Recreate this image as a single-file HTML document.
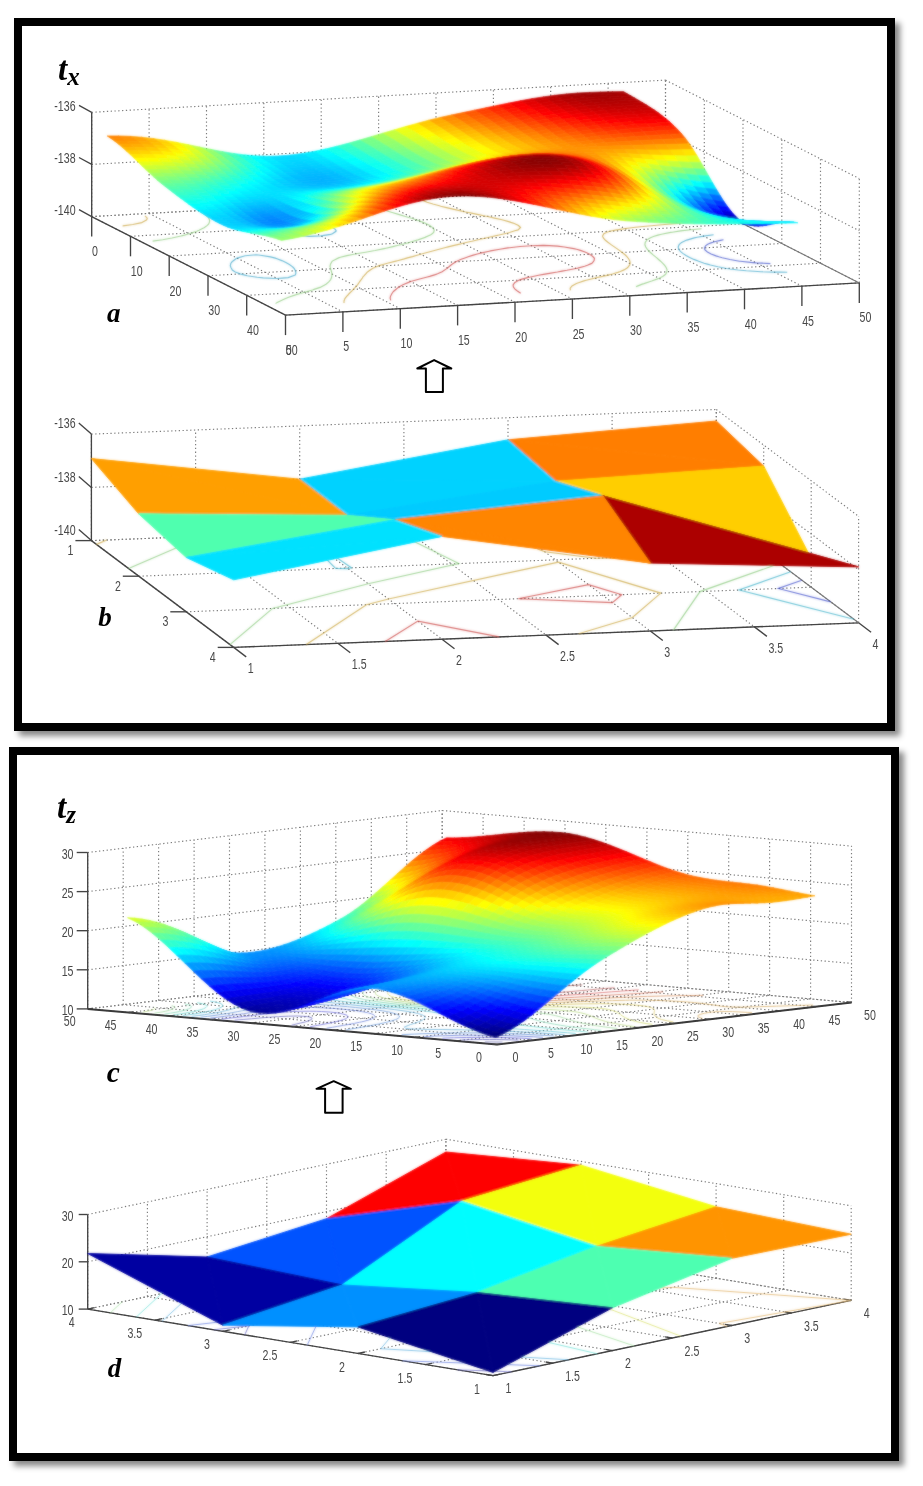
<!DOCTYPE html>
<html><head><meta charset="utf-8"><title>Figure</title>
<style>
html,body{margin:0;padding:0;background:#fff}
body{width:923px;height:1486px;position:relative;overflow:hidden;font-family:"Liberation Sans",sans-serif}
.fr{position:absolute;box-sizing:border-box;border:8.3px solid #000;background:#fff;box-shadow:5px 5px 6px rgba(0,0,0,.47)}
#f1{left:13.5px;top:18px;width:881.5px;height:713px}
#f2{left:9px;top:747.2px;width:889.7px;height:713.6px}
svg{position:absolute;left:0;top:0}
.gd{stroke:#7d7d7d;stroke-width:1.15;stroke-dasharray:1.3 2.5;fill:none}
.ax{stroke:#444;stroke-width:1.35;fill:none}
.ax3{stroke:#3a3a3a;stroke-width:2;fill:none}
.ax2{stroke:#777;stroke-width:1.1;fill:none}
.bi{font-family:"Liberation Serif",serif;font-weight:bold;font-style:italic;fill:#000}
</style></head><body>
<div class="fr" id="f1"></div><div class="fr" id="f2"></div>
<svg width="923" height="1486" viewBox="0 0 923 1486" font-family="Liberation Sans, sans-serif">
<defs><filter id="bl" x="-2%" y="-2%" width="104%" height="104%"><feGaussianBlur stdDeviation="0.8" result="b"/><feComposite in="SourceGraphic" in2="b" operator="arithmetic" k1="0" k2="0.45" k3="0.55" k4="0"/></filter></defs>
<g id="pa"><path class="gd" d="M91.7 216.6L91.7 112.3"/><path class="gd" d="M91.7 216.6L285.5 315.1"/><path class="gd" d="M149.1 213.4L149.1 109.1"/><path class="gd" d="M149.1 213.4L342.9 311.9"/><path class="gd" d="M206.5 210.2L206.5 105.8"/><path class="gd" d="M206.5 210.2L400.3 308.7"/><path class="gd" d="M263.8 206.9L263.8 102.6"/><path class="gd" d="M263.8 206.9L457.6 305.4"/><path class="gd" d="M321.2 203.7L321.2 99.4"/><path class="gd" d="M321.2 203.7L515 302.2"/><path class="gd" d="M378.6 200.5L378.6 96.2"/><path class="gd" d="M378.6 200.5L572.4 299"/><path class="gd" d="M436 197.3L436 93"/><path class="gd" d="M436 197.3L629.8 295.8"/><path class="gd" d="M493.4 194.1L493.4 89.7"/><path class="gd" d="M493.4 194.1L687.2 292.6"/><path class="gd" d="M550.7 190.8L550.7 86.5"/><path class="gd" d="M550.7 190.8L744.5 289.3"/><path class="gd" d="M608.1 187.6L608.1 83.3"/><path class="gd" d="M608.1 187.6L801.9 286.1"/><path class="gd" d="M665.5 184.4L665.5 80.1"/><path class="gd" d="M665.5 184.4L859.3 282.9"/><path class="gd" d="M91.7 216.6L665.5 184.4"/><path class="gd" d="M91.7 164.4L665.5 132.2"/><path class="gd" d="M665.5 132.2L859.3 230.7"/><path class="gd" d="M91.7 112.3L665.5 80.1"/><path class="gd" d="M665.5 80.1L859.3 178.6"/><path class="gd" d="M665.5 184.4L665.5 80.1"/><path class="gd" d="M91.7 216.6L665.5 184.4"/><path class="gd" d="M704.3 204.1L704.3 99.8"/><path class="gd" d="M130.5 236.3L704.3 204.1"/><path class="gd" d="M743 223.8L743 119.5"/><path class="gd" d="M169.2 256L743 223.8"/><path class="gd" d="M781.8 243.5L781.8 139.2"/><path class="gd" d="M208 275.7L781.8 243.5"/><path class="gd" d="M820.5 263.2L820.5 158.9"/><path class="gd" d="M246.7 295.4L820.5 263.2"/><path class="gd" d="M859.3 282.9L859.3 178.6"/><path class="gd" d="M285.5 315.1L859.3 282.9"/><path class="ax" d="M91.7 216.6L91.7 112.3"/><path class="ax" d="M91.7 216.6L285.5 315.1"/><path class="ax" d="M285.5 315.1L859.3 282.9"/><path class="ax2" d="M665.5 184.4L859.3 282.9"/><path class="ax" d="M91.7 216.6l-12.7 -6.9"/><text transform="translate(75.6 215.4) scale(0.76 1)" text-anchor="end" font-size="14" fill="#484848">-140</text><path class="ax" d="M91.7 164.4l-12.7 -6.9"/><text transform="translate(75.6 163.2) scale(0.76 1)" text-anchor="end" font-size="14" fill="#484848">-138</text><path class="ax" d="M91.7 112.3l-12.7 -6.9"/><text transform="translate(75.6 111.1) scale(0.76 1)" text-anchor="end" font-size="14" fill="#484848">-136</text><path class="ax" d="M285.5 315.1v20"/><text transform="translate(285.8 354.6) scale(0.76 1)" text-anchor="start" font-size="14" fill="#484848">0</text><path class="ax" d="M342.9 311.9v20"/><text transform="translate(343.2 351.4) scale(0.76 1)" text-anchor="start" font-size="14" fill="#484848">5</text><path class="ax" d="M400.3 308.7v20"/><text transform="translate(400.6 348.2) scale(0.76 1)" text-anchor="start" font-size="14" fill="#484848">10</text><path class="ax" d="M457.6 305.4v20"/><text transform="translate(457.9 344.9) scale(0.76 1)" text-anchor="start" font-size="14" fill="#484848">15</text><path class="ax" d="M515 302.2v20"/><text transform="translate(515.3 341.7) scale(0.76 1)" text-anchor="start" font-size="14" fill="#484848">20</text><path class="ax" d="M572.4 299v20"/><text transform="translate(572.7 338.5) scale(0.76 1)" text-anchor="start" font-size="14" fill="#484848">25</text><path class="ax" d="M629.8 295.8v20"/><text transform="translate(630.1 335.3) scale(0.76 1)" text-anchor="start" font-size="14" fill="#484848">30</text><path class="ax" d="M687.2 292.6v20"/><text transform="translate(687.5 332.1) scale(0.76 1)" text-anchor="start" font-size="14" fill="#484848">35</text><path class="ax" d="M744.5 289.3v20"/><text transform="translate(744.8 328.8) scale(0.76 1)" text-anchor="start" font-size="14" fill="#484848">40</text><path class="ax" d="M801.9 286.1v20"/><text transform="translate(802.2 325.6) scale(0.76 1)" text-anchor="start" font-size="14" fill="#484848">45</text><path class="ax" d="M859.3 282.9v20"/><text transform="translate(859.6 322.4) scale(0.76 1)" text-anchor="start" font-size="14" fill="#484848">50</text><path class="ax" d="M91.7 216.6v20"/><text transform="translate(92 256.1) scale(0.76 1)" text-anchor="start" font-size="14" fill="#484848">0</text><path class="ax" d="M130.5 236.3v20"/><text transform="translate(130.8 275.8) scale(0.76 1)" text-anchor="start" font-size="14" fill="#484848">10</text><path class="ax" d="M169.2 256v20"/><text transform="translate(169.5 295.5) scale(0.76 1)" text-anchor="start" font-size="14" fill="#484848">20</text><path class="ax" d="M208 275.7v20"/><text transform="translate(208.3 315.2) scale(0.76 1)" text-anchor="start" font-size="14" fill="#484848">30</text><path class="ax" d="M246.7 295.4v20"/><text transform="translate(247 334.9) scale(0.76 1)" text-anchor="start" font-size="14" fill="#484848">40</text><text transform="translate(285.8 354.6) scale(0.76 1)" text-anchor="start" font-size="14" fill="#484848">50</text><g filter="url(#bl)"><path fill="none" stroke="#6170d3" stroke-width="1.15" d="M723.5 239.8L720.5 240.4L714.6 241.7L710.3 243.1L707.3 244.5L705.8 245.6L704.4 247.8L704.9 249.8L705 250L707.4 252L711.1 254L716 255.9L718.8 256.8L722.2 257.8L730 259.5L739.5 261.2L740.3 261.3L752.8 262.6L756.3 262.9L770.4 263.6"/><path fill="none" stroke="#61b6d3" stroke-width="1.15" d="M305.9 221.8L302.8 222.3L295.9 223.2L293.5 225L290.5 227L290.4 227.3L290.2 229.5L290.8 231.7L293.3 233.7L300 235.5L308.9 236.3L320.9 235.9L330.6 234.4L332.4 233.7L336 231.3L336.1 230.7L335.2 229.2L332 227.2L327.1 225.3L323.2 224.2L319.6 223.5L307.6 222L305.9 221.8"/><path fill="none" stroke="#61b6d3" stroke-width="1.15" d="M245.1 255.7L243.5 256.2L237.1 258.1L236 258.8L232.7 261.2L231.9 262L230.8 263.5L230.3 265.7L231 267.8L231.3 268.1L232.3 270L235.2 272L240.1 273.9L245 275.1L247.2 275.7L257.1 277.3L263.2 277.9L275.6 278.5L277.2 278.5L282.1 278.1L288.2 277.6L294.6 275.2L295.4 274.8L295.9 273L295.4 270.8L294.3 268.7L292.8 267L292.3 266.6L289.4 264.6L285.9 262.6L281.8 260.6L277 258.7L275.3 258.1L270.5 256.9L260.4 255.3L256.1 254.8L245.1 255.7"/><path fill="none" stroke="#61b6d3" stroke-width="1.15" d="M713.6 234.7L703.6 236.1L697.2 237.3L694.3 237.9L686.8 240.1L686.2 240.3L681.6 242.6L680.1 243.6L679 244.9L678.2 247.1L678.7 249.3L678.8 249.4L680.3 251.4L682.8 253.4L686 255.4L689.7 257.4L693.9 259.4L698.7 261.3L704.1 263.2L708.2 264.4L710.4 265L717.8 266.8L726.7 268.5L730 269L738.2 270L746.3 270.8L754 271.3L760.8 271.7L774.2 272.1L779.2 272.1L787.2 272.2"/><path fill="none" stroke="#a0d393" stroke-width="1.15" d="M201.3 212.6L204.8 214.6L207.4 216.7L208.1 217.4L209.1 218.8L209.7 220.9L209.1 223.1L208.5 224.1L207.3 225.4L204.1 227.8L203.5 228.1L199 230.3L196.8 231.2L191.9 232.9L189.2 233.8L182.5 235.6L180.9 236L172 238L169.1 238.5L162.7 239.7L152.6 241.1"/><path fill="none" stroke="#a0d393" stroke-width="1.15" d="M701.6 228.7L690.9 229.7L680.5 230.9L672.2 232.2L670.7 232.4L661.5 234.2L657.9 235.1L653.4 236.5L650.5 237.7L647.1 239.8L646.8 240.1L645.2 242.4L644.9 244.6L645.1 245.3L645.6 246.8L647 248.9L648.8 251L651 253L653.4 255.1L655.9 257.1L656.3 257.4L658.3 259.2L660.6 261.2L662.8 263.3L664.7 265.4L666.1 267.5L666.9 269.3L667 269.6L666.9 271.8L665.7 274.1L665 274.8L662.7 276.4L659.1 278.3L657.5 278.9L651.7 281L650.2 281.5L644 283.6L642.2 284.1L636.7 286.4L636 286.7"/><path fill="none" stroke="#a0d393" stroke-width="1.15" d="M275.6 303.6L277.2 302.4L281.8 300.3L282.3 300L287.9 297.5L288.6 297.2L295.4 294.9L296.2 294.6L304.4 292.3L305 292.1L312.6 290L314.1 289.4L320.1 287.4L321 286.9L325.6 284.4L326.3 284L328.5 282.1L330.5 279.8L330.6 279.7L331.5 277.5L331.9 275.3L331.7 273.8L331.8 273.1L331.3 271L330.6 268.8L330.1 266.7L330 266.5L330.4 264.5L331.5 262.2L332.3 261.1L334.4 259.9L338.6 257.9L340.4 257.3L346.9 255.6L352.7 254.5L356.1 253.8L365.6 252.2L370.9 251.2L375 250.5L384.1 248.6L386 248.2L392.9 246.6L398.2 245.3L401.5 244.5L408.8 242.6L409.8 242.3L417.9 239.9L418 239.9L425.4 237.3L425.4 237.2L430.8 234.8L431.8 234L433.7 232.4L434.2 230.2L433.2 228.3L433.1 228.1L430.6 226L427 224L422.5 222.1L417.6 220.3L417.3 220.2L411.6 218.3L405.5 216.5L399.3 214.6L393.1 212.8L387 211L385.6 210.5L381.1 209.1L375.5 207.2L370.4 205.3L366 203.4"/><path fill="none" stroke="#d3b461" stroke-width="1.15" d="M145 215.8L147.1 217.9L147.2 218.9L146.4 220.1L141.9 222.5L141.7 222.6L132.8 224.5L122.9 225.8L122.6 225.8"/><path fill="none" stroke="#d3b461" stroke-width="1.15" d="M689.8 222.7L678.6 223.4L667.5 224.3L656.6 225.2L645.8 226.2L635.3 227.3L629.8 228L625 228.6L615.3 230.1L610 231.3L606.8 232.3L603.8 233.8L602.6 236.1L602.8 236.7L603.5 238.2L605.4 240.3L607.9 242.3L610.7 244.4L613.6 246.4L616.5 248.4L619.4 250.4L622.2 252.5L624.4 254.2L624.8 254.5L626.9 256.6L628.6 258.7L629.7 260.8L630.2 262.9L630.1 263.6L629.5 265.2L627.7 267.5L626.7 268.3L624 269.9L620.3 271.5L617.9 272.4L612.5 274L608 275.1L603.8 276.1L594.9 278L594.9 278.1L586.3 280.2L583.9 280.9L578.5 282.7L576.4 283.5L572 285.9L572 285.9L570.2 288.2L570.4 290.4"/><path fill="none" stroke="#d3b461" stroke-width="1.15" d="M344 303.1L344 300.9L344.5 299.8L344.9 298.6L346.6 296.4L348 295L348.8 294L351.1 291.7L352.2 290.7L353.4 289.4L355.5 287.1L356.2 286.3L357.5 284.8L359.1 282.5L359.7 281.6L360.8 280.2L362.4 278L363 276.8L364.2 275.7L366.2 273.4L367 272.3L368.8 271L372.1 268.7L372.3 268.5L377.7 266.2L379.2 265.6L386.6 263.5L387.4 263.3L395.9 261.1L397.4 260.7L404.3 258.9L407.4 257.9L412.5 256.6L417.1 255.2L420.6 254.3L427 252.5L428.9 252L437.2 249.7L437.2 249.7L445.6 247.5L448.1 246.9L454.2 245.4L459.7 244.1L462.8 243.3L471.6 241.3L471.9 241.2L480.3 239.2L484.8 238.3L489.1 237.2L497.5 235.4L498 235.3L506.6 233.2L509.5 232.5L514.8 230.8L518.1 229.9L520.5 227.5L520 227L518.5 225.5L514.3 223.5L510.9 222.4L508.7 221.6L502 219.8L494.6 218.1L486.6 216.3L485.9 216.2L478.5 214.6L470.1 212.9L464.3 211.7L461.9 211.1L454.1 209.4L446.5 207.6L440.8 206.2L439.4 205.8L432.9 204L427.1 202.2L422.1 200.2"/><path fill="none" stroke="#d36261" stroke-width="1.15" d="M667.6 211.4L655.9 211.9L644 212.3L631.8 212.6L631 212.6L618.9 212.5L605.4 212.1L602.8 212L590.8 211.2L585.6 210.8L575.2 209.7L571.9 209.3L560 207.8L558.2 207.6L549.5 206.2L539.6 204.6L539.6 204.6L530.6 202.9L522.2 201.2L518.4 200.3L514.6 199.4L507.8 197.6L501.9 195.8"/><path fill="none" stroke="#d36261" stroke-width="1.15" d="M390.7 300.4L390.2 298.3L390.3 297.1L390.6 296.1L391.8 293.8L393 292L393.4 291.5L396.1 289.2L397.6 287.9L399.4 286.8L403.5 284.4L403.5 284.4L409.8 281.9L410.6 281.5L418.7 279.2L418.7 279.2L427.3 277L429.7 276.4L435.3 274.6L437.6 273.8L442.1 271.7L442.8 271.3L446.3 268.9L447.6 268L449.2 266.5L452 264.2L452.4 263.9L455.9 261.8L458.5 260.6L461.2 259.3L465.6 257.7L468.2 256.7L473.3 255.1L477.3 254L481.7 252.9L489.2 251.2L490.5 250.9L499.8 249.2L507.8 247.9L509.6 247.7L520 246.5L531.2 245.7L543.3 245.4L549.4 245.6L557.5 246.1L564.3 247L573.7 248.6L576.6 249.3L580.4 250.4L585.6 252.3L589.7 254.3L592.6 256.3L594.4 258.3L594.4 258.4L594.1 260.6L592.4 262.9L591.7 263.4L587.4 265.3L584.6 266.3L577.8 268.1L576 268.5L566.9 270.3L562.1 271.1L557.4 272L547.9 273.6L543.5 274.4L538.5 275.3L529.5 277.2L528.4 277.4L521.2 279.4L519.2 280.1L514.9 282.5L514.7 282.7L513.1 284.8L513.4 287L515 289.1L515.5 289.5L517.4 291.1L520.7 293.2"/><g fill="currentColor" stroke="currentColor" stroke-width="0.7" stroke-linejoin="round"><path color="#a70000" d="M612 91.7l11.5 -0.1 3.8 2.2 -11.4 0.2z"/><path color="#a10000" d="M600.5 92l11.5 -0.3 3.9 2.3 -11.5 0.2z"/><path color="#9e0000" d="M589 92.4l11.5 -0.4 3.9 2.2 -11.5 0.4z"/><path color="#9e0000" d="M577.6 93l11.4 -0.6 3.9 2.2 -11.5 0.7z"/><path color="#a20000" d="M566.1 94l11.5 -1 3.8 2.3 -11.4 1z"/><path color="#ab0000" d="M554.6 95.3l11.5 -1.3 3.9 2.3 -11.5 1.2z"/><path color="#b80000" d="M543.1 96.9l11.5 -1.6 3.9 2.2 -11.5 1.6z"/><path color="#ca0000" d="M531.7 98.7l11.4 -1.8 3.9 2.2 -11.5 1.9z"/><path color="#de0000" d="M520.2 100.8l11.5 -2.1 3.8 2.3 -11.4 2.1z"/><path color="#f40000" d="M508.7 103.1l11.5 -2.3 3.9 2.3 -11.5 2.3z"/><path color="#ff0d00" d="M497.2 105.4l11.5 -2.3 3.9 2.3 -11.5 2.3z"/><path color="#ff2500" d="M485.8 107.8l11.4 -2.4 3.9 2.3 -11.5 2.4z"/><path color="#ff3e00" d="M474.3 110.2l11.5 -2.4 3.8 2.3 -11.4 2.4z"/><path color="#ff5600" d="M462.8 112.6l11.5 -2.4 3.9 2.3 -11.5 2.3z"/><path color="#ff6e00" d="M451.3 115l11.5 -2.4 3.9 2.2 -11.5 2.4z"/><path color="#ff8900" d="M439.9 117.5l11.4 -2.5 3.9 2.2 -11.5 2.6z"/><path color="#ffa700" d="M428.4 120.3l11.5 -2.8 3.8 2.3 -11.4 2.8z"/><path color="#ffc900" d="M416.9 123.4l11.5 -3.1 3.9 2.3 -11.5 3z"/><path color="#ffed00" d="M405.4 126.6l11.5 -3.2 3.9 2.2 -11.5 3.2z"/><path color="#ecff13" d="M394 129.9l11.4 -3.3 3.9 2.2 -11.5 3.3z"/><path color="#c5ff3a" d="M382.5 133.3l11.5 -3.4 3.8 2.2 -11.4 3.4z"/><path color="#9fff60" d="M371 136.7l11.5 -3.4 3.9 2.2 -11.5 3.4z"/><path color="#79ff86" d="M359.5 140.1l11.5 -3.4 3.9 2.2 -11.5 3.3z"/><path color="#55ffaa" d="M348 143.3l11.5 -3.2 3.9 2.1 -11.5 3.2z"/><path color="#34ffcb" d="M336.6 146.3l11.4 -3 3.9 2.1 -11.5 3z"/><path color="#16ffe9" d="M325.1 149.1l11.5 -2.8 3.8 2.1 -11.4 2.7z"/><path color="#00fdff" d="M313.6 151.5l11.5 -2.4 3.9 2 -11.5 2.4z"/><path color="#00eaff" d="M302.1 153.5l11.5 -2 3.9 2 -11.5 2z"/><path color="#00deff" d="M290.7 155l11.4 -1.5 3.9 2 -11.5 1.5z"/><path color="#00d9ff" d="M279.2 155.9l11.5 -0.9 3.8 2 -11.4 1z"/><path color="#00dfff" d="M267.7 156.2l11.5 -0.3 3.9 2.1 -11.5 0.3z"/><path color="#00edff" d="M256.2 155.9l11.5 0.3 3.9 2.1 -11.5 -0.4z"/><path color="#04fffb" d="M244.8 154.9l11.4 1 3.9 2 -11.5 -0.9z"/><path color="#21ffde" d="M233.3 153.4l11.5 1.5 3.8 2.1 -11.4 -1.5z"/><path color="#45ffba" d="M221.8 151.5l11.5 1.9 3.9 2.1 -11.5 -1.9z"/><path color="#6dff92" d="M210.3 149.3l11.5 2.2 3.9 2.1 -11.5 -2.2z"/><path color="#97ff68" d="M198.9 146.9l11.4 2.4 3.9 2.1 -11.5 -2.4z"/><path color="#c2ff3d" d="M187.4 144.5l11.5 2.4 3.8 2.1 -11.4 -2.4z"/><path color="#ebff14" d="M175.9 142.2l11.5 2.3 3.9 2.1 -11.5 -2.3z"/><path color="#ffed00" d="M164.4 140.2l11.5 2 3.9 2.1 -11.5 -2z"/><path color="#ffcc00" d="M153 138.5l11.4 1.7 3.9 2.1 -11.5 -1.7z"/><path color="#ffb200" d="M141.5 137.2l11.5 1.3 3.8 2.1 -11.4 -1.2z"/><path color="#ff9d00" d="M130 136.3l11.5 0.9 3.9 2.2 -11.5 -0.7z"/><path color="#ff8e00" d="M118.5 135.9l11.5 0.4 3.9 2.4 -11.5 -0.4z"/><path color="#ff8500" d="M107.1 135.9l11.4 0 3.9 2.4 -11.5 0.1z"/><path color="#ab0000" d="M615.9 94l11.4 -0.2 3.9 2.2 -11.5 0.2z"/><path color="#a50000" d="M604.4 94.2l11.5 -0.2 3.8 2.2 -11.4 0.3z"/><path color="#a20000" d="M592.9 94.6l11.5 -0.4 3.9 2.3 -11.5 0.4z"/><path color="#a20000" d="M581.4 95.3l11.5 -0.7 3.9 2.3 -11.5 0.7z"/><path color="#a60000" d="M570 96.3l11.4 -1 3.9 2.3 -11.5 1z"/><path color="#af0000" d="M558.5 97.5l11.5 -1.2 3.8 2.3 -11.4 1.3z"/><path color="#bd0000" d="M547 99.1l11.5 -1.6 3.9 2.4 -11.5 1.6z"/><path color="#ce0000" d="M535.5 101l11.5 -1.9 3.9 2.4 -11.5 1.9z"/><path color="#e20000" d="M524.1 103.1l11.4 -2.1 3.9 2.4 -11.5 2.1z"/><path color="#f90000" d="M512.6 105.4l11.5 -2.3 3.8 2.4 -11.4 2.3z"/><path color="#ff1100" d="M501.1 107.7l11.5 -2.3 3.9 2.4 -11.5 2.3z"/><path color="#ff2a00" d="M489.6 110.1l11.5 -2.4 3.9 2.4 -11.5 2.4z"/><path color="#ff4200" d="M478.2 112.5l11.4 -2.4 3.9 2.4 -11.5 2.4z"/><path color="#ff5a00" d="M466.7 114.8l11.5 -2.3 3.8 2.4 -11.4 2.4z"/><path color="#ff7200" d="M455.2 117.2l11.5 -2.4 3.9 2.5 -11.5 2.3z"/><path color="#ff8d00" d="M443.7 119.8l11.5 -2.6 3.9 2.4 -11.5 2.5z"/><path color="#ffab00" d="M432.3 122.6l11.4 -2.8 3.9 2.3 -11.5 2.8z"/><path color="#ffcc00" d="M420.8 125.6l11.5 -3 3.8 2.3 -11.4 3z"/><path color="#fff000" d="M409.3 128.8l11.5 -3.2 3.9 2.3 -11.5 3.2z"/><path color="#e9ff16" d="M397.8 132.1l11.5 -3.3 3.9 2.3 -11.5 3.3z"/><path color="#c3ff3c" d="M386.4 135.5l11.4 -3.4 3.9 2.3 -11.5 3.4z"/><path color="#9dff62" d="M374.9 138.9l11.5 -3.4 3.8 2.3 -11.4 3.3z"/><path color="#77ff88" d="M363.4 142.2l11.5 -3.3 3.9 2.2 -11.5 3.3z"/><path color="#54ffab" d="M351.9 145.4l11.5 -3.2 3.9 2.2 -11.5 3.2z"/><path color="#33ffcc" d="M340.4 148.4l11.5 -3 3.9 2.2 -11.5 3z"/><path color="#15ffea" d="M329 151.1l11.4 -2.7 3.9 2.2 -11.5 2.7z"/><path color="#00fcff" d="M317.5 153.5l11.5 -2.4 3.8 2.2 -11.4 2.4z"/><path color="#00e9ff" d="M306 155.5l11.5 -2 3.9 2.2 -11.5 2z"/><path color="#00ddff" d="M294.5 157l11.5 -1.5 3.9 2.2 -11.5 1.5z"/><path color="#00d9ff" d="M283.1 158l11.4 -1 3.9 2.2 -11.5 0.9z"/><path color="#00ddff" d="M271.6 158.3l11.5 -0.3 3.8 2.1 -11.4 0.3z"/><path color="#00ebff" d="M260.1 157.9l11.5 0.4 3.9 2.1 -11.5 -0.3z"/><path color="#03fffc" d="M248.6 157l11.5 0.9 3.9 2.2 -11.5 -0.9z"/><path color="#20ffdf" d="M237.2 155.5l11.4 1.5 3.9 2.2 -11.5 -1.5z"/><path color="#44ffbb" d="M225.7 153.6l11.5 1.9 3.8 2.2 -11.4 -1.8z"/><path color="#6cff93" d="M214.2 151.4l11.5 2.2 3.9 2.3 -11.5 -2.2z"/><path color="#96ff69" d="M202.7 149l11.5 2.4 3.9 2.3 -11.5 -2.4z"/><path color="#c1ff3e" d="M191.3 146.6l11.4 2.4 3.9 2.3 -11.5 -2.4z"/><path color="#eaff15" d="M179.8 144.3l11.5 2.3 3.8 2.3 -11.4 -2.2z"/><path color="#ffef00" d="M168.3 142.3l11.5 2 3.9 2.4 -11.5 -2z"/><path color="#ffd000" d="M156.8 140.6l11.5 1.7 3.9 2.4 -11.5 -1.6z"/><path color="#ffb600" d="M145.4 139.4l11.4 1.2 3.9 2.5 -11.5 -1.1z"/><path color="#ffa200" d="M133.9 138.7l11.5 0.7 3.8 2.6 -11.4 -0.7z"/><path color="#ff9400" d="M122.4 138.3l11.5 0.4 3.9 2.6 -11.5 -0.2z"/><path color="#ff8d00" d="M110.9 138.4l11.5 -0.1 3.9 2.8 -11.5 0.1z"/><path color="#ae0000" d="M619.7 96.2l11.5 -0.2 3.9 2.2 -11.5 0.3z"/><path color="#a90000" d="M608.3 96.5l11.4 -0.3 3.9 2.3 -11.5 0.3z"/><path color="#a60000" d="M596.8 96.9l11.5 -0.4 3.8 2.3 -11.4 0.5z"/><path color="#a70000" d="M585.3 97.6l11.5 -0.7 3.9 2.4 -11.5 0.7z"/><path color="#ac0000" d="M573.8 98.6l11.5 -1 3.9 2.4 -11.5 1z"/><path color="#b50000" d="M562.4 99.9l11.4 -1.3 3.9 2.4 -11.5 1.4z"/><path color="#c20000" d="M550.9 101.5l11.5 -1.6 3.8 2.5 -11.4 1.6z"/><path color="#d40000" d="M539.4 103.4l11.5 -1.9 3.9 2.5 -11.5 1.9z"/><path color="#e80000" d="M527.9 105.5l11.5 -2.1 3.9 2.5 -11.5 2.1z"/><path color="#ff0000" d="M516.5 107.8l11.4 -2.3 3.9 2.5 -11.5 2.3z"/><path color="#ff1700" d="M505 110.1l11.5 -2.3 3.8 2.5 -11.4 2.3z"/><path color="#ff3000" d="M493.5 112.5l11.5 -2.4 3.9 2.5 -11.5 2.4z"/><path color="#ff4800" d="M482 114.9l11.5 -2.4 3.9 2.5 -11.5 2.4z"/><path color="#ff6000" d="M470.6 117.3l11.4 -2.4 3.9 2.5 -11.5 2.4z"/><path color="#ff7800" d="M459.1 119.6l11.5 -2.3 3.8 2.5 -11.4 2.3z"/><path color="#ff9300" d="M447.6 122.1l11.5 -2.5 3.9 2.5 -11.5 2.6z"/><path color="#ffb000" d="M436.1 124.9l11.5 -2.8 3.9 2.6 -11.5 2.7z"/><path color="#ffd100" d="M424.7 127.9l11.4 -3 3.9 2.5 -11.5 3z"/><path color="#fff500" d="M413.2 131.1l11.5 -3.2 3.8 2.5 -11.4 3.2z"/><path color="#e4ff1b" d="M401.7 134.4l11.5 -3.3 3.9 2.5 -11.5 3.2z"/><path color="#bfff40" d="M390.2 137.8l11.5 -3.4 3.9 2.4 -11.5 3.3z"/><path color="#99ff66" d="M378.8 141.1l11.4 -3.3 3.9 2.3 -11.5 3.4z"/><path color="#74ff8b" d="M367.3 144.4l11.5 -3.3 3.8 2.4 -11.4 3.2z"/><path color="#50ffaf" d="M355.8 147.6l11.5 -3.2 3.9 2.3 -11.5 3.2z"/><path color="#30ffcf" d="M344.3 150.6l11.5 -3 3.9 2.3 -11.5 2.9z"/><path color="#13ffec" d="M332.8 153.3l11.5 -2.7 3.9 2.2 -11.5 2.7z"/><path color="#00f9ff" d="M321.4 155.7l11.4 -2.4 3.9 2.2 -11.5 2.4z"/><path color="#00e6ff" d="M309.9 157.7l11.5 -2 3.8 2.2 -11.4 2z"/><path color="#00daff" d="M298.4 159.2l11.5 -1.5 3.9 2.2 -11.5 1.5z"/><path color="#00d6ff" d="M286.9 160.1l11.5 -0.9 3.9 2.2 -11.5 1z"/><path color="#00dbff" d="M275.5 160.4l11.4 -0.3 3.9 2.3 -11.5 0.3z"/><path color="#00e8ff" d="M264 160.1l11.5 0.3 3.8 2.3 -11.4 -0.3z"/><path color="#00feff" d="M252.5 159.2l11.5 0.9 3.9 2.3 -11.5 -0.9z"/><path color="#1cffe3" d="M241 157.7l11.5 1.5 3.9 2.3 -11.5 -1.4z"/><path color="#40ffbf" d="M229.6 155.9l11.4 1.8 3.9 2.4 -11.5 -1.8z"/><path color="#67ff98" d="M218.1 153.7l11.5 2.2 3.8 2.4 -11.4 -2.1z"/><path color="#91ff6e" d="M206.6 151.3l11.5 2.4 3.9 2.5 -11.5 -2.3z"/><path color="#bcff43" d="M195.1 148.9l11.5 2.4 3.9 2.6 -11.5 -2.4z"/><path color="#e4ff1b" d="M183.7 146.7l11.4 2.2 3.9 2.6 -11.5 -2.2z"/><path color="#fff600" d="M172.2 144.7l11.5 2 3.8 2.6 -11.4 -1.8z"/><path color="#ffd700" d="M160.7 143.1l11.5 1.6 3.9 2.8 -11.5 -1.5z"/><path color="#ffbe00" d="M149.2 142l11.5 1.1 3.9 2.9 -11.5 -1.1z"/><path color="#ffac00" d="M137.8 141.3l11.4 0.7 3.9 2.9 -11.5 -0.6z"/><path color="#ff9f00" d="M126.3 141.1l11.5 0.2 3.8 3 -11.4 -0.2z"/><path color="#ff9800" d="M114.8 141.2l11.5 -0.1 3.9 3 -11.5 0.2z"/><path color="#b20000" d="M623.6 98.5l11.5 -0.3 3.9 2.3 -11.5 0.3z"/><path color="#ae0000" d="M612.1 98.8l11.5 -0.3 3.9 2.3 -11.5 0.3z"/><path color="#ac0000" d="M600.7 99.3l11.4 -0.5 3.9 2.3 -11.5 0.6z"/><path color="#ad0000" d="M589.2 100l11.5 -0.7 3.8 2.4 -11.4 0.8z"/><path color="#b20000" d="M577.7 101l11.5 -1 3.9 2.5 -11.5 1z"/><path color="#bc0000" d="M566.2 102.4l11.5 -1.4 3.9 2.5 -11.5 1.4z"/><path color="#ca0000" d="M554.8 104l11.4 -1.6 3.9 2.5 -11.5 1.7z"/><path color="#db0000" d="M543.3 105.9l11.5 -1.9 3.8 2.6 -11.4 1.9z"/><path color="#f00000" d="M531.8 108l11.5 -2.1 3.9 2.6 -11.5 2.1z"/><path color="#ff0700" d="M520.3 110.3l11.5 -2.3 3.9 2.6 -11.5 2.3z"/><path color="#ff1f00" d="M508.9 112.6l11.4 -2.3 3.9 2.6 -11.5 2.3z"/><path color="#ff3700" d="M497.4 115l11.5 -2.4 3.8 2.6 -11.4 2.4z"/><path color="#ff5000" d="M485.9 117.4l11.5 -2.4 3.9 2.6 -11.5 2.4z"/><path color="#ff6800" d="M474.4 119.8l11.5 -2.4 3.9 2.6 -11.5 2.4z"/><path color="#ff8000" d="M463 122.1l11.4 -2.3 3.9 2.6 -11.5 2.4z"/><path color="#ff9a00" d="M451.5 124.7l11.5 -2.6 3.8 2.7 -11.4 2.5z"/><path color="#ffb800" d="M440 127.4l11.5 -2.7 3.9 2.6 -11.5 2.7z"/><path color="#ffd800" d="M428.5 130.4l11.5 -3 3.9 2.6 -11.5 3z"/><path color="#fffb00" d="M417.1 133.6l11.4 -3.2 3.9 2.6 -11.5 3.1z"/><path color="#deff21" d="M405.6 136.8l11.5 -3.2 3.8 2.5 -11.4 3.2z"/><path color="#b9ff46" d="M394.1 140.1l11.5 -3.3 3.9 2.5 -11.5 3.3z"/><path color="#93ff6c" d="M382.6 143.5l11.5 -3.4 3.9 2.5 -11.5 3.3z"/><path color="#6fff90" d="M371.2 146.7l11.4 -3.2 3.9 2.4 -11.5 3.2z"/><path color="#4cffb3" d="M359.7 149.9l11.5 -3.2 3.8 2.4 -11.4 3.1z"/><path color="#2bffd4" d="M348.2 152.8l11.5 -2.9 3.9 2.3 -11.5 3z"/><path color="#0ffff0" d="M336.7 155.5l11.5 -2.7 3.9 2.4 -11.5 2.7z"/><path color="#00f5ff" d="M325.2 157.9l11.5 -2.4 3.9 2.4 -11.5 2.3z"/><path color="#00e3ff" d="M313.8 159.9l11.4 -2 3.9 2.3 -11.5 2z"/><path color="#00d6ff" d="M302.3 161.4l11.5 -1.5 3.8 2.3 -11.4 1.5z"/><path color="#00d2ff" d="M290.8 162.4l11.5 -1 3.9 2.3 -11.5 1z"/><path color="#00d6ff" d="M279.3 162.7l11.5 -0.3 3.9 2.3 -11.5 0.4z"/><path color="#00e4ff" d="M267.9 162.4l11.4 0.3 3.9 2.4 -11.5 -0.3z"/><path color="#00f9ff" d="M256.4 161.5l11.5 0.9 3.8 2.4 -11.4 -0.8z"/><path color="#16ffe9" d="M244.9 160.1l11.5 1.4 3.9 2.5 -11.5 -1.3z"/><path color="#39ffc6" d="M233.4 158.3l11.5 1.8 3.9 2.6 -11.5 -1.8z"/><path color="#60ff9f" d="M222 156.2l11.4 2.1 3.9 2.6 -11.5 -2z"/><path color="#89ff76" d="M210.5 153.9l11.5 2.3 3.8 2.7 -11.4 -2.3z"/><path color="#b3ff4c" d="M199 151.5l11.5 2.4 3.9 2.7 -11.5 -2.2z"/><path color="#daff25" d="M187.5 149.3l11.5 2.2 3.9 2.9 -11.5 -2.1z"/><path color="#fdff02" d="M176.1 147.5l11.4 1.8 3.9 3 -11.5 -1.8z"/><path color="#ffe300" d="M164.6 146l11.5 1.5 3.8 3 -11.4 -1.4z"/><path color="#ffcb00" d="M153.1 144.9l11.5 1.1 3.9 3.1 -11.5 -1z"/><path color="#ffb900" d="M141.6 144.3l11.5 0.6 3.9 3.2 -11.5 -0.6z"/><path color="#ffad00" d="M130.2 144.1l11.4 0.2 3.9 3.2 -11.5 -0.2z"/><path color="#ffa700" d="M118.7 144.3l11.5 -0.2 3.8 3.2 -11.4 0.3z"/><path color="#b70000" d="M627.5 100.8l11.5 -0.3 3.9 2.3 -11.5 0.3z"/><path color="#b30000" d="M616 101.1l11.5 -0.3 3.9 2.3 -11.5 0.4z"/><path color="#b20000" d="M604.5 101.7l11.5 -0.6 3.9 2.4 -11.5 0.7z"/><path color="#b40000" d="M593.1 102.5l11.4 -0.8 3.9 2.5 -11.5 0.8z"/><path color="#b90000" d="M581.6 103.5l11.5 -1 3.8 2.5 -11.4 1.1z"/><path color="#c40000" d="M570.1 104.9l11.5 -1.4 3.9 2.6 -11.5 1.4z"/><path color="#d20000" d="M558.6 106.6l11.5 -1.7 3.9 2.6 -11.5 1.7z"/><path color="#e40000" d="M547.2 108.5l11.4 -1.9 3.9 2.6 -11.5 2z"/><path color="#f90000" d="M535.7 110.6l11.5 -2.1 3.8 2.7 -11.4 2.1z"/><path color="#ff1000" d="M524.2 112.9l11.5 -2.3 3.9 2.7 -11.5 2.3z"/><path color="#ff2800" d="M512.7 115.2l11.5 -2.3 3.9 2.7 -11.5 2.3z"/><path color="#ff4000" d="M501.3 117.6l11.4 -2.4 3.9 2.7 -11.5 2.4z"/><path color="#ff5900" d="M489.8 120l11.5 -2.4 3.8 2.7 -11.4 2.4z"/><path color="#ff7100" d="M478.3 122.4l11.5 -2.4 3.9 2.7 -11.5 2.4z"/><path color="#ff8900" d="M466.8 124.8l11.5 -2.4 3.9 2.7 -11.5 2.3z"/><path color="#ffa300" d="M455.4 127.3l11.4 -2.5 3.9 2.6 -11.5 2.5z"/><path color="#ffc000" d="M443.9 130l11.5 -2.7 3.8 2.6 -11.4 2.8z"/><path color="#ffe100" d="M432.4 133l11.5 -3 3.9 2.7 -11.5 2.9z"/><path color="#fbff04" d="M420.9 136.1l11.5 -3.1 3.9 2.6 -11.5 3.1z"/><path color="#d7ff28" d="M409.5 139.3l11.4 -3.2 3.9 2.6 -11.5 3.2z"/><path color="#b2ff4d" d="M398 142.6l11.5 -3.3 3.8 2.6 -11.4 3.2z"/><path color="#8dff72" d="M386.5 145.9l11.5 -3.3 3.9 2.5 -11.5 3.3z"/><path color="#69ff96" d="M375 149.1l11.5 -3.2 3.9 2.5 -11.5 3.2z"/><path color="#46ffb9" d="M363.6 152.2l11.4 -3.1 3.9 2.5 -11.5 3.1z"/><path color="#26ffd9" d="M352.1 155.2l11.5 -3 3.8 2.5 -11.4 2.9z"/><path color="#0afff5" d="M340.6 157.9l11.5 -2.7 3.9 2.4 -11.5 2.6z"/><path color="#00f1ff" d="M329.1 160.2l11.5 -2.3 3.9 2.3 -11.5 2.4z"/><path color="#00deff" d="M317.6 162.2l11.5 -2 3.9 2.4 -11.5 1.9z"/><path color="#00d2ff" d="M306.2 163.7l11.4 -1.5 3.9 2.3 -11.5 1.6z"/><path color="#00cdff" d="M294.7 164.7l11.5 -1 3.8 2.4 -11.4 1z"/><path color="#00d1ff" d="M283.2 165.1l11.5 -0.4 3.9 2.4 -11.5 0.4z"/><path color="#00deff" d="M271.7 164.8l11.5 0.3 3.9 2.4 -11.5 -0.2z"/><path color="#00f2ff" d="M260.3 164l11.4 0.8 3.9 2.5 -11.5 -0.8z"/><path color="#0ffff0" d="M248.8 162.7l11.5 1.3 3.8 2.5 -11.4 -1.2z"/><path color="#30ffcf" d="M237.3 160.9l11.5 1.8 3.9 2.6 -11.5 -1.6z"/><path color="#56ffa9" d="M225.8 158.9l11.5 2 3.9 2.8 -11.5 -2z"/><path color="#7eff81" d="M214.4 156.6l11.4 2.3 3.9 2.8 -11.5 -2.1z"/><path color="#a6ff59" d="M202.9 154.4l11.5 2.2 3.8 3 -11.4 -2.1z"/><path color="#ccff33" d="M191.4 152.3l11.5 2.1 3.9 3.1 -11.5 -2z"/><path color="#eeff11" d="M179.9 150.5l11.5 1.8 3.9 3.2 -11.5 -1.7z"/><path color="#fff300" d="M168.5 149.1l11.4 1.4 3.9 3.3 -11.5 -1.4z"/><path color="#ffdc00" d="M157 148.1l11.5 1 3.8 3.3 -11.4 -0.9z"/><path color="#ffca00" d="M145.5 147.5l11.5 0.6 3.9 3.4 -11.5 -0.6z"/><path color="#ffbf00" d="M134 147.3l11.5 0.2 3.9 3.4 -11.5 -0.1z"/><path color="#ffb900" d="M122.6 147.6l11.4 -0.3 3.9 3.5 -11.5 0.2z"/><path color="#bc0000" d="M631.4 103.1l11.5 -0.3 3.8 2.3 -11.4 0.4z"/><path color="#b90000" d="M619.9 103.5l11.5 -0.4 3.9 2.4 -11.5 0.5z"/><path color="#b90000" d="M608.4 104.2l11.5 -0.7 3.9 2.5 -11.5 0.7z"/><path color="#bb0000" d="M596.9 105l11.5 -0.8 3.9 2.5 -11.5 0.9z"/><path color="#c20000" d="M585.5 106.1l11.4 -1.1 3.9 2.6 -11.5 1.2z"/><path color="#cd0000" d="M574 107.5l11.5 -1.4 3.8 2.7 -11.4 1.4z"/><path color="#dc0000" d="M562.5 109.2l11.5 -1.7 3.9 2.7 -11.5 1.8z"/><path color="#ee0000" d="M551 111.2l11.5 -2 3.9 2.8 -11.5 1.9z"/><path color="#ff0400" d="M539.6 113.3l11.4 -2.1 3.9 2.7 -11.5 2.2z"/><path color="#ff1a00" d="M528.1 115.6l11.5 -2.3 3.8 2.8 -11.4 2.2z"/><path color="#ff3200" d="M516.6 117.9l11.5 -2.3 3.9 2.7 -11.5 2.4z"/><path color="#ff4a00" d="M505.1 120.3l11.5 -2.4 3.9 2.8 -11.5 2.4z"/><path color="#ff6300" d="M493.7 122.7l11.4 -2.4 3.9 2.8 -11.5 2.3z"/><path color="#ff7b00" d="M482.2 125.1l11.5 -2.4 3.8 2.7 -11.4 2.4z"/><path color="#ff9300" d="M470.7 127.4l11.5 -2.3 3.9 2.7 -11.5 2.3z"/><path color="#ffad00" d="M459.2 129.9l11.5 -2.5 3.9 2.7 -11.5 2.5z"/><path color="#ffca00" d="M447.8 132.7l11.4 -2.8 3.9 2.7 -11.5 2.7z"/><path color="#ffea00" d="M436.3 135.6l11.5 -2.9 3.8 2.6 -11.4 2.9z"/><path color="#f2ff0d" d="M424.8 138.7l11.5 -3.1 3.9 2.6 -11.5 3.1z"/><path color="#ceff31" d="M413.3 141.9l11.5 -3.2 3.9 2.6 -11.5 3.1z"/><path color="#aaff55" d="M401.9 145.1l11.4 -3.2 3.9 2.5 -11.5 3.3z"/><path color="#86ff79" d="M390.4 148.4l11.5 -3.3 3.8 2.6 -11.4 3.2z"/><path color="#62ff9d" d="M378.9 151.6l11.5 -3.2 3.9 2.5 -11.5 3.1z"/><path color="#40ffbf" d="M367.4 154.7l11.5 -3.1 3.9 2.4 -11.5 3.1z"/><path color="#21ffde" d="M356 157.6l11.4 -2.9 3.9 2.4 -11.5 2.8z"/><path color="#04fffb" d="M344.5 160.2l11.5 -2.6 3.8 2.3 -11.4 2.7z"/><path color="#00ecff" d="M333 162.6l11.5 -2.4 3.9 2.4 -11.5 2.3z"/><path color="#00d9ff" d="M321.5 164.5l11.5 -1.9 3.9 2.3 -11.5 2z"/><path color="#00cdff" d="M310 166.1l11.5 -1.6 3.9 2.4 -11.5 1.5z"/><path color="#00c8ff" d="M298.6 167.1l11.4 -1 3.9 2.3 -11.5 1z"/><path color="#00cbff" d="M287.1 167.5l11.5 -0.4 3.8 2.3 -11.4 0.5z"/><path color="#00d7ff" d="M275.6 167.3l11.5 0.2 3.9 2.4 -11.5 -0.2z"/><path color="#00eaff" d="M264.1 166.5l11.5 0.8 3.9 2.4 -11.5 -0.6z"/><path color="#05fffa" d="M252.7 165.3l11.4 1.2 3.9 2.6 -11.5 -1.1z"/><path color="#25ffda" d="M241.2 163.7l11.5 1.6 3.8 2.7 -11.4 -1.5z"/><path color="#49ffb6" d="M229.7 161.7l11.5 2 3.9 2.8 -11.5 -1.8z"/><path color="#70ff8f" d="M218.2 159.6l11.5 2.1 3.9 3 -11.5 -2z"/><path color="#96ff69" d="M206.8 157.5l11.4 2.1 3.9 3.1 -11.5 -1.9z"/><path color="#bbff44" d="M195.3 155.5l11.5 2 3.8 3.3 -11.4 -1.9z"/><path color="#dcff23" d="M183.8 153.8l11.5 1.7 3.9 3.4 -11.5 -1.6z"/><path color="#f8ff07" d="M172.3 152.4l11.5 1.4 3.9 3.5 -11.5 -1.3z"/><path color="#fff000" d="M160.9 151.5l11.4 0.9 3.9 3.6 -11.5 -0.9z"/><path color="#ffdf00" d="M149.4 150.9l11.5 0.6 3.8 3.6 -11.4 -0.6z"/><path color="#ffd400" d="M137.9 150.8l11.5 0.1 3.9 3.6 -11.5 -0.1z"/><path color="#ffce00" d="M126.4 151l11.5 -0.2 3.9 3.6 -11.5 0.2z"/><path color="#c20000" d="M635.3 105.5l11.4 -0.4 3.9 2.5 -11.5 0.4z"/><path color="#c00000" d="M623.8 106l11.5 -0.5 3.8 2.5 -11.4 0.6z"/><path color="#c10000" d="M612.3 106.7l11.5 -0.7 3.9 2.6 -11.5 0.8z"/><path color="#c50000" d="M600.8 107.6l11.5 -0.9 3.9 2.7 -11.5 0.9z"/><path color="#cc0000" d="M589.3 108.8l11.5 -1.2 3.9 2.7 -11.5 1.3z"/><path color="#d70000" d="M577.9 110.2l11.4 -1.4 3.9 2.8 -11.5 1.4z"/><path color="#e60000" d="M566.4 112l11.5 -1.8 3.8 2.8 -11.4 1.8z"/><path color="#f90000" d="M554.9 113.9l11.5 -1.9 3.9 2.8 -11.5 1.9z"/><path color="#ff0f00" d="M543.4 116.1l11.5 -2.2 3.9 2.8 -11.5 2.2z"/><path color="#ff2500" d="M532 118.3l11.4 -2.2 3.9 2.8 -11.5 2.2z"/><path color="#ff3d00" d="M520.5 120.7l11.5 -2.4 3.8 2.8 -11.4 2.4z"/><path color="#ff5500" d="M509 123.1l11.5 -2.4 3.9 2.8 -11.5 2.3z"/><path color="#ff6d00" d="M497.5 125.4l11.5 -2.3 3.9 2.7 -11.5 2.4z"/><path color="#ff8500" d="M486.1 127.8l11.4 -2.4 3.9 2.8 -11.5 2.3z"/><path color="#ff9d00" d="M474.6 130.1l11.5 -2.3 3.8 2.7 -11.4 2.3z"/><path color="#ffb700" d="M463.1 132.6l11.5 -2.5 3.9 2.7 -11.5 2.5z"/><path color="#ffd300" d="M451.6 135.3l11.5 -2.7 3.9 2.7 -11.5 2.7z"/><path color="#fff300" d="M440.2 138.2l11.4 -2.9 3.9 2.7 -11.5 2.9z"/><path color="#e9ff16" d="M428.7 141.3l11.5 -3.1 3.8 2.7 -11.4 3z"/><path color="#c6ff39" d="M417.2 144.4l11.5 -3.1 3.9 2.6 -11.5 3.1z"/><path color="#a2ff5d" d="M405.7 147.7l11.5 -3.3 3.9 2.6 -11.5 3.2z"/><path color="#7eff81" d="M394.3 150.9l11.4 -3.2 3.9 2.5 -11.5 3.1z"/><path color="#5bffa4" d="M382.8 154l11.5 -3.1 3.8 2.4 -11.4 3.1z"/><path color="#3affc5" d="M371.3 157.1l11.5 -3.1 3.9 2.4 -11.5 3z"/><path color="#1bffe4" d="M359.8 159.9l11.5 -2.8 3.9 2.3 -11.5 2.9z"/><path color="#00feff" d="M348.4 162.6l11.4 -2.7 3.9 2.4 -11.5 2.6z"/><path color="#00e7ff" d="M336.9 164.9l11.5 -2.3 3.8 2.3 -11.4 2.3z"/><path color="#00d4ff" d="M325.4 166.9l11.5 -2 3.9 2.3 -11.5 2z"/><path color="#00c8ff" d="M313.9 168.4l11.5 -1.5 3.9 2.3 -11.5 1.5z"/><path color="#00c2ff" d="M302.4 169.4l11.5 -1 3.9 2.3 -11.5 1.1z"/><path color="#00c5ff" d="M291 169.9l11.4 -0.5 3.9 2.4 -11.5 0.5z"/><path color="#00d0ff" d="M279.5 169.7l11.5 0.2 3.8 2.4 -11.4 -0.1z"/><path color="#00e2ff" d="M268 169.1l11.5 0.6 3.9 2.5 -11.5 -0.5z"/><path color="#00faff" d="M256.5 168l11.5 1.1 3.9 2.6 -11.5 -1z"/><path color="#19ffe6" d="M245.1 166.5l11.4 1.5 3.9 2.7 -11.5 -1.4z"/><path color="#3bffc4" d="M233.6 164.7l11.5 1.8 3.8 2.8 -11.4 -1.6z"/><path color="#60ff9f" d="M222.1 162.7l11.5 2 3.9 3 -11.5 -1.7z"/><path color="#84ff7b" d="M210.6 160.8l11.5 1.9 3.9 3.3 -11.5 -1.8z"/><path color="#a7ff58" d="M199.2 158.9l11.4 1.9 3.9 3.4 -11.5 -1.8z"/><path color="#c7ff38" d="M187.7 157.3l11.5 1.6 3.8 3.5 -11.4 -1.5z"/><path color="#e2ff1d" d="M176.2 156l11.5 1.3 3.9 3.6 -11.5 -1.2z"/><path color="#f7ff08" d="M164.7 155.1l11.5 0.9 3.9 3.7 -11.5 -0.9z"/><path color="#fff600" d="M153.3 154.5l11.4 0.6 3.9 3.7 -11.5 -0.5z"/><path color="#ffeb00" d="M141.8 154.4l11.5 0.1 3.8 3.8 -11.4 -0.2z"/><path color="#ffe500" d="M130.3 154.6l11.5 -0.2 3.9 3.7 -11.5 0.2z"/><path color="#ca0000" d="M639.1 108l11.5 -0.4 3.9 2.5 -11.5 0.6z"/><path color="#c90000" d="M627.7 108.6l11.4 -0.6 3.9 2.7 -11.5 0.6z"/><path color="#cb0000" d="M616.2 109.4l11.5 -0.8 3.8 2.7 -11.4 0.9z"/><path color="#cf0000" d="M604.7 110.3l11.5 -0.9 3.9 2.8 -11.5 1z"/><path color="#d70000" d="M593.2 111.6l11.5 -1.3 3.9 2.9 -11.5 1.2z"/><path color="#e30000" d="M581.7 113l11.5 -1.4 3.9 2.8 -11.5 1.5z"/><path color="#f20000" d="M570.3 114.8l11.4 -1.8 3.9 2.9 -11.5 1.8z"/><path color="#ff0600" d="M558.8 116.7l11.5 -1.9 3.8 2.9 -11.4 1.9z"/><path color="#ff1a00" d="M547.3 118.9l11.5 -2.2 3.9 2.9 -11.5 2.1z"/><path color="#ff3100" d="M535.8 121.1l11.5 -2.2 3.9 2.8 -11.5 2.3z"/><path color="#ff4800" d="M524.4 123.5l11.4 -2.4 3.9 2.9 -11.5 2.3z"/><path color="#ff6000" d="M512.9 125.8l11.5 -2.3 3.8 2.8 -11.4 2.3z"/><path color="#ff7800" d="M501.4 128.2l11.5 -2.4 3.9 2.8 -11.5 2.3z"/><path color="#ff9000" d="M489.9 130.5l11.5 -2.3 3.9 2.7 -11.5 2.3z"/><path color="#ffa700" d="M478.5 132.8l11.4 -2.3 3.9 2.7 -11.5 2.3z"/><path color="#ffc100" d="M467 135.3l11.5 -2.5 3.8 2.7 -11.4 2.5z"/><path color="#ffdd00" d="M455.5 138l11.5 -2.7 3.9 2.7 -11.5 2.6z"/><path color="#fffc00" d="M444 140.9l11.5 -2.9 3.9 2.6 -11.5 2.8z"/><path color="#e1ff1e" d="M432.6 143.9l11.4 -3 3.9 2.5 -11.5 3z"/><path color="#beff41" d="M421.1 147l11.5 -3.1 3.8 2.5 -11.4 3.1z"/><path color="#9bff64" d="M409.6 150.2l11.5 -3.2 3.9 2.5 -11.5 3.1z"/><path color="#77ff88" d="M398.1 153.3l11.5 -3.1 3.9 2.4 -11.5 3.1z"/><path color="#55ffaa" d="M386.7 156.4l11.4 -3.1 3.9 2.4 -11.5 3.1z"/><path color="#34ffcb" d="M375.2 159.4l11.5 -3 3.8 2.4 -11.4 3z"/><path color="#16ffe9" d="M363.7 162.3l11.5 -2.9 3.9 2.4 -11.5 2.8z"/><path color="#00f9ff" d="M352.2 164.9l11.5 -2.6 3.9 2.3 -11.5 2.6z"/><path color="#00e2ff" d="M340.8 167.2l11.4 -2.3 3.9 2.3 -11.5 2.2z"/><path color="#00cfff" d="M329.3 169.2l11.5 -2 3.8 2.2 -11.4 2z"/><path color="#00c3ff" d="M317.8 170.7l11.5 -1.5 3.9 2.2 -11.5 1.6z"/><path color="#00bdff" d="M306.3 171.8l11.5 -1.1 3.9 2.3 -11.5 1.1z"/><path color="#00bfff" d="M294.8 172.3l11.5 -0.5 3.9 2.3 -11.5 0.5z"/><path color="#00c9ff" d="M283.4 172.2l11.4 0.1 3.9 2.3 -11.5 0.1z"/><path color="#00d9ff" d="M271.9 171.7l11.5 0.5 3.8 2.5 -11.4 -0.5z"/><path color="#00f0ff" d="M260.4 170.7l11.5 1 3.9 2.5 -11.5 -0.8z"/><path color="#0dfff2" d="M248.9 169.3l11.5 1.4 3.9 2.7 -11.5 -1.2z"/><path color="#2cffd3" d="M237.5 167.7l11.4 1.6 3.9 2.9 -11.5 -1.4z"/><path color="#4effb1" d="M226 166l11.5 1.7 3.8 3.1 -11.4 -1.6z"/><path color="#70ff8f" d="M214.5 164.2l11.5 1.8 3.9 3.2 -11.5 -1.6z"/><path color="#91ff6e" d="M203 162.4l11.5 1.8 3.9 3.4 -11.5 -1.6z"/><path color="#afff50" d="M191.6 160.9l11.4 1.5 3.9 3.6 -11.5 -1.4z"/><path color="#c9ff36" d="M180.1 159.7l11.5 1.2 3.8 3.7 -11.4 -1.1z"/><path color="#dfff20" d="M168.6 158.8l11.5 0.9 3.9 3.8 -11.5 -0.9z"/><path color="#efff10" d="M157.1 158.3l11.5 0.5 3.9 3.8 -11.5 -0.5z"/><path color="#faff05" d="M145.7 158.1l11.4 0.2 3.9 3.8 -11.5 -0.2z"/><path color="#fffd00" d="M134.2 158.3l11.5 -0.2 3.8 3.8 -11.4 0.2z"/><path color="#d30000" d="M643 110.7l11.5 -0.6 3.9 2.7 -11.5 0.7z"/><path color="#d30000" d="M631.5 111.3l11.5 -0.6 3.9 2.8 -11.5 0.7z"/><path color="#d60000" d="M620.1 112.2l11.4 -0.9 3.9 2.9 -11.5 0.8z"/><path color="#db0000" d="M608.6 113.2l11.5 -1 3.8 2.8 -11.4 1.1z"/><path color="#e40000" d="M597.1 114.4l11.5 -1.2 3.9 2.9 -11.5 1.3z"/><path color="#f00000" d="M585.6 115.9l11.5 -1.5 3.9 3 -11.5 1.5z"/><path color="#ff0000" d="M574.1 117.7l11.5 -1.8 3.9 3 -11.5 1.7z"/><path color="#ff1200" d="M562.7 119.6l11.4 -1.9 3.9 2.9 -11.5 1.9z"/><path color="#ff2700" d="M551.2 121.7l11.5 -2.1 3.8 2.9 -11.4 2.1z"/><path color="#ff3d00" d="M539.7 124l11.5 -2.3 3.9 2.9 -11.5 2.2z"/><path color="#ff5400" d="M528.2 126.3l11.5 -2.3 3.9 2.8 -11.5 2.3z"/><path color="#ff6b00" d="M516.8 128.6l11.4 -2.3 3.9 2.8 -11.5 2.2z"/><path color="#ff8300" d="M505.3 130.9l11.5 -2.3 3.8 2.7 -11.4 2.3z"/><path color="#ff9a00" d="M493.8 133.2l11.5 -2.3 3.9 2.7 -11.5 2.3z"/><path color="#ffb100" d="M482.3 135.5l11.5 -2.3 3.9 2.7 -11.5 2.2z"/><path color="#ffca00" d="M470.9 138l11.4 -2.5 3.9 2.6 -11.5 2.4z"/><path color="#ffe600" d="M459.4 140.6l11.5 -2.6 3.8 2.5 -11.4 2.6z"/><path color="#f9ff06" d="M447.9 143.4l11.5 -2.8 3.9 2.5 -11.5 2.8z"/><path color="#d9ff26" d="M436.4 146.4l11.5 -3 3.9 2.5 -11.5 3z"/><path color="#b7ff48" d="M425 149.5l11.4 -3.1 3.9 2.5 -11.5 3z"/><path color="#94ff6b" d="M413.5 152.6l11.5 -3.1 3.8 2.4 -11.4 3.1z"/><path color="#71ff8e" d="M402 155.7l11.5 -3.1 3.9 2.4 -11.5 3.1z"/><path color="#4fffb0" d="M390.5 158.8l11.5 -3.1 3.9 2.4 -11.5 3z"/><path color="#2fffd0" d="M379.1 161.8l11.4 -3 3.9 2.3 -11.5 2.9z"/><path color="#11ffee" d="M367.6 164.6l11.5 -2.8 3.8 2.2 -11.4 2.8z"/><path color="#00f5ff" d="M356.1 167.2l11.5 -2.6 3.9 2.2 -11.5 2.5z"/><path color="#00deff" d="M344.6 169.4l11.5 -2.2 3.9 2.1 -11.5 2.3z"/><path color="#00ccff" d="M333.2 171.4l11.4 -2 3.9 2.2 -11.5 2z"/><path color="#00bfff" d="M321.7 173l11.5 -1.6 3.8 2.2 -11.4 1.5z"/><path color="#00b9ff" d="M310.2 174.1l11.5 -1.1 3.9 2.1 -11.5 1.2z"/><path color="#00baff" d="M298.7 174.6l11.5 -0.5 3.9 2.2 -11.5 0.6z"/><path color="#00c2ff" d="M287.2 174.7l11.5 -0.1 3.9 2.3 -11.5 0.1z"/><path color="#00d1ff" d="M275.8 174.2l11.4 0.5 3.9 2.3 -11.5 -0.3z"/><path color="#00e6ff" d="M264.3 173.4l11.5 0.8 3.8 2.5 -11.4 -0.7z"/><path color="#00ffff" d="M252.8 172.2l11.5 1.2 3.9 2.6 -11.5 -1z"/><path color="#1dffe2" d="M241.3 170.8l11.5 1.4 3.9 2.8 -11.5 -1.2z"/><path color="#3cffc3" d="M229.9 169.2l11.4 1.6 3.9 3 -11.5 -1.4z"/><path color="#5cffa3" d="M218.4 167.6l11.5 1.6 3.8 3.2 -11.4 -1.4z"/><path color="#7bff84" d="M206.9 166l11.5 1.6 3.9 3.4 -11.5 -1.4z"/><path color="#97ff68" d="M195.4 164.6l11.5 1.4 3.9 3.6 -11.5 -1.3z"/><path color="#b0ff4f" d="M184 163.5l11.4 1.1 3.9 3.7 -11.5 -1z"/><path color="#c5ff3a" d="M172.5 162.6l11.5 0.9 3.8 3.8 -11.4 -0.8z"/><path color="#d5ff2a" d="M161 162.1l11.5 0.5 3.9 3.9 -11.5 -0.6z"/><path color="#e1ff1e" d="M149.5 161.9l11.5 0.2 3.9 3.8 -11.5 -0.2z"/><path color="#e8ff17" d="M138.1 162.1l11.4 -0.2 3.9 3.8 -11.5 0.1z"/><path color="#de0000" d="M646.9 113.5l11.5 -0.7 3.8 2.9 -11.4 0.7z"/><path color="#e00000" d="M635.4 114.2l11.5 -0.7 3.9 2.9 -11.5 0.8z"/><path color="#e30000" d="M623.9 115l11.5 -0.8 3.9 3 -11.5 0.9z"/><path color="#e80000" d="M612.5 116.1l11.4 -1.1 3.9 3.1 -11.5 1.1z"/><path color="#f10000" d="M601 117.4l11.5 -1.3 3.8 3.1 -11.4 1.2z"/><path color="#fd0000" d="M589.5 118.9l11.5 -1.5 3.9 3 -11.5 1.5z"/><path color="#ff0e00" d="M578 120.6l11.5 -1.7 3.9 3 -11.5 1.7z"/><path color="#ff1f00" d="M566.5 122.5l11.5 -1.9 3.9 3 -11.5 1.9z"/><path color="#ff3300" d="M555.1 124.6l11.4 -2.1 3.9 3 -11.5 2z"/><path color="#ff4900" d="M543.6 126.8l11.5 -2.2 3.8 2.9 -11.4 2.1z"/><path color="#ff5f00" d="M532.1 129.1l11.5 -2.3 3.9 2.8 -11.5 2.2z"/><path color="#ff7600" d="M520.6 131.3l11.5 -2.2 3.9 2.7 -11.5 2.2z"/><path color="#ff8d00" d="M509.2 133.6l11.4 -2.3 3.9 2.7 -11.5 2.2z"/><path color="#ffa400" d="M497.7 135.9l11.5 -2.3 3.8 2.6 -11.4 2.3z"/><path color="#ffba00" d="M486.2 138.1l11.5 -2.2 3.9 2.6 -11.5 2.2z"/><path color="#ffd300" d="M474.7 140.5l11.5 -2.4 3.9 2.6 -11.5 2.3z"/><path color="#ffee00" d="M463.3 143.1l11.4 -2.6 3.9 2.5 -11.5 2.6z"/><path color="#f2ff0d" d="M451.8 145.9l11.5 -2.8 3.8 2.5 -11.4 2.7z"/><path color="#d2ff2d" d="M440.3 148.9l11.5 -3 3.9 2.4 -11.5 2.9z"/><path color="#b0ff4f" d="M428.8 151.9l11.5 -3 3.9 2.3 -11.5 3z"/><path color="#8eff71" d="M417.4 155l11.4 -3.1 3.9 2.3 -11.5 3z"/><path color="#6cff93" d="M405.9 158.1l11.5 -3.1 3.8 2.2 -11.4 3.1z"/><path color="#4bffb4" d="M394.4 161.1l11.5 -3 3.9 2.2 -11.5 2.9z"/><path color="#2bffd4" d="M382.9 164l11.5 -2.9 3.9 2.1 -11.5 2.9z"/><path color="#0efff1" d="M371.5 166.8l11.4 -2.8 3.9 2.1 -11.5 2.8z"/><path color="#00f2ff" d="M360 169.3l11.5 -2.5 3.8 2.1 -11.4 2.5z"/><path color="#00dbff" d="M348.5 171.6l11.5 -2.3 3.9 2.1 -11.5 2.3z"/><path color="#00c9ff" d="M337 173.6l11.5 -2 3.9 2.1 -11.5 1.9z"/><path color="#00bcff" d="M325.6 175.1l11.4 -1.5 3.9 2 -11.5 1.6z"/><path color="#00b5ff" d="M314.1 176.3l11.5 -1.2 3.8 2.1 -11.4 1.2z"/><path color="#00b6ff" d="M302.6 176.9l11.5 -0.6 3.9 2.1 -11.5 0.6z"/><path color="#00bdff" d="M291.1 177l11.5 -0.1 3.9 2.1 -11.5 0.3z"/><path color="#00caff" d="M279.6 176.7l11.5 0.3 3.9 2.3 -11.5 -0.2z"/><path color="#00ddff" d="M268.2 176l11.4 0.7 3.9 2.4 -11.5 -0.5z"/><path color="#00f3ff" d="M256.7 175l11.5 1 3.8 2.6 -11.4 -0.9z"/><path color="#0ffff0" d="M245.2 173.8l11.5 1.2 3.9 2.7 -11.5 -1z"/><path color="#2bffd4" d="M233.7 172.4l11.5 1.4 3.9 2.9 -11.5 -1.1z"/><path color="#48ffb7" d="M222.3 171l11.4 1.4 3.9 3.2 -11.5 -1.3z"/><path color="#64ff9b" d="M210.8 169.6l11.5 1.4 3.8 3.3 -11.4 -1.2z"/><path color="#7fff80" d="M199.3 168.3l11.5 1.3 3.9 3.5 -11.5 -1.1z"/><path color="#97ff68" d="M187.8 167.3l11.5 1 3.9 3.7 -11.5 -1z"/><path color="#abff54" d="M176.4 166.5l11.4 0.8 3.9 3.7 -11.5 -0.8z"/><path color="#bcff43" d="M164.9 165.9l11.5 0.6 3.8 3.7 -11.4 -0.5z"/><path color="#c7ff38" d="M153.4 165.7l11.5 0.2 3.9 3.8 -11.5 -0.2z"/><path color="#cfff30" d="M141.9 165.8l11.5 -0.1 3.9 3.8 -11.5 0.1z"/><path color="#ec0000" d="M650.8 116.4l11.4 -0.7 3.9 3.1 -11.5 0.7z"/><path color="#ee0000" d="M639.3 117.2l11.5 -0.8 3.8 3.1 -11.4 0.8z"/><path color="#f10000" d="M627.8 118.1l11.5 -0.9 3.9 3.1 -11.5 0.9z"/><path color="#f80000" d="M616.3 119.2l11.5 -1.1 3.9 3.1 -11.5 1.1z"/><path color="#ff0100" d="M604.9 120.4l11.4 -1.2 3.9 3.1 -11.5 1.3z"/><path color="#ff0d00" d="M593.4 121.9l11.5 -1.5 3.8 3.2 -11.4 1.4z"/><path color="#ff1c00" d="M581.9 123.6l11.5 -1.7 3.9 3.1 -11.5 1.7z"/><path color="#ff2d00" d="M570.4 125.5l11.5 -1.9 3.9 3.1 -11.5 1.8z"/><path color="#ff4000" d="M558.9 127.5l11.5 -2 3.9 3 -11.5 1.9z"/><path color="#ff5500" d="M547.5 129.6l11.4 -2.1 3.9 2.9 -11.5 2z"/><path color="#ff6a00" d="M536 131.8l11.5 -2.2 3.8 2.8 -11.4 2.1z"/><path color="#ff8000" d="M524.5 134l11.5 -2.2 3.9 2.7 -11.5 2.1z"/><path color="#ff9600" d="M513 136.2l11.5 -2.2 3.9 2.6 -11.5 2.2z"/><path color="#ffac00" d="M501.6 138.5l11.4 -2.3 3.9 2.6 -11.5 2.1z"/><path color="#ffc200" d="M490.1 140.7l11.5 -2.2 3.8 2.4 -11.4 2.2z"/><path color="#ffda00" d="M478.6 143l11.5 -2.3 3.9 2.4 -11.5 2.3z"/><path color="#fff500" d="M467.1 145.6l11.5 -2.6 3.9 2.4 -11.5 2.5z"/><path color="#ecff13" d="M455.7 148.3l11.4 -2.7 3.9 2.3 -11.5 2.7z"/><path color="#ccff33" d="M444.2 151.2l11.5 -2.9 3.8 2.3 -11.4 2.8z"/><path color="#acff53" d="M432.7 154.2l11.5 -3 3.9 2.2 -11.5 2.9z"/><path color="#8bff74" d="M421.2 157.2l11.5 -3 3.9 2.1 -11.5 3z"/><path color="#69ff96" d="M409.8 160.3l11.4 -3.1 3.9 2.1 -11.5 3z"/><path color="#49ffb6" d="M398.3 163.2l11.5 -2.9 3.8 2 -11.4 2.9z"/><path color="#29ffd6" d="M386.8 166.1l11.5 -2.9 3.9 2 -11.5 2.9z"/><path color="#0cfff3" d="M375.3 168.9l11.5 -2.8 3.9 2 -11.5 2.7z"/><path color="#00f1ff" d="M363.9 171.4l11.4 -2.5 3.9 1.9 -11.5 2.5z"/><path color="#00daff" d="M352.4 173.7l11.5 -2.3 3.8 1.9 -11.4 2.3z"/><path color="#00c8ff" d="M340.9 175.6l11.5 -1.9 3.9 1.9 -11.5 1.9z"/><path color="#00bbff" d="M329.4 177.2l11.5 -1.6 3.9 1.9 -11.5 1.6z"/><path color="#00b3ff" d="M318 178.4l11.4 -1.2 3.9 1.9 -11.5 1.2z"/><path color="#00b3ff" d="M306.5 179l11.5 -0.6 3.8 1.9 -11.4 0.8z"/><path color="#00b9ff" d="M295 179.3l11.5 -0.3 3.9 2.1 -11.5 0.3z"/><path color="#00c4ff" d="M283.5 179.1l11.5 0.2 3.9 2.1 -11.5 -0.1z"/><path color="#00d5ff" d="M272 178.6l11.5 0.5 3.9 2.2 -11.5 -0.3z"/><path color="#00e9ff" d="M260.6 177.7l11.4 0.9 3.9 2.4 -11.5 -0.7z"/><path color="#01fffe" d="M249.1 176.7l11.5 1 3.8 2.6 -11.4 -0.8z"/><path color="#1affe5" d="M237.6 175.6l11.5 1.1 3.9 2.8 -11.5 -0.9z"/><path color="#35ffca" d="M226.1 174.3l11.5 1.3 3.9 3 -11.5 -1z"/><path color="#4fffb0" d="M214.7 173.1l11.4 1.2 3.9 3.3 -11.5 -1.1z"/><path color="#67ff98" d="M203.2 172l11.5 1.1 3.8 3.4 -11.4 -1z"/><path color="#7eff81" d="M191.7 171l11.5 1 3.9 3.5 -11.5 -0.9z"/><path color="#92ff6d" d="M180.2 170.2l11.5 0.8 3.9 3.6 -11.5 -0.7z"/><path color="#a2ff5d" d="M168.8 169.7l11.4 0.5 3.9 3.7 -11.5 -0.5z"/><path color="#afff50" d="M157.3 169.5l11.5 0.2 3.8 3.7 -11.4 -0.3z"/><path color="#b6ff49" d="M145.8 169.6l11.5 -0.1 3.9 3.6 -11.5 0.1z"/><path color="#fc0000" d="M654.6 119.5l11.5 -0.7 3.9 3.3 -11.5 0.8z"/><path color="#fe0000" d="M643.2 120.3l11.4 -0.8 3.9 3.4 -11.5 0.8z"/><path color="#ff0300" d="M631.7 121.2l11.5 -0.9 3.8 3.4 -11.4 0.9z"/><path color="#ff0900" d="M620.2 122.3l11.5 -1.1 3.9 3.4 -11.5 1z"/><path color="#ff1200" d="M608.7 123.6l11.5 -1.3 3.9 3.3 -11.5 1.2z"/><path color="#ff1d00" d="M597.3 125l11.4 -1.4 3.9 3.2 -11.5 1.4z"/><path color="#ff2b00" d="M585.8 126.7l11.5 -1.7 3.8 3.2 -11.4 1.6z"/><path color="#ff3b00" d="M574.3 128.5l11.5 -1.8 3.9 3.1 -11.5 1.7z"/><path color="#ff4d00" d="M562.8 130.4l11.5 -1.9 3.9 3 -11.5 1.8z"/><path color="#ff6000" d="M551.3 132.4l11.5 -2 3.9 2.9 -11.5 1.9z"/><path color="#ff7500" d="M539.9 134.5l11.4 -2.1 3.9 2.8 -11.5 2z"/><path color="#ff8900" d="M528.4 136.6l11.5 -2.1 3.8 2.7 -11.4 2z"/><path color="#ff9e00" d="M516.9 138.8l11.5 -2.2 3.9 2.6 -11.5 2z"/><path color="#ffb300" d="M505.4 140.9l11.5 -2.1 3.9 2.4 -11.5 2.1z"/><path color="#ffc800" d="M494 143.1l11.4 -2.2 3.9 2.4 -11.5 2.1z"/><path color="#ffdf00" d="M482.5 145.4l11.5 -2.3 3.8 2.3 -11.4 2.2z"/><path color="#fffa00" d="M471 147.9l11.5 -2.5 3.9 2.2 -11.5 2.4z"/><path color="#e8ff17" d="M459.5 150.6l11.5 -2.7 3.9 2.1 -11.5 2.7z"/><path color="#c9ff36" d="M448.1 153.4l11.4 -2.8 3.9 2.1 -11.5 2.7z"/><path color="#a9ff56" d="M436.6 156.3l11.5 -2.9 3.8 2 -11.4 2.9z"/><path color="#89ff76" d="M425.1 159.3l11.5 -3 3.9 2 -11.5 2.9z"/><path color="#68ff97" d="M413.6 162.3l11.5 -3 3.9 1.9 -11.5 3z"/><path color="#48ffb7" d="M402.2 165.2l11.4 -2.9 3.9 1.9 -11.5 2.9z"/><path color="#29ffd6" d="M390.7 168.1l11.5 -2.9 3.8 1.9 -11.4 2.8z"/><path color="#0dfff2" d="M379.2 170.8l11.5 -2.7 3.9 1.8 -11.5 2.6z"/><path color="#00f2ff" d="M367.7 173.3l11.5 -2.5 3.9 1.7 -11.5 2.5z"/><path color="#00dbff" d="M356.3 175.6l11.4 -2.3 3.9 1.7 -11.5 2.3z"/><path color="#00c9ff" d="M344.8 177.5l11.5 -1.9 3.8 1.7 -11.4 1.9z"/><path color="#00bbff" d="M333.3 179.1l11.5 -1.6 3.9 1.7 -11.5 1.7z"/><path color="#00b4ff" d="M321.8 180.3l11.5 -1.2 3.9 1.8 -11.5 1.2z"/><path color="#00b2ff" d="M310.4 181.1l11.4 -0.8 3.9 1.8 -11.5 0.8z"/><path color="#00b7ff" d="M298.9 181.4l11.5 -0.3 3.8 1.8 -11.4 0.4z"/><path color="#00c1ff" d="M287.4 181.3l11.5 0.1 3.9 1.9 -11.5 0.1z"/><path color="#00cfff" d="M275.9 181l11.5 0.3 3.9 2.1 -11.5 -0.2z"/><path color="#00e0ff" d="M264.4 180.3l11.5 0.7 3.9 2.2 -11.5 -0.4z"/><path color="#00f5ff" d="M253 179.5l11.4 0.8 3.9 2.5 -11.5 -0.6z"/><path color="#0cfff3" d="M241.5 178.6l11.5 0.9 3.8 2.7 -11.4 -0.7z"/><path color="#23ffdc" d="M230 177.6l11.5 1 3.9 2.9 -11.5 -0.8z"/><path color="#3affc5" d="M218.5 176.5l11.5 1.1 3.9 3.1 -11.5 -0.9z"/><path color="#51ffae" d="M207.1 175.5l11.4 1 3.9 3.3 -11.5 -0.8z"/><path color="#67ff98" d="M195.6 174.6l11.5 0.9 3.8 3.5 -11.4 -0.9z"/><path color="#7aff85" d="M184.1 173.9l11.5 0.7 3.9 3.5 -11.5 -0.7z"/><path color="#8bff74" d="M172.6 173.4l11.5 0.5 3.9 3.5 -11.5 -0.5z"/><path color="#97ff68" d="M161.2 173.1l11.4 0.3 3.9 3.5 -11.5 -0.2z"/><path color="#9fff60" d="M149.7 173.2l11.5 -0.1 3.8 3.6 -11.4 0.1z"/><path color="#ff1000" d="M658.5 122.9l11.5 -0.8 3.9 3.6 -11.5 0.7z"/><path color="#ff1200" d="M647 123.7l11.5 -0.8 3.9 3.5 -11.5 0.8z"/><path color="#ff1600" d="M635.6 124.6l11.4 -0.9 3.9 3.5 -11.5 0.9z"/><path color="#ff1c00" d="M624.1 125.6l11.5 -1 3.8 3.5 -11.4 1z"/><path color="#ff2400" d="M612.6 126.8l11.5 -1.2 3.9 3.5 -11.5 1.1z"/><path color="#ff2e00" d="M601.1 128.2l11.5 -1.4 3.9 3.4 -11.5 1.3z"/><path color="#ff3b00" d="M589.7 129.8l11.4 -1.6 3.9 3.3 -11.5 1.4z"/><path color="#ff4900" d="M578.2 131.5l11.5 -1.7 3.8 3.1 -11.4 1.6z"/><path color="#ff5a00" d="M566.7 133.3l11.5 -1.8 3.9 3 -11.5 1.6z"/><path color="#ff6b00" d="M555.2 135.2l11.5 -1.9 3.9 2.8 -11.5 1.8z"/><path color="#ff7e00" d="M543.7 137.2l11.5 -2 3.9 2.7 -11.5 1.8z"/><path color="#ff9100" d="M532.3 139.2l11.4 -2 3.9 2.5 -11.5 1.9z"/><path color="#ffa500" d="M520.8 141.2l11.5 -2 3.8 2.4 -11.4 1.9z"/><path color="#ffb800" d="M509.3 143.3l11.5 -2.1 3.9 2.3 -11.5 2z"/><path color="#ffcd00" d="M497.8 145.4l11.5 -2.1 3.9 2.2 -11.5 2z"/><path color="#ffe300" d="M486.4 147.6l11.4 -2.2 3.9 2.1 -11.5 2.1z"/><path color="#fffc00" d="M474.9 150l11.5 -2.4 3.8 2 -11.4 2.4z"/><path color="#e6ff19" d="M463.4 152.7l11.5 -2.7 3.9 2 -11.5 2.5z"/><path color="#c9ff36" d="M451.9 155.4l11.5 -2.7 3.9 1.8 -11.5 2.7z"/><path color="#aaff55" d="M440.5 158.3l11.4 -2.9 3.9 1.8 -11.5 2.9z"/><path color="#8aff75" d="M429 161.2l11.5 -2.9 3.8 1.8 -11.4 2.8z"/><path color="#6aff95" d="M417.5 164.2l11.5 -3 3.9 1.7 -11.5 2.9z"/><path color="#4affb5" d="M406 167.1l11.5 -2.9 3.9 1.6 -11.5 2.9z"/><path color="#2cffd3" d="M394.6 169.9l11.4 -2.8 3.9 1.6 -11.5 2.7z"/><path color="#10ffef" d="M383.1 172.5l11.5 -2.6 3.8 1.5 -11.4 2.7z"/><path color="#00f5ff" d="M371.6 175l11.5 -2.5 3.9 1.6 -11.5 2.5z"/><path color="#00dfff" d="M360.1 177.3l11.5 -2.3 3.9 1.6 -11.5 2.2z"/><path color="#00ccff" d="M348.7 179.2l11.4 -1.9 3.9 1.5 -11.5 2z"/><path color="#00beff" d="M337.2 180.9l11.5 -1.7 3.8 1.6 -11.4 1.6z"/><path color="#00b6ff" d="M325.7 182.1l11.5 -1.2 3.9 1.5 -11.5 1.3z"/><path color="#00b4ff" d="M314.2 182.9l11.5 -0.8 3.9 1.6 -11.5 0.9z"/><path color="#00b7ff" d="M302.8 183.3l11.4 -0.4 3.9 1.7 -11.5 0.5z"/><path color="#00bfff" d="M291.3 183.4l11.5 -0.1 3.8 1.8 -11.4 0.2z"/><path color="#00cbff" d="M279.8 183.2l11.5 0.2 3.9 1.9 -11.5 -0.1z"/><path color="#00daff" d="M268.3 182.8l11.5 0.4 3.9 2 -11.5 -0.2z"/><path color="#00ebff" d="M256.8 182.2l11.5 0.6 3.9 2.2 -11.5 -0.3z"/><path color="#00feff" d="M245.4 181.5l11.4 0.7 3.9 2.5 -11.5 -0.5z"/><path color="#13ffec" d="M233.9 180.7l11.5 0.8 3.8 2.7 -11.4 -0.6z"/><path color="#28ffd7" d="M222.4 179.8l11.5 0.9 3.9 2.9 -11.5 -0.6z"/><path color="#3dffc2" d="M210.9 179l11.5 0.8 3.9 3.2 -11.5 -0.8z"/><path color="#52ffad" d="M199.5 178.1l11.4 0.9 3.9 3.2 -11.5 -0.7z"/><path color="#64ff9b" d="M188 177.4l11.5 0.7 3.8 3.4 -11.4 -0.7z"/><path color="#74ff8b" d="M176.5 176.9l11.5 0.5 3.9 3.4 -11.5 -0.5z"/><path color="#81ff7e" d="M165 176.7l11.5 0.2 3.9 3.4 -11.5 -0.2z"/><path color="#89ff76" d="M153.6 176.8l11.4 -0.1 3.9 3.4 -11.5 0.1z"/><path color="#ff2700" d="M662.4 126.4l11.5 -0.7 3.8 3.8 -11.4 0.8z"/><path color="#ff2900" d="M650.9 127.2l11.5 -0.8 3.9 3.9 -11.5 0.7z"/><path color="#ff2c00" d="M639.4 128.1l11.5 -0.9 3.9 3.8 -11.5 0.8z"/><path color="#ff3100" d="M628 129.1l11.4 -1 3.9 3.7 -11.5 0.9z"/><path color="#ff3700" d="M616.5 130.2l11.5 -1.1 3.8 3.6 -11.4 1z"/><path color="#ff4000" d="M605 131.5l11.5 -1.3 3.9 3.5 -11.5 1.1z"/><path color="#ff4b00" d="M593.5 132.9l11.5 -1.4 3.9 3.3 -11.5 1.3z"/><path color="#ff5800" d="M582.1 134.5l11.4 -1.6 3.9 3.2 -11.5 1.4z"/><path color="#ff6600" d="M570.6 136.1l11.5 -1.6 3.8 3 -11.4 1.4z"/><path color="#ff7600" d="M559.1 137.9l11.5 -1.8 3.9 2.8 -11.5 1.6z"/><path color="#ff8600" d="M547.6 139.7l11.5 -1.8 3.9 2.6 -11.5 1.7z"/><path color="#ff9700" d="M536.1 141.6l11.5 -1.9 3.9 2.5 -11.5 1.7z"/><path color="#ffa900" d="M524.7 143.5l11.4 -1.9 3.9 2.3 -11.5 1.7z"/><path color="#ffbb00" d="M513.2 145.5l11.5 -2 3.8 2.1 -11.4 1.8z"/><path color="#ffce00" d="M501.7 147.5l11.5 -2 3.9 1.9 -11.5 1.9z"/><path color="#ffe300" d="M490.2 149.6l11.5 -2.1 3.9 1.8 -11.5 2.1z"/><path color="#fffb00" d="M478.8 152l11.4 -2.4 3.9 1.8 -11.5 2.3z"/><path color="#e8ff17" d="M467.3 154.5l11.5 -2.5 3.8 1.7 -11.4 2.5z"/><path color="#cbff34" d="M455.8 157.2l11.5 -2.7 3.9 1.7 -11.5 2.6z"/><path color="#adff52" d="M444.3 160.1l11.5 -2.9 3.9 1.6 -11.5 2.8z"/><path color="#8eff71" d="M432.9 162.9l11.4 -2.8 3.9 1.5 -11.5 2.8z"/><path color="#6eff91" d="M421.4 165.8l11.5 -2.9 3.8 1.5 -11.4 2.8z"/><path color="#4fffb0" d="M409.9 168.7l11.5 -2.9 3.9 1.4 -11.5 2.8z"/><path color="#32ffcd" d="M398.4 171.4l11.5 -2.7 3.9 1.3 -11.5 2.8z"/><path color="#16ffe9" d="M387 174.1l11.4 -2.7 3.9 1.4 -11.5 2.6z"/><path color="#00fbff" d="M375.5 176.6l11.5 -2.5 3.8 1.3 -11.4 2.4z"/><path color="#00e5ff" d="M364 178.8l11.5 -2.2 3.9 1.2 -11.5 2.3z"/><path color="#00d2ff" d="M352.5 180.8l11.5 -2 3.9 1.3 -11.5 2z"/><path color="#00c4ff" d="M341.1 182.4l11.4 -1.6 3.9 1.3 -11.5 1.6z"/><path color="#00bcff" d="M329.6 183.7l11.5 -1.3 3.8 1.3 -11.4 1.4z"/><path color="#00b8ff" d="M318.1 184.6l11.5 -0.9 3.9 1.4 -11.5 0.9z"/><path color="#00baff" d="M306.6 185.1l11.5 -0.5 3.9 1.4 -11.5 0.6z"/><path color="#00c0ff" d="M295.2 185.3l11.4 -0.2 3.9 1.5 -11.5 0.4z"/><path color="#00caff" d="M283.7 185.2l11.5 0.1 3.8 1.7 -11.4 0.1z"/><path color="#00d6ff" d="M272.2 185l11.5 0.2 3.9 1.9 -11.5 0z"/><path color="#00e4ff" d="M260.7 184.7l11.5 0.3 3.9 2.1 -11.5 -0.2z"/><path color="#00f3ff" d="M249.2 184.2l11.5 0.5 3.9 2.2 -11.5 -0.2z"/><path color="#05fffa" d="M237.8 183.6l11.4 0.6 3.9 2.5 -11.5 -0.3z"/><path color="#18ffe7" d="M226.3 183l11.5 0.6 3.8 2.8 -11.4 -0.4z"/><path color="#2bffd4" d="M214.8 182.2l11.5 0.8 3.9 3 -11.5 -0.6z"/><path color="#3effc1" d="M203.3 181.5l11.5 0.7 3.9 3.2 -11.5 -0.7z"/><path color="#51ffae" d="M191.9 180.8l11.4 0.7 3.9 3.2 -11.5 -0.6z"/><path color="#60ff9f" d="M180.4 180.3l11.5 0.5 3.8 3.3 -11.4 -0.5z"/><path color="#6cff93" d="M168.9 180.1l11.5 0.2 3.9 3.3 -11.5 -0.2z"/><path color="#75ff8a" d="M157.4 180.2l11.5 -0.1 3.9 3.3 -11.5 0z"/><path color="#ff4000" d="M666.3 130.3l11.4 -0.8 3.9 4.2 -11.5 0.7z"/><path color="#ff4200" d="M654.8 131l11.5 -0.7 3.8 4.1 -11.4 0.6z"/><path color="#ff4400" d="M643.3 131.8l11.5 -0.8 3.9 4 -11.5 0.7z"/><path color="#ff4800" d="M631.8 132.7l11.5 -0.9 3.9 3.9 -11.5 0.8z"/><path color="#ff4d00" d="M620.4 133.7l11.4 -1 3.9 3.8 -11.5 0.8z"/><path color="#ff5300" d="M608.9 134.8l11.5 -1.1 3.8 3.6 -11.4 1z"/><path color="#ff5c00" d="M597.4 136.1l11.5 -1.3 3.9 3.5 -11.5 1z"/><path color="#ff6600" d="M585.9 137.5l11.5 -1.4 3.9 3.2 -11.5 1.2z"/><path color="#ff7200" d="M574.5 138.9l11.4 -1.4 3.9 3 -11.5 1.2z"/><path color="#ff7f00" d="M563 140.5l11.5 -1.6 3.8 2.8 -11.4 1.4z"/><path color="#ff8d00" d="M551.5 142.2l11.5 -1.7 3.9 2.6 -11.5 1.4z"/><path color="#ff9c00" d="M540 143.9l11.5 -1.7 3.9 2.3 -11.5 1.5z"/><path color="#ffab00" d="M528.5 145.6l11.5 -1.7 3.9 2.1 -11.5 1.6z"/><path color="#ffbc00" d="M517.1 147.4l11.4 -1.8 3.9 2 -11.5 1.6z"/><path color="#ffcd00" d="M505.6 149.3l11.5 -1.9 3.8 1.8 -11.4 1.8z"/><path color="#ffe100" d="M494.1 151.4l11.5 -2.1 3.9 1.7 -11.5 1.9z"/><path color="#fff800" d="M482.6 153.7l11.5 -2.3 3.9 1.5 -11.5 2.2z"/><path color="#edff12" d="M471.2 156.2l11.4 -2.5 3.9 1.4 -11.5 2.4z"/><path color="#d1ff2e" d="M459.7 158.8l11.5 -2.6 3.8 1.3 -11.4 2.6z"/><path color="#b3ff4c" d="M448.2 161.6l11.5 -2.8 3.9 1.3 -11.5 2.7z"/><path color="#95ff6a" d="M436.7 164.4l11.5 -2.8 3.9 1.2 -11.5 2.7z"/><path color="#76ff89" d="M425.3 167.2l11.4 -2.8 3.9 1.1 -11.5 2.8z"/><path color="#58ffa7" d="M413.8 170l11.5 -2.8 3.8 1.1 -11.4 2.8z"/><path color="#3bffc4" d="M402.3 172.8l11.5 -2.8 3.9 1.1 -11.5 2.7z"/><path color="#1fffe0" d="M390.8 175.4l11.5 -2.6 3.9 1 -11.5 2.6z"/><path color="#06fff9" d="M379.4 177.8l11.4 -2.4 3.9 1 -11.5 2.5z"/><path color="#00eeff" d="M367.9 180.1l11.5 -2.3 3.8 1.1 -11.4 2.2z"/><path color="#00dcff" d="M356.4 182.1l11.5 -2 3.9 1 -11.5 2z"/><path color="#00cdff" d="M344.9 183.7l11.5 -1.6 3.9 1 -11.5 1.7z"/><path color="#00c4ff" d="M333.5 185.1l11.4 -1.4 3.9 1.1 -11.5 1.4z"/><path color="#00c0ff" d="M322 186l11.5 -0.9 3.8 1.1 -11.4 1z"/><path color="#00c0ff" d="M310.5 186.6l11.5 -0.6 3.9 1.2 -11.5 0.7z"/><path color="#00c5ff" d="M299 187l11.5 -0.4 3.9 1.3 -11.5 0.5z"/><path color="#00ccff" d="M287.6 187.1l11.4 -0.1 3.9 1.4 -11.5 0.3z"/><path color="#00d5ff" d="M276.1 187.1l11.5 0 3.8 1.6 -11.4 0.2z"/><path color="#00e0ff" d="M264.6 186.9l11.5 0.2 3.9 1.8 -11.5 0.1z"/><path color="#00ebff" d="M253.1 186.7l11.5 0.2 3.9 2.1 -11.5 0.1z"/><path color="#00f9ff" d="M241.6 186.4l11.5 0.3 3.9 2.4 -11.5 0z"/><path color="#09fff6" d="M230.2 186l11.4 0.4 3.9 2.7 -11.5 -0.3z"/><path color="#1bffe4" d="M218.7 185.4l11.5 0.6 3.8 2.8 -11.4 -0.5z"/><path color="#2dffd2" d="M207.2 184.7l11.5 0.7 3.9 2.9 -11.5 -0.6z"/><path color="#3fffc0" d="M195.7 184.1l11.5 0.6 3.9 3 -11.5 -0.6z"/><path color="#4effb1" d="M184.3 183.6l11.4 0.5 3.9 3 -11.5 -0.4z"/><path color="#5bffa4" d="M172.8 183.4l11.5 0.2 3.8 3.1 -11.4 -0.3z"/><path color="#63ff9c" d="M161.3 183.4l11.5 0 3.9 3 -11.5 0.1z"/><path color="#ff5e00" d="M670.1 134.4l11.5 -0.7 3.9 4.7 -11.5 0.6z"/><path color="#ff5f00" d="M658.7 135l11.4 -0.6 3.9 4.6 -11.5 0.5z"/><path color="#ff5f00" d="M647.2 135.7l11.5 -0.7 3.8 4.5 -11.4 0.5z"/><path color="#ff6100" d="M635.7 136.5l11.5 -0.8 3.9 4.3 -11.5 0.6z"/><path color="#ff6400" d="M624.2 137.3l11.5 -0.8 3.9 4.1 -11.5 0.6z"/><path color="#ff6800" d="M612.8 138.3l11.4 -1 3.9 3.9 -11.5 0.7z"/><path color="#ff6d00" d="M601.3 139.3l11.5 -1 3.8 3.6 -11.4 0.7z"/><path color="#ff7500" d="M589.8 140.5l11.5 -1.2 3.9 3.3 -11.5 0.9z"/><path color="#ff7d00" d="M578.3 141.7l11.5 -1.2 3.9 3 -11.5 0.9z"/><path color="#ff8700" d="M566.9 143.1l11.4 -1.4 3.9 2.7 -11.5 1.1z"/><path color="#ff9200" d="M555.4 144.5l11.5 -1.4 3.8 2.4 -11.4 1.1z"/><path color="#ff9e00" d="M543.9 146l11.5 -1.5 3.9 2.1 -11.5 1.3z"/><path color="#ffab00" d="M532.4 147.6l11.5 -1.6 3.9 1.9 -11.5 1.3z"/><path color="#ffb900" d="M520.9 149.2l11.5 -1.6 3.9 1.6 -11.5 1.5z"/><path color="#ffc900" d="M509.5 151l11.4 -1.8 3.9 1.5 -11.5 1.6z"/><path color="#ffdb00" d="M498 152.9l11.5 -1.9 3.8 1.3 -11.4 1.8z"/><path color="#fff000" d="M486.5 155.1l11.5 -2.2 3.9 1.2 -11.5 2.1z"/><path color="#f5ff0a" d="M475 157.5l11.5 -2.4 3.9 1.1 -11.5 2.3z"/><path color="#daff25" d="M463.6 160.1l11.4 -2.6 3.9 1 -11.5 2.5z"/><path color="#beff41" d="M452.1 162.8l11.5 -2.7 3.8 0.9 -11.4 2.6z"/><path color="#a0ff5f" d="M440.6 165.5l11.5 -2.7 3.9 0.8 -11.5 2.7z"/><path color="#82ff7d" d="M429.1 168.3l11.5 -2.8 3.9 0.8 -11.5 2.7z"/><path color="#65ff9a" d="M417.7 171.1l11.4 -2.8 3.9 0.7 -11.5 2.8z"/><path color="#48ffb7" d="M406.2 173.8l11.5 -2.7 3.8 0.7 -11.4 2.7z"/><path color="#2cffd3" d="M394.7 176.4l11.5 -2.6 3.9 0.7 -11.5 2.6z"/><path color="#13ffec" d="M383.2 178.9l11.5 -2.5 3.9 0.7 -11.5 2.4z"/><path color="#00fcff" d="M371.8 181.1l11.4 -2.2 3.9 0.6 -11.5 2.3z"/><path color="#00e9ff" d="M360.3 183.1l11.5 -2 3.8 0.7 -11.4 2z"/><path color="#00daff" d="M348.8 184.8l11.5 -1.7 3.9 0.7 -11.5 1.8z"/><path color="#00d0ff" d="M337.3 186.2l11.5 -1.4 3.9 0.8 -11.5 1.4z"/><path color="#00cbff" d="M325.9 187.2l11.4 -1 3.9 0.8 -11.5 1.1z"/><path color="#00caff" d="M314.4 187.9l11.5 -0.7 3.8 0.9 -11.4 0.8z"/><path color="#00ccff" d="M302.9 188.4l11.5 -0.5 3.9 1 -11.5 0.6z"/><path color="#00d1ff" d="M291.4 188.7l11.5 -0.3 3.9 1.1 -11.5 0.5z"/><path color="#00d7ff" d="M280 188.9l11.4 -0.2 3.9 1.3 -11.5 0.5z"/><path color="#00deff" d="M268.5 189l11.5 -0.1 3.8 1.6 -11.4 0.4z"/><path color="#00e6ff" d="M257 189.1l11.5 -0.1 3.9 1.9 -11.5 0.4z"/><path color="#00f0ff" d="M245.5 189.1l11.5 0 3.9 2.2 -11.5 0.3z"/><path color="#00fcff" d="M234 188.8l11.5 0.3 3.9 2.5 -11.5 0z"/><path color="#0dfff2" d="M222.6 188.3l11.4 0.5 3.9 2.8 -11.5 -0.4z"/><path color="#1effe1" d="M211.1 187.7l11.5 0.6 3.8 2.9 -11.4 -0.5z"/><path color="#2fffd0" d="M199.6 187.1l11.5 0.6 3.9 3 -11.5 -0.6z"/><path color="#3fffc0" d="M188.1 186.7l11.5 0.4 3.9 3 -11.5 -0.5z"/><path color="#4bffb4" d="M176.7 186.4l11.4 0.3 3.9 2.9 -11.5 -0.2z"/><path color="#53ffac" d="M165.2 186.5l11.5 -0.1 3.8 3 -11.4 0.1z"/><path color="#ff8300" d="M674 139l11.5 -0.6 3.9 5.3 -11.5 0.5z"/><path color="#ff8100" d="M662.5 139.5l11.5 -0.5 3.9 5.2 -11.5 0.3z"/><path color="#ff8000" d="M651.1 140l11.4 -0.5 3.9 5 -11.5 0.3z"/><path color="#ff7f00" d="M639.6 140.6l11.5 -0.6 3.8 4.8 -11.4 0.3z"/><path color="#ff7e00" d="M628.1 141.2l11.5 -0.6 3.9 4.5 -11.5 0.2z"/><path color="#ff7f00" d="M616.6 141.9l11.5 -0.7 3.9 4.1 -11.5 0.4z"/><path color="#ff8000" d="M605.2 142.6l11.4 -0.7 3.9 3.8 -11.5 0.4z"/><path color="#ff8300" d="M593.7 143.5l11.5 -0.9 3.8 3.5 -11.4 0.5z"/><path color="#ff8800" d="M582.2 144.4l11.5 -0.9 3.9 3.1 -11.5 0.5z"/><path color="#ff8d00" d="M570.7 145.5l11.5 -1.1 3.9 2.7 -11.5 0.7z"/><path color="#ff9400" d="M559.3 146.6l11.4 -1.1 3.9 2.3 -11.5 0.8z"/><path color="#ff9d00" d="M547.8 147.9l11.5 -1.3 3.8 2 -11.4 0.9z"/><path color="#ffa600" d="M536.3 149.2l11.5 -1.3 3.9 1.6 -11.5 1.1z"/><path color="#ffb200" d="M524.8 150.7l11.5 -1.5 3.9 1.4 -11.5 1.2z"/><path color="#ffbf00" d="M513.3 152.3l11.5 -1.6 3.9 1.1 -11.5 1.4z"/><path color="#ffcf00" d="M501.9 154.1l11.4 -1.8 3.9 0.9 -11.5 1.6z"/><path color="#ffe400" d="M490.4 156.2l11.5 -2.1 3.8 0.7 -11.4 2z"/><path color="#fffb00" d="M478.9 158.5l11.5 -2.3 3.9 0.6 -11.5 2.2z"/><path color="#eaff15" d="M467.4 161l11.5 -2.5 3.9 0.5 -11.5 2.4z"/><path color="#ceff31" d="M456 163.6l11.4 -2.6 3.9 0.4 -11.5 2.5z"/><path color="#b1ff4e" d="M444.5 166.3l11.5 -2.7 3.8 0.3 -11.4 2.7z"/><path color="#94ff6b" d="M433 169l11.5 -2.7 3.9 0.3 -11.5 2.7z"/><path color="#77ff88" d="M421.5 171.8l11.5 -2.8 3.9 0.3 -11.5 2.8z"/><path color="#5affa5" d="M410.1 174.5l11.4 -2.7 3.9 0.3 -11.5 2.7z"/><path color="#3effc1" d="M398.6 177.1l11.5 -2.6 3.8 0.3 -11.4 2.6z"/><path color="#25ffda" d="M387.1 179.5l11.5 -2.4 3.9 0.3 -11.5 2.5z"/><path color="#0efff1" d="M375.6 181.8l11.5 -2.3 3.9 0.4 -11.5 2.3z"/><path color="#00faff" d="M364.2 183.8l11.4 -2 3.9 0.4 -11.5 2z"/><path color="#00ebff" d="M352.7 185.6l11.5 -1.8 3.8 0.4 -11.4 1.8z"/><path color="#00e0ff" d="M341.2 187l11.5 -1.4 3.9 0.4 -11.5 1.5z"/><path color="#00daff" d="M329.7 188.1l11.5 -1.1 3.9 0.5 -11.5 1.2z"/><path color="#00d7ff" d="M318.3 188.9l11.4 -0.8 3.9 0.6 -11.5 0.9z"/><path color="#00d8ff" d="M306.8 189.5l11.5 -0.6 3.8 0.7 -11.4 0.8z"/><path color="#00d9ff" d="M295.3 190l11.5 -0.5 3.9 0.9 -11.5 0.8z"/><path color="#00dcff" d="M283.8 190.5l11.5 -0.5 3.9 1.2 -11.5 0.7z"/><path color="#00dfff" d="M272.4 190.9l11.4 -0.4 3.9 1.4 -11.5 0.8z"/><path color="#00e2ff" d="M260.9 191.3l11.5 -0.4 3.8 1.8 -11.4 0.8z"/><path color="#00e8ff" d="M249.4 191.6l11.5 -0.3 3.9 2.2 -11.5 0.5z"/><path color="#00f1ff" d="M237.9 191.6l11.5 0 3.9 2.4 -11.5 0.3z"/><path color="#00ffff" d="M226.4 191.2l11.5 0.4 3.9 2.7 -11.5 -0.2z"/><path color="#10ffef" d="M215 190.7l11.4 0.5 3.9 2.9 -11.5 -0.4z"/><path color="#21ffde" d="M203.5 190.1l11.5 0.6 3.8 3 -11.4 -0.6z"/><path color="#31ffce" d="M192 189.6l11.5 0.5 3.9 3 -11.5 -0.5z"/><path color="#3dffc2" d="M180.5 189.4l11.5 0.2 3.9 3 -11.5 -0.3z"/><path color="#45ffba" d="M169.1 189.5l11.4 -0.1 3.9 2.9 -11.5 0.1z"/><path color="#ffb000" d="M677.9 144.2l11.5 -0.5 3.8 5.9 -11.4 0.2z"/><path color="#ffac00" d="M666.4 144.5l11.5 -0.3 3.9 5.6 -11.5 0.1z"/><path color="#ffa700" d="M654.9 144.8l11.5 -0.3 3.9 5.4 -11.5 0z"/><path color="#ffa200" d="M643.5 145.1l11.4 -0.3 3.9 5.1 -11.5 0z"/><path color="#ff9d00" d="M632 145.3l11.5 -0.2 3.8 4.8 -11.4 -0.1z"/><path color="#ff9800" d="M620.5 145.7l11.5 -0.4 3.9 4.5 -11.5 -0.1z"/><path color="#ff9500" d="M609 146.1l11.5 -0.4 3.9 4 -11.5 0z"/><path color="#ff9300" d="M597.6 146.6l11.4 -0.5 3.9 3.6 -11.5 0z"/><path color="#ff9200" d="M586.1 147.1l11.5 -0.5 3.8 3.1 -11.4 0.1z"/><path color="#ff9200" d="M574.6 147.8l11.5 -0.7 3.9 2.7 -11.5 0.2z"/><path color="#ff9400" d="M563.1 148.6l11.5 -0.8 3.9 2.2 -11.5 0.4z"/><path color="#ff9800" d="M551.7 149.5l11.4 -0.9 3.9 1.8 -11.5 0.5z"/><path color="#ff9e00" d="M540.2 150.6l11.5 -1.1 3.8 1.4 -11.4 0.7z"/><path color="#ffa600" d="M528.7 151.8l11.5 -1.2 3.9 1 -11.5 1z"/><path color="#ffb000" d="M517.2 153.2l11.5 -1.4 3.9 0.8 -11.5 1.1z"/><path color="#ffbe00" d="M505.7 154.8l11.5 -1.6 3.9 0.5 -11.5 1.5z"/><path color="#ffd100" d="M494.3 156.8l11.4 -2 3.9 0.4 -11.5 1.8z"/><path color="#ffe600" d="M482.8 159l11.5 -2.2 3.8 0.2 -11.4 2.1z"/><path color="#ffff00" d="M471.3 161.4l11.5 -2.4 3.9 0.1 -11.5 2.3z"/><path color="#e5ff1a" d="M459.8 163.9l11.5 -2.5 3.9 0 -11.5 2.5z"/><path color="#c8ff37" d="M448.4 166.6l11.4 -2.7 3.9 0 -11.5 2.6z"/><path color="#abff54" d="M436.9 169.3l11.5 -2.7 3.8 -0.1 -11.4 2.7z"/><path color="#8eff71" d="M425.4 172.1l11.5 -2.8 3.9 -0.1 -11.5 2.8z"/><path color="#72ff8d" d="M413.9 174.8l11.5 -2.7 3.9 -0.1 -11.5 2.7z"/><path color="#56ffa9" d="M402.5 177.4l11.4 -2.6 3.9 -0.1 -11.5 2.6z"/><path color="#3cffc3" d="M391 179.9l11.5 -2.5 3.8 -0.1 -11.4 2.6z"/><path color="#25ffda" d="M379.5 182.2l11.5 -2.3 3.9 0 -11.5 2.3z"/><path color="#11ffee" d="M368 184.2l11.5 -2 3.9 0 -11.5 2.2z"/><path color="#01fffe" d="M356.6 186l11.4 -1.8 3.9 0.2 -11.5 1.8z"/><path color="#00f4ff" d="M345.1 187.5l11.5 -1.5 3.8 0.2 -11.4 1.6z"/><path color="#00edff" d="M333.6 188.7l11.5 -1.2 3.9 0.3 -11.5 1.3z"/><path color="#00e8ff" d="M322.1 189.6l11.5 -0.9 3.9 0.4 -11.5 1.1z"/><path color="#00e6ff" d="M310.7 190.4l11.4 -0.8 3.9 0.6 -11.5 1z"/><path color="#00e5ff" d="M299.2 191.2l11.5 -0.8 3.8 0.8 -11.4 0.9z"/><path color="#00e4ff" d="M287.7 191.9l11.5 -0.7 3.9 0.9 -11.5 1.1z"/><path color="#00e2ff" d="M276.2 192.7l11.5 -0.8 3.9 1.3 -11.5 1.2z"/><path color="#00e0ff" d="M264.8 193.5l11.4 -0.8 3.9 1.7 -11.5 1.1z"/><path color="#00e1ff" d="M253.3 194l11.5 -0.5 3.8 2 -11.4 1z"/><path color="#00e7ff" d="M241.8 194.3l11.5 -0.3 3.9 2.5 -11.5 0.5z"/><path color="#00f2ff" d="M230.3 194.1l11.5 0.2 3.9 2.7 -11.5 0.1z"/><path color="#02fffd" d="M218.8 193.7l11.5 0.4 3.9 3 -11.5 -0.5z"/><path color="#13ffec" d="M207.4 193.1l11.4 0.6 3.9 2.9 -11.5 -0.6z"/><path color="#23ffdc" d="M195.9 192.6l11.5 0.5 3.8 2.9 -11.4 -0.5z"/><path color="#30ffcf" d="M184.4 192.3l11.5 0.3 3.9 2.9 -11.5 -0.2z"/><path color="#38ffc7" d="M172.9 192.4l11.5 -0.1 3.9 3 -11.5 0.1z"/><path color="#ffe400" d="M681.8 149.8l11.4 -0.2 3.9 6.2 -11.5 0.1z"/><path color="#ffdc00" d="M670.3 149.9l11.5 -0.1 3.8 6.1 -11.4 -0.2z"/><path color="#ffd300" d="M658.8 149.9l11.5 0 3.9 5.8 -11.5 -0.3z"/><path color="#ffc900" d="M647.3 149.9l11.5 0 3.9 5.5 -11.5 -0.5z"/><path color="#ffbf00" d="M635.9 149.8l11.4 0.1 3.9 5 -11.5 -0.5z"/><path color="#ffb500" d="M624.4 149.7l11.5 0.1 3.8 4.6 -11.4 -0.6z"/><path color="#ffab00" d="M612.9 149.7l11.5 0 3.9 4.1 -11.5 -0.5z"/><path color="#ffa300" d="M601.4 149.7l11.5 0 3.9 3.6 -11.5 -0.5z"/><path color="#ff9c00" d="M590 149.8l11.4 -0.1 3.9 3.1 -11.5 -0.4z"/><path color="#ff9600" d="M578.5 150l11.5 -0.2 3.8 2.6 -11.4 -0.2z"/><path color="#ff9200" d="M567 150.4l11.5 -0.4 3.9 2.2 -11.5 -0.1z"/><path color="#ff9000" d="M555.5 150.9l11.5 -0.5 3.9 1.7 -11.5 0.1z"/><path color="#ff9100" d="M544.1 151.6l11.4 -0.7 3.9 1.3 -11.5 0.3z"/><path color="#ff9500" d="M532.6 152.6l11.5 -1 3.8 0.9 -11.4 0.6z"/><path color="#ff9d00" d="M521.1 153.7l11.5 -1.1 3.9 0.5 -11.5 0.9z"/><path color="#ffa800" d="M509.6 155.2l11.5 -1.5 3.9 0.3 -11.5 1.3z"/><path color="#ffb800" d="M498.1 157l11.5 -1.8 3.9 0.1 -11.5 1.7z"/><path color="#ffcd00" d="M486.7 159.1l11.4 -2.1 3.9 0 -11.5 1.9z"/><path color="#ffe400" d="M475.2 161.4l11.5 -2.3 3.8 -0.2 -11.4 2.3z"/><path color="#fffe00" d="M463.7 163.9l11.5 -2.5 3.9 -0.2 -11.5 2.4z"/><path color="#e5ff1a" d="M452.2 166.5l11.5 -2.6 3.9 -0.3 -11.5 2.6z"/><path color="#c8ff37" d="M440.8 169.2l11.4 -2.7 3.9 -0.3 -11.5 2.7z"/><path color="#abff54" d="M429.3 172l11.5 -2.8 3.8 -0.3 -11.4 2.7z"/><path color="#8eff71" d="M417.8 174.7l11.5 -2.7 3.9 -0.4 -11.5 2.7z"/><path color="#72ff8d" d="M406.3 177.3l11.5 -2.6 3.9 -0.4 -11.5 2.7z"/><path color="#58ffa7" d="M394.9 179.9l11.4 -2.6 3.9 -0.3 -11.5 2.6z"/><path color="#40ffbf" d="M383.4 182.2l11.5 -2.3 3.8 -0.3 -11.4 2.4z"/><path color="#2bffd4" d="M371.9 184.4l11.5 -2.2 3.9 -0.2 -11.5 2.3z"/><path color="#1affe5" d="M360.4 186.2l11.5 -1.8 3.9 -0.1 -11.5 1.9z"/><path color="#0dfff2" d="M349 187.8l11.4 -1.6 3.9 0 -11.5 1.6z"/><path color="#04fffb" d="M337.5 189.1l11.5 -1.3 3.8 0 -11.4 1.4z"/><path color="#00fdff" d="M326 190.2l11.5 -1.1 3.9 0.1 -11.5 1.3z"/><path color="#00f8ff" d="M314.5 191.2l11.5 -1 3.9 0.3 -11.5 1.2z"/><path color="#00f3ff" d="M303.1 192.1l11.4 -0.9 3.9 0.5 -11.5 1.2z"/><path color="#00edff" d="M291.6 193.2l11.5 -1.1 3.8 0.8 -11.4 1.5z"/><path color="#00e6ff" d="M280.1 194.4l11.5 -1.2 3.9 1.2 -11.5 1.5z"/><path color="#00dfff" d="M268.6 195.5l11.5 -1.1 3.9 1.5 -11.5 1.6z"/><path color="#00daff" d="M257.2 196.5l11.4 -1 3.9 2 -11.5 1.4z"/><path color="#00dcff" d="M245.7 197l11.5 -0.5 3.8 2.4 -11.4 0.9z"/><path color="#00e4ff" d="M234.2 197.1l11.5 -0.1 3.9 2.8 -11.5 0.2z"/><path color="#00f3ff" d="M222.7 196.6l11.5 0.5 3.9 2.9 -11.5 -0.4z"/><path color="#06fff9" d="M211.2 196l11.5 0.6 3.9 3 -11.5 -0.6z"/><path color="#16ffe9" d="M199.8 195.5l11.4 0.5 3.9 3 -11.5 -0.6z"/><path color="#22ffdd" d="M188.3 195.3l11.5 0.2 3.8 2.9 -11.4 -0.2z"/><path color="#2affd5" d="M176.8 195.4l11.5 -0.1 3.9 2.9 -11.5 0.1z"/><path color="#e1ff1e" d="M685.6 155.9l11.5 -0.1 3.9 6.6 -11.5 -0.2z"/><path color="#edff12" d="M674.2 155.7l11.4 0.2 3.9 6.3 -11.5 -0.5z"/><path color="#fbff04" d="M662.7 155.4l11.5 0.3 3.8 6 -11.4 -0.7z"/><path color="#fff400" d="M651.2 154.9l11.5 0.5 3.9 5.6 -11.5 -0.9z"/><path color="#ffe400" d="M639.7 154.4l11.5 0.5 3.9 5.2 -11.5 -1z"/><path color="#ffd300" d="M628.3 153.8l11.4 0.6 3.9 4.7 -11.5 -1z"/><path color="#ffc300" d="M616.8 153.3l11.5 0.5 3.8 4.3 -11.4 -1.1z"/><path color="#ffb300" d="M605.3 152.8l11.5 0.5 3.9 3.7 -11.5 -1z"/><path color="#ffa500" d="M593.8 152.4l11.5 0.4 3.9 3.2 -11.5 -0.9z"/><path color="#ff9800" d="M582.4 152.2l11.4 0.2 3.9 2.7 -11.5 -0.8z"/><path color="#ff8e00" d="M570.9 152.1l11.5 0.1 3.8 2.1 -11.4 -0.6z"/><path color="#ff8600" d="M559.4 152.2l11.5 -0.1 3.9 1.6 -11.5 -0.4z"/><path color="#ff8200" d="M547.9 152.5l11.5 -0.3 3.9 1.1 -11.5 -0.1z"/><path color="#ff8100" d="M536.5 153.1l11.4 -0.6 3.9 0.7 -11.5 0.3z"/><path color="#ff8500" d="M525 154l11.5 -0.9 3.8 0.4 -11.4 0.7z"/><path color="#ff8e00" d="M513.5 155.3l11.5 -1.3 3.9 0.2 -11.5 1z"/><path color="#ff9c00" d="M502 157l11.5 -1.7 3.9 -0.1 -11.5 1.5z"/><path color="#ffaf00" d="M490.5 158.9l11.5 -1.9 3.9 -0.3 -11.5 1.9z"/><path color="#ffc500" d="M479.1 161.2l11.4 -2.3 3.9 -0.3 -11.5 2.1z"/><path color="#ffde00" d="M467.6 163.6l11.5 -2.4 3.8 -0.5 -11.4 2.3z"/><path color="#fff900" d="M456.1 166.2l11.5 -2.6 3.9 -0.6 -11.5 2.6z"/><path color="#e9ff16" d="M444.6 168.9l11.5 -2.7 3.9 -0.6 -11.5 2.7z"/><path color="#cbff34" d="M433.2 171.6l11.4 -2.7 3.9 -0.6 -11.5 2.7z"/><path color="#aeff51" d="M421.7 174.3l11.5 -2.7 3.8 -0.6 -11.4 2.8z"/><path color="#92ff6d" d="M410.2 177l11.5 -2.7 3.9 -0.5 -11.5 2.7z"/><path color="#77ff88" d="M398.7 179.6l11.5 -2.6 3.9 -0.5 -11.5 2.7z"/><path color="#5effa1" d="M387.3 182l11.4 -2.4 3.9 -0.4 -11.5 2.5z"/><path color="#48ffb7" d="M375.8 184.3l11.5 -2.3 3.8 -0.3 -11.4 2.3z"/><path color="#36ffc9" d="M364.3 186.2l11.5 -1.9 3.9 -0.3 -11.5 2z"/><path color="#28ffd7" d="M352.8 187.8l11.5 -1.6 3.9 -0.2 -11.5 1.7z"/><path color="#1dffe2" d="M341.4 189.2l11.4 -1.4 3.9 -0.1 -11.5 1.5z"/><path color="#15ffea" d="M329.9 190.5l11.5 -1.3 3.8 0 -11.4 1.4z"/><path color="#0dfff2" d="M318.4 191.7l11.5 -1.2 3.9 0.1 -11.5 1.5z"/><path color="#04fffb" d="M306.9 192.9l11.5 -1.2 3.9 0.4 -11.5 1.5z"/><path color="#00f9ff" d="M295.5 194.4l11.4 -1.5 3.9 0.7 -11.5 1.8z"/><path color="#00ecff" d="M284 195.9l11.5 -1.5 3.8 1 -11.4 2z"/><path color="#00deff" d="M272.5 197.5l11.5 -1.6 3.9 1.5 -11.5 2.1z"/><path color="#00d4ff" d="M261 198.9l11.5 -1.4 3.9 2 -11.5 1.9z"/><path color="#00d1ff" d="M249.6 199.8l11.4 -0.9 3.9 2.5 -11.5 1.2z"/><path color="#00d7ff" d="M238.1 200l11.5 -0.2 3.8 2.8 -11.4 0.4z"/><path color="#00e5ff" d="M226.6 199.6l11.5 0.4 3.9 3 -11.5 -0.4z"/><path color="#00f7ff" d="M215.1 199l11.5 0.6 3.9 3 -11.5 -0.6z"/><path color="#09fff6" d="M203.6 198.4l11.5 0.6 3.9 3 -11.5 -0.7z"/><path color="#15ffea" d="M192.2 198.2l11.4 0.2 3.9 2.9 -11.5 -0.3z"/><path color="#1dffe2" d="M180.7 198.3l11.5 -0.1 3.8 2.8 -11.4 0.1z"/><path color="#a4ff5b" d="M689.5 162.2l11.5 0.2 3.9 6.8 -11.5 -0.5z"/><path color="#b4ff4b" d="M678 161.7l11.5 0.5 3.9 6.5 -11.5 -0.8z"/><path color="#c7ff38" d="M666.6 161l11.4 0.7 3.9 6.2 -11.5 -1.1z"/><path color="#dcff23" d="M655.1 160.1l11.5 0.9 3.8 5.8 -11.4 -1.4z"/><path color="#f3ff0c" d="M643.6 159.1l11.5 1 3.9 5.3 -11.5 -1.4z"/><path color="#fff300" d="M632.1 158.1l11.5 1 3.9 4.9 -11.5 -1.6z"/><path color="#ffdb00" d="M620.7 157l11.4 1.1 3.9 4.3 -11.5 -1.7z"/><path color="#ffc400" d="M609.2 156l11.5 1 3.8 3.7 -11.4 -1.5z"/><path color="#ffae00" d="M597.7 155.1l11.5 0.9 3.9 3.2 -11.5 -1.5z"/><path color="#ff9a00" d="M586.2 154.3l11.5 0.8 3.9 2.6 -11.5 -1.4z"/><path color="#ff8900" d="M574.8 153.7l11.4 0.6 3.9 2 -11.5 -1.1z"/><path color="#ff7b00" d="M563.3 153.3l11.5 0.4 3.8 1.5 -11.4 -0.8z"/><path color="#ff7100" d="M551.8 153.2l11.5 0.1 3.9 1.1 -11.5 -0.5z"/><path color="#ff6b00" d="M540.3 153.5l11.5 -0.3 3.9 0.7 -11.5 -0.1z"/><path color="#ff6b00" d="M528.9 154.2l11.4 -0.7 3.9 0.3 -11.5 0.4z"/><path color="#ff7100" d="M517.4 155.2l11.5 -1 3.8 0 -11.4 0.8z"/><path color="#ff7d00" d="M505.9 156.7l11.5 -1.5 3.9 -0.2 -11.5 1.3z"/><path color="#ff8e00" d="M494.4 158.6l11.5 -1.9 3.9 -0.4 -11.5 1.7z"/><path color="#ffa200" d="M482.9 160.7l11.5 -2.1 3.9 -0.6 -11.5 2.1z"/><path color="#ffba00" d="M471.5 163l11.4 -2.3 3.9 -0.6 -11.5 2.2z"/><path color="#ffd500" d="M460 165.6l11.5 -2.6 3.8 -0.7 -11.4 2.6z"/><path color="#fff100" d="M448.5 168.3l11.5 -2.7 3.9 -0.7 -11.5 2.6z"/><path color="#efff10" d="M437 171l11.5 -2.7 3.9 -0.8 -11.5 2.8z"/><path color="#d1ff2e" d="M425.6 173.8l11.4 -2.8 3.9 -0.7 -11.5 2.8z"/><path color="#b4ff4b" d="M414.1 176.5l11.5 -2.7 3.8 -0.7 -11.4 2.8z"/><path color="#98ff67" d="M402.6 179.2l11.5 -2.7 3.9 -0.6 -11.5 2.7z"/><path color="#7eff81" d="M391.1 181.7l11.5 -2.5 3.9 -0.6 -11.5 2.5z"/><path color="#67ff98" d="M379.7 184l11.4 -2.3 3.9 -0.6 -11.5 2.4z"/><path color="#54ffab" d="M368.2 186l11.5 -2 3.8 -0.5 -11.4 2.1z"/><path color="#45ffba" d="M356.7 187.7l11.5 -1.7 3.9 -0.4 -11.5 1.9z"/><path color="#39ffc6" d="M345.2 189.2l11.5 -1.5 3.9 -0.2 -11.5 1.6z"/><path color="#2effd1" d="M333.8 190.6l11.4 -1.4 3.9 -0.1 -11.5 1.6z"/><path color="#23ffdc" d="M322.3 192.1l11.5 -1.5 3.8 0.1 -11.4 1.6z"/><path color="#16ffe9" d="M310.8 193.6l11.5 -1.5 3.9 0.2 -11.5 1.9z"/><path color="#07fff8" d="M299.3 195.4l11.5 -1.8 3.9 0.6 -11.5 2.2z"/><path color="#00f2ff" d="M287.9 197.4l11.4 -2 3.9 1 -11.5 2.5z"/><path color="#00deff" d="M276.4 199.5l11.5 -2.1 3.8 1.5 -11.4 2.6z"/><path color="#00cdff" d="M264.9 201.4l11.5 -1.9 3.9 2 -11.5 2.3z"/><path color="#00c6ff" d="M253.4 202.6l11.5 -1.2 3.9 2.4 -11.5 1.5z"/><path color="#00c9ff" d="M242 203l11.4 -0.4 3.9 2.7 -11.5 0.6z"/><path color="#00d6ff" d="M230.5 202.6l11.5 0.4 3.8 2.9 -11.4 -0.2z"/><path color="#00e9ff" d="M219 202l11.5 0.6 3.9 3.1 -11.5 -0.8z"/><path color="#00fbff" d="M207.5 201.3l11.5 0.7 3.9 2.9 -11.5 -0.7z"/><path color="#09fff6" d="M196 201l11.5 0.3 3.9 2.9 -11.5 -0.3z"/><path color="#11ffee" d="M184.6 201.1l11.4 -0.1 3.9 2.9 -11.5 0z"/><path color="#65ff9a" d="M693.4 168.7l11.5 0.5 3.8 6.8 -11.4 -0.7z"/><path color="#79ff86" d="M681.9 167.9l11.5 0.8 3.9 6.6 -11.5 -1.2z"/><path color="#92ff6d" d="M670.4 166.8l11.5 1.1 3.9 6.2 -11.5 -1.5z"/><path color="#aeff51" d="M659 165.4l11.4 1.4 3.9 5.8 -11.5 -1.8z"/><path color="#cbff34" d="M647.5 164l11.5 1.4 3.8 5.4 -11.4 -2z"/><path color="#ebff14" d="M636 162.4l11.5 1.6 3.9 4.8 -11.5 -2.1z"/><path color="#fff400" d="M624.5 160.7l11.5 1.7 3.9 4.3 -11.5 -2.2z"/><path color="#ffd500" d="M613.1 159.2l11.4 1.5 3.9 3.8 -11.5 -2.2z"/><path color="#ffb700" d="M601.6 157.7l11.5 1.5 3.8 3.1 -11.4 -2z"/><path color="#ff9b00" d="M590.1 156.3l11.5 1.4 3.9 2.6 -11.5 -1.9z"/><path color="#ff8300" d="M578.6 155.2l11.5 1.1 3.9 2.1 -11.5 -1.7z"/><path color="#ff6e00" d="M567.2 154.4l11.4 0.8 3.9 1.5 -11.5 -1.3z"/><path color="#ff5e00" d="M555.7 153.9l11.5 0.5 3.8 1 -11.4 -0.9z"/><path color="#ff5400" d="M544.2 153.8l11.5 0.1 3.9 0.6 -11.5 -0.5z"/><path color="#ff5000" d="M532.7 154.2l11.5 -0.4 3.9 0.2 -11.5 0.1z"/><path color="#ff5300" d="M521.3 155l11.4 -0.8 3.9 -0.1 -11.5 0.6z"/><path color="#ff5c00" d="M509.8 156.3l11.5 -1.3 3.8 -0.3 -11.4 1.2z"/><path color="#ff6b00" d="M498.3 158l11.5 -1.7 3.9 -0.4 -11.5 1.5z"/><path color="#ff7e00" d="M486.8 160.1l11.5 -2.1 3.9 -0.6 -11.5 1.9z"/><path color="#ff9500" d="M475.3 162.3l11.5 -2.2 3.9 -0.8 -11.5 2.3z"/><path color="#ffaf00" d="M463.9 164.9l11.4 -2.6 3.9 -0.7 -11.5 2.4z"/><path color="#ffcc00" d="M452.4 167.5l11.5 -2.6 3.8 -0.9 -11.4 2.7z"/><path color="#ffe900" d="M440.9 170.3l11.5 -2.8 3.9 -0.8 -11.5 2.8z"/><path color="#f7ff08" d="M429.4 173.1l11.5 -2.8 3.9 -0.8 -11.5 2.8z"/><path color="#d9ff26" d="M418 175.9l11.4 -2.8 3.9 -0.8 -11.5 2.8z"/><path color="#bcff43" d="M406.5 178.6l11.5 -2.7 3.8 -0.8 -11.4 2.8z"/><path color="#a1ff5e" d="M395 181.1l11.5 -2.5 3.9 -0.7 -11.5 2.6z"/><path color="#89ff76" d="M383.5 183.5l11.5 -2.4 3.9 -0.6 -11.5 2.5z"/><path color="#74ff8b" d="M372.1 185.6l11.4 -2.1 3.9 -0.5 -11.5 2.2z"/><path color="#64ff9b" d="M360.6 187.5l11.5 -1.9 3.8 -0.4 -11.4 1.9z"/><path color="#56ffa9" d="M349.1 189.1l11.5 -1.6 3.9 -0.4 -11.5 1.8z"/><path color="#49ffb6" d="M337.6 190.7l11.5 -1.6 3.9 -0.2 -11.5 1.7z"/><path color="#3bffc4" d="M326.2 192.3l11.4 -1.6 3.9 -0.1 -11.5 1.9z"/><path color="#2affd5" d="M314.7 194.2l11.5 -1.9 3.8 0.2 -11.4 2.2z"/><path color="#15ffea" d="M303.2 196.4l11.5 -2.2 3.9 0.5 -11.5 2.6z"/><path color="#00faff" d="M291.7 198.9l11.5 -2.5 3.9 0.9 -11.5 2.9z"/><path color="#00deff" d="M280.3 201.5l11.4 -2.6 3.9 1.3 -11.5 3.2z"/><path color="#00c7ff" d="M268.8 203.8l11.5 -2.3 3.8 1.9 -11.4 2.8z"/><path color="#00baff" d="M257.3 205.3l11.5 -1.5 3.9 2.4 -11.5 1.9z"/><path color="#00bbff" d="M245.8 205.9l11.5 -0.6 3.9 2.8 -11.5 0.8z"/><path color="#00c8ff" d="M234.4 205.7l11.4 0.2 3.9 3 -11.5 -0.3z"/><path color="#00dbff" d="M222.9 204.9l11.5 0.8 3.8 2.9 -11.4 -0.8z"/><path color="#00eeff" d="M211.4 204.2l11.5 0.7 3.9 2.9 -11.5 -0.7z"/><path color="#00fcff" d="M199.9 203.9l11.5 0.3 3.9 2.9 -11.5 -0.5z"/><path color="#05fffa" d="M188.4 203.9l11.5 0 3.9 2.7 -11.5 0.1z"/><path color="#25ffda" d="M697.3 175.3l11.4 0.7 3.9 6.8 -11.5 -1z"/><path color="#3effc1" d="M685.8 174.1l11.5 1.2 3.8 6.5 -11.4 -1.5z"/><path color="#5cffa3" d="M674.3 172.6l11.5 1.5 3.9 6.2 -11.5 -1.9z"/><path color="#7eff81" d="M662.8 170.8l11.5 1.8 3.9 5.8 -11.5 -2.3z"/><path color="#a3ff5c" d="M651.4 168.8l11.4 2 3.9 5.3 -11.5 -2.5z"/><path color="#caff35" d="M639.9 166.7l11.5 2.1 3.8 4.8 -11.4 -2.6z"/><path color="#f1ff0e" d="M628.4 164.5l11.5 2.2 3.9 4.3 -11.5 -2.8z"/><path color="#ffe500" d="M616.9 162.3l11.5 2.2 3.9 3.7 -11.5 -2.7z"/><path color="#ffc000" d="M605.5 160.3l11.4 2 3.9 3.2 -11.5 -2.6z"/><path color="#ff9c00" d="M594 158.4l11.5 1.9 3.8 2.6 -11.4 -2.5z"/><path color="#ff7c00" d="M582.5 156.7l11.5 1.7 3.9 2 -11.5 -2.1z"/><path color="#ff6100" d="M571 155.4l11.5 1.3 3.9 1.6 -11.5 -1.9z"/><path color="#ff4b00" d="M559.6 154.5l11.4 0.9 3.9 1 -11.5 -1.3z"/><path color="#ff3b00" d="M548.1 154l11.5 0.5 3.8 0.6 -11.4 -0.8z"/><path color="#ff3300" d="M536.6 154.1l11.5 -0.1 3.9 0.3 -11.5 -0.2z"/><path color="#ff3300" d="M525.1 154.7l11.5 -0.6 3.9 0 -11.5 0.4z"/><path color="#ff3a00" d="M513.7 155.9l11.4 -1.2 3.9 -0.2 -11.5 0.9z"/><path color="#ff4700" d="M502.2 157.4l11.5 -1.5 3.8 -0.5 -11.4 1.4z"/><path color="#ff5900" d="M490.7 159.3l11.5 -1.9 3.9 -0.6 -11.5 1.9z"/><path color="#ff6f00" d="M479.2 161.6l11.5 -2.3 3.9 -0.6 -11.5 2.1z"/><path color="#ff8800" d="M467.7 164l11.5 -2.4 3.9 -0.8 -11.5 2.4z"/><path color="#ffa400" d="M456.3 166.7l11.4 -2.7 3.9 -0.8 -11.5 2.6z"/><path color="#ffc200" d="M444.8 169.5l11.5 -2.8 3.8 -0.9 -11.4 2.8z"/><path color="#ffe100" d="M433.3 172.3l11.5 -2.8 3.9 -0.9 -11.5 2.9z"/><path color="#ffff00" d="M421.8 175.1l11.5 -2.8 3.9 -0.8 -11.5 2.8z"/><path color="#e1ff1e" d="M410.4 177.9l11.4 -2.8 3.9 -0.8 -11.5 2.9z"/><path color="#c5ff3a" d="M398.9 180.5l11.5 -2.6 3.8 -0.7 -11.4 2.7z"/><path color="#acff53" d="M387.4 183l11.5 -2.5 3.9 -0.6 -11.5 2.5z"/><path color="#96ff69" d="M375.9 185.2l11.5 -2.2 3.9 -0.6 -11.5 2.3z"/><path color="#84ff7b" d="M364.5 187.1l11.4 -1.9 3.9 -0.5 -11.5 2z"/><path color="#75ff8a" d="M353 188.9l11.5 -1.8 3.8 -0.4 -11.4 1.9z"/><path color="#65ff9a" d="M341.5 190.6l11.5 -1.7 3.9 -0.3 -11.5 1.9z"/><path color="#54ffab" d="M330 192.5l11.5 -1.9 3.9 -0.1 -11.5 2.1z"/><path color="#3fffc0" d="M318.6 194.7l11.4 -2.2 3.9 0.1 -11.5 2.5z"/><path color="#24ffdb" d="M307.1 197.3l11.5 -2.6 3.8 0.4 -11.4 3z"/><path color="#03fffc" d="M295.6 200.2l11.5 -2.9 3.9 0.8 -11.5 3.4z"/><path color="#00dfff" d="M284.1 203.4l11.5 -3.2 3.9 1.3 -11.5 3.7z"/><path color="#00c1ff" d="M272.7 206.2l11.4 -2.8 3.9 1.8 -11.5 3.3z"/><path color="#00afff" d="M261.2 208.1l11.5 -1.9 3.8 2.3 -11.4 2.3z"/><path color="#00adff" d="M249.7 208.9l11.5 -0.8 3.9 2.7 -11.5 1z"/><path color="#00baff" d="M238.2 208.6l11.5 0.3 3.9 2.9 -11.5 -0.2z"/><path color="#00ceff" d="M226.8 207.8l11.4 0.8 3.9 3 -11.5 -0.9z"/><path color="#00e2ff" d="M215.3 207.1l11.5 0.7 3.8 2.9 -11.4 -0.9z"/><path color="#00f1ff" d="M203.8 206.6l11.5 0.5 3.9 2.7 -11.5 -0.4z"/><path color="#00f9ff" d="M192.3 206.7l11.5 -0.1 3.9 2.8 -11.5 0z"/><path color="#00e4ff" d="M701.1 181.8l11.5 1 3.9 6.6 -11.5 -1.2z"/><path color="#03fffc" d="M689.7 180.3l11.4 1.5 3.9 6.4 -11.5 -1.8z"/><path color="#27ffd8" d="M678.2 178.4l11.5 1.9 3.8 6.1 -11.4 -2.3z"/><path color="#4fffb0" d="M666.7 176.1l11.5 2.3 3.9 5.7 -11.5 -2.7z"/><path color="#7bff84" d="M655.2 173.6l11.5 2.5 3.9 5.3 -11.5 -3z"/><path color="#aaff55" d="M643.8 171l11.4 2.6 3.9 4.8 -11.5 -3.2z"/><path color="#d9ff26" d="M632.3 168.2l11.5 2.8 3.8 4.2 -11.4 -3.3z"/><path color="#fff600" d="M620.8 165.5l11.5 2.7 3.9 3.7 -11.5 -3.3z"/><path color="#ffc800" d="M609.3 162.9l11.5 2.6 3.9 3.1 -11.5 -3.1z"/><path color="#ff9d00" d="M597.9 160.4l11.4 2.5 3.9 2.6 -11.5 -3z"/><path color="#ff7600" d="M586.4 158.3l11.5 2.1 3.8 2.1 -11.4 -2.7z"/><path color="#ff5400" d="M574.9 156.4l11.5 1.9 3.9 1.5 -11.5 -2.3z"/><path color="#ff3800" d="M563.4 155.1l11.5 1.3 3.9 1.1 -11.5 -1.7z"/><path color="#ff2300" d="M552 154.3l11.4 0.8 3.9 0.7 -11.5 -1.2z"/><path color="#ff1700" d="M540.5 154.1l11.5 0.2 3.8 0.3 -11.4 -0.5z"/><path color="#ff1400" d="M529 154.5l11.5 -0.4 3.9 0 -11.5 0.2z"/><path color="#ff1900" d="M517.5 155.4l11.5 -0.9 3.9 -0.2 -11.5 0.8z"/><path color="#ff2300" d="M506.1 156.8l11.4 -1.4 3.9 -0.3 -11.5 1.2z"/><path color="#ff3400" d="M494.6 158.7l11.5 -1.9 3.8 -0.5 -11.4 1.7z"/><path color="#ff4900" d="M483.1 160.8l11.5 -2.1 3.9 -0.7 -11.5 2.1z"/><path color="#ff6100" d="M471.6 163.2l11.5 -2.4 3.9 -0.7 -11.5 2.4z"/><path color="#ff7d00" d="M460.1 165.8l11.5 -2.6 3.9 -0.7 -11.5 2.6z"/><path color="#ff9b00" d="M448.7 168.6l11.4 -2.8 3.9 -0.7 -11.5 2.7z"/><path color="#ffba00" d="M437.2 171.5l11.5 -2.9 3.8 -0.8 -11.4 2.9z"/><path color="#ffd900" d="M425.7 174.3l11.5 -2.8 3.9 -0.8 -11.5 2.9z"/><path color="#fff700" d="M414.2 177.2l11.5 -2.9 3.9 -0.7 -11.5 2.8z"/><path color="#eaff15" d="M402.8 179.9l11.4 -2.7 3.9 -0.8 -11.5 2.8z"/><path color="#d0ff2f" d="M391.3 182.4l11.5 -2.5 3.8 -0.7 -11.4 2.6z"/><path color="#b9ff46" d="M379.8 184.7l11.5 -2.3 3.9 -0.6 -11.5 2.4z"/><path color="#a6ff59" d="M368.3 186.7l11.5 -2 3.9 -0.5 -11.5 2.1z"/><path color="#95ff6a" d="M356.9 188.6l11.4 -1.9 3.9 -0.4 -11.5 1.9z"/><path color="#83ff7c" d="M345.4 190.5l11.5 -1.9 3.8 -0.4 -11.4 2.1z"/><path color="#6eff91" d="M333.9 192.6l11.5 -2.1 3.9 -0.2 -11.5 2.4z"/><path color="#55ffaa" d="M322.4 195.1l11.5 -2.5 3.9 0.1 -11.5 2.7z"/><path color="#34ffcb" d="M311 198.1l11.4 -3 3.9 0.3 -11.5 3.4z"/><path color="#0cfff3" d="M299.5 201.5l11.5 -3.4 3.8 0.7 -11.4 4z"/><path color="#00e1ff" d="M288 205.2l11.5 -3.7 3.9 1.3 -11.5 4.2z"/><path color="#00bcff" d="M276.5 208.5l11.5 -3.3 3.9 1.8 -11.5 3.7z"/><path color="#00a5ff" d="M265.1 210.8l11.4 -2.3 3.9 2.2 -11.5 2.7z"/><path color="#00a0ff" d="M253.6 211.8l11.5 -1 3.8 2.6 -11.4 1.2z"/><path color="#00acff" d="M242.1 211.6l11.5 0.2 3.9 2.8 -11.5 -0.2z"/><path color="#00c1ff" d="M230.6 210.7l11.5 0.9 3.9 2.8 -11.5 -0.9z"/><path color="#00d7ff" d="M219.2 209.8l11.4 0.9 3.9 2.8 -11.5 -1z"/><path color="#00e6ff" d="M207.7 209.4l11.5 0.4 3.8 2.7 -11.4 -0.5z"/><path color="#00efff" d="M196.2 209.4l11.5 0 3.9 2.6 -11.5 0z"/><path color="#00a6ff" d="M705 188.2l11.5 1.2 3.9 6.4 -11.5 -1.5z"/><path color="#00c9ff" d="M693.5 186.4l11.5 1.8 3.9 6.1 -11.5 -2.1z"/><path color="#00f2ff" d="M682.1 184.1l11.4 2.3 3.9 5.8 -11.5 -2.7z"/><path color="#22ffdd" d="M670.6 181.4l11.5 2.7 3.8 5.4 -11.4 -3.1z"/><path color="#55ffaa" d="M659.1 178.4l11.5 3 3.9 5 -11.5 -3.4z"/><path color="#8aff75" d="M647.6 175.2l11.5 3.2 3.9 4.6 -11.5 -3.7z"/><path color="#c1ff3e" d="M636.2 171.9l11.4 3.3 3.9 4.1 -11.5 -3.8z"/><path color="#f8ff07" d="M624.7 168.6l11.5 3.3 3.8 3.6 -11.4 -3.8z"/><path color="#ffd100" d="M613.2 165.5l11.5 3.1 3.9 3.1 -11.5 -3.7z"/><path color="#ff9f00" d="M601.7 162.5l11.5 3 3.9 2.5 -11.5 -3.4z"/><path color="#ff7000" d="M590.3 159.8l11.4 2.7 3.9 2.1 -11.5 -3.2z"/><path color="#ff4800" d="M578.8 157.5l11.5 2.3 3.8 1.6 -11.4 -2.7z"/><path color="#ff2600" d="M567.3 155.8l11.5 1.7 3.9 1.2 -11.5 -2.1z"/><path color="#ff0c00" d="M555.8 154.6l11.5 1.2 3.9 0.8 -11.5 -1.5z"/><path color="#fc0000" d="M544.4 154.1l11.4 0.5 3.9 0.5 -11.5 -0.8z"/><path color="#f50000" d="M532.9 154.3l11.5 -0.2 3.8 0.2 -11.4 0z"/><path color="#f70000" d="M521.4 155.1l11.5 -0.8 3.9 0 -11.5 0.6z"/><path color="#ff0100" d="M509.9 156.3l11.5 -1.2 3.9 -0.2 -11.5 1.1z"/><path color="#ff1000" d="M498.5 158l11.4 -1.7 3.9 -0.3 -11.5 1.6z"/><path color="#ff2300" d="M487 160.1l11.5 -2.1 3.8 -0.4 -11.4 2z"/><path color="#ff3b00" d="M475.5 162.5l11.5 -2.4 3.9 -0.5 -11.5 2.2z"/><path color="#ff5700" d="M464 165.1l11.5 -2.6 3.9 -0.7 -11.5 2.6z"/><path color="#ff7400" d="M452.5 167.8l11.5 -2.7 3.9 -0.7 -11.5 2.7z"/><path color="#ff9300" d="M441.1 170.7l11.4 -2.9 3.9 -0.7 -11.5 2.9z"/><path color="#ffb300" d="M429.6 173.6l11.5 -2.9 3.8 -0.7 -11.4 2.9z"/><path color="#ffd200" d="M418.1 176.4l11.5 -2.8 3.9 -0.7 -11.5 2.9z"/><path color="#ffef00" d="M406.6 179.2l11.5 -2.8 3.9 -0.6 -11.5 2.8z"/><path color="#f4ff0b" d="M395.2 181.8l11.4 -2.6 3.9 -0.6 -11.5 2.6z"/><path color="#dcff23" d="M383.7 184.2l11.5 -2.4 3.8 -0.6 -11.4 2.5z"/><path color="#c7ff38" d="M372.2 186.3l11.5 -2.1 3.9 -0.5 -11.5 2.1z"/><path color="#b5ff4a" d="M360.7 188.2l11.5 -1.9 3.9 -0.5 -11.5 2.1z"/><path color="#a1ff5e" d="M349.3 190.3l11.4 -2.1 3.9 -0.3 -11.5 2.2z"/><path color="#89ff76" d="M337.8 192.7l11.5 -2.4 3.8 -0.2 -11.4 2.6z"/><path color="#6bff94" d="M326.3 195.4l11.5 -2.7 3.9 0 -11.5 3.1z"/><path color="#45ffba" d="M314.8 198.8l11.5 -3.4 3.9 0.4 -11.5 3.7z"/><path color="#17ffe8" d="M303.4 202.8l11.4 -4 3.9 0.7 -11.5 4.4z"/><path color="#00e4ff" d="M291.9 207l11.5 -4.2 3.8 1.1 -11.4 4.7z"/><path color="#00b8ff" d="M280.4 210.7l11.5 -3.7 3.9 1.6 -11.5 4.2z"/><path color="#009cff" d="M268.9 213.4l11.5 -2.7 3.9 2.1 -11.5 3z"/><path color="#0095ff" d="M257.5 214.6l11.4 -1.2 3.9 2.4 -11.5 1.4z"/><path color="#00a1ff" d="M246 214.4l11.5 0.2 3.8 2.6 -11.4 -0.2z"/><path color="#00b6ff" d="M234.5 213.5l11.5 0.9 3.9 2.6 -11.5 -0.9z"/><path color="#00cdff" d="M223 212.5l11.5 1 3.9 2.6 -11.5 -1z"/><path color="#00ddff" d="M211.6 212l11.4 0.5 3.9 2.6 -11.5 -0.6z"/><path color="#00e6ff" d="M200.1 212l11.5 0 3.8 2.5 -11.4 0z"/><path color="#006cff" d="M708.9 194.3l11.5 1.5 3.8 6 -11.4 -1.7z"/><path color="#0093ff" d="M697.4 192.2l11.5 2.1 3.9 5.8 -11.5 -2.4z"/><path color="#00c1ff" d="M685.9 189.5l11.5 2.7 3.9 5.5 -11.5 -3z"/><path color="#00f6ff" d="M674.5 186.4l11.4 3.1 3.9 5.2 -11.5 -3.5z"/><path color="#30ffcf" d="M663 183l11.5 3.4 3.8 4.8 -11.4 -3.8z"/><path color="#6cff93" d="M651.5 179.3l11.5 3.7 3.9 4.4 -11.5 -4.1z"/><path color="#aaff55" d="M640 175.5l11.5 3.8 3.9 4 -11.5 -4.3z"/><path color="#e8ff17" d="M628.6 171.7l11.4 3.8 3.9 3.5 -11.5 -4.2z"/><path color="#ffda00" d="M617.1 168l11.5 3.7 3.8 3.1 -11.4 -4.1z"/><path color="#ffa000" d="M605.6 164.6l11.5 3.4 3.9 2.7 -11.5 -4z"/><path color="#ff6c00" d="M594.1 161.4l11.5 3.2 3.9 2.1 -11.5 -3.5z"/><path color="#ff3d00" d="M582.7 158.7l11.4 2.7 3.9 1.8 -11.5 -3.1z"/><path color="#ff1600" d="M571.2 156.6l11.5 2.1 3.8 1.4 -11.4 -2.5z"/><path color="#f60000" d="M559.7 155.1l11.5 1.5 3.9 1 -11.5 -1.9z"/><path color="#e30000" d="M548.2 154.3l11.5 0.8 3.9 0.6 -11.5 -0.9z"/><path color="#da0000" d="M536.8 154.3l11.4 0 3.9 0.5 -11.5 -0.3z"/><path color="#d90000" d="M525.3 154.9l11.5 -0.6 3.8 0.2 -11.4 0.5z"/><path color="#e00000" d="M513.8 156l11.5 -1.1 3.9 0.1 -11.5 0.9z"/><path color="#ed0000" d="M502.3 157.6l11.5 -1.6 3.9 -0.1 -11.5 1.5z"/><path color="#ff0000" d="M490.9 159.6l11.4 -2 3.9 -0.2 -11.5 1.8z"/><path color="#ff1700" d="M479.4 161.8l11.5 -2.2 3.8 -0.4 -11.4 2.2z"/><path color="#ff3200" d="M467.9 164.4l11.5 -2.6 3.9 -0.4 -11.5 2.5z"/><path color="#ff4f00" d="M456.4 167.1l11.5 -2.7 3.9 -0.5 -11.5 2.7z"/><path color="#ff6e00" d="M444.9 170l11.5 -2.9 3.9 -0.5 -11.5 2.9z"/><path color="#ff8e00" d="M433.5 172.9l11.4 -2.9 3.9 -0.5 -11.5 2.9z"/><path color="#ffad00" d="M422 175.8l11.5 -2.9 3.8 -0.5 -11.4 2.8z"/><path color="#ffcb00" d="M410.5 178.6l11.5 -2.8 3.9 -0.6 -11.5 2.9z"/><path color="#ffe700" d="M399 181.2l11.5 -2.6 3.9 -0.5 -11.5 2.7z"/><path color="#feff01" d="M387.6 183.7l11.4 -2.5 3.9 -0.4 -11.5 2.4z"/><path color="#e9ff16" d="M376.1 185.8l11.5 -2.1 3.8 -0.5 -11.4 2.3z"/><path color="#d5ff2a" d="M364.6 187.9l11.5 -2.1 3.9 -0.3 -11.5 2.1z"/><path color="#bfff40" d="M353.1 190.1l11.5 -2.2 3.9 -0.3 -11.5 2.4z"/><path color="#a4ff5b" d="M341.7 192.7l11.4 -2.6 3.9 -0.1 -11.5 2.8z"/><path color="#82ff7d" d="M330.2 195.8l11.5 -3.1 3.8 0.1 -11.4 3.3z"/><path color="#57ffa8" d="M318.7 199.5l11.5 -3.7 3.9 0.3 -11.5 4.1z"/><path color="#22ffdd" d="M307.2 203.9l11.5 -4.4 3.9 0.7 -11.5 4.8z"/><path color="#00e9ff" d="M295.8 208.6l11.4 -4.7 3.9 1.1 -11.5 5.1z"/><path color="#00b7ff" d="M284.3 212.8l11.5 -4.2 3.8 1.5 -11.4 4.6z"/><path color="#0096ff" d="M272.8 215.8l11.5 -3 3.9 1.9 -11.5 3.3z"/><path color="#008cff" d="M261.3 217.2l11.5 -1.4 3.9 2.2 -11.5 1.6z"/><path color="#0097ff" d="M249.9 217l11.4 0.2 3.9 2.4 -11.5 -0.1z"/><path color="#00adff" d="M238.4 216.1l11.5 0.9 3.8 2.5 -11.4 -1z"/><path color="#00c4ff" d="M226.9 215.1l11.5 1 3.9 2.4 -11.5 -1z"/><path color="#00d5ff" d="M215.4 214.5l11.5 0.6 3.9 2.4 -11.5 -0.6z"/><path color="#00deff" d="M204 214.5l11.4 0 3.9 2.4 -11.5 0z"/><path color="#0037ff" d="M712.8 200.1l11.4 1.7 3.9 5.5 -11.5 -1.8z"/><path color="#0061ff" d="M701.3 197.7l11.5 2.4 3.8 5.4 -11.4 -2.7z"/><path color="#0094ff" d="M689.8 194.7l11.5 3 3.9 5.1 -11.5 -3.2z"/><path color="#00ceff" d="M678.3 191.2l11.5 3.5 3.9 4.9 -11.5 -3.8z"/><path color="#0efff1" d="M666.9 187.4l11.4 3.8 3.9 4.6 -11.5 -4.3z"/><path color="#50ffaf" d="M655.4 183.3l11.5 4.1 3.8 4.1 -11.4 -4.4z"/><path color="#94ff6b" d="M643.9 179l11.5 4.3 3.9 3.8 -11.5 -4.7z"/><path color="#d9ff26" d="M632.4 174.8l11.5 4.2 3.9 3.4 -11.5 -4.6z"/><path color="#ffe300" d="M621 170.7l11.4 4.1 3.9 3 -11.5 -4.5z"/><path color="#ffa300" d="M609.5 166.7l11.5 4 3.8 2.6 -11.4 -4.3z"/><path color="#ff6800" d="M598 163.2l11.5 3.5 3.9 2.3 -11.5 -3.9z"/><path color="#ff3400" d="M586.5 160.1l11.5 3.1 3.9 1.9 -11.5 -3.5z"/><path color="#ff0800" d="M575.1 157.6l11.4 2.5 3.9 1.5 -11.5 -2.8z"/><path color="#e40000" d="M563.6 155.7l11.5 1.9 3.8 1.2 -11.4 -2.1z"/><path color="#ce0000" d="M552.1 154.8l11.5 0.9 3.9 1 -11.5 -1.2z"/><path color="#c20000" d="M540.6 154.5l11.5 0.3 3.9 0.7 -11.5 -0.4z"/><path color="#be0000" d="M529.2 155l11.4 -0.5 3.9 0.6 -11.5 0.2z"/><path color="#c30000" d="M517.7 155.9l11.5 -0.9 3.8 0.3 -11.4 0.9z"/><path color="#ce0000" d="M506.2 157.4l11.5 -1.5 3.9 0.3 -11.5 1.3z"/><path color="#df0000" d="M494.7 159.2l11.5 -1.8 3.9 0.1 -11.5 1.7z"/><path color="#f50000" d="M483.3 161.4l11.4 -2.2 3.9 0 -11.5 2.1z"/><path color="#ff1000" d="M471.8 163.9l11.5 -2.5 3.8 -0.1 -11.4 2.4z"/><path color="#ff2c00" d="M460.3 166.6l11.5 -2.7 3.9 -0.2 -11.5 2.7z"/><path color="#ff4b00" d="M448.8 169.5l11.5 -2.9 3.9 -0.2 -11.5 2.7z"/><path color="#ff6a00" d="M437.3 172.4l11.5 -2.9 3.9 -0.4 -11.5 2.9z"/><path color="#ff8a00" d="M425.9 175.2l11.4 -2.8 3.9 -0.4 -11.5 2.9z"/><path color="#ffa800" d="M414.4 178.1l11.5 -2.9 3.8 -0.3 -11.4 2.8z"/><path color="#ffc500" d="M402.9 180.8l11.5 -2.7 3.9 -0.4 -11.5 2.7z"/><path color="#ffde00" d="M391.4 183.2l11.5 -2.4 3.9 -0.4 -11.5 2.5z"/><path color="#fff400" d="M380 185.5l11.4 -2.3 3.9 -0.3 -11.5 2.3z"/><path color="#f4ff0b" d="M368.5 187.6l11.5 -2.1 3.8 -0.3 -11.4 2.2z"/><path color="#dcff23" d="M357 190l11.5 -2.4 3.9 -0.2 -11.5 2.5z"/><path color="#bfff40" d="M345.5 192.8l11.5 -2.8 3.9 -0.1 -11.5 2.9z"/><path color="#99ff66" d="M334.1 196.1l11.4 -3.3 3.9 0 -11.5 3.6z"/><path color="#69ff96" d="M322.6 200.2l11.5 -4.1 3.8 0.3 -11.4 4.4z"/><path color="#2fffd0" d="M311.1 205l11.5 -4.8 3.9 0.6 -11.5 5.1z"/><path color="#00f0ff" d="M299.6 210.1l11.5 -5.1 3.9 0.9 -11.5 5.5z"/><path color="#00b8ff" d="M288.2 214.7l11.4 -4.6 3.9 1.3 -11.5 5z"/><path color="#0093ff" d="M276.7 218l11.5 -3.3 3.8 1.7 -11.4 3.6z"/><path color="#0086ff" d="M265.2 219.6l11.5 -1.6 3.9 2 -11.5 1.7z"/><path color="#0090ff" d="M253.7 219.5l11.5 0.1 3.9 2.1 -11.5 0z"/><path color="#00a7ff" d="M242.3 218.5l11.4 1 3.9 2.2 -11.5 -0.9z"/><path color="#00beff" d="M230.8 217.5l11.5 1 3.8 2.3 -11.4 -1.1z"/><path color="#00cfff" d="M219.3 216.9l11.5 0.6 3.9 2.2 -11.5 -0.5z"/><path color="#00d8ff" d="M207.8 216.9l11.5 0 3.9 2.3 -11.5 0z"/><path color="#0008ff" d="M716.6 205.5l11.5 1.8 3.9 5 -11.5 -2z"/><path color="#0035ff" d="M705.2 202.8l11.4 2.7 3.9 4.8 -11.5 -2.9z"/><path color="#006cff" d="M693.7 199.6l11.5 3.2 3.8 4.6 -11.4 -3.5z"/><path color="#00aaff" d="M682.2 195.8l11.5 3.8 3.9 4.3 -11.5 -4z"/><path color="#00eeff" d="M670.7 191.5l11.5 4.3 3.9 4.1 -11.5 -4.5z"/><path color="#37ffc8" d="M659.3 187.1l11.4 4.4 3.9 3.9 -11.5 -4.8z"/><path color="#80ff7f" d="M647.8 182.4l11.5 4.7 3.8 3.5 -11.4 -4.9z"/><path color="#caff35" d="M636.3 177.8l11.5 4.6 3.9 3.3 -11.5 -4.9z"/><path color="#ffec00" d="M624.8 173.3l11.5 4.5 3.9 3 -11.5 -4.9z"/><path color="#ffa700" d="M613.4 169l11.4 4.3 3.9 2.6 -11.5 -4.6z"/><path color="#ff6700" d="M601.9 165.1l11.5 3.9 3.8 2.3 -11.4 -4.2z"/><path color="#ff2e00" d="M590.4 161.6l11.5 3.5 3.9 2 -11.5 -3.7z"/><path color="#fc0000" d="M578.9 158.8l11.5 2.8 3.9 1.8 -11.5 -3.1z"/><path color="#d60000" d="M567.5 156.7l11.4 2.1 3.9 1.5 -11.5 -2.3z"/><path color="#bc0000" d="M556 155.5l11.5 1.2 3.8 1.3 -11.4 -1.4z"/><path color="#ae0000" d="M544.5 155.1l11.5 0.4 3.9 1.1 -11.5 -0.6z"/><path color="#a80000" d="M533 155.3l11.5 -0.2 3.9 0.9 -11.5 0.1z"/><path color="#ab0000" d="M521.6 156.2l11.4 -0.9 3.9 0.8 -11.5 0.7z"/><path color="#b40000" d="M510.1 157.5l11.5 -1.3 3.8 0.6 -11.4 1.2z"/><path color="#c40000" d="M498.6 159.2l11.5 -1.7 3.9 0.5 -11.5 1.6z"/><path color="#d80000" d="M487.1 161.3l11.5 -2.1 3.9 0.4 -11.5 2z"/><path color="#f10000" d="M475.7 163.7l11.4 -2.4 3.9 0.3 -11.5 2.3z"/><path color="#ff0d00" d="M464.2 166.4l11.5 -2.7 3.8 0.2 -11.4 2.5z"/><path color="#ff2b00" d="M452.7 169.1l11.5 -2.7 3.9 0 -11.5 2.7z"/><path color="#ff4a00" d="M441.2 172l11.5 -2.9 3.9 0 -11.5 2.8z"/><path color="#ff6900" d="M429.7 174.9l11.5 -2.9 3.9 -0.1 -11.5 2.8z"/><path color="#ff8800" d="M418.3 177.7l11.4 -2.8 3.9 -0.2 -11.5 2.8z"/><path color="#ffa400" d="M406.8 180.4l11.5 -2.7 3.8 -0.2 -11.4 2.7z"/><path color="#ffbe00" d="M395.3 182.9l11.5 -2.5 3.9 -0.2 -11.5 2.5z"/><path color="#ffd500" d="M383.8 185.2l11.5 -2.3 3.9 -0.2 -11.5 2.3z"/><path color="#ffeb00" d="M372.4 187.4l11.4 -2.2 3.9 -0.2 -11.5 2.3z"/><path color="#f9ff06" d="M360.9 189.9l11.5 -2.5 3.8 -0.1 -11.4 2.6z"/><path color="#d9ff26" d="M349.4 192.8l11.5 -2.9 3.9 0 -11.5 3.1z"/><path color="#b0ff4f" d="M337.9 196.4l11.5 -3.6 3.9 0.2 -11.5 3.7z"/><path color="#7cff83" d="M326.5 200.8l11.4 -4.4 3.9 0.3 -11.5 4.6z"/><path color="#3dffc2" d="M315 205.9l11.5 -5.1 3.8 0.5 -11.4 5.4z"/><path color="#00f9ff" d="M303.5 211.4l11.5 -5.5 3.9 0.8 -11.5 5.8z"/><path color="#00bcff" d="M292 216.4l11.5 -5 3.9 1.1 -11.5 5.3z"/><path color="#0093ff" d="M280.6 220l11.4 -3.6 3.9 1.4 -11.5 3.8z"/><path color="#0084ff" d="M269.1 221.7l11.5 -1.7 3.8 1.6 -11.4 1.9z"/><path color="#008dff" d="M257.6 221.7l11.5 0 3.9 1.8 -11.5 0.1z"/><path color="#00a3ff" d="M246.1 220.8l11.5 0.9 3.9 1.9 -11.5 -0.8z"/><path color="#00baff" d="M234.7 219.7l11.4 1.1 3.9 2 -11.5 -1z"/><path color="#00cbff" d="M223.2 219.2l11.5 0.5 3.8 2.1 -11.4 -0.5z"/><path color="#00d3ff" d="M211.7 219.2l11.5 0 3.9 2.1 -11.5 0.1z"/><path color="#0000df" d="M720.5 210.3l11.5 2 3.9 4.2 -11.5 -2.1z"/><path color="#0011ff" d="M709 207.4l11.5 2.9 3.9 4.1 -11.5 -3z"/><path color="#004bff" d="M697.6 203.9l11.4 3.5 3.9 4 -11.5 -3.6z"/><path color="#008cff" d="M686.1 199.9l11.5 4 3.8 3.9 -11.4 -4.3z"/><path color="#00d4ff" d="M674.6 195.4l11.5 4.5 3.9 3.6 -11.5 -4.6z"/><path color="#21ffde" d="M663.1 190.6l11.5 4.8 3.9 3.5 -11.5 -5z"/><path color="#6eff91" d="M651.7 185.7l11.4 4.9 3.9 3.3 -11.5 -5.1z"/><path color="#bcff43" d="M640.2 180.8l11.5 4.9 3.8 3.1 -11.4 -5.2z"/><path color="#fff500" d="M628.7 175.9l11.5 4.9 3.9 2.8 -11.5 -5z"/><path color="#ffac00" d="M617.2 171.3l11.5 4.6 3.9 2.7 -11.5 -4.8z"/><path color="#ff6800" d="M605.8 167.1l11.4 4.2 3.9 2.5 -11.5 -4.5z"/><path color="#ff2b00" d="M594.3 163.4l11.5 3.7 3.8 2.2 -11.4 -3.9z"/><path color="#f60000" d="M582.8 160.3l11.5 3.1 3.9 2 -11.5 -3.2z"/><path color="#cd0000" d="M571.3 158l11.5 2.3 3.9 1.9 -11.5 -2.5z"/><path color="#b00000" d="M559.9 156.6l11.4 1.4 3.9 1.7 -11.5 -1.6z"/><path color="#9f0000" d="M548.4 156l11.5 0.6 3.8 1.5 -11.4 -0.7z"/><path color="#980000" d="M536.9 156.1l11.5 -0.1 3.9 1.4 -11.5 0z"/><path color="#980000" d="M525.4 156.8l11.5 -0.7 3.9 1.3 -11.5 0.5z"/><path color="#9f0000" d="M514 158l11.4 -1.2 3.9 1.1 -11.5 1z"/><path color="#ad0000" d="M502.5 159.6l11.5 -1.6 3.8 0.9 -11.4 1.5z"/><path color="#c00000" d="M491 161.6l11.5 -2 3.9 0.8 -11.5 1.9z"/><path color="#d70000" d="M479.5 163.9l11.5 -2.3 3.9 0.7 -11.5 2.1z"/><path color="#f10000" d="M468.1 166.4l11.4 -2.5 3.9 0.5 -11.5 2.4z"/><path color="#ff0f00" d="M456.6 169.1l11.5 -2.7 3.8 0.4 -11.4 2.6z"/><path color="#ff2d00" d="M445.1 171.9l11.5 -2.8 3.9 0.3 -11.5 2.7z"/><path color="#ff4c00" d="M433.6 174.7l11.5 -2.8 3.9 0.2 -11.5 2.8z"/><path color="#ff6a00" d="M422.1 177.5l11.5 -2.8 3.9 0.2 -11.5 2.7z"/><path color="#ff8600" d="M410.7 180.2l11.4 -2.7 3.9 0.1 -11.5 2.7z"/><path color="#ffa000" d="M399.2 182.7l11.5 -2.5 3.8 0.1 -11.4 2.4z"/><path color="#ffb700" d="M387.7 185l11.5 -2.3 3.9 0 -11.5 2.3z"/><path color="#ffce00" d="M376.2 187.3l11.5 -2.3 3.9 0 -11.5 2.4z"/><path color="#ffea00" d="M364.8 189.9l11.4 -2.6 3.9 0.1 -11.5 2.6z"/><path color="#f3ff0c" d="M353.3 193l11.5 -3.1 3.8 0.1 -11.4 3.2z"/><path color="#c7ff38" d="M341.8 196.7l11.5 -3.7 3.9 0.2 -11.5 3.9z"/><path color="#90ff6f" d="M330.3 201.3l11.5 -4.6 3.9 0.4 -11.5 4.8z"/><path color="#4dffb2" d="M318.9 206.7l11.4 -5.4 3.9 0.6 -11.5 5.6z"/><path color="#06fff9" d="M307.4 212.5l11.5 -5.8 3.8 0.8 -11.4 6z"/><path color="#00c4ff" d="M295.9 217.8l11.5 -5.3 3.9 1 -11.5 5.4z"/><path color="#0097ff" d="M284.4 221.6l11.5 -3.8 3.9 1.1 -11.5 4.1z"/><path color="#0086ff" d="M273 223.5l11.4 -1.9 3.9 1.4 -11.5 2z"/><path color="#008dff" d="M261.5 223.6l11.5 -0.1 3.8 1.5 -11.4 0.3z"/><path color="#00a2ff" d="M250 222.8l11.5 0.8 3.9 1.7 -11.5 -0.8z"/><path color="#00b9ff" d="M238.5 221.8l11.5 1 3.9 1.7 -11.5 -0.9z"/><path color="#00c9ff" d="M227.1 221.3l11.4 0.5 3.9 1.8 -11.5 -0.4z"/><path color="#00d1ff" d="M215.6 221.4l11.5 -0.1 3.8 1.9 -11.4 0.2z"/><path color="#0000c1" d="M724.4 214.4l11.5 2.1 3.9 3.4 -11.5 -2.2z"/><path color="#0000f4" d="M712.9 211.4l11.5 3 3.9 3.3 -11.5 -3z"/><path color="#0031ff" d="M701.4 207.8l11.5 3.6 3.9 3.3 -11.5 -3.7z"/><path color="#0075ff" d="M690 203.5l11.4 4.3 3.9 3.2 -11.5 -4.3z"/><path color="#00bfff" d="M678.5 198.9l11.5 4.6 3.8 3.2 -11.4 -4.8z"/><path color="#0efff1" d="M667 193.9l11.5 5 3.9 3 -11.5 -5z"/><path color="#5fffa0" d="M655.5 188.8l11.5 5.1 3.9 3 -11.5 -5.2z"/><path color="#b0ff4f" d="M644.1 183.6l11.4 5.2 3.9 2.9 -11.5 -5.3z"/><path color="#ffff00" d="M632.6 178.6l11.5 5 3.8 2.8 -11.4 -5.1z"/><path color="#ffb300" d="M621.1 173.8l11.5 4.8 3.9 2.7 -11.5 -5z"/><path color="#ff6c00" d="M609.6 169.3l11.5 4.5 3.9 2.5 -11.5 -4.5z"/><path color="#ff2c00" d="M598.2 165.4l11.4 3.9 3.9 2.5 -11.5 -4z"/><path color="#f40000" d="M586.7 162.2l11.5 3.2 3.8 2.4 -11.4 -3.4z"/><path color="#c90000" d="M575.2 159.7l11.5 2.5 3.9 2.2 -11.5 -2.6z"/><path color="#aa0000" d="M563.7 158.1l11.5 1.6 3.9 2.1 -11.5 -1.6z"/><path color="#970000" d="M552.3 157.4l11.4 0.7 3.9 2.1 -11.5 -0.9z"/><path color="#8d0000" d="M540.8 157.4l11.5 0 3.8 1.9 -11.4 -0.1z"/><path color="#8c0000" d="M529.3 157.9l11.5 -0.5 3.9 1.8 -11.5 0.3z"/><path color="#910000" d="M517.8 158.9l11.5 -1 3.9 1.6 -11.5 0.9z"/><path color="#9d0000" d="M506.4 160.4l11.4 -1.5 3.9 1.5 -11.5 1.3z"/><path color="#ae0000" d="M494.9 162.3l11.5 -1.9 3.8 1.3 -11.4 1.7z"/><path color="#c30000" d="M483.4 164.4l11.5 -2.1 3.9 1.1 -11.5 2z"/><path color="#dc0000" d="M471.9 166.8l11.5 -2.4 3.9 1 -11.5 2.3z"/><path color="#f70000" d="M460.5 169.4l11.4 -2.6 3.9 0.9 -11.5 2.5z"/><path color="#ff1500" d="M449 172.1l11.5 -2.7 3.8 0.8 -11.4 2.5z"/><path color="#ff3200" d="M437.5 174.9l11.5 -2.8 3.9 0.6 -11.5 2.7z"/><path color="#ff4f00" d="M426 177.6l11.5 -2.7 3.9 0.5 -11.5 2.6z"/><path color="#ff6b00" d="M414.5 180.3l11.5 -2.7 3.9 0.4 -11.5 2.5z"/><path color="#ff8500" d="M403.1 182.7l11.4 -2.4 3.9 0.2 -11.5 2.5z"/><path color="#ff9c00" d="M391.6 185l11.5 -2.3 3.8 0.3 -11.4 2.3z"/><path color="#ffb400" d="M380.1 187.4l11.5 -2.4 3.9 0.3 -11.5 2.3z"/><path color="#ffd000" d="M368.6 190l11.5 -2.6 3.9 0.2 -11.5 2.7z"/><path color="#fff300" d="M357.2 193.2l11.4 -3.2 3.9 0.3 -11.5 3.2z"/><path color="#deff21" d="M345.7 197.1l11.5 -3.9 3.8 0.3 -11.4 4z"/><path color="#a4ff5b" d="M334.2 201.9l11.5 -4.8 3.9 0.4 -11.5 4.9z"/><path color="#5fffa0" d="M322.7 207.5l11.5 -5.6 3.9 0.5 -11.5 5.7z"/><path color="#14ffeb" d="M311.3 213.5l11.4 -6 3.9 0.6 -11.5 6.1z"/><path color="#00d0ff" d="M299.8 218.9l11.5 -5.4 3.8 0.7 -11.4 5.6z"/><path color="#00a0ff" d="M288.3 223l11.5 -4.1 3.9 0.9 -11.5 4.2z"/><path color="#008dff" d="M276.8 225l11.5 -2 3.9 1 -11.5 2.2z"/><path color="#0092ff" d="M265.4 225.3l11.4 -0.3 3.9 1.2 -11.5 0.4z"/><path color="#00a5ff" d="M253.9 224.5l11.5 0.8 3.8 1.3 -11.4 -0.6z"/><path color="#00bbff" d="M242.4 223.6l11.5 0.9 3.9 1.5 -11.5 -0.7z"/><path color="#00caff" d="M230.9 223.2l11.5 0.4 3.9 1.7 -11.5 -0.3z"/><path color="#00d0ff" d="M219.5 223.4l11.4 -0.2 3.9 1.8 -11.5 0.2z"/><path color="#0000ae" d="M728.3 217.7l11.5 2.2 3.8 2.5 -11.4 -2.1z"/><path color="#0000e1" d="M716.8 214.7l11.5 3 3.9 2.6 -11.5 -3z"/><path color="#001fff" d="M705.3 211l11.5 3.7 3.9 2.6 -11.5 -3.7z"/><path color="#0064ff" d="M693.8 206.7l11.5 4.3 3.9 2.6 -11.5 -4.3z"/><path color="#00afff" d="M682.4 201.9l11.4 4.8 3.9 2.6 -11.5 -4.7z"/><path color="#00ffff" d="M670.9 196.9l11.5 5 3.8 2.7 -11.4 -5z"/><path color="#52ffad" d="M659.4 191.7l11.5 5.2 3.9 2.7 -11.5 -5.2z"/><path color="#a4ff5b" d="M647.9 186.4l11.5 5.3 3.9 2.7 -11.5 -5.3z"/><path color="#f5ff0a" d="M636.5 181.3l11.4 5.1 3.9 2.7 -11.5 -5.1z"/><path color="#ffbb00" d="M625 176.3l11.5 5 3.8 2.7 -11.4 -4.9z"/><path color="#ff7300" d="M613.5 171.8l11.5 4.5 3.9 2.8 -11.5 -4.5z"/><path color="#ff3200" d="M602 167.8l11.5 4 3.9 2.8 -11.5 -4.1z"/><path color="#f80000" d="M590.6 164.4l11.4 3.4 3.9 2.7 -11.5 -3.4z"/><path color="#cb0000" d="M579.1 161.8l11.5 2.6 3.8 2.7 -11.4 -2.6z"/><path color="#ab0000" d="M567.6 160.2l11.5 1.6 3.9 2.7 -11.5 -1.7z"/><path color="#970000" d="M556.1 159.3l11.5 0.9 3.9 2.6 -11.5 -0.9z"/><path color="#8b0000" d="M544.7 159.2l11.4 0.1 3.9 2.6 -11.5 -0.4z"/><path color="#870000" d="M533.2 159.5l11.5 -0.3 3.8 2.3 -11.4 0.3z"/><path color="#8b0000" d="M521.7 160.4l11.5 -0.9 3.9 2.3 -11.5 0.7z"/><path color="#940000" d="M510.2 161.7l11.5 -1.3 3.9 2.1 -11.5 1.1z"/><path color="#a30000" d="M498.8 163.4l11.4 -1.7 3.9 1.9 -11.5 1.5z"/><path color="#b60000" d="M487.3 165.4l11.5 -2 3.8 1.7 -11.4 1.8z"/><path color="#cc0000" d="M475.8 167.7l11.5 -2.3 3.9 1.5 -11.5 2.1z"/><path color="#e60000" d="M464.3 170.2l11.5 -2.5 3.9 1.3 -11.5 2.3z"/><path color="#ff0200" d="M452.9 172.7l11.4 -2.5 3.9 1.1 -11.5 2.3z"/><path color="#ff1d00" d="M441.4 175.4l11.5 -2.7 3.8 0.9 -11.4 2.5z"/><path color="#ff3900" d="M429.9 178l11.5 -2.6 3.9 0.7 -11.5 2.5z"/><path color="#ff5400" d="M418.4 180.5l11.5 -2.5 3.9 0.6 -11.5 2.4z"/><path color="#ff6d00" d="M406.9 183l11.5 -2.5 3.9 0.5 -11.5 2.4z"/><path color="#ff8400" d="M395.5 185.3l11.4 -2.3 3.9 0.4 -11.5 2.2z"/><path color="#ff9b00" d="M384 187.6l11.5 -2.3 3.8 0.3 -11.4 2.3z"/><path color="#ffb800" d="M372.5 190.3l11.5 -2.7 3.9 0.3 -11.5 2.8z"/><path color="#ffdc00" d="M361 193.5l11.5 -3.2 3.9 0.4 -11.5 3.2z"/><path color="#f3ff0c" d="M349.6 197.5l11.4 -4 3.9 0.4 -11.5 4z"/><path color="#b8ff47" d="M338.1 202.4l11.5 -4.9 3.8 0.4 -11.4 4.9z"/><path color="#71ff8e" d="M326.6 208.1l11.5 -5.7 3.9 0.4 -11.5 5.8z"/><path color="#25ffda" d="M315.1 214.2l11.5 -6.1 3.9 0.5 -11.5 6.1z"/><path color="#00dfff" d="M303.7 219.8l11.4 -5.6 3.9 0.5 -11.5 5.6z"/><path color="#00aeff" d="M292.2 224l11.5 -4.2 3.8 0.5 -11.4 4.3z"/><path color="#0098ff" d="M280.7 226.2l11.5 -2.2 3.9 0.6 -11.5 2.3z"/><path color="#009bff" d="M269.2 226.6l11.5 -0.4 3.9 0.7 -11.5 0.7z"/><path color="#00acff" d="M257.8 226l11.4 0.6 3.9 1 -11.5 -0.4z"/><path color="#00bfff" d="M246.3 225.3l11.5 0.7 3.8 1.2 -11.4 -0.5z"/><path color="#00cdff" d="M234.8 225l11.5 0.3 3.9 1.4 -11.5 -0.2z"/><path color="#00d2ff" d="M223.3 225.2l11.5 -0.2 3.9 1.5 -11.5 0.4z"/><path color="#0000a6" d="M732.2 220.3l11.4 2.1 3.9 1.8 -11.5 -2.1z"/><path color="#0000d9" d="M720.7 217.3l11.5 3 3.8 1.8 -11.4 -2.9z"/><path color="#0017ff" d="M709.2 213.6l11.5 3.7 3.9 1.9 -11.5 -3.6z"/><path color="#005bff" d="M697.7 209.3l11.5 4.3 3.9 2 -11.5 -4.1z"/><path color="#00a6ff" d="M686.2 204.6l11.5 4.7 3.9 2.2 -11.5 -4.6z"/><path color="#00f5ff" d="M674.8 199.6l11.4 5 3.9 2.3 -11.5 -4.9z"/><path color="#48ffb7" d="M663.3 194.4l11.5 5.2 3.8 2.4 -11.4 -5.1z"/><path color="#9aff65" d="M651.8 189.1l11.5 5.3 3.9 2.5 -11.5 -5.1z"/><path color="#ebff14" d="M640.3 184l11.5 5.1 3.9 2.7 -11.5 -5z"/><path color="#ffc600" d="M628.9 179.1l11.4 4.9 3.9 2.8 -11.5 -4.8z"/><path color="#ff7e00" d="M617.4 174.6l11.5 4.5 3.8 2.9 -11.4 -4.4z"/><path color="#ff3c00" d="M605.9 170.5l11.5 4.1 3.9 3 -11.5 -4z"/><path color="#ff0400" d="M594.4 167.1l11.5 3.4 3.9 3.1 -11.5 -3.3z"/><path color="#d50000" d="M583 164.5l11.4 2.6 3.9 3.2 -11.5 -2.7z"/><path color="#b40000" d="M571.5 162.8l11.5 1.7 3.8 3.1 -11.4 -1.7z"/><path color="#9e0000" d="M560 161.9l11.5 0.9 3.9 3.1 -11.5 -1z"/><path color="#910000" d="M548.5 161.5l11.5 0.4 3.9 3 -11.5 -0.4z"/><path color="#8b0000" d="M537.1 161.8l11.4 -0.3 3.9 3 -11.5 0.1z"/><path color="#8c0000" d="M525.6 162.5l11.5 -0.7 3.8 2.8 -11.4 0.5z"/><path color="#930000" d="M514.1 163.6l11.5 -1.1 3.9 2.6 -11.5 0.9z"/><path color="#9f0000" d="M502.6 165.1l11.5 -1.5 3.9 2.4 -11.5 1.3z"/><path color="#af0000" d="M491.2 166.9l11.4 -1.8 3.9 2.2 -11.5 1.5z"/><path color="#c30000" d="M479.7 169l11.5 -2.1 3.8 1.9 -11.4 1.8z"/><path color="#da0000" d="M468.2 171.3l11.5 -2.3 3.9 1.6 -11.5 2.1z"/><path color="#f20000" d="M456.7 173.6l11.5 -2.3 3.9 1.4 -11.5 2.1z"/><path color="#ff0c00" d="M445.3 176.1l11.4 -2.5 3.9 1.2 -11.5 2.2z"/><path color="#ff2600" d="M433.8 178.6l11.5 -2.5 3.8 0.9 -11.4 2.3z"/><path color="#ff3f00" d="M422.3 181l11.5 -2.4 3.9 0.7 -11.5 2.3z"/><path color="#ff5700" d="M410.8 183.4l11.5 -2.4 3.9 0.6 -11.5 2.2z"/><path color="#ff6d00" d="M399.3 185.6l11.5 -2.2 3.9 0.4 -11.5 2.2z"/><path color="#ff8400" d="M387.9 187.9l11.4 -2.3 3.9 0.4 -11.5 2.3z"/><path color="#ffa200" d="M376.4 190.7l11.5 -2.8 3.8 0.4 -11.4 2.7z"/><path color="#ffc600" d="M364.9 193.9l11.5 -3.2 3.9 0.3 -11.5 3.2z"/><path color="#fff500" d="M353.4 197.9l11.5 -4 3.9 0.3 -11.5 4z"/><path color="#ceff31" d="M342 202.8l11.4 -4.9 3.9 0.3 -11.5 4.9z"/><path color="#86ff79" d="M330.5 208.6l11.5 -5.8 3.8 0.3 -11.4 5.7z"/><path color="#3affc5" d="M319 214.7l11.5 -6.1 3.9 0.2 -11.5 6.1z"/><path color="#00f3ff" d="M307.5 220.3l11.5 -5.6 3.9 0.2 -11.5 5.6z"/><path color="#00c1ff" d="M296.1 224.6l11.4 -4.3 3.9 0.2 -11.5 4.3z"/><path color="#00a9ff" d="M284.6 226.9l11.5 -2.3 3.8 0.2 -11.4 2.5z"/><path color="#00a9ff" d="M273.1 227.6l11.5 -0.7 3.9 0.4 -11.5 0.9z"/><path color="#00b7ff" d="M261.6 227.2l11.5 0.4 3.9 0.6 -11.5 -0.2z"/><path color="#00c8ff" d="M250.2 226.7l11.4 0.5 3.9 0.8 -11.5 -0.3z"/><path color="#00d3ff" d="M238.7 226.5l11.5 0.2 3.8 1 -11.4 0.1z"/><path color="#00d7ff" d="M227.2 226.9l11.5 -0.4 3.9 1.3 -11.5 0.5z"/><path color="#0000a8" d="M736 222.1l11.5 2.1 3.9 1.1 -11.5 -2z"/><path color="#0000da" d="M724.6 219.2l11.4 2.9 3.9 1.2 -11.5 -2.7z"/><path color="#0016ff" d="M713.1 215.6l11.5 3.6 3.8 1.4 -11.4 -3.4z"/><path color="#0059ff" d="M701.6 211.5l11.5 4.1 3.9 1.6 -11.5 -4z"/><path color="#00a2ff" d="M690.1 206.9l11.5 4.6 3.9 1.7 -11.5 -4.4z"/><path color="#00efff" d="M678.6 202l11.5 4.9 3.9 1.9 -11.5 -4.6z"/><path color="#40ffbf" d="M667.2 196.9l11.4 5.1 3.9 2.2 -11.5 -4.8z"/><path color="#90ff6f" d="M655.7 191.8l11.5 5.1 3.8 2.5 -11.4 -4.9z"/><path color="#dfff20" d="M644.2 186.8l11.5 5 3.9 2.7 -11.5 -4.8z"/><path color="#ffd300" d="M632.7 182l11.5 4.8 3.9 2.9 -11.5 -4.6z"/><path color="#ff8c00" d="M621.3 177.6l11.4 4.4 3.9 3.1 -11.5 -4.2z"/><path color="#ff4c00" d="M609.8 173.6l11.5 4 3.8 3.3 -11.4 -3.9z"/><path color="#ff1400" d="M598.3 170.3l11.5 3.3 3.9 3.4 -11.5 -3.2z"/><path color="#e60000" d="M586.8 167.6l11.5 2.7 3.9 3.5 -11.5 -2.6z"/><path color="#c40000" d="M575.4 165.9l11.4 1.7 3.9 3.6 -11.5 -1.7z"/><path color="#ad0000" d="M563.9 164.9l11.5 1 3.8 3.6 -11.4 -1.1z"/><path color="#9e0000" d="M552.4 164.5l11.5 0.4 3.9 3.5 -11.5 -0.5z"/><path color="#960000" d="M540.9 164.6l11.5 -0.1 3.9 3.4 -11.5 -0.1z"/><path color="#950000" d="M529.5 165.1l11.4 -0.5 3.9 3.2 -11.5 0.3z"/><path color="#990000" d="M518 166l11.5 -0.9 3.8 3 -11.4 0.7z"/><path color="#a10000" d="M506.5 167.3l11.5 -1.3 3.9 2.8 -11.5 1z"/><path color="#ae0000" d="M495 168.8l11.5 -1.5 3.9 2.5 -11.5 1.3z"/><path color="#bf0000" d="M483.6 170.6l11.4 -1.8 3.9 2.3 -11.5 1.5z"/><path color="#d20000" d="M472.1 172.7l11.5 -2.1 3.8 2 -11.4 1.7z"/><path color="#e70000" d="M460.6 174.8l11.5 -2.1 3.9 1.6 -11.5 1.9z"/><path color="#fd0000" d="M449.1 177l11.5 -2.2 3.9 1.4 -11.5 2z"/><path color="#ff1500" d="M437.7 179.3l11.4 -2.3 3.9 1.2 -11.5 2z"/><path color="#ff2c00" d="M426.2 181.6l11.5 -2.3 3.8 0.9 -11.4 2.1z"/><path color="#ff4200" d="M414.7 183.8l11.5 -2.2 3.9 0.7 -11.5 2.1z"/><path color="#ff5700" d="M403.2 186l11.5 -2.2 3.9 0.6 -11.5 2z"/><path color="#ff6e00" d="M391.7 188.3l11.5 -2.3 3.9 0.4 -11.5 2.2z"/><path color="#ff8a00" d="M380.3 191l11.4 -2.7 3.9 0.3 -11.5 2.7z"/><path color="#ffaf00" d="M368.8 194.2l11.5 -3.2 3.8 0.3 -11.4 3.2z"/><path color="#ffde00" d="M357.3 198.2l11.5 -4 3.9 0.3 -11.5 4z"/><path color="#e5ff1a" d="M345.8 203.1l11.5 -4.9 3.9 0.3 -11.5 4.8z"/><path color="#9fff60" d="M334.4 208.8l11.4 -5.7 3.9 0.2 -11.5 5.5z"/><path color="#53ffac" d="M322.9 214.9l11.5 -6.1 3.8 0 -11.4 6z"/><path color="#0efff1" d="M311.4 220.5l11.5 -5.6 3.9 -0.1 -11.5 5.5z"/><path color="#00d9ff" d="M299.9 224.8l11.5 -4.3 3.9 -0.2 -11.5 4.3z"/><path color="#00bfff" d="M288.5 227.3l11.4 -2.5 3.9 -0.2 -11.5 2.7z"/><path color="#00bcff" d="M277 228.2l11.5 -0.9 3.8 0 -11.4 1.1z"/><path color="#00c7ff" d="M265.5 228l11.5 0.2 3.9 0.2 -11.5 0.2z"/><path color="#00d4ff" d="M254 227.7l11.5 0.3 3.9 0.6 -11.5 0z"/><path color="#00dcff" d="M242.6 227.8l11.4 -0.1 3.9 0.9 -11.5 0.2z"/><path color="#00dfff" d="M231.1 228.3l11.5 -0.5 3.8 1 -11.4 0.7z"/><path color="#0000b3" d="M739.9 223.3l11.5 2 3.9 0.6 -11.5 -1.9z"/><path color="#0000e2" d="M728.4 220.6l11.5 2.7 3.9 0.7 -11.5 -2.5z"/><path color="#001cff" d="M717 217.2l11.4 3.4 3.9 0.9 -11.5 -3.2z"/><path color="#005cff" d="M705.5 213.2l11.5 4 3.8 1.1 -11.4 -3.7z"/><path color="#00a2ff" d="M694 208.8l11.5 4.4 3.9 1.4 -11.5 -4.1z"/><path color="#00ecff" d="M682.5 204.2l11.5 4.6 3.9 1.7 -11.5 -4.3z"/><path color="#39ffc6" d="M671 199.4l11.5 4.8 3.9 2 -11.5 -4.5z"/><path color="#86ff79" d="M659.6 194.5l11.4 4.9 3.9 2.3 -11.5 -4.6z"/><path color="#d2ff2d" d="M648.1 189.7l11.5 4.8 3.8 2.6 -11.4 -4.5z"/><path color="#ffe300" d="M636.6 185.1l11.5 4.6 3.9 2.9 -11.5 -4.3z"/><path color="#ff9e00" d="M625.1 180.9l11.5 4.2 3.9 3.2 -11.5 -4z"/><path color="#ff6000" d="M613.7 177l11.4 3.9 3.9 3.4 -11.5 -3.6z"/><path color="#ff2a00" d="M602.2 173.8l11.5 3.2 3.8 3.7 -11.4 -3.1z"/><path color="#fc0000" d="M590.7 171.2l11.5 2.6 3.9 3.8 -11.5 -2.5z"/><path color="#db0000" d="M579.2 169.5l11.5 1.7 3.9 3.9 -11.5 -1.7z"/><path color="#c30000" d="M567.8 168.4l11.4 1.1 3.9 3.9 -11.5 -1.1z"/><path color="#b30000" d="M556.3 167.9l11.5 0.5 3.8 3.9 -11.4 -0.6z"/><path color="#a80000" d="M544.8 167.8l11.5 0.1 3.9 3.8 -11.5 -0.3z"/><path color="#a40000" d="M533.3 168.1l11.5 -0.3 3.9 3.6 -11.5 0.1z"/><path color="#a40000" d="M521.9 168.8l11.4 -0.7 3.9 3.4 -11.5 0.4z"/><path color="#a90000" d="M510.4 169.8l11.5 -1 3.8 3.1 -11.4 0.7z"/><path color="#b20000" d="M498.9 171.1l11.5 -1.3 3.9 2.8 -11.5 1z"/><path color="#be0000" d="M487.4 172.6l11.5 -1.5 3.9 2.5 -11.5 1.2z"/><path color="#cd0000" d="M476 174.3l11.4 -1.7 3.9 2.2 -11.5 1.4z"/><path color="#de0000" d="M464.5 176.2l11.5 -1.9 3.8 1.9 -11.4 1.6z"/><path color="#f10000" d="M453 178.2l11.5 -2 3.9 1.6 -11.5 1.6z"/><path color="#ff0600" d="M441.5 180.2l11.5 -2 3.9 1.2 -11.5 1.8z"/><path color="#ff1a00" d="M430.1 182.3l11.4 -2.1 3.9 1 -11.5 1.9z"/><path color="#ff2e00" d="M418.6 184.4l11.5 -2.1 3.8 0.8 -11.4 1.8z"/><path color="#ff4100" d="M407.1 186.4l11.5 -2 3.9 0.5 -11.5 1.9z"/><path color="#ff5700" d="M395.6 188.6l11.5 -2.2 3.9 0.4 -11.5 2.2z"/><path color="#ff7300" d="M384.1 191.3l11.5 -2.7 3.9 0.4 -11.5 2.6z"/><path color="#ff9700" d="M372.7 194.5l11.4 -3.2 3.9 0.3 -11.5 3.2z"/><path color="#ffc600" d="M361.2 198.5l11.5 -4 3.8 0.3 -11.4 3.8z"/><path color="#feff01" d="M349.7 203.3l11.5 -4.8 3.9 0.1 -11.5 4.7z"/><path color="#baff45" d="M338.2 208.8l11.5 -5.5 3.9 0 -11.5 5.4z"/><path color="#70ff8f" d="M326.8 214.8l11.4 -6 3.9 -0.1 -11.5 5.8z"/><path color="#2bffd4" d="M315.3 220.3l11.5 -5.5 3.8 -0.3 -11.4 5.4z"/><path color="#00f7ff" d="M303.8 224.6l11.5 -4.3 3.9 -0.4 -11.5 4.3z"/><path color="#00dbff" d="M292.3 227.3l11.5 -2.7 3.9 -0.4 -11.5 2.8z"/><path color="#00d4ff" d="M280.9 228.4l11.4 -1.1 3.9 -0.3 -11.5 1.4z"/><path color="#00dbff" d="M269.4 228.6l11.5 -0.2 3.8 0 -11.4 0.5z"/><path color="#00e4ff" d="M257.9 228.6l11.5 0 3.9 0.3 -11.5 0.3z"/><path color="#00e9ff" d="M246.4 228.8l11.5 -0.2 3.9 0.6 -11.5 0.5z"/><path color="#00eaff" d="M235 229.5l11.4 -0.7 3.9 0.9 -11.5 0.8z"/><path color="#0000c4" d="M743.8 224l11.5 1.9 3.8 0.1 -11.4 -1.7z"/><path color="#0000f1" d="M732.3 221.5l11.5 2.5 3.9 0.3 -11.5 -2.3z"/><path color="#0027ff" d="M720.8 218.3l11.5 3.2 3.9 0.5 -11.5 -2.9z"/><path color="#0064ff" d="M709.4 214.6l11.4 3.7 3.9 0.8 -11.5 -3.4z"/><path color="#00a6ff" d="M697.9 210.5l11.5 4.1 3.8 1.1 -11.4 -3.7z"/><path color="#00ebff" d="M686.4 206.2l11.5 4.3 3.9 1.5 -11.5 -4z"/><path color="#34ffcb" d="M674.9 201.7l11.5 4.5 3.9 1.8 -11.5 -4.1z"/><path color="#7dff82" d="M663.4 197.1l11.5 4.6 3.9 2.2 -11.5 -4.2z"/><path color="#c4ff3b" d="M652 192.6l11.4 4.5 3.9 2.6 -11.5 -4.1z"/><path color="#fff400" d="M640.5 188.3l11.5 4.3 3.8 3 -11.4 -4z"/><path color="#ffb300" d="M629 184.3l11.5 4 3.9 3.3 -11.5 -3.7z"/><path color="#ff7800" d="M617.5 180.7l11.5 3.6 3.9 3.6 -11.5 -3.3z"/><path color="#ff4400" d="M606.1 177.6l11.4 3.1 3.9 3.9 -11.5 -2.9z"/><path color="#ff1800" d="M594.6 175.1l11.5 2.5 3.8 4.1 -11.4 -2.4z"/><path color="#f60000" d="M583.1 173.4l11.5 1.7 3.9 4.2 -11.5 -1.6z"/><path color="#de0000" d="M571.6 172.3l11.5 1.1 3.9 4.3 -11.5 -1.1z"/><path color="#cc0000" d="M560.2 171.7l11.4 0.6 3.9 4.3 -11.5 -0.8z"/><path color="#bf0000" d="M548.7 171.4l11.5 0.3 3.8 4.1 -11.4 -0.4z"/><path color="#b80000" d="M537.2 171.5l11.5 -0.1 3.9 4 -11.5 -0.2z"/><path color="#b40000" d="M525.7 171.9l11.5 -0.4 3.9 3.7 -11.5 0.2z"/><path color="#b50000" d="M514.3 172.6l11.4 -0.7 3.9 3.5 -11.5 0.4z"/><path color="#ba0000" d="M502.8 173.6l11.5 -1 3.8 3.2 -11.4 0.6z"/><path color="#c20000" d="M491.3 174.8l11.5 -1.2 3.9 2.8 -11.5 0.8z"/><path color="#cc0000" d="M479.8 176.2l11.5 -1.4 3.9 2.4 -11.5 1.1z"/><path color="#d90000" d="M468.4 177.8l11.4 -1.6 3.9 2.1 -11.5 1.2z"/><path color="#e70000" d="M456.9 179.4l11.5 -1.6 3.8 1.7 -11.4 1.3z"/><path color="#f70000" d="M445.4 181.2l11.5 -1.8 3.9 1.4 -11.5 1.5z"/><path color="#ff0900" d="M433.9 183.1l11.5 -1.9 3.9 1.1 -11.5 1.6z"/><path color="#ff1a00" d="M422.5 184.9l11.4 -1.8 3.9 0.8 -11.5 1.7z"/><path color="#ff2c00" d="M411 186.8l11.5 -1.9 3.8 0.7 -11.4 1.7z"/><path color="#ff4100" d="M399.5 189l11.5 -2.2 3.9 0.5 -11.5 2.1z"/><path color="#ff5c00" d="M388 191.6l11.5 -2.6 3.9 0.4 -11.5 2.5z"/><path color="#ff7f00" d="M376.5 194.8l11.5 -3.2 3.9 0.3 -11.5 3.1z"/><path color="#ffad00" d="M365.1 198.6l11.4 -3.8 3.9 0.2 -11.5 3.8z"/><path color="#ffe500" d="M353.6 203.3l11.5 -4.7 3.8 0.2 -11.4 4.5z"/><path color="#d6ff29" d="M342.1 208.7l11.5 -5.4 3.9 0 -11.5 5.3z"/><path color="#8fff70" d="M330.6 214.5l11.5 -5.8 3.9 -0.1 -11.5 5.5z"/><path color="#4cffb3" d="M319.2 219.9l11.4 -5.4 3.9 -0.4 -11.5 5.3z"/><path color="#19ffe6" d="M307.7 224.2l11.5 -4.3 3.8 -0.5 -11.4 4.3z"/><path color="#00faff" d="M296.2 227l11.5 -2.8 3.9 -0.5 -11.5 2.9z"/><path color="#00f0ff" d="M284.7 228.4l11.5 -1.4 3.9 -0.4 -11.5 1.6z"/><path color="#00f2ff" d="M273.3 228.9l11.4 -0.5 3.9 -0.2 -11.5 0.9z"/><path color="#00f7ff" d="M261.8 229.2l11.5 -0.3 3.8 0.2 -11.4 0.6z"/><path color="#00f9ff" d="M250.3 229.7l11.5 -0.5 3.9 0.5 -11.5 0.7z"/><path color="#00f7ff" d="M238.8 230.5l11.5 -0.8 3.9 0.7 -11.5 1z"/><path color="#0000dc" d="M747.7 224.3l11.4 1.7 3.9 -0.3 -11.5 -1.5z"/><path color="#0006ff" d="M736.2 222l11.5 2.3 3.8 -0.1 -11.4 -2z"/><path color="#0038ff" d="M724.7 219.1l11.5 2.9 3.9 0.2 -11.5 -2.6z"/><path color="#0070ff" d="M713.2 215.7l11.5 3.4 3.9 0.5 -11.5 -3z"/><path color="#00acff" d="M701.8 212l11.4 3.7 3.9 0.9 -11.5 -3.3z"/><path color="#00edff" d="M690.3 208l11.5 4 3.8 1.3 -11.4 -3.5z"/><path color="#31ffce" d="M678.8 203.9l11.5 4.1 3.9 1.8 -11.5 -3.7z"/><path color="#74ff8b" d="M667.3 199.7l11.5 4.2 3.9 2.2 -11.5 -3.8z"/><path color="#b7ff48" d="M655.8 195.6l11.5 4.1 3.9 2.6 -11.5 -3.7z"/><path color="#f7ff08" d="M644.4 191.6l11.4 4 3.9 3 -11.5 -3.6z"/><path color="#ffca00" d="M632.9 187.9l11.5 3.7 3.8 3.4 -11.4 -3.4z"/><path color="#ff9200" d="M621.4 184.6l11.5 3.3 3.9 3.7 -11.5 -3z"/><path color="#ff6100" d="M609.9 181.7l11.5 2.9 3.9 4 -11.5 -2.7z"/><path color="#ff3700" d="M598.5 179.3l11.4 2.4 3.9 4.2 -11.5 -2.1z"/><path color="#ff1700" d="M587 177.7l11.5 1.6 3.8 4.5 -11.4 -1.6z"/><path color="#fe0000" d="M575.5 176.6l11.5 1.1 3.9 4.5 -11.5 -1.2z"/><path color="#ea0000" d="M564 175.8l11.5 0.8 3.9 4.4 -11.5 -0.8z"/><path color="#db0000" d="M552.6 175.4l11.4 0.4 3.9 4.4 -11.5 -0.6z"/><path color="#d00000" d="M541.1 175.2l11.5 0.2 3.8 4.2 -11.4 -0.4z"/><path color="#c90000" d="M529.6 175.4l11.5 -0.2 3.9 4 -11.5 -0.2z"/><path color="#c50000" d="M518.1 175.8l11.5 -0.4 3.9 3.6 -11.5 0.1z"/><path color="#c50000" d="M506.7 176.4l11.4 -0.6 3.9 3.3 -11.5 0.3z"/><path color="#c80000" d="M495.2 177.2l11.5 -0.8 3.8 3 -11.4 0.5z"/><path color="#ce0000" d="M483.7 178.3l11.5 -1.1 3.9 2.7 -11.5 0.6z"/><path color="#d50000" d="M472.2 179.5l11.5 -1.2 3.9 2.2 -11.5 0.9z"/><path color="#df0000" d="M460.8 180.8l11.4 -1.3 3.9 1.9 -11.5 1z"/><path color="#eb0000" d="M449.3 182.3l11.5 -1.5 3.8 1.6 -11.4 1.1z"/><path color="#f80000" d="M437.8 183.9l11.5 -1.6 3.9 1.2 -11.5 1.3z"/><path color="#ff0800" d="M426.3 185.6l11.5 -1.7 3.9 0.9 -11.5 1.5z"/><path color="#ff1700" d="M414.9 187.3l11.4 -1.7 3.9 0.7 -11.5 1.6z"/><path color="#ff2b00" d="M403.4 189.4l11.5 -2.1 3.8 0.6 -11.4 1.9z"/><path color="#ff4500" d="M391.9 191.9l11.5 -2.5 3.9 0.4 -11.5 2.5z"/><path color="#ff6700" d="M380.4 195l11.5 -3.1 3.9 0.4 -11.5 3z"/><path color="#ff9300" d="M368.9 198.8l11.5 -3.8 3.9 0.3 -11.5 3.7z"/><path color="#ffca00" d="M357.5 203.3l11.4 -4.5 3.9 0.2 -11.5 4.3z"/><path color="#f5ff0a" d="M346 208.6l11.5 -5.3 3.8 0 -11.4 5z"/><path color="#b0ff4f" d="M334.5 214.1l11.5 -5.5 3.9 -0.3 -11.5 5.4z"/><path color="#70ff8f" d="M323 219.4l11.5 -5.3 3.9 -0.4 -11.5 5z"/><path color="#3dffc2" d="M311.6 223.7l11.4 -4.3 3.9 -0.7 -11.5 4.3z"/><path color="#1dffe2" d="M300.1 226.6l11.5 -2.9 3.8 -0.7 -11.4 3z"/><path color="#0ffff0" d="M288.6 228.2l11.5 -1.6 3.9 -0.6 -11.5 1.9z"/><path color="#0cfff3" d="M277.1 229.1l11.5 -0.9 3.9 -0.3 -11.5 1.2z"/><path color="#0dfff2" d="M265.7 229.7l11.4 -0.6 3.9 0 -11.5 0.9z"/><path color="#0bfff4" d="M254.2 230.4l11.5 -0.7 3.8 0.3 -11.4 1z"/><path color="#07fff8" d="M242.7 231.4l11.5 -1 3.9 0.6 -11.5 1.1z"/><path color="#0000f8" d="M751.5 224.2l11.5 1.5 3.9 -0.5 -11.5 -1.3z"/><path color="#001fff" d="M740.1 222.2l11.4 2 3.9 -0.3 -11.5 -1.8z"/><path color="#004cff" d="M728.6 219.6l11.5 2.6 3.8 -0.1 -11.4 -2.2z"/><path color="#007fff" d="M717.1 216.6l11.5 3 3.9 0.3 -11.5 -2.6z"/><path color="#00b6ff" d="M705.6 213.3l11.5 3.3 3.9 0.7 -11.5 -2.8z"/><path color="#00f1ff" d="M694.2 209.8l11.4 3.5 3.9 1.2 -11.5 -3.1z"/><path color="#2effd1" d="M682.7 206.1l11.5 3.7 3.8 1.6 -11.4 -3.3z"/><path color="#6cff93" d="M671.2 202.3l11.5 3.8 3.9 2 -11.5 -3.3z"/><path color="#a8ff57" d="M659.7 198.6l11.5 3.7 3.9 2.5 -11.5 -3.2z"/><path color="#e3ff1c" d="M648.2 195l11.5 3.6 3.9 3 -11.5 -3.2z"/><path color="#ffe300" d="M636.8 191.6l11.4 3.4 3.9 3.4 -11.5 -3z"/><path color="#ffaf00" d="M625.3 188.6l11.5 3 3.8 3.8 -11.4 -2.7z"/><path color="#ff8100" d="M613.8 185.9l11.5 2.7 3.9 4.1 -11.5 -2.4z"/><path color="#ff5900" d="M602.3 183.8l11.5 2.1 3.9 4.4 -11.5 -2z"/><path color="#ff3a00" d="M590.9 182.2l11.4 1.6 3.9 4.5 -11.5 -1.5z"/><path color="#ff2200" d="M579.4 181l11.5 1.2 3.8 4.6 -11.4 -1.1z"/><path color="#ff0d00" d="M567.9 180.2l11.5 0.8 3.9 4.7 -11.5 -1z"/><path color="#fa0000" d="M556.4 179.6l11.5 0.6 3.9 4.5 -11.5 -0.8z"/><path color="#ec0000" d="M545 179.2l11.4 0.4 3.9 4.3 -11.5 -0.6z"/><path color="#e10000" d="M533.5 179l11.5 0.2 3.8 4.1 -11.4 -0.4z"/><path color="#d90000" d="M522 179.1l11.5 -0.1 3.9 3.9 -11.5 -0.3z"/><path color="#d30000" d="M510.5 179.4l11.5 -0.3 3.9 3.5 -11.5 -0.1z"/><path color="#d10000" d="M499.1 179.9l11.4 -0.5 3.9 3.1 -11.5 0.1z"/><path color="#d10000" d="M487.6 180.5l11.5 -0.6 3.8 2.7 -11.4 0.3z"/><path color="#d40000" d="M476.1 181.4l11.5 -0.9 3.9 2.4 -11.5 0.4z"/><path color="#d90000" d="M464.6 182.4l11.5 -1 3.9 1.9 -11.5 0.7z"/><path color="#e00000" d="M453.2 183.5l11.4 -1.1 3.9 1.6 -11.5 0.8z"/><path color="#ea0000" d="M441.7 184.8l11.5 -1.3 3.8 1.3 -11.4 1.1z"/><path color="#f50000" d="M430.2 186.3l11.5 -1.5 3.9 1.1 -11.5 1.2z"/><path color="#ff0300" d="M418.7 187.9l11.5 -1.6 3.9 0.8 -11.5 1.4z"/><path color="#ff1500" d="M407.3 189.8l11.4 -1.9 3.9 0.6 -11.5 1.8z"/><path color="#ff2f00" d="M395.8 192.3l11.5 -2.5 3.8 0.5 -11.4 2.4z"/><path color="#ff5000" d="M384.3 195.3l11.5 -3 3.9 0.4 -11.5 2.9z"/><path color="#ff7a00" d="M372.8 199l11.5 -3.7 3.9 0.3 -11.5 3.5z"/><path color="#ffae00" d="M361.3 203.3l11.5 -4.3 3.9 0.1 -11.5 4.2z"/><path color="#ffeb00" d="M349.9 208.3l11.4 -5 3.9 0 -11.5 4.8z"/><path color="#d2ff2d" d="M338.4 213.7l11.5 -5.4 3.8 -0.2 -11.4 5.1z"/><path color="#94ff6b" d="M326.9 218.7l11.5 -5 3.9 -0.5 -11.5 4.9z"/><path color="#62ff9d" d="M315.4 223l11.5 -4.3 3.9 -0.6 -11.5 4.2z"/><path color="#40ffbf" d="M304 226l11.4 -3 3.9 -0.7 -11.5 3.1z"/><path color="#2fffd0" d="M292.5 227.9l11.5 -1.9 3.8 -0.6 -11.4 2.2z"/><path color="#27ffd8" d="M281 229.1l11.5 -1.2 3.9 -0.3 -11.5 1.5z"/><path color="#23ffdc" d="M269.5 230l11.5 -0.9 3.9 0 -11.5 1.3z"/><path color="#1effe1" d="M258.1 231l11.4 -1 3.9 0.4 -11.5 1.2z"/><path color="#18ffe7" d="M246.6 232.1l11.5 -1.1 3.8 0.6 -11.4 1.3z"/><path color="#0019ff" d="M755.4 223.9l11.5 1.3 3.9 -0.7 -11.5 -1.1z"/><path color="#003bff" d="M743.9 222.1l11.5 1.8 3.9 -0.5 -11.5 -1.4z"/><path color="#0063ff" d="M732.5 219.9l11.4 2.2 3.9 -0.1 -11.5 -1.9z"/><path color="#0090ff" d="M721 217.3l11.5 2.6 3.8 0.2 -11.4 -2.2z"/><path color="#00c1ff" d="M709.5 214.5l11.5 2.8 3.9 0.6 -11.5 -2.4z"/><path color="#00f6ff" d="M698 211.4l11.5 3.1 3.9 1 -11.5 -2.6z"/><path color="#2dffd2" d="M686.6 208.1l11.4 3.3 3.9 1.5 -11.5 -2.8z"/><path color="#64ff9b" d="M675.1 204.8l11.5 3.3 3.8 2 -11.4 -2.8z"/><path color="#9aff65" d="M663.6 201.6l11.5 3.2 3.9 2.5 -11.5 -2.7z"/><path color="#cfff30" d="M652.1 198.4l11.5 3.2 3.9 3 -11.5 -2.8z"/><path color="#fffc00" d="M640.6 195.4l11.5 3 3.9 3.4 -11.5 -2.6z"/><path color="#ffcd00" d="M629.2 192.7l11.4 2.7 3.9 3.8 -11.5 -2.4z"/><path color="#ffa200" d="M617.7 190.3l11.5 2.4 3.8 4.1 -11.4 -2.1z"/><path color="#ff7e00" d="M606.2 188.3l11.5 2 3.9 4.4 -11.5 -1.8z"/><path color="#ff6000" d="M594.7 186.8l11.5 1.5 3.9 4.6 -11.5 -1.4z"/><path color="#ff4700" d="M583.3 185.7l11.4 1.1 3.9 4.7 -11.5 -1.1z"/><path color="#ff3000" d="M571.8 184.7l11.5 1 3.8 4.7 -11.4 -1.1z"/><path color="#ff1c00" d="M560.3 183.9l11.5 0.8 3.9 4.6 -11.5 -0.9z"/><path color="#ff0b00" d="M548.8 183.3l11.5 0.6 3.9 4.5 -11.5 -0.9z"/><path color="#fa0000" d="M537.4 182.9l11.4 0.4 3.9 4.2 -11.5 -0.7z"/><path color="#ee0000" d="M525.9 182.6l11.5 0.3 3.8 3.9 -11.4 -0.6z"/><path color="#e40000" d="M514.4 182.5l11.5 0.1 3.9 3.6 -11.5 -0.5z"/><path color="#dc0000" d="M502.9 182.6l11.5 -0.1 3.9 3.2 -11.5 -0.3z"/><path color="#d70000" d="M491.5 182.9l11.4 -0.3 3.9 2.8 -11.5 -0.1z"/><path color="#d40000" d="M480 183.3l11.5 -0.4 3.8 2.4 -11.4 0.1z"/><path color="#d40000" d="M468.5 184l11.5 -0.7 3.9 2.1 -11.5 0.3z"/><path color="#d70000" d="M457 184.8l11.5 -0.8 3.9 1.7 -11.5 0.5z"/><path color="#dc0000" d="M445.6 185.9l11.4 -1.1 3.9 1.4 -11.5 0.7z"/><path color="#e50000" d="M434.1 187.1l11.5 -1.2 3.8 1 -11.4 1z"/><path color="#f00000" d="M422.6 188.5l11.5 -1.4 3.9 0.8 -11.5 1.3z"/><path color="#ff0100" d="M411.1 190.3l11.5 -1.8 3.9 0.7 -11.5 1.7z"/><path color="#ff1900" d="M399.7 192.7l11.4 -2.4 3.9 0.6 -11.5 2.2z"/><path color="#ff3800" d="M388.2 195.6l11.5 -2.9 3.8 0.4 -11.4 2.9z"/><path color="#ff6100" d="M376.7 199.1l11.5 -3.5 3.9 0.4 -11.5 3.4z"/><path color="#ff9300" d="M365.2 203.3l11.5 -4.2 3.9 0.3 -11.5 4z"/><path color="#ffcc00" d="M353.7 208.1l11.5 -4.8 3.9 0.1 -11.5 4.6z"/><path color="#f4ff0b" d="M342.3 213.2l11.4 -5.1 3.9 -0.1 -11.5 4.8z"/><path color="#b8ff47" d="M330.8 218.1l11.5 -4.9 3.8 -0.4 -11.4 4.7z"/><path color="#87ff78" d="M319.3 222.3l11.5 -4.2 3.9 -0.6 -11.5 4.2z"/><path color="#64ff9b" d="M307.8 225.4l11.5 -3.1 3.9 -0.6 -11.5 3.2z"/><path color="#4fffb0" d="M296.4 227.6l11.4 -2.2 3.9 -0.5 -11.5 2.4z"/><path color="#42ffbd" d="M284.9 229.1l11.5 -1.5 3.8 -0.3 -11.4 1.8z"/><path color="#3affc5" d="M273.4 230.4l11.5 -1.3 3.9 0 -11.5 1.6z"/><path color="#31ffce" d="M261.9 231.6l11.5 -1.2 3.9 0.3 -11.5 1.5z"/><path color="#29ffd6" d="M250.5 232.9l11.4 -1.3 3.9 0.6 -11.5 1.4z"/><path color="#003cff" d="M759.3 223.4l11.5 1.1 3.8 -0.8 -11.4 -0.8z"/><path color="#0059ff" d="M747.8 222l11.5 1.4 3.9 -0.5 -11.5 -1.2z"/><path color="#007cff" d="M736.3 220.1l11.5 1.9 3.9 -0.3 -11.5 -1.5z"/><path color="#00a3ff" d="M724.9 217.9l11.4 2.2 3.9 0.1 -11.5 -1.7z"/><path color="#00ceff" d="M713.4 215.5l11.5 2.4 3.8 0.6 -11.4 -2z"/><path color="#00fcff" d="M701.9 212.9l11.5 2.6 3.9 1 -11.5 -2.1z"/><path color="#2cffd3" d="M690.4 210.1l11.5 2.8 3.9 1.5 -11.5 -2.3z"/><path color="#5cffa3" d="M679 207.3l11.4 2.8 3.9 2 -11.5 -2.3z"/><path color="#8cff73" d="M667.5 204.6l11.5 2.7 3.8 2.5 -11.4 -2.3z"/><path color="#bbff44" d="M656 201.8l11.5 2.8 3.9 2.9 -11.5 -2.3z"/><path color="#e8ff17" d="M644.5 199.2l11.5 2.6 3.9 3.4 -11.5 -2.2z"/><path color="#ffeb00" d="M633 196.8l11.5 2.4 3.9 3.8 -11.5 -2z"/><path color="#ffc500" d="M621.6 194.7l11.4 2.1 3.9 4.2 -11.5 -1.8z"/><path color="#ffa300" d="M610.1 192.9l11.5 1.8 3.8 4.5 -11.4 -1.6z"/><path color="#ff8600" d="M598.6 191.5l11.5 1.4 3.9 4.7 -11.5 -1.3z"/><path color="#ff6d00" d="M587.1 190.4l11.5 1.1 3.9 4.8 -11.5 -1.2z"/><path color="#ff5500" d="M575.7 189.3l11.4 1.1 3.9 4.7 -11.5 -1.1z"/><path color="#ff3f00" d="M564.2 188.4l11.5 0.9 3.8 4.7 -11.4 -1.1z"/><path color="#ff2a00" d="M552.7 187.5l11.5 0.9 3.9 4.5 -11.5 -1.1z"/><path color="#ff1700" d="M541.2 186.8l11.5 0.7 3.9 4.3 -11.5 -1.1z"/><path color="#ff0500" d="M529.8 186.2l11.4 0.6 3.9 3.9 -11.5 -0.9z"/><path color="#f50000" d="M518.3 185.7l11.5 0.5 3.8 3.6 -11.4 -0.8z"/><path color="#e80000" d="M506.8 185.4l11.5 0.3 3.9 3.3 -11.5 -0.7z"/><path color="#de0000" d="M495.3 185.3l11.5 0.1 3.9 2.9 -11.5 -0.5z"/><path color="#d60000" d="M483.9 185.4l11.4 -0.1 3.9 2.5 -11.5 -0.3z"/><path color="#d10000" d="M472.4 185.7l11.5 -0.3 3.8 2.1 -11.4 0z"/><path color="#cf0000" d="M460.9 186.2l11.5 -0.5 3.9 1.8 -11.5 0.1z"/><path color="#d00000" d="M449.4 186.9l11.5 -0.7 3.9 1.4 -11.5 0.5z"/><path color="#d50000" d="M438 187.9l11.4 -1 3.9 1.2 -11.5 0.8z"/><path color="#dd0000" d="M426.5 189.2l11.5 -1.3 3.8 1 -11.4 1z"/><path color="#ec0000" d="M415 190.9l11.5 -1.7 3.9 0.7 -11.5 1.6z"/><path color="#ff0400" d="M403.5 193.1l11.5 -2.2 3.9 0.6 -11.5 2.2z"/><path color="#ff2200" d="M392.1 196l11.4 -2.9 3.9 0.6 -11.5 2.7z"/><path color="#ff4900" d="M380.6 199.4l11.5 -3.4 3.8 0.4 -11.4 3.3z"/><path color="#ff7800" d="M369.1 203.4l11.5 -4 3.9 0.3 -11.5 3.8z"/><path color="#ffaf00" d="M357.6 208l11.5 -4.6 3.9 0.1 -11.5 4.4z"/><path color="#ffe900" d="M346.1 212.8l11.5 -4.8 3.9 -0.1 -11.5 4.6z"/><path color="#dcff23" d="M334.7 217.5l11.4 -4.7 3.9 -0.3 -11.5 4.6z"/><path color="#abff54" d="M323.2 221.7l11.5 -4.2 3.8 -0.4 -11.4 4z"/><path color="#87ff78" d="M311.7 224.9l11.5 -3.2 3.9 -0.6 -11.5 3.4z"/><path color="#6eff91" d="M300.2 227.3l11.5 -2.4 3.9 -0.4 -11.5 2.6z"/><path color="#5dffa2" d="M288.8 229.1l11.4 -1.8 3.9 -0.2 -11.5 2.1z"/><path color="#51ffae" d="M277.3 230.7l11.5 -1.6 3.8 0.1 -11.4 1.9z"/><path color="#45ffba" d="M265.8 232.2l11.5 -1.5 3.9 0.4 -11.5 1.7z"/><path color="#3bffc4" d="M254.3 233.6l11.5 -1.4 3.9 0.6 -11.5 1.5z"/><path color="#005fff" d="M763.2 222.9l11.4 0.8 3.9 -0.8 -11.5 -0.6z"/><path color="#0078ff" d="M751.7 221.7l11.5 1.2 3.8 -0.6 -11.4 -0.8z"/><path color="#0096ff" d="M740.2 220.2l11.5 1.5 3.9 -0.2 -11.5 -1.1z"/><path color="#00b7ff" d="M728.7 218.5l11.5 1.7 3.9 0.2 -11.5 -1.4z"/><path color="#00dcff" d="M717.3 216.5l11.4 2 3.9 0.5 -11.5 -1.5z"/><path color="#04fffb" d="M705.8 214.4l11.5 2.1 3.8 1 -11.4 -1.7z"/><path color="#2cffd3" d="M694.3 212.1l11.5 2.3 3.9 1.4 -11.5 -1.7z"/><path color="#55ffaa" d="M682.8 209.8l11.5 2.3 3.9 2 -11.5 -1.8z"/><path color="#7fff80" d="M671.4 207.5l11.4 2.3 3.9 2.5 -11.5 -1.9z"/><path color="#a7ff58" d="M659.9 205.2l11.5 2.3 3.8 2.9 -11.4 -1.8z"/><path color="#cfff30" d="M648.4 203l11.5 2.2 3.9 3.4 -11.5 -1.8z"/><path color="#f4ff0b" d="M636.9 201l11.5 2 3.9 3.8 -11.5 -1.7z"/><path color="#ffe700" d="M625.4 199.2l11.5 1.8 3.9 4.1 -11.5 -1.6z"/><path color="#ffc800" d="M614 197.6l11.4 1.6 3.9 4.3 -11.5 -1.4z"/><path color="#ffad00" d="M602.5 196.3l11.5 1.3 3.8 4.5 -11.4 -1.2z"/><path color="#ff9400" d="M591 195.1l11.5 1.2 3.9 4.6 -11.5 -1.1z"/><path color="#ff7b00" d="M579.5 194l11.5 1.1 3.9 4.7 -11.5 -1.2z"/><path color="#ff6200" d="M568.1 192.9l11.4 1.1 3.9 4.6 -11.5 -1.3z"/><path color="#ff4a00" d="M556.6 191.8l11.5 1.1 3.8 4.4 -11.4 -1.3z"/><path color="#ff3300" d="M545.1 190.7l11.5 1.1 3.9 4.2 -11.5 -1.3z"/><path color="#ff1d00" d="M533.6 189.8l11.5 0.9 3.9 4 -11.5 -1.3z"/><path color="#ff0800" d="M522.2 189l11.4 0.8 3.9 3.6 -11.5 -1.1z"/><path color="#f50000" d="M510.7 188.3l11.5 0.7 3.8 3.3 -11.4 -1.1z"/><path color="#e50000" d="M499.2 187.8l11.5 0.5 3.9 2.9 -11.5 -0.8z"/><path color="#d80000" d="M487.7 187.5l11.5 0.3 3.9 2.6 -11.5 -0.7z"/><path color="#ce0000" d="M476.3 187.5l11.4 0 3.9 2.2 -11.5 -0.4z"/><path color="#c70000" d="M464.8 187.6l11.5 -0.1 3.8 1.8 -11.4 -0.2z"/><path color="#c50000" d="M453.3 188.1l11.5 -0.5 3.9 1.5 -11.5 0.2z"/><path color="#c60000" d="M441.8 188.9l11.5 -0.8 3.9 1.2 -11.5 0.5z"/><path color="#cc0000" d="M430.4 189.9l11.4 -1 3.9 0.9 -11.5 1z"/><path color="#d90000" d="M418.9 191.5l11.5 -1.6 3.8 0.9 -11.4 1.4z"/><path color="#ee0000" d="M407.4 193.7l11.5 -2.2 3.9 0.7 -11.5 2.1z"/><path color="#ff0c00" d="M395.9 196.4l11.5 -2.7 3.9 0.6 -11.5 2.6z"/><path color="#ff3100" d="M384.5 199.7l11.4 -3.3 3.9 0.5 -11.5 3.2z"/><path color="#ff5e00" d="M373 203.5l11.5 -3.8 3.8 0.4 -11.4 3.7z"/><path color="#ff9200" d="M361.5 207.9l11.5 -4.4 3.9 0.3 -11.5 4.2z"/><path color="#ffca00" d="M350 212.5l11.5 -4.6 3.9 0.1 -11.5 4.4z"/><path color="#fdff02" d="M338.5 217.1l11.5 -4.6 3.9 -0.1 -11.5 4.4z"/><path color="#ceff31" d="M327.1 221.1l11.4 -4 3.9 -0.3 -11.5 4z"/><path color="#a8ff57" d="M315.6 224.5l11.5 -3.4 3.8 -0.3 -11.4 3.5z"/><path color="#8cff73" d="M304.1 227.1l11.5 -2.6 3.9 -0.2 -11.5 2.8z"/><path color="#78ff87" d="M292.6 229.2l11.5 -2.1 3.9 0 -11.5 2.3z"/><path color="#67ff98" d="M281.2 231.1l11.4 -1.9 3.9 0.2 -11.5 2.1z"/><path color="#59ffa6" d="M269.7 232.8l11.5 -1.7 3.8 0.4 -11.4 1.9z"/><path color="#4cffb3" d="M258.2 234.3l11.5 -1.5 3.9 0.6 -11.5 1.6z"/><path color="#0082ff" d="M767 222.3l11.5 0.6 3.9 -0.6 -11.5 -0.4z"/><path color="#0097ff" d="M755.6 221.5l11.4 0.8 3.9 -0.4 -11.5 -0.6z"/><path color="#00b0ff" d="M744.1 220.4l11.5 1.1 3.8 -0.2 -11.4 -0.7z"/><path color="#00cbff" d="M732.6 219l11.5 1.4 3.9 0.2 -11.5 -1z"/><path color="#00e9ff" d="M721.1 217.5l11.5 1.5 3.9 0.6 -11.5 -1.1z"/><path color="#0bfff4" d="M709.7 215.8l11.4 1.7 3.9 1 -11.5 -1.2z"/><path color="#2cffd3" d="M698.2 214.1l11.5 1.7 3.8 1.5 -11.4 -1.3z"/><path color="#4fffb0" d="M686.7 212.3l11.5 1.8 3.9 1.9 -11.5 -1.3z"/><path color="#71ff8e" d="M675.2 210.4l11.5 1.9 3.9 2.4 -11.5 -1.4z"/><path color="#94ff6b" d="M663.8 208.6l11.4 1.8 3.9 2.9 -11.5 -1.5z"/><path color="#b6ff49" d="M652.3 206.8l11.5 1.8 3.8 3.2 -11.4 -1.4z"/><path color="#d7ff28" d="M640.8 205.1l11.5 1.7 3.9 3.6 -11.5 -1.3z"/><path color="#f5ff0a" d="M629.3 203.5l11.5 1.6 3.9 4 -11.5 -1.3z"/><path color="#ffec00" d="M617.8 202.1l11.5 1.4 3.9 4.3 -11.5 -1.2z"/><path color="#ffd200" d="M606.4 200.9l11.4 1.2 3.9 4.5 -11.5 -1.1z"/><path color="#ffba00" d="M594.9 199.8l11.5 1.1 3.8 4.6 -11.4 -1.2z"/><path color="#ff9f00" d="M583.4 198.6l11.5 1.2 3.9 4.5 -11.5 -1.3z"/><path color="#ff8400" d="M571.9 197.3l11.5 1.3 3.9 4.4 -11.5 -1.4z"/><path color="#ff6900" d="M560.5 196l11.4 1.3 3.9 4.3 -11.5 -1.5z"/><path color="#ff4e00" d="M549 194.7l11.5 1.3 3.8 4.1 -11.4 -1.6z"/><path color="#ff3400" d="M537.5 193.4l11.5 1.3 3.9 3.8 -11.5 -1.5z"/><path color="#ff1a00" d="M526 192.3l11.5 1.1 3.9 3.6 -11.5 -1.5z"/><path color="#ff0300" d="M514.6 191.2l11.4 1.1 3.9 3.2 -11.5 -1.4z"/><path color="#ed0000" d="M503.1 190.4l11.5 0.8 3.8 2.9 -11.4 -1.2z"/><path color="#db0000" d="M491.6 189.7l11.5 0.7 3.9 2.5 -11.5 -1z"/><path color="#cc0000" d="M480.1 189.3l11.5 0.4 3.9 2.2 -11.5 -0.8z"/><path color="#c10000" d="M468.7 189.1l11.4 0.2 3.9 1.8 -11.5 -0.4z"/><path color="#ba0000" d="M457.2 189.3l11.5 -0.2 3.8 1.6 -11.4 -0.1z"/><path color="#b90000" d="M445.7 189.8l11.5 -0.5 3.9 1.3 -11.5 0.3z"/><path color="#bc0000" d="M434.2 190.8l11.5 -1 3.9 1.1 -11.5 0.8z"/><path color="#c80000" d="M422.8 192.2l11.4 -1.4 3.9 0.9 -11.5 1.3z"/><path color="#db0000" d="M411.3 194.3l11.5 -2.1 3.8 0.8 -11.4 2z"/><path color="#f70000" d="M399.8 196.9l11.5 -2.6 3.9 0.7 -11.5 2.5z"/><path color="#ff1c00" d="M388.3 200.1l11.5 -3.2 3.9 0.6 -11.5 3.1z"/><path color="#ff4700" d="M376.9 203.8l11.4 -3.7 3.9 0.5 -11.5 3.6z"/><path color="#ff7800" d="M365.4 208l11.5 -4.2 3.8 0.4 -11.4 4z"/><path color="#ffad00" d="M353.9 212.4l11.5 -4.4 3.9 0.2 -11.5 4.3z"/><path color="#ffe100" d="M342.4 216.8l11.5 -4.4 3.9 0.1 -11.5 4.2z"/><path color="#eeff11" d="M330.9 220.8l11.5 -4 3.9 -0.1 -11.5 4z"/><path color="#c7ff38" d="M319.5 224.3l11.4 -3.5 3.9 -0.1 -11.5 3.5z"/><path color="#a8ff57" d="M308 227.1l11.5 -2.8 3.8 -0.1 -11.4 3z"/><path color="#90ff6f" d="M296.5 229.4l11.5 -2.3 3.9 0.1 -11.5 2.6z"/><path color="#7cff83" d="M285 231.5l11.5 -2.1 3.9 0.4 -11.5 2.3z"/><path color="#6bff94" d="M273.6 233.4l11.4 -1.9 3.9 0.6 -11.5 2z"/><path color="#5dffa2" d="M262.1 235l11.5 -1.6 3.8 0.7 -11.4 1.7z"/><path color="#00a3ff" d="M770.9 221.9l11.5 0.4 3.9 -0.4 -11.5 -0.2z"/><path color="#00b4ff" d="M759.4 221.3l11.5 0.6 3.9 -0.2 -11.5 -0.3z"/><path color="#00c8ff" d="M748 220.6l11.4 0.7 3.9 0.1 -11.5 -0.5z"/><path color="#00deff" d="M736.5 219.6l11.5 1 3.8 0.3 -11.4 -0.6z"/><path color="#00f7ff" d="M725 218.5l11.5 1.1 3.9 0.7 -11.5 -0.7z"/><path color="#11ffee" d="M713.5 217.3l11.5 1.2 3.9 1.1 -11.5 -0.8z"/><path color="#2dffd2" d="M702.1 216l11.4 1.3 3.9 1.5 -11.5 -0.8z"/><path color="#49ffb6" d="M690.6 214.7l11.5 1.3 3.8 2 -11.4 -1z"/><path color="#65ff9a" d="M679.1 213.3l11.5 1.4 3.9 2.3 -11.5 -1z"/><path color="#82ff7d" d="M667.6 211.8l11.5 1.5 3.9 2.7 -11.5 -1z"/><path color="#9fff60" d="M656.2 210.4l11.4 1.4 3.9 3.2 -11.5 -1.1z"/><path color="#bbff44" d="M644.7 209.1l11.5 1.3 3.8 3.5 -11.4 -1z"/><path color="#d6ff29" d="M633.2 207.8l11.5 1.3 3.9 3.8 -11.5 -1.1z"/><path color="#f0ff0f" d="M621.7 206.6l11.5 1.2 3.9 4 -11.5 -1z"/><path color="#fff600" d="M610.2 205.5l11.5 1.1 3.9 4.2 -11.5 -1z"/><path color="#ffde00" d="M598.8 204.3l11.4 1.2 3.9 4.3 -11.5 -1.1z"/><path color="#ffc200" d="M587.3 203l11.5 1.3 3.8 4.4 -11.4 -1.4z"/><path color="#ffa500" d="M575.8 201.6l11.5 1.4 3.9 4.3 -11.5 -1.6z"/><path color="#ff8700" d="M564.3 200.1l11.5 1.5 3.9 4.1 -11.5 -1.7z"/><path color="#ff6800" d="M552.9 198.5l11.4 1.6 3.9 3.9 -11.5 -1.8z"/><path color="#ff4900" d="M541.4 197l11.5 1.5 3.8 3.7 -11.4 -1.8z"/><path color="#ff2c00" d="M529.9 195.5l11.5 1.5 3.9 3.4 -11.5 -1.8z"/><path color="#ff1000" d="M518.4 194.1l11.5 1.4 3.9 3.1 -11.5 -1.7z"/><path color="#f50000" d="M507 192.9l11.4 1.2 3.9 2.8 -11.5 -1.5z"/><path color="#de0000" d="M495.5 191.9l11.5 1 3.8 2.5 -11.4 -1.4z"/><path color="#ca0000" d="M484 191.1l11.5 0.8 3.9 2.1 -11.5 -1z"/><path color="#bb0000" d="M472.5 190.7l11.5 0.4 3.9 1.9 -11.5 -0.7z"/><path color="#b10000" d="M461.1 190.6l11.4 0.1 3.9 1.6 -11.5 -0.4z"/><path color="#ac0000" d="M449.6 190.9l11.5 -0.3 3.8 1.3 -11.4 0.1z"/><path color="#ae0000" d="M438.1 191.7l11.5 -0.8 3.9 1.1 -11.5 0.7z"/><path color="#b70000" d="M426.6 193l11.5 -1.3 3.9 1 -11.5 1.2z"/><path color="#ca0000" d="M415.2 195l11.4 -2 3.9 0.9 -11.5 1.9z"/><path color="#e40000" d="M403.7 197.5l11.5 -2.5 3.8 0.8 -11.4 2.4z"/><path color="#ff0700" d="M392.2 200.6l11.5 -3.1 3.9 0.7 -11.5 3z"/><path color="#ff3000" d="M380.7 204.2l11.5 -3.6 3.9 0.6 -11.5 3.5z"/><path color="#ff5f00" d="M369.3 208.2l11.4 -4 3.9 0.5 -11.5 3.9z"/><path color="#ff9200" d="M357.8 212.5l11.5 -4.3 3.8 0.4 -11.4 4.1z"/><path color="#ffc400" d="M346.3 216.7l11.5 -4.2 3.9 0.2 -11.5 4.2z"/><path color="#fff300" d="M334.8 220.7l11.5 -4 3.9 0.2 -11.5 3.9z"/><path color="#e3ff1c" d="M323.3 224.2l11.5 -3.5 3.9 0.1 -11.5 3.6z"/><path color="#c2ff3d" d="M311.9 227.2l11.4 -3 3.9 0.2 -11.5 3.1z"/><path color="#a7ff58" d="M300.4 229.8l11.5 -2.6 3.8 0.3 -11.4 2.8z"/><path color="#90ff6f" d="M288.9 232.1l11.5 -2.3 3.9 0.5 -11.5 2.5z"/><path color="#7dff82" d="M277.4 234.1l11.5 -2 3.9 0.7 -11.5 2.1z"/><path color="#6eff91" d="M266 235.8l11.4 -1.7 3.9 0.8 -11.5 1.9z"/><path color="#00c2ff" d="M774.8 221.7l11.5 0.2 3.8 -0.2 -11.4 0z"/><path color="#00cfff" d="M763.3 221.4l11.5 0.3 3.9 0 -11.5 0z"/><path color="#00dfff" d="M751.8 220.9l11.5 0.5 3.9 0.3 -11.5 -0.2z"/><path color="#00f0ff" d="M740.4 220.3l11.4 0.6 3.9 0.6 -11.5 -0.3z"/><path color="#04fffb" d="M728.9 219.6l11.5 0.7 3.8 0.9 -11.4 -0.3z"/><path color="#18ffe7" d="M717.4 218.8l11.5 0.8 3.9 1.3 -11.5 -0.5z"/><path color="#2dffd2" d="M705.9 218l11.5 0.8 3.9 1.6 -11.5 -0.5z"/><path color="#43ffbc" d="M694.5 217l11.4 1 3.9 1.9 -11.5 -0.6z"/><path color="#5affa5" d="M683 216l11.5 1 3.8 2.3 -11.4 -0.6z"/><path color="#71ff8e" d="M671.5 215l11.5 1 3.9 2.7 -11.5 -0.7z"/><path color="#89ff76" d="M660 213.9l11.5 1.1 3.9 3 -11.5 -0.7z"/><path color="#a1ff5e" d="M648.6 212.9l11.4 1 3.9 3.4 -11.5 -0.8z"/><path color="#b9ff46" d="M637.1 211.8l11.5 1.1 3.8 3.6 -11.4 -0.9z"/><path color="#d0ff2f" d="M625.6 210.8l11.5 1 3.9 3.8 -11.5 -0.9z"/><path color="#e7ff18" d="M614.1 209.8l11.5 1 3.9 3.9 -11.5 -0.9z"/><path color="#fffe00" d="M602.6 208.7l11.5 1.1 3.9 4 -11.5 -1.1z"/><path color="#ffe200" d="M591.2 207.3l11.4 1.4 3.9 4 -11.5 -1.4z"/><path color="#ffc300" d="M579.7 205.7l11.5 1.6 3.8 4 -11.4 -1.7z"/><path color="#ffa200" d="M568.2 204l11.5 1.7 3.9 3.9 -11.5 -1.9z"/><path color="#ff8000" d="M556.7 202.2l11.5 1.8 3.9 3.7 -11.5 -2z"/><path color="#ff5e00" d="M545.3 200.4l11.4 1.8 3.9 3.5 -11.5 -2.1z"/><path color="#ff3c00" d="M533.8 198.6l11.5 1.8 3.8 3.2 -11.4 -2z"/><path color="#ff1b00" d="M522.3 196.9l11.5 1.7 3.9 3 -11.5 -2z"/><path color="#fc0000" d="M510.8 195.4l11.5 1.5 3.9 2.7 -11.5 -1.8z"/><path color="#e00000" d="M499.4 194l11.4 1.4 3.9 2.4 -11.5 -1.6z"/><path color="#c80000" d="M487.9 193l11.5 1 3.8 2.2 -11.4 -1.4z"/><path color="#b50000" d="M476.4 192.3l11.5 0.7 3.9 1.8 -11.5 -0.9z"/><path color="#a80000" d="M464.9 191.9l11.5 0.4 3.9 1.6 -11.5 -0.6z"/><path color="#a00000" d="M453.5 192l11.4 -0.1 3.9 1.4 -11.5 0z"/><path color="#a00000" d="M442 192.7l11.5 -0.7 3.8 1.3 -11.4 0.5z"/><path color="#a80000" d="M430.5 193.9l11.5 -1.2 3.9 1.1 -11.5 1.1z"/><path color="#ba0000" d="M419 195.8l11.5 -1.9 3.9 1 -11.5 1.8z"/><path color="#d30000" d="M407.6 198.2l11.4 -2.4 3.9 0.9 -11.5 2.4z"/><path color="#f40000" d="M396.1 201.2l11.5 -3 3.8 0.9 -11.4 2.9z"/><path color="#ff1c00" d="M384.6 204.7l11.5 -3.5 3.9 0.8 -11.5 3.4z"/><path color="#ff4a00" d="M373.1 208.6l11.5 -3.9 3.9 0.7 -11.5 3.8z"/><path color="#ff7a00" d="M361.7 212.7l11.4 -4.1 3.9 0.6 -11.5 4z"/><path color="#ffab00" d="M350.2 216.9l11.5 -4.2 3.8 0.5 -11.4 4.1z"/><path color="#ffd900" d="M338.7 220.8l11.5 -3.9 3.9 0.4 -11.5 3.9z"/><path color="#fcff03" d="M327.2 224.4l11.5 -3.6 3.9 0.4 -11.5 3.6z"/><path color="#d9ff26" d="M315.7 227.5l11.5 -3.1 3.9 0.4 -11.5 3.3z"/><path color="#bbff44" d="M304.3 230.3l11.4 -2.8 3.9 0.6 -11.5 2.9z"/><path color="#a2ff5d" d="M292.8 232.8l11.5 -2.5 3.8 0.7 -11.4 2.6z"/><path color="#8dff72" d="M281.3 234.9l11.5 -2.1 3.9 0.8 -11.5 2.3z"/><path color="#7cff83" d="M269.8 236.8l11.5 -1.9 3.9 1 -11.5 1.9z"/><path color="#00ddff" d="M778.7 221.7l11.4 0 3.9 0.3 -11.5 0.2z"/><path color="#00e7ff" d="M767.2 221.7l11.5 0 3.8 0.5 -11.4 0.1z"/><path color="#00f2ff" d="M755.7 221.5l11.5 0.2 3.9 0.6 -11.5 0z"/><path color="#00ffff" d="M744.2 221.2l11.5 0.3 3.9 0.8 -11.5 0z"/><path color="#0efff1" d="M732.8 220.9l11.4 0.3 3.9 1.1 -11.5 -0.1z"/><path color="#1dffe2" d="M721.3 220.4l11.5 0.5 3.8 1.3 -11.4 -0.1z"/><path color="#2dffd2" d="M709.8 219.9l11.5 0.5 3.9 1.7 -11.5 -0.2z"/><path color="#3effc1" d="M698.3 219.3l11.5 0.6 3.9 2 -11.5 -0.3z"/><path color="#50ffaf" d="M686.9 218.7l11.4 0.6 3.9 2.3 -11.5 -0.3z"/><path color="#63ff9c" d="M675.4 218l11.5 0.7 3.8 2.6 -11.4 -0.4z"/><path color="#76ff89" d="M663.9 217.3l11.5 0.7 3.9 2.9 -11.5 -0.5z"/><path color="#8aff75" d="M652.4 216.5l11.5 0.8 3.9 3.1 -11.5 -0.6z"/><path color="#9fff60" d="M641 215.6l11.4 0.9 3.9 3.3 -11.5 -0.7z"/><path color="#b4ff4b" d="M629.5 214.7l11.5 0.9 3.8 3.5 -11.4 -0.7z"/><path color="#caff35" d="M618 213.8l11.5 0.9 3.9 3.7 -11.5 -0.9z"/><path color="#e3ff1c" d="M606.5 212.7l11.5 1.1 3.9 3.7 -11.5 -1.1z"/><path color="#fffe00" d="M595 211.3l11.5 1.4 3.9 3.7 -11.5 -1.5z"/><path color="#ffdd00" d="M583.6 209.6l11.4 1.7 3.9 3.6 -11.5 -1.8z"/><path color="#ffba00" d="M572.1 207.7l11.5 1.9 3.8 3.5 -11.4 -2z"/><path color="#ff9500" d="M560.6 205.7l11.5 2 3.9 3.4 -11.5 -2.2z"/><path color="#ff6f00" d="M549.1 203.6l11.5 2.1 3.9 3.2 -11.5 -2.3z"/><path color="#ff4a00" d="M537.7 201.6l11.4 2 3.9 3 -11.5 -2.3z"/><path color="#ff2500" d="M526.2 199.6l11.5 2 3.8 2.7 -11.4 -2.2z"/><path color="#ff0300" d="M514.7 197.8l11.5 1.8 3.9 2.5 -11.5 -2.1z"/><path color="#e20000" d="M503.2 196.2l11.5 1.6 3.9 2.2 -11.5 -1.8z"/><path color="#c70000" d="M491.8 194.8l11.4 1.4 3.9 2 -11.5 -1.5z"/><path color="#b00000" d="M480.3 193.9l11.5 0.9 3.8 1.9 -11.4 -1.2z"/><path color="#a00000" d="M468.8 193.3l11.5 0.6 3.9 1.6 -11.5 -0.7z"/><path color="#960000" d="M457.3 193.3l11.5 0 3.9 1.5 -11.5 -0.2z"/><path color="#940000" d="M445.9 193.8l11.4 -0.5 3.9 1.3 -11.5 0.4z"/><path color="#9b0000" d="M434.4 194.9l11.5 -1.1 3.8 1.2 -11.4 1z"/><path color="#ab0000" d="M422.9 196.7l11.5 -1.8 3.9 1.1 -11.5 1.8z"/><path color="#c30000" d="M411.4 199.1l11.5 -2.4 3.9 1.1 -11.5 2.3z"/><path color="#e30000" d="M400 202l11.4 -2.9 3.9 1 -11.5 2.9z"/><path color="#ff0b00" d="M388.5 205.4l11.5 -3.4 3.8 1 -11.4 3.3z"/><path color="#ff3600" d="M377 209.2l11.5 -3.8 3.9 0.9 -11.5 3.7z"/><path color="#ff6500" d="M365.5 213.2l11.5 -4 3.9 0.8 -11.5 3.9z"/><path color="#ff9500" d="M354.1 217.3l11.4 -4.1 3.9 0.7 -11.5 4z"/><path color="#ffc300" d="M342.6 221.2l11.5 -3.9 3.8 0.6 -11.4 3.9z"/><path color="#ffed00" d="M331.1 224.8l11.5 -3.6 3.9 0.6 -11.5 3.7z"/><path color="#edff12" d="M319.6 228.1l11.5 -3.3 3.9 0.7 -11.5 3.4z"/><path color="#cdff32" d="M308.1 231l11.5 -2.9 3.9 0.8 -11.5 3.1z"/><path color="#b1ff4e" d="M296.7 233.6l11.4 -2.6 3.9 1 -11.5 2.7z"/><path color="#9aff65" d="M285.2 235.9l11.5 -2.3 3.8 1.1 -11.4 2.4z"/><path color="#89ff76" d="M273.7 237.8l11.5 -1.9 3.9 1.2 -11.5 1.9z"/><path color="#00f2ff" d="M782.5 222.2l11.5 -0.2 3.9 0.8 -11.5 0.3z"/><path color="#00faff" d="M771.1 222.3l11.4 -0.1 3.9 0.9 -11.5 0.2z"/><path color="#03fffc" d="M759.6 222.3l11.5 0 3.8 1 -11.4 0.2z"/><path color="#0cfff3" d="M748.1 222.3l11.5 0 3.9 1.2 -11.5 0.2z"/><path color="#16ffe9" d="M736.6 222.2l11.5 0.1 3.9 1.4 -11.5 0.1z"/><path color="#21ffde" d="M725.2 222.1l11.4 0.1 3.9 1.6 -11.5 0.1z"/><path color="#2dffd2" d="M713.7 221.9l11.5 0.2 3.8 1.8 -11.4 0z"/><path color="#3affc5" d="M702.2 221.6l11.5 0.3 3.9 2 -11.5 0z"/><path color="#47ffb8" d="M690.7 221.3l11.5 0.3 3.9 2.3 -11.5 -0.1z"/><path color="#56ffa9" d="M679.3 220.9l11.4 0.4 3.9 2.5 -11.5 -0.3z"/><path color="#66ff99" d="M667.8 220.4l11.5 0.5 3.8 2.6 -11.4 -0.3z"/><path color="#77ff88" d="M656.3 219.8l11.5 0.6 3.9 2.8 -11.5 -0.4z"/><path color="#8aff75" d="M644.8 219.1l11.5 0.7 3.9 3 -11.5 -0.6z"/><path color="#9dff62" d="M633.4 218.4l11.4 0.7 3.9 3.1 -11.5 -0.6z"/><path color="#b2ff4d" d="M621.9 217.5l11.5 0.9 3.8 3.2 -11.4 -0.8z"/><path color="#cbff34" d="M610.4 216.4l11.5 1.1 3.9 3.3 -11.5 -1.2z"/><path color="#e9ff16" d="M598.9 214.9l11.5 1.5 3.9 3.2 -11.5 -1.5z"/><path color="#fff300" d="M587.4 213.1l11.5 1.8 3.9 3.2 -11.5 -1.9z"/><path color="#ffce00" d="M576 211.1l11.4 2 3.9 3.1 -11.5 -2.2z"/><path color="#ffa600" d="M564.5 208.9l11.5 2.2 3.8 2.9 -11.4 -2.3z"/><path color="#ff7d00" d="M553 206.6l11.5 2.3 3.9 2.8 -11.5 -2.4z"/><path color="#ff5500" d="M541.5 204.3l11.5 2.3 3.9 2.7 -11.5 -2.5z"/><path color="#ff2d00" d="M530.1 202.1l11.4 2.2 3.9 2.5 -11.5 -2.4z"/><path color="#ff0700" d="M518.6 200l11.5 2.1 3.8 2.3 -11.4 -2.2z"/><path color="#e30000" d="M507.1 198.2l11.5 1.8 3.9 2.2 -11.5 -2z"/><path color="#c50000" d="M495.6 196.7l11.5 1.5 3.9 2 -11.5 -1.8z"/><path color="#ab0000" d="M484.2 195.5l11.4 1.2 3.9 1.7 -11.5 -1.3z"/><path color="#980000" d="M472.7 194.8l11.5 0.7 3.8 1.6 -11.4 -0.8z"/><path color="#8c0000" d="M461.2 194.6l11.5 0.2 3.9 1.5 -11.5 -0.4z"/><path color="#890000" d="M449.7 195l11.5 -0.4 3.9 1.3 -11.5 0.3z"/><path color="#8f0000" d="M438.3 196l11.4 -1 3.9 1.2 -11.5 1.1z"/><path color="#9e0000" d="M426.8 197.8l11.5 -1.8 3.8 1.3 -11.4 1.7z"/><path color="#b60000" d="M415.3 200.1l11.5 -2.3 3.9 1.2 -11.5 2.3z"/><path color="#d50000" d="M403.8 203l11.5 -2.9 3.9 1.2 -11.5 2.8z"/><path color="#fb0000" d="M392.4 206.3l11.4 -3.3 3.9 1.1 -11.5 3.3z"/><path color="#ff2600" d="M380.9 210l11.5 -3.7 3.8 1.1 -11.4 3.6z"/><path color="#ff5400" d="M369.4 213.9l11.5 -3.9 3.9 1 -11.5 3.9z"/><path color="#ff8300" d="M357.9 217.9l11.5 -4 3.9 1 -11.5 4z"/><path color="#ffb100" d="M346.5 221.8l11.4 -3.9 3.9 1 -11.5 3.9z"/><path color="#ffdb00" d="M335 225.5l11.5 -3.7 3.8 1 -11.4 3.7z"/><path color="#fdff02" d="M323.5 228.9l11.5 -3.4 3.9 1 -11.5 3.5z"/><path color="#dbff24" d="M312 232l11.5 -3.1 3.9 1.1 -11.5 3.1z"/><path color="#beff41" d="M300.5 234.7l11.5 -2.7 3.9 1.1 -11.5 2.9z"/><path color="#a6ff59" d="M289.1 237.1l11.4 -2.4 3.9 1.3 -11.5 2.4z"/><path color="#94ff6b" d="M277.6 239l11.5 -1.9 3.8 1.3 -11.4 2z"/></g></g></g><g id="pb"><path class="gd" d="M91.4 540.6L91.4 434.1"/><path class="gd" d="M91.4 540.6L233.7 647.4"/><path class="gd" d="M195.6 536.5L195.6 430"/><path class="gd" d="M195.6 536.5L337.8 643.3"/><path class="gd" d="M299.7 532.4L299.7 425.9"/><path class="gd" d="M299.7 532.4L442 639.2"/><path class="gd" d="M403.9 528.3L403.9 421.8"/><path class="gd" d="M403.9 528.3L546.1 635.1"/><path class="gd" d="M508 524.2L508 417.7"/><path class="gd" d="M508 524.2L650.3 631"/><path class="gd" d="M612.1 520.1L612.1 413.6"/><path class="gd" d="M612.1 520.1L754.4 626.9"/><path class="gd" d="M716.3 516L716.3 409.5"/><path class="gd" d="M716.3 516L858.6 622.8"/><path class="gd" d="M91.4 540.6L716.3 516"/><path class="gd" d="M91.4 487.4L716.3 462.8"/><path class="gd" d="M716.3 462.8L858.6 569.6"/><path class="gd" d="M91.4 434.1L716.3 409.5"/><path class="gd" d="M716.3 409.5L858.6 516.3"/><path class="gd" d="M716.3 516L716.3 409.5"/><path class="gd" d="M91.4 540.6L716.3 516"/><path class="gd" d="M763.7 551.6L763.7 445.1"/><path class="gd" d="M138.8 576.2L763.7 551.6"/><path class="gd" d="M811.2 587.2L811.2 480.7"/><path class="gd" d="M186.3 611.8L811.2 587.2"/><path class="gd" d="M858.6 622.8L858.6 516.3"/><path class="gd" d="M233.7 647.4L858.6 622.8"/><path class="ax" d="M91.4 540.6L91.4 434.1"/><path class="ax" d="M91.4 540.6L233.7 647.4"/><path class="ax" d="M233.7 647.4L858.6 622.8"/><path class="ax2" d="M716.3 516L858.6 622.8"/><path class="ax" d="M91.4 540.6l-12.6 -11"/><text transform="translate(75.6 534.7) scale(0.76 1)" text-anchor="end" font-size="14" fill="#484848">-140</text><path class="ax" d="M91.4 487.4l-12.6 -11"/><text transform="translate(75.6 481.5) scale(0.76 1)" text-anchor="end" font-size="14" fill="#484848">-138</text><path class="ax" d="M91.4 434.1l-12.6 -11"/><text transform="translate(75.6 428.2) scale(0.76 1)" text-anchor="end" font-size="14" fill="#484848">-136</text><path class="ax" d="M233.7 647.4l12.5 9.5"/><text transform="translate(247.7 673.4) scale(0.76 1)" text-anchor="start" font-size="14" fill="#484848">1</text><path class="ax" d="M337.8 643.3l12.5 9.5"/><text transform="translate(351.8 669.3) scale(0.76 1)" text-anchor="start" font-size="14" fill="#484848">1.5</text><path class="ax" d="M442 639.2l12.5 9.5"/><text transform="translate(456 665.2) scale(0.76 1)" text-anchor="start" font-size="14" fill="#484848">2</text><path class="ax" d="M546.1 635.1l12.5 9.5"/><text transform="translate(560.1 661.1) scale(0.76 1)" text-anchor="start" font-size="14" fill="#484848">2.5</text><path class="ax" d="M650.3 631l12.5 9.5"/><text transform="translate(664.3 657) scale(0.76 1)" text-anchor="start" font-size="14" fill="#484848">3</text><path class="ax" d="M754.4 626.9l12.5 9.5"/><text transform="translate(768.4 652.9) scale(0.76 1)" text-anchor="start" font-size="14" fill="#484848">3.5</text><path class="ax" d="M858.6 622.8l12.5 9.5"/><text transform="translate(872.6 648.8) scale(0.76 1)" text-anchor="start" font-size="14" fill="#484848">4</text><path class="ax" d="M91.4 540.6h-16"/><text transform="translate(73.4 555) scale(0.76 1)" text-anchor="end" font-size="14" fill="#484848">1</text><path class="ax" d="M138.8 576.2h-16"/><text transform="translate(120.8 590.6) scale(0.76 1)" text-anchor="end" font-size="14" fill="#484848">2</text><path class="ax" d="M186.3 611.8h-16"/><text transform="translate(168.3 626.2) scale(0.76 1)" text-anchor="end" font-size="14" fill="#484848">3</text><path class="ax" d="M233.7 647.4h-16"/><text transform="translate(215.7 661.8) scale(0.76 1)" text-anchor="end" font-size="14" fill="#484848">4</text><g filter="url(#bl)"><path fill="none" stroke="#616dd3" stroke-width="1.15" d="M801.8 580.2L778.3 588.5L830.7 601.9"/><path fill="none" stroke="#61bfd3" stroke-width="1.15" d="M299.7 532.4L335.6 568.5L347.9 568.6L351.4 567.8L299.7 532.4"/><path fill="none" stroke="#61bfd3" stroke-width="1.15" d="M790.7 571.8L739.1 590L853.9 619.3"/><path fill="none" stroke="#9fd395" stroke-width="1.15" d="M203.3 536.2L128.6 568.5"/><path fill="none" stroke="#9fd395" stroke-width="1.15" d="M779.5 563.5L700 591.6L673.4 630.1"/><path fill="none" stroke="#9fd395" stroke-width="1.15" d="M229.9 644.6L272.6 608.4L368.2 583.8L458.8 563.6L388.7 528.9"/><path fill="none" stroke="#d3b561" stroke-width="1.15" d="M106.8 540L96.5 544.4"/><path fill="none" stroke="#d3b561" stroke-width="1.15" d="M768.4 555.1L595.5 558.2L544.7 551.7L477.7 525.4"/><path fill="none" stroke="#d3b561" stroke-width="1.15" d="M306.3 644.5L366.4 604.7L388.5 599L558.4 562.1L660.8 593.1L632.4 617.5L578.7 633.8"/><path fill="none" stroke="#d36361" stroke-width="1.15" d="M725.5 522.9L679.8 517.4"/><path fill="none" stroke="#d36361" stroke-width="1.15" d="M518.1 598.7L588.5 584.6L621.7 594.7L612.4 602.6L518.1 598.7"/><path fill="none" stroke="#d36361" stroke-width="1.15" d="M385.2 641.4L417.9 621.1L499.2 636.9"/><g fill="currentColor" stroke="currentColor" stroke-width="1.0" stroke-linejoin="round"><path color="#ff7e00" d="M508 439.8l208.3 -18.8 47.4 45.1z"/><path color="#ff7e00" d="M508 439.8l255.7 26.3 -208.3 15.2z"/><path color="#00d2ff" d="M299.7 479.2l208.3 -39.4 47.4 41.5z"/><path color="#00d2ff" d="M299.7 479.2l255.7 2.1 -208.3 34z"/><path color="#ff9f00" d="M91.4 458.6l208.3 20.6 47.4 36.1z"/><path color="#ff9f00" d="M91.4 458.6l255.7 56.7 -208.3 -1.4z"/><path color="#ffce00" d="M555.4 481.3l208.3 -15.2 47.5 92.4z"/><path color="#ffce00" d="M555.4 481.3l255.8 77.2 -208.3 -62.7z"/><path color="#00cbff" d="M347.1 515.3l208.3 -34 47.5 14.5z"/><path color="#00cbff" d="M347.1 515.3l255.8 -19.5 -208.3 23.9z"/><path color="#50ffaf" d="M138.8 513.9l208.3 1.4 47.5 4.4z"/><path color="#50ffaf" d="M138.8 513.9l255.8 5.8 -208.3 37.8z"/><path color="#ac0000" d="M602.9 495.8l208.3 62.7 47.4 8.4z"/><path color="#ac0000" d="M602.9 495.8l255.7 71.1 -208.3 -3.8z"/><path color="#ff8500" d="M394.6 519.7l208.3 -23.9 47.4 67.3z"/><path color="#ff8500" d="M394.6 519.7l255.7 43.4 -208.3 -26.7z"/><path color="#00e1ff" d="M186.3 557.5l208.3 -37.8 47.4 16.7z"/><path color="#00e1ff" d="M186.3 557.5l255.7 -21.1 -208.3 43.4z"/></g></g></g><g id="pc"><path class="gd" d="M87.7 1008.9L87.7 852.5"/><path class="gd" d="M851.5 1002.5L851.5 846.1"/><path class="gd" d="M497 1044.5L87.7 1008.9"/><path class="gd" d="M497 1044.5L851.5 1002.5"/><path class="gd" d="M123.2 1004.7L123.2 848.3"/><path class="gd" d="M810.6 998.9L810.6 842.5"/><path class="gd" d="M532.5 1040.3L123.2 1004.7"/><path class="gd" d="M456.1 1040.9L810.6 998.9"/><path class="gd" d="M158.6 1000.5L158.6 844.1"/><path class="gd" d="M769.6 995.4L769.6 839"/><path class="gd" d="M567.9 1036.1L158.6 1000.5"/><path class="gd" d="M415.1 1037.4L769.6 995.4"/><path class="gd" d="M194.1 996.3L194.1 839.9"/><path class="gd" d="M728.7 991.8L728.7 835.4"/><path class="gd" d="M603.4 1031.9L194.1 996.3"/><path class="gd" d="M374.2 1033.8L728.7 991.8"/><path class="gd" d="M229.5 992.1L229.5 835.7"/><path class="gd" d="M687.8 988.3L687.8 831.9"/><path class="gd" d="M638.8 1027.7L229.5 992.1"/><path class="gd" d="M333.3 1030.3L687.8 988.3"/><path class="gd" d="M264.9 987.9L264.9 831.5"/><path class="gd" d="M646.9 984.7L646.9 828.3"/><path class="gd" d="M674.2 1023.5L264.9 987.9"/><path class="gd" d="M292.4 1026.7L646.9 984.7"/><path class="gd" d="M300.4 983.7L300.4 827.3"/><path class="gd" d="M605.9 981.1L605.9 824.7"/><path class="gd" d="M709.7 1019.3L300.4 983.7"/><path class="gd" d="M251.4 1023.1L605.9 981.1"/><path class="gd" d="M335.8 979.5L335.8 823.1"/><path class="gd" d="M565 977.6L565 821.2"/><path class="gd" d="M745.1 1015.1L335.8 979.5"/><path class="gd" d="M210.5 1019.6L565 977.6"/><path class="gd" d="M371.3 975.3L371.3 818.9"/><path class="gd" d="M524.1 974L524.1 817.6"/><path class="gd" d="M780.6 1010.9L371.3 975.3"/><path class="gd" d="M169.6 1016L524.1 974"/><path class="gd" d="M406.7 971.1L406.7 814.7"/><path class="gd" d="M483.1 970.5L483.1 814.1"/><path class="gd" d="M816 1006.7L406.7 971.1"/><path class="gd" d="M128.6 1012.5L483.1 970.5"/><path class="gd" d="M442.2 966.9L442.2 810.5"/><path class="gd" d="M442.2 966.9L442.2 810.5"/><path class="gd" d="M851.5 1002.5L442.2 966.9"/><path class="gd" d="M87.7 1008.9L442.2 966.9"/><path class="gd" d="M87.7 1008.9L442.2 966.9"/><path class="gd" d="M442.2 966.9L851.5 1002.5"/><path class="gd" d="M87.7 969.8L442.2 927.8"/><path class="gd" d="M442.2 927.8L851.5 963.4"/><path class="gd" d="M87.7 930.7L442.2 888.7"/><path class="gd" d="M442.2 888.7L851.5 924.3"/><path class="gd" d="M87.7 891.6L442.2 849.6"/><path class="gd" d="M442.2 849.6L851.5 885.2"/><path class="gd" d="M87.7 852.5L442.2 810.5"/><path class="gd" d="M442.2 810.5L851.5 846.1"/><path class="ax" d="M87.7 1008.9L87.7 852.5"/><path class="ax3" d="M497 1044.5L87.7 1008.9"/><path class="ax3" d="M497 1044.5L851.5 1002.5"/><path class="ax" d="M87.7 1008.9h-11"/><text transform="translate(73.5 1015.4) scale(0.76 1)" text-anchor="end" font-size="14" fill="#484848">10</text><path class="ax" d="M87.7 969.8h-11"/><text transform="translate(73.5 976.3) scale(0.76 1)" text-anchor="end" font-size="14" fill="#484848">15</text><path class="ax" d="M87.7 930.7h-11"/><text transform="translate(73.5 937.2) scale(0.76 1)" text-anchor="end" font-size="14" fill="#484848">20</text><path class="ax" d="M87.7 891.6h-11"/><text transform="translate(73.5 898.1) scale(0.76 1)" text-anchor="end" font-size="14" fill="#484848">25</text><path class="ax" d="M87.7 852.5h-11"/><text transform="translate(73.5 859) scale(0.76 1)" text-anchor="end" font-size="14" fill="#484848">30</text><path class="ax" d="M497 1044.5l5 -0.6"/><text transform="translate(479 1062) scale(0.76 1)" text-anchor="middle" font-size="14" fill="#484848">0</text><path class="ax" d="M497 1044.5l-5 -0.5"/><text transform="translate(515.5 1062.3) scale(0.76 1)" text-anchor="middle" font-size="14" fill="#484848">0</text><path class="ax" d="M456.1 1040.9l5 -0.6"/><text transform="translate(438.1 1058.4) scale(0.76 1)" text-anchor="middle" font-size="14" fill="#484848">5</text><path class="ax" d="M532.5 1040.3l-5 -0.5"/><text transform="translate(551 1058.1) scale(0.76 1)" text-anchor="middle" font-size="14" fill="#484848">5</text><path class="ax" d="M415.1 1037.4l5 -0.6"/><text transform="translate(397.1 1054.9) scale(0.76 1)" text-anchor="middle" font-size="14" fill="#484848">10</text><path class="ax" d="M567.9 1036.1l-5 -0.5"/><text transform="translate(586.4 1053.9) scale(0.76 1)" text-anchor="middle" font-size="14" fill="#484848">10</text><path class="ax" d="M374.2 1033.8l5 -0.6"/><text transform="translate(356.2 1051.3) scale(0.76 1)" text-anchor="middle" font-size="14" fill="#484848">15</text><path class="ax" d="M603.4 1031.9l-5 -0.5"/><text transform="translate(621.9 1049.7) scale(0.76 1)" text-anchor="middle" font-size="14" fill="#484848">15</text><path class="ax" d="M333.3 1030.3l5 -0.6"/><text transform="translate(315.3 1047.8) scale(0.76 1)" text-anchor="middle" font-size="14" fill="#484848">20</text><path class="ax" d="M638.8 1027.7l-5 -0.5"/><text transform="translate(657.3 1045.5) scale(0.76 1)" text-anchor="middle" font-size="14" fill="#484848">20</text><path class="ax" d="M292.4 1026.7l5 -0.6"/><text transform="translate(274.4 1044.2) scale(0.76 1)" text-anchor="middle" font-size="14" fill="#484848">25</text><path class="ax" d="M674.2 1023.5l-5 -0.5"/><text transform="translate(692.8 1041.3) scale(0.76 1)" text-anchor="middle" font-size="14" fill="#484848">25</text><path class="ax" d="M251.4 1023.1l5 -0.6"/><text transform="translate(233.4 1040.6) scale(0.76 1)" text-anchor="middle" font-size="14" fill="#484848">30</text><path class="ax" d="M709.7 1019.3l-5 -0.5"/><text transform="translate(728.2 1037.1) scale(0.76 1)" text-anchor="middle" font-size="14" fill="#484848">30</text><path class="ax" d="M210.5 1019.6l5 -0.6"/><text transform="translate(192.5 1037.1) scale(0.76 1)" text-anchor="middle" font-size="14" fill="#484848">35</text><path class="ax" d="M745.1 1015.1l-5 -0.5"/><text transform="translate(763.6 1032.9) scale(0.76 1)" text-anchor="middle" font-size="14" fill="#484848">35</text><path class="ax" d="M169.6 1016l5 -0.6"/><text transform="translate(151.6 1033.5) scale(0.76 1)" text-anchor="middle" font-size="14" fill="#484848">40</text><path class="ax" d="M780.6 1010.9l-5 -0.5"/><text transform="translate(799.1 1028.7) scale(0.76 1)" text-anchor="middle" font-size="14" fill="#484848">40</text><path class="ax" d="M128.6 1012.5l5 -0.6"/><text transform="translate(110.6 1030) scale(0.76 1)" text-anchor="middle" font-size="14" fill="#484848">45</text><path class="ax" d="M816 1006.7l-5 -0.5"/><text transform="translate(834.5 1024.5) scale(0.76 1)" text-anchor="middle" font-size="14" fill="#484848">45</text><path class="ax" d="M87.7 1008.9l5 -0.6"/><text transform="translate(69.7 1026.4) scale(0.76 1)" text-anchor="middle" font-size="14" fill="#484848">50</text><path class="ax" d="M851.5 1002.5l-5 -0.5"/><text transform="translate(870 1020.3) scale(0.76 1)" text-anchor="middle" font-size="14" fill="#484848">50</text><g filter="url(#bl)"><path fill="none" stroke="#8080b6" stroke-width="1.0" d="M484.9 1042L489.9 1042L502.5 1042.2"/><path fill="none" stroke="#8080ca" stroke-width="1.0" d="M461.2 1039.9L465.8 1039.8L473.9 1039.6L482.5 1039.5L489.6 1039.5L496.2 1039.5L508.2 1039.8L511.6 1039.9L518.7 1040.2"/><path fill="none" stroke="#8080ca" stroke-width="1.0" d="M234.6 1020.2L243.1 1019.5L251.4 1018.8L259.8 1018L268.3 1017.3L277.3 1016.6L278.6 1016.6L288.5 1016.2L297.5 1016L307.1 1016.5L311.7 1017.7L311.9 1018.2L311.8 1019.3L311.3 1019.6L308.4 1020.8L305.9 1021.7L305 1022L300.6 1023L296.1 1024.1L292 1025.1L291.5 1025.2"/><path fill="none" stroke="#8080df" stroke-width="1.0" d="M442.4 1038.3L453.5 1037.8L454.3 1037.8L466.4 1037.5L471.9 1037.4L481.4 1037.3L486.5 1037.3L499.5 1037.5L500.2 1037.5L511 1037.8L521.7 1038.2L530.3 1038.7L531.5 1038.7"/><path fill="none" stroke="#8080df" stroke-width="1.0" d="M221.2 1019.1L228.8 1018.3L236.1 1017.4L243.2 1016.6L250.3 1015.8L257.4 1014.9L264.5 1014.1L272 1013.3L279.9 1012.5L288.7 1011.8L291.7 1011.6L299.8 1011.3L309.7 1011.2L316.5 1011.3L321.4 1011.5L330.5 1012.1L337.7 1012.9L340.2 1013.4L343.1 1014L346.8 1015.2L347.1 1015.4L348.1 1016.7L348 1017L346.5 1018.3L345.8 1018.7L343.7 1019.5L340 1020.7L337.3 1021.4L335.8 1021.7L331 1022.8L325.9 1023.8L320.7 1024.8L317.1 1025.4L315.3 1025.8L309.8 1026.8"/><path fill="none" stroke="#8094df" stroke-width="1.0" d="M423.8 1036.7L434.2 1036.1L442.8 1035.8L445.8 1035.7L458.8 1035.3L460.9 1035.3L473.8 1035.2L476.2 1035.2L489.7 1035.3L491.8 1035.3L501.9 1035.5L513.2 1035.8L516 1036L523.8 1036.3L533.7 1036.8L543 1037.4"/><path fill="none" stroke="#8094df" stroke-width="1.0" d="M210.3 1018.1L217.4 1017.3L224.3 1016.4L230.9 1015.5L232.9 1015.2L237.3 1014.6L243.6 1013.7L249.7 1012.8L255.8 1011.9L261.9 1010.9L268.2 1010L274.9 1009.2L282.5 1008.4L291.8 1007.7L298.3 1007.5L305 1007.4L312.4 1007.5L323.4 1007.9L333 1008.4L337.5 1008.8L341.6 1009.1L345.2 1009.5L349.4 1009.9L356.3 1010.7L362.4 1011.7L367.7 1012.7L368.5 1012.9L371.7 1013.9L373.7 1014.8L374.3 1015.3L374.8 1016.4L374.6 1017L373.8 1017.8L371.5 1019L371.5 1019L368 1020.2L364 1021.3L361.4 1021.9L359.4 1022.3L354.4 1023.4L349.1 1024.4L343.7 1025.3L338 1026.3L337.4 1026.4L332.4 1027.3L326.6 1028.2"/><path fill="none" stroke="#80a8df" stroke-width="1.0" d="M401.6 1034.7L412 1034.2L414.6 1034.1L422.9 1033.7L435.1 1033.3L435.6 1033.3L448.4 1033L452.6 1032.9L463.6 1032.9L467.5 1032.9L480.9 1032.9L481.5 1033L493.2 1033.2L504.2 1033.5L504.8 1033.5L515.6 1033.9L525.9 1034.4L535.7 1034.9L540.4 1035.2L545 1035.4L553.9 1036.1"/><path fill="none" stroke="#80a8df" stroke-width="1.0" d="M200.6 1017.3L207.5 1016.4L214 1015.5L220.2 1014.6L226.2 1013.7L231.8 1012.7L237.2 1011.7L241.6 1010.8L242.4 1010.7L247.3 1009.7L252.1 1008.6L256.6 1007.6L258.2 1007.2L261.1 1006.5L265.7 1005.4L271 1004.5L278.3 1003.6L290.8 1003.3L291.4 1003.3L302.8 1003.6L312.8 1004.1L322.2 1004.7L331 1005.3L332.8 1005.5L339.4 1006L347.5 1006.7L349.6 1006.9L355.3 1007.5L362.8 1008.3L369.9 1009.1L376.6 1010L382.8 1010.9L386.8 1011.6L388.5 1011.9L393.2 1013.1L395.7 1013.8L396.9 1014.3L399.1 1015.6L399.2 1015.7L399.5 1017.1L399.2 1017.4L398.1 1018.4L395.9 1019.5L395.5 1019.6L392.1 1020.8L388 1021.9L386.4 1022.3L383.5 1023L378.7 1024L373.6 1025L368.2 1026L366.1 1026.4L362.7 1027L357.3 1028L351.7 1028.9L346.1 1029.9"/><path fill="none" stroke="#80bddf" stroke-width="1.0" d="M191.5 1016.5L198.1 1015.6L204.4 1014.7L210.3 1013.7L215.8 1012.8L221 1011.8L222.4 1011.4L225.8 1010.7L230.2 1009.6L234.1 1008.5L234.8 1008.3L237.4 1007.4L239.9 1006.1L240.2 1006L241.4 1004.8L241.9 1004.1L241.5 1003.3L241.1 1002.5L239.2 1001.7L238.3 1001.2L233.7 1000L229.8 999.4L227.8 999"/><path fill="none" stroke="#80bddf" stroke-width="1.0" d="M280.6 992.8L282.7 993.8L283.3 994.1L286.1 995.5L286.3 995.6L289.6 996.8L293.7 997.7L294.5 997.9L300.1 998.9L306.6 999.8L313.5 1000.7L320.7 1001.5L320.9 1001.5L328 1002.3L335.4 1003.1L342.9 1003.9L350.4 1004.7L358 1005.5L365.5 1006.3L372.9 1007.1L380.3 1007.9L387.4 1008.7L388.8 1008.9L394.3 1009.6L400.9 1010.5L407.1 1011.4L412.9 1012.4L413.1 1012.4L417.8 1013.5L421.7 1014.6L421.9 1014.7L424.4 1016.1L424.7 1016.4L425.1 1017.7L425.1 1017.9L423.9 1019.2L423.2 1019.6L421.8 1020.5L418.8 1021.7L418.2 1021.9L415.7 1022.9L412.2 1024L410.5 1024.5L408.9 1025.2L405.8 1026.4L404.4 1026.9L405 1027.8L405.6 1028.4L414.1 1029.1L422.1 1029.2L426 1029.4L438.9 1029.5L442.1 1029.5L451.8 1029.7L462.4 1029.8L464.2 1029.9L476.1 1030.2L486 1030.4L487.5 1030.5L498.4 1030.9L508.9 1031.3L518 1031.8L519 1031.8L528.7 1032.3L538.1 1032.9L547.3 1033.5L556.1 1034.1L564.7 1034.8"/><path fill="none" stroke="#80d2df" stroke-width="1.0" d="M182.6 1015.7L189 1014.8L195 1013.9L200.6 1012.9L205.8 1011.9L207.4 1011.5L210.5 1010.8L214.7 1009.8L218.3 1008.6L218.5 1008.5L221 1007.4L222.4 1006.4L222.6 1006.1L222.5 1004.7L222.4 1004.6L220.1 1003.3L218.1 1002.8L215.8 1002.1L210 1001.1"/><path fill="none" stroke="#80d2df" stroke-width="1.0" d="M309.7 989.3L311.3 990.5L311.7 990.8L312.5 992L312.8 992.3L313.7 993.6L314 993.9L315.8 995.2L316 995.3L319 996.6L320.4 997.1L323 997.8L327.9 998.9L330.6 999.4L333.5 1000L339.6 1000.9L346.1 1001.8L352.9 1002.7L356.4 1003.1L359.9 1003.6L367 1004.4L374.3 1005.2L381.6 1006L389 1006.8L396.4 1007.6L403.8 1008.5L411 1009.3L413 1009.5L418 1010.1L424.8 1011L431.3 1011.9L437.5 1012.9L440.5 1013.4L443.1 1013.9L448 1015L450.5 1015.7L451.8 1016.2L454.3 1017.5L454.4 1017.6L455.6 1019L455.6 1019.1L456.2 1020.6L456.1 1020.7L457.5 1022.1L457.6 1022.3L460.9 1023.5L463.5 1024.1L466 1024.6L472.7 1025.5L480.4 1026.3L488.8 1027L497.6 1027.6L506.5 1028.2L515.4 1028.9L524.4 1029.5L529.9 1029.9L533.2 1030.1L542 1030.8L550.6 1031.4L559.2 1032.1L567.6 1032.8L575.8 1033.5"/><path fill="none" stroke="#87dfd8" stroke-width="1.0" d="M173.7 1014.9L179.9 1014L185.7 1013L190.9 1012.1L193.6 1011.5L195.7 1011L199.9 1009.9L203.5 1008.8L203.9 1008.6L205.9 1007.5L206.9 1006.5L206.9 1006.2L206 1005L204.9 1004.5L202.5 1003.7L197.1 1002.7"/><path fill="none" stroke="#87dfd8" stroke-width="1.0" d="M330.8 986.8L332.2 987.9L332.6 988.3L332.8 989.4L333 989.9L332.7 990.9L332.8 991.6L332.8 992.3L333.1 993.3L333.4 993.9L334.4 994.8L335.5 995.5L336.9 996.2L340.1 997.3L340.4 997.5L344.8 998.6L349.8 999.7L350 999.7L355.7 1000.7L361.9 1001.6L368.4 1002.6L372.7 1003.1L375.3 1003.4L382.3 1004.3L389.6 1005.1L397 1005.9L404.6 1006.7L412.2 1007.5L419.9 1008.2L427.5 1009L435.1 1009.8L442.7 1010.6L446 1010.9L450.1 1011.4L457.2 1012.2L464.1 1013.1L470.7 1014L476.8 1014.9L478.3 1015.2L482.2 1016L487 1017.1L489.1 1017.6L491.4 1018.3L495.5 1019.5L496.2 1019.7L499.3 1020.7L502.9 1021.7L503.4 1021.9L508.1 1023L513.5 1024L514.1 1024.1L519.7 1025L526.4 1025.9L533.5 1026.7L540.9 1027.5L548.5 1028.3L556.2 1029.1L564.1 1029.8L571.9 1030.6L577.4 1031.1L579.8 1031.3L587.7 1032.1"/><path fill="none" stroke="#9bdfc3" stroke-width="1.0" d="M164.4 1014.1L170.4 1013.2L175.9 1012.2L179.4 1011.5L180.8 1011.2L185.1 1010.1L188.6 1008.9L189.3 1008.6L190.9 1007.7L191.5 1006.7L191.2 1006.2L189.6 1005.2L186.1 1004.4L185 1004.1"/><path fill="none" stroke="#9bdfc3" stroke-width="1.0" d="M348.3 984.8L349 985L351 986.1L351.2 986.7L351.2 987.8L351 988.1L350.2 989.5L350.1 989.6L349.2 990.9L349 991.4L348.7 992.3L348.8 993.1L349.1 993.8L349.8 994.7L350.8 995.4L352.1 996.1L354.9 997.2L355.5 997.4L359.7 998.5L363.7 999.4L364.7 999.6L370.4 1000.6L376.5 1001.6L383 1002.5L384 1002.6L389.9 1003.4L397.1 1004.2L404.6 1005L412.3 1005.8L420.2 1006.5L428.2 1007.2L436.3 1008L444.6 1008.7L452.9 1009.4L461.3 1010.1L469.7 1010.7L478.1 1011.4L486.4 1012.1L494.5 1012.8L502.3 1013.6L509.5 1014.4L516 1015.3L518.6 1015.8L521.7 1016.4L526.6 1017.4L529.5 1018.2L531.1 1018.6L535.3 1019.8L537.2 1020.3L539.5 1021L544.1 1022.1L546 1022.5L549 1023.2L554.4 1024.2L560.1 1025.2L560.2 1025.2L566.4 1026.2L573 1027.1L579.8 1028L586.9 1028.8L594.1 1029.6L594.3 1029.7L601.5 1030.4"/><path fill="none" stroke="#b0dfaf" stroke-width="1.0" d="M154.4 1013.2L160.2 1012.3L162.9 1011.8L165.2 1011.3L169.5 1010.2L172.9 1009L173.4 1008.8L174.6 1007.7L174.7 1007L173 1006.1L171.7 1005.7"/><path fill="none" stroke="#b0dfaf" stroke-width="1.0" d="M361.3 983.2L365.3 984.4L366.6 985.1L367.5 985.8L367.6 986.6L367.2 987.6L366.7 988L365.1 989.3L365 989.5L363.7 990.7L363.2 991.4L362.8 992L362.7 993.1L362.7 993.5L363.6 994.7L364 995.1L365.9 996.1L367.6 996.8L369.2 997.4L373.6 998.6L375.2 998.9L378.6 999.7L384.3 1000.7L390.6 1001.6L393.4 1002L397.3 1002.5L404.4 1003.3L411.9 1004.1L419.8 1004.9L427.9 1005.6L436.2 1006.3L444.8 1007L453.6 1007.6L462.7 1008.2L470.7 1008.7L471.9 1008.8L481.4 1009.3L491.1 1009.9L501 1010.4L510.8 1010.9L516.2 1011.2L520.5 1011.4L529.7 1012L537.8 1012.8L544.8 1013.6L546.1 1013.8L550.8 1014.6L555.8 1015.7L558.1 1016.3L560.1 1016.8L563.9 1018.1L564.8 1018.3L567.7 1019.3L571.1 1020.4L571.7 1020.5L575.9 1021.7L579.3 1022.5L580.6 1022.8L585.7 1023.9L591.3 1024.9L592.7 1025.1L597.3 1025.9L603.7 1026.8L610.4 1027.7L617.4 1028.5"/><path fill="none" stroke="#c5df9a" stroke-width="1.0" d="M142.8 1012.2L147.8 1011.2L152 1010.1L153.7 1009.5L154.5 1008.9L154.7 1007.7"/><path fill="none" stroke="#c5df9a" stroke-width="1.0" d="M372.3 981.9L377.2 983L377.5 983.1L380.4 984.3L381.1 984.9L381.8 985.8L381.8 986.4L381.2 987.6L381 987.8L379.2 989.1L378.5 989.6L377.2 990.4L376.1 991.6L375.9 991.7L375.4 993.1L375.4 993.3L376.2 994.7L376.4 994.9L378.8 996.3L379.1 996.4L382.4 997.5L385.7 998.4L386.9 998.7L392.1 999.7L398 1000.7L401.9 1001.3L404.5 1001.6L411.6 1002.5L419.2 1003.3L427.1 1004L435.5 1004.7L444.2 1005.3L453.2 1006L462.1 1006.5L462.6 1006.5L472.3 1007.1L482.5 1007.5L493.1 1008L497.6 1008.1L504.1 1008.3L515.5 1008.7L522.9 1008.9L527.1 1009L538.8 1009.3L547.7 1009.6L549.9 1009.6L559.8 1010.2L568 1010.9L574.9 1011.7L577.2 1012.1L580.5 1012.7L585 1013.9L586.5 1014.4L588.7 1015.1L591.5 1016.3L591.8 1016.4L594.9 1017.8L595.7 1018.1L598.1 1019.1L600.8 1020L601.7 1020.3L605.8 1021.5L608.2 1022.1L610.4 1022.7L615.6 1023.7L621.2 1024.7L621.3 1024.7L627.5 1025.7L634.2 1026.6"/><path fill="none" stroke="#d9df85" stroke-width="1.0" d="M382.7 980.7L388 981.7L391.9 982.9L392 982.9L394.4 984.3L394.7 984.6L395.2 985.9L395.1 986.1L394.3 987.5L394 987.7L392.6 988.8L391.1 989.8L390.6 990.1L388.7 991.4L388.3 991.8L387.7 992.7L387.7 993.5L388 994.2L388.9 995.1L390.2 995.9L391.5 996.5L395.3 997.7L395.8 997.8L400 998.8L405.6 999.8L410.5 1000.6L411.9 1000.8L418.8 1001.6L426.4 1002.4L434.5 1003.1L443.1 1003.8L452.1 1004.4L460.1 1004.9L461.6 1005L471.7 1005.5L482.2 1005.9L492.4 1006.2L493.3 1006.3L505.1 1006.5L514.6 1006.7L517.6 1006.7L530.9 1006.8L533.3 1006.9L544.8 1006.9L550.5 1006.9L558.9 1006.9L567.8 1007L572.5 1007L584.5 1007.2L593.2 1007.7L594.2 1007.8L599.5 1008.3L602.1 1008.5L608.3 1009.4L612.9 1010.6L613.8 1011L616.2 1011.9L617.7 1012.8L618.7 1013.3L620.2 1014.4L620.7 1014.7L622.5 1016.1L622.7 1016.2L625 1017.6L625.4 1017.8L627.8 1018.9L629.7 1019.6L631.3 1020.2L635.5 1021.4L637.1 1021.7L640.4 1022.5L646.1 1023.5L652.4 1024.4"/><path fill="none" stroke="#dfd080" stroke-width="1.0" d="M392.7 979.5L398.4 980.5L398.8 980.6L402.9 981.6L405.5 982.6L406.1 982.9L407.8 984.3L407.9 984.4L408.1 985.8L408.1 986.1L407.3 987.2L406.4 988L405.7 988.5L403.7 989.8L403.3 990L401.6 991L400.4 992L400 992.4L399.7 993.8L399.7 993.8L401.1 995.3L401.3 995.4L404.1 996.6L406.2 997.3L408.3 997.8L413.4 998.9L419.4 999.9L419.6 999.9L426.3 1000.7L433.9 1001.5L442.1 1002.2L451 1002.9L460 1003.4L460.4 1003.4L470.4 1003.9L481.1 1004.3L490.6 1004.6L492.6 1004.7L504.9 1004.9L511.2 1004.9L518.3 1005L528.2 1005L533 1004.9L543.1 1004.8L549.1 1004.7L556.9 1004.6L566.6 1004.3L570 1004.2L583.4 1003.9L583.9 1003.9L598.1 1003.8L599.6 1003.7L612.9 1003.9L618 1004L623.9 1004.2L633.3 1004.8L641.1 1005.6L647.1 1006.5L647.4 1006.6L651.5 1007.7L652.9 1008.5L653.8 1009.1L654.3 1010.1L654.5 1010.7L654.3 1011.6L654.2 1012.4L654 1013L654 1014.1L654 1014.5L654.7 1015.7L654.9 1016L656.3 1017.2L657 1017.6L659 1018.6L661.6 1019.5L662.7 1019.8L667.5 1020.9L673.3 1021.9"/><path fill="none" stroke="#dfbc80" stroke-width="1.0" d="M752 1012.6L747.1 1012.4L742 1012.1L732.4 1011.6L719.6 1011.4L719.3 1011.4L711.2 1012.1L705 1013.1L704.6 1013.2L700.8 1014.2L698.1 1015.4L698 1015.6L698.2 1016.8L698.9 1017.2L702.7 1018.4"/><path fill="none" stroke="#dfbc80" stroke-width="1.0" d="M402.8 978.3L408.8 979.3L413.8 980.4L414.2 980.5L417.7 981.6L419.3 982.4L420.3 983L421.2 984L421.4 984.5L421.3 985.5L421 986.2L420.4 986.9L418.8 988.2L418.8 988.2L416.8 989.5L415.6 990.2L414.8 990.7L412.9 992L412.6 992.3L412 993.4L412.1 994L412.9 994.9L413.8 995.5L416.9 996.7L417.1 996.8L421.7 997.9L427.4 998.9L431.2 999.4L434.1 999.8L441.7 1000.6L450.1 1001.3L459.2 1001.9L459.4 1001.9L469.1 1002.4L479.9 1002.8L489.7 1003.1L491.4 1003.1L504.2 1003.3L509.2 1003.3L518.3 1003.3L525 1003.2L534.4 1003.1L538.8 1003L551.3 1002.6L553 1002.5L563.4 1002.2L573.2 1001.8L575.2 1001.8L587.1 1001.4L593.4 1001.1L599.2 1001L611.7 1000.6L612.4 1000.6L625.4 1000.3L629.3 1000.2L641 1000.2L643.7 1000.2L656.2 1000.4L662.4 1000.6L667.4 1000.8L677.5 1001.3L686.5 1001.9L694.7 1002.6L702 1003.4L708.8 1004.3L715 1005.2L715.1 1005.2L721.2 1006.2L728.6 1007L737.1 1007.1L741 1007.2L751.2 1006.9L759.2 1006.7L764 1006.5L776.6 1006.2L778.2 1006.1L789.3 1005.8L797.5 1005.5L801.4 1005.4L813 1005"/><path fill="none" stroke="#dfa780" stroke-width="1.0" d="M413.4 977L419.6 978L420.3 978.1L425.1 979L429.4 980.2L430.1 980.4L432.8 981.5L434 982.2L434.9 982.9L435.3 983.8L435.5 984.5L435.2 985.2L434.4 986.3L434.1 986.6L432.4 987.9L431.8 988.3L430.4 989.2L428.3 990.4L428.3 990.5L426.4 991.7L425.6 992.4L425.1 993.1L425.1 994.2L425.4 994.6L427.1 995.6L429.2 996.4L430.9 996.8L436.1 997.9L442.5 998.8L450.1 999.6L458.7 1000.3L468.3 1000.8L478.8 1001.2L488.4 1001.5L490.4 1001.6L503.5 1001.7L507.2 1001.7L518.5 1001.6L522.2 1001.5L535.1 1001.2L536.3 1001.2L547.1 1000.8L557.1 1000.4L558.5 1000.3L569.6 999.8L580.2 999.3L580.4 999.3L591.3 998.8L602 998.3L604 998.2L613.1 997.8L624.2 997.3L626.7 997.2L635.8 996.8L647.3 996.4L647.5 996.4L660.2 996.1L666.1 995.9L673.6 995.8L682.8 995.6L688.1 995.6L698.2 995.4L703.4 995.4"/><path fill="none" stroke="#df9380" stroke-width="1.0" d="M425.2 975.6L431.8 976.5L437.4 977.6L441.4 978.5L442.2 978.7L446.1 979.9L447.4 980.5L449 981.2L450.1 982.2L450.6 982.7L450.9 983.7L450.8 984.4L450.3 985.1L449.2 986.3L448.9 986.4L447.1 987.7L446.1 988.3L444.9 989L442.7 990.2L442.4 990.4L440.9 991.5L439.9 992.4L439.6 992.9L439.5 994.1L439.7 994.4L441.8 995.5L443.9 996.2L446.1 996.7L452.2 997.7L459.8 998.5L468.7 999.1L478.8 999.6L484.8 999.7L490.5 999.9L503.9 1000L504.1 1000L518.5 999.8L520.1 999.7L531.1 999.4L539.7 999.1L542.8 999L553.6 998.4L563.6 997.9L564.1 997.9L574.3 997.3L584.2 996.7L591.9 996.3L594.1 996.1L603.9 995.5L613.7 994.9L621.4 994.4L623.5 994.3L633.4 993.7L643.3 993.1L650.1 992.7L653.3 992.5L663.2 991.9"/><path fill="none" stroke="#de8080" stroke-width="1.0" d="M440.4 973.8L443.2 974.3L446.8 974.8L452.6 975.8L457.4 976.9L457.8 977L461.7 978L464.2 979L465.1 979.3L467.5 980.7L467.5 980.8L468.8 982.2L468.8 982.3L468.7 983.8L468.6 984L467.6 985.1L466.7 985.9L465.8 986.4L463.6 987.7L463.1 988L461.3 989L459 990.1L458.9 990.2L457.2 991.5L456.6 992.1L456.4 992.9L456.6 993.8L457.8 994.5L459.4 995.1L464.6 996.2L472.1 997L481.6 997.5L493.2 997.9L497.1 997.9L507.3 997.9L512.7 997.8L524.7 997.5L525.6 997.5L536.9 997L547.5 996.5L547.7 996.4L557.4 995.9L566.9 995.2L576.2 994.6L580.2 994.3L585.2 993.9L594.1 993.2L602.9 992.5L611.7 991.8L620.6 991.2L620.9 991.1L629.6 990.5L638.7 989.8"/><path fill="none" stroke="#c98080" stroke-width="1.0" d="M486.9 976.6L487.1 976.7L489.4 978.1L489.6 978.3L491.3 979.6L491.6 979.9L492.4 981.1L492.5 981.5L492.3 982.8L492.2 982.9L491.1 984.3L490.4 984.7L489.2 985.6L486.7 986.8L486.5 986.9L484.2 988L481.8 989.1L481.6 989.3L479.7 990.6L479 991.1L478.9 991.9L479.3 992.8L482.2 993.7L483.3 994L491 994.8L497.3 995L502 995.1L514.7 995.1L517.3 995L526.8 994.7L537.6 994.1L540.1 994L547.2 993.5L556.1 992.8L564.7 992.1L573 991.4L581.2 990.6L587.3 990.1L589.3 989.9L597.4 989.1L605.8 988.4L614.6 987.7"/><path fill="none" stroke="#b48080" stroke-width="1.0" d="M532.1 980.5L532.4 981.4L533 982.1L532.9 983.1L533.4 983.6L532.7 984.8L533.1 985L532.6 986.4L532.5 986.5L538.2 987.5L542.7 987.3L552.9 986.7L562.9 986.1L564.3 986.1L572.2 985.5L582.3 984.9"/><g fill="currentColor" stroke="currentColor" stroke-width="0.7" stroke-linejoin="round"><path color="#f80000" d="M447.7 841.3l7.1 -3.4 -8.2 -0.1 -7.1 3.5z"/><path color="#ff1000" d="M440.6 845.4l7.1 -4.1 -8.2 0 -7.1 4.3z"/><path color="#ff2b00" d="M433.5 850.1l7.1 -4.7 -8.2 0.2 -7.1 4.9z"/><path color="#ff4a00" d="M426.4 855.3l7.1 -5.2 -8.2 0.4 -7.1 5.3z"/><path color="#ff6b00" d="M419.3 860.9l7.1 -5.6 -8.2 0.5 -7.1 5.8z"/><path color="#ff8f00" d="M412.2 866.8l7.1 -5.9 -8.2 0.7 -7.1 6.1z"/><path color="#ffb400" d="M405.1 872.9l7.1 -6.1 -8.2 0.9 -7 6.3z"/><path color="#ffda00" d="M398.1 879.1l7 -6.2 -8.1 1.1 -7.1 6.4z"/><path color="#ffff00" d="M391 885.3l7.1 -6.2 -8.2 1.3 -7.1 6.3z"/><path color="#daff25" d="M383.9 891.4l7.1 -6.1 -8.2 1.4 -7.1 6.3z"/><path color="#b6ff49" d="M376.8 897.3l7.1 -5.9 -8.2 1.6 -7.1 6.1z"/><path color="#94ff6b" d="M369.7 903l7.1 -5.7 -8.2 1.8 -7.1 5.8z"/><path color="#75ff8a" d="M362.6 908.3l7.1 -5.3 -8.2 1.9 -7.1 5.3z"/><path color="#59ffa6" d="M355.5 913l7.1 -4.7 -8.2 1.9 -7.1 4.8z"/><path color="#41ffbe" d="M348.4 917.3l7.1 -4.3 -8.2 2 -7.1 4.2z"/><path color="#2cffd3" d="M341.3 921.1l7.1 -3.8 -8.2 1.9 -7.1 3.8z"/><path color="#18ffe7" d="M334.2 924.9l7.1 -3.8 -8.2 1.9 -7 3.7z"/><path color="#04fffb" d="M327.2 928.6l7 -3.7 -8.1 1.8 -7.1 3.5z"/><path color="#00f0ff" d="M320.1 932.1l7.1 -3.5 -8.2 1.6 -7.1 3.4z"/><path color="#00deff" d="M313 935.5l7.1 -3.4 -8.2 1.5 -7.1 3.2z"/><path color="#00cdff" d="M305.9 938.6l7.1 -3.1 -8.2 1.3 -7.1 2.9z"/><path color="#00bfff" d="M298.8 941.6l7.1 -3 -8.2 1.1 -7.1 2.8z"/><path color="#00b1ff" d="M291.7 944.3l7.1 -2.7 -8.2 0.9 -7.1 2.4z"/><path color="#00a6ff" d="M284.6 946.8l7.1 -2.5 -8.2 0.6 -7.1 2.3z"/><path color="#009cff" d="M277.5 949l7.1 -2.2 -8.2 0.4 -7.1 1.9z"/><path color="#0095ff" d="M270.4 950.8l7.1 -1.8 -8.2 0.1 -7.1 1.6z"/><path color="#0091ff" d="M263.3 952.3l7.1 -1.5 -8.2 -0.1 -7 1.2z"/><path color="#008fff" d="M256.2 953.4l7.1 -1.1 -8.1 -0.4 -7.1 0.8z"/><path color="#0091ff" d="M249.2 954l7 -0.6 -8.1 -0.7 -7.1 0.3z"/><path color="#0096ff" d="M242.1 954l7.1 0 -8.2 -1 -7.1 -0.1z"/><path color="#00a1ff" d="M235 953.4l7.1 0.6 -8.2 -1.1 -7.1 -0.9z"/><path color="#00b2ff" d="M227.9 951.8l7.1 1.6 -8.2 -1.4 -7.1 -1.8z"/><path color="#00c8ff" d="M220.8 949.5l7.1 2.3 -8.2 -1.6 -7.1 -2.6z"/><path color="#00e3ff" d="M213.7 946.5l7.1 3 -8.2 -1.9 -7.1 -3.2z"/><path color="#01fffe" d="M206.6 943.2l7.1 3.3 -8.2 -2.1 -7.1 -3.6z"/><path color="#20ffdf" d="M199.5 939.7l7.1 3.5 -8.2 -2.4 -7.1 -3.8z"/><path color="#3effc1" d="M192.4 936.2l7.1 3.5 -8.2 -2.7 -7 -3.7z"/><path color="#5bffa4" d="M185.4 932.9l7 3.3 -8.1 -2.9 -7.1 -3.5z"/><path color="#75ff8a" d="M178.3 930l7.1 2.9 -8.2 -3.1 -7.1 -3z"/><path color="#8dff72" d="M171.2 927.6l7.1 2.4 -8.2 -3.2 -7.1 -2.7z"/><path color="#a1ff5e" d="M164.1 925.6l7.1 2 -8.2 -3.5 -7.1 -2.1z"/><path color="#b2ff4d" d="M157 924l7.1 1.6 -8.2 -3.6 -7.1 -1.7z"/><path color="#c0ff3f" d="M149.9 922.8l7.1 1.2 -8.2 -3.7 -7.1 -1.3z"/><path color="#cbff34" d="M142.8 922.1l7.1 0.7 -8.2 -3.8 -7.1 -0.9z"/><path color="#d3ff2c" d="M135.7 921.7l7.1 0.4 -8.2 -4 -7.1 -0.4z"/><path color="#f10000" d="M455.9 841l7.1 -3.4 -8.2 0.3 -7.1 3.4z"/><path color="#ff0800" d="M448.8 844.9l7.1 -3.9 -8.2 0.3 -7.1 4.1z"/><path color="#ff2100" d="M441.7 849.5l7.1 -4.6 -8.2 0.5 -7.1 4.7z"/><path color="#ff3f00" d="M434.6 854.4l7.1 -4.9 -8.2 0.6 -7.1 5.2z"/><path color="#ff5e00" d="M427.5 859.8l7.1 -5.4 -8.2 0.9 -7.1 5.6z"/><path color="#ff8000" d="M420.4 865.4l7.1 -5.6 -8.2 1.1 -7.1 5.9z"/><path color="#ffa300" d="M413.3 871.2l7.1 -5.8 -8.2 1.4 -7.1 6.1z"/><path color="#ffc700" d="M406.2 877.2l7.1 -6 -8.2 1.7 -7 6.2z"/><path color="#ffeb00" d="M399.1 883.1l7.1 -5.9 -8.1 1.9 -7.1 6.2z"/><path color="#f0ff0f" d="M392.1 889l7 -5.9 -8.1 2.2 -7.1 6.1z"/><path color="#cdff32" d="M385 894.8l7.1 -5.8 -8.2 2.4 -7.1 5.9z"/><path color="#acff53" d="M377.9 900.3l7.1 -5.5 -8.2 2.5 -7.1 5.7z"/><path color="#8eff71" d="M370.8 905.4l7.1 -5.1 -8.2 2.7 -7.1 5.3z"/><path color="#73ff8c" d="M363.7 910.2l7.1 -4.8 -8.2 2.9 -7.1 4.7z"/><path color="#5bffa4" d="M356.6 914.4l7.1 -4.2 -8.2 2.8 -7.1 4.3z"/><path color="#45ffba" d="M349.5 918.3l7.1 -3.9 -8.2 2.9 -7.1 3.8z"/><path color="#2fffd0" d="M342.4 922.3l7.1 -4 -8.2 2.8 -7.1 3.8z"/><path color="#1affe5" d="M335.3 926.1l7.1 -3.8 -8.2 2.6 -7 3.7z"/><path color="#05fffa" d="M328.2 929.9l7.1 -3.8 -8.1 2.5 -7.1 3.5z"/><path color="#00f1ff" d="M321.2 933.5l7 -3.6 -8.1 2.2 -7.1 3.4z"/><path color="#00deff" d="M314.1 937l7.1 -3.5 -8.2 2 -7.1 3.1z"/><path color="#00cdff" d="M307 940.3l7.1 -3.3 -8.2 1.6 -7.1 3z"/><path color="#00bdff" d="M299.9 943.4l7.1 -3.1 -8.2 1.3 -7.1 2.7z"/><path color="#00afff" d="M292.8 946.2l7.1 -2.8 -8.2 0.9 -7.1 2.5z"/><path color="#00a3ff" d="M285.7 948.7l7.1 -2.5 -8.2 0.6 -7.1 2.2z"/><path color="#009aff" d="M278.6 950.9l7.1 -2.2 -8.2 0.3 -7.1 1.8z"/><path color="#0093ff" d="M271.5 952.7l7.1 -1.8 -8.2 -0.1 -7.1 1.5z"/><path color="#008fff" d="M264.4 954.1l7.1 -1.4 -8.2 -0.4 -7.1 1.1z"/><path color="#008eff" d="M257.3 955.1l7.1 -1 -8.2 -0.7 -7 0.6z"/><path color="#0091ff" d="M250.3 955.5l7 -0.4 -8.1 -1.1 -7.1 0z"/><path color="#009aff" d="M243.2 955.1l7.1 0.4 -8.2 -1.5 -7.1 -0.6z"/><path color="#00a9ff" d="M236.1 953.8l7.1 1.3 -8.2 -1.7 -7.1 -1.6z"/><path color="#00bcff" d="M229 951.9l7.1 1.9 -8.2 -2 -7.1 -2.3z"/><path color="#00d4ff" d="M221.9 949.3l7.1 2.6 -8.2 -2.4 -7.1 -3z"/><path color="#00efff" d="M214.8 946.3l7.1 3 -8.2 -2.8 -7.1 -3.3z"/><path color="#0cfff3" d="M207.7 943.2l7.1 3.1 -8.2 -3.1 -7.1 -3.5z"/><path color="#28ffd7" d="M200.6 940l7.1 3.2 -8.2 -3.5 -7.1 -3.5z"/><path color="#43ffbc" d="M193.5 937.1l7.1 2.9 -8.2 -3.8 -7 -3.3z"/><path color="#5bffa4" d="M186.4 934.4l7.1 2.7 -8.1 -4.2 -7.1 -2.9z"/><path color="#71ff8e" d="M179.4 932.2l7 2.2 -8.1 -4.4 -7.1 -2.4z"/><path color="#84ff7b" d="M172.3 930.4l7.1 1.8 -8.2 -4.6 -7.1 -2z"/><path color="#94ff6b" d="M165.2 928.9l7.1 1.5 -8.2 -4.8 -7.1 -1.6z"/><path color="#a1ff5e" d="M158.1 927.9l7.1 1 -8.2 -4.9 -7.1 -1.2z"/><path color="#acff53" d="M151 927.2l7.1 0.7 -8.2 -5.1 -7.1 -0.7z"/><path color="#b4ff4b" d="M143.9 926.9l7.1 0.3 -8.2 -5.1 -7.1 -0.4z"/><path color="#e70000" d="M464.1 840.4l7 -3.2 -8.1 0.4 -7.1 3.4z"/><path color="#fc0000" d="M457 844.2l7.1 -3.8 -8.2 0.6 -7.1 3.9z"/><path color="#ff1500" d="M449.9 848.4l7.1 -4.2 -8.2 0.7 -7.1 4.6z"/><path color="#ff3000" d="M442.8 853.1l7.1 -4.7 -8.2 1.1 -7.1 4.9z"/><path color="#ff4e00" d="M435.7 858.2l7.1 -5.1 -8.2 1.3 -7.1 5.4z"/><path color="#ff6e00" d="M428.6 863.5l7.1 -5.3 -8.2 1.6 -7.1 5.6z"/><path color="#ff8f00" d="M421.5 869l7.1 -5.5 -8.2 1.9 -7.1 5.8z"/><path color="#ffb000" d="M414.4 874.7l7.1 -5.7 -8.2 2.2 -7.1 6z"/><path color="#ffd200" d="M407.3 880.3l7.1 -5.6 -8.2 2.5 -7.1 5.9z"/><path color="#fff400" d="M400.2 886l7.1 -5.7 -8.2 2.8 -7 5.9z"/><path color="#e9ff16" d="M393.2 891.5l7 -5.5 -8.1 3 -7.1 5.8z"/><path color="#caff35" d="M386.1 896.8l7.1 -5.3 -8.2 3.3 -7.1 5.5z"/><path color="#acff53" d="M379 901.8l7.1 -5 -8.2 3.5 -7.1 5.1z"/><path color="#91ff6e" d="M371.9 906.5l7.1 -4.7 -8.2 3.6 -7.1 4.8z"/><path color="#79ff86" d="M364.8 910.8l7.1 -4.3 -8.2 3.7 -7.1 4.2z"/><path color="#62ff9d" d="M357.7 914.8l7.1 -4 -8.2 3.6 -7.1 3.9z"/><path color="#4cffb3" d="M350.6 918.9l7.1 -4.1 -8.2 3.5 -7.1 4z"/><path color="#35ffca" d="M343.5 923l7.1 -4.1 -8.2 3.4 -7.1 3.8z"/><path color="#1effe1" d="M336.4 927l7.1 -4 -8.2 3.1 -7.1 3.8z"/><path color="#08fff7" d="M329.3 931l7.1 -4 -8.2 2.9 -7 3.6z"/><path color="#00f2ff" d="M322.3 934.8l7 -3.8 -8.1 2.5 -7.1 3.5z"/><path color="#00deff" d="M315.2 938.5l7.1 -3.7 -8.2 2.2 -7.1 3.3z"/><path color="#00ccff" d="M308.1 942l7.1 -3.5 -8.2 1.8 -7.1 3.1z"/><path color="#00bbff" d="M301 945.3l7.1 -3.3 -8.2 1.4 -7.1 2.8z"/><path color="#00acff" d="M293.9 948.2l7.1 -2.9 -8.2 0.9 -7.1 2.5z"/><path color="#009fff" d="M286.8 950.9l7.1 -2.7 -8.2 0.5 -7.1 2.2z"/><path color="#0095ff" d="M279.7 953.1l7.1 -2.2 -8.2 0 -7.1 1.8z"/><path color="#008eff" d="M272.6 955l7.1 -1.9 -8.2 -0.4 -7.1 1.4z"/><path color="#008bff" d="M265.5 956.3l7.1 -1.3 -8.2 -0.9 -7.1 1z"/><path color="#008bff" d="M258.4 957l7.1 -0.7 -8.2 -1.2 -7 0.4z"/><path color="#0091ff" d="M251.4 957.1l7 -0.1 -8.1 -1.5 -7.1 -0.4z"/><path color="#009dff" d="M244.3 956.3l7.1 0.8 -8.2 -2 -7.1 -1.3z"/><path color="#00adff" d="M237.2 954.7l7.1 1.6 -8.2 -2.5 -7.1 -1.9z"/><path color="#00c2ff" d="M230.1 952.6l7.1 2.1 -8.2 -2.8 -7.1 -2.6z"/><path color="#00d9ff" d="M223 950.1l7.1 2.5 -8.2 -3.3 -7.1 -3z"/><path color="#00f2ff" d="M215.9 947.4l7.1 2.7 -8.2 -3.8 -7.1 -3.1z"/><path color="#0dfff2" d="M208.8 944.7l7.1 2.7 -8.2 -4.2 -7.1 -3.2z"/><path color="#25ffda" d="M201.7 942.1l7.1 2.6 -8.2 -4.7 -7.1 -2.9z"/><path color="#3bffc4" d="M194.6 939.7l7.1 2.4 -8.2 -5 -7.1 -2.7z"/><path color="#4fffb0" d="M187.5 937.7l7.1 2 -8.2 -5.3 -7 -2.2z"/><path color="#61ff9e" d="M180.5 936.1l7 1.6 -8.1 -5.5 -7.1 -1.8z"/><path color="#70ff8f" d="M173.4 934.8l7.1 1.3 -8.2 -5.7 -7.1 -1.5z"/><path color="#7cff83" d="M166.3 933.8l7.1 1 -8.2 -5.9 -7.1 -1z"/><path color="#86ff79" d="M159.2 933.3l7.1 0.5 -8.2 -5.9 -7.1 -0.7z"/><path color="#8dff72" d="M152.1 933.1l7.1 0.2 -8.2 -6.1 -7.1 -0.3z"/><path color="#dd0000" d="M472.2 839.6l7.1 -3.1 -8.2 0.7 -7 3.2z"/><path color="#f00000" d="M465.1 843.1l7.1 -3.5 -8.1 0.8 -7.1 3.8z"/><path color="#ff0700" d="M458.1 847.2l7 -4.1 -8.1 1.1 -7.1 4.2z"/><path color="#ff2000" d="M451 851.6l7.1 -4.4 -8.2 1.2 -7.1 4.7z"/><path color="#ff3c00" d="M443.9 856.3l7.1 -4.7 -8.2 1.5 -7.1 5.1z"/><path color="#ff5900" d="M436.8 861.3l7.1 -5 -8.2 1.9 -7.1 5.3z"/><path color="#ff7700" d="M429.7 866.4l7.1 -5.1 -8.2 2.2 -7.1 5.5z"/><path color="#ff9600" d="M422.6 871.7l7.1 -5.3 -8.2 2.6 -7.1 5.7z"/><path color="#ffb600" d="M415.5 877.1l7.1 -5.4 -8.2 3 -7.1 5.6z"/><path color="#ffd600" d="M408.4 882.4l7.1 -5.3 -8.2 3.2 -7.1 5.7z"/><path color="#fff500" d="M401.3 887.6l7.1 -5.2 -8.2 3.6 -7 5.5z"/><path color="#ebff14" d="M394.2 892.8l7.1 -5.2 -8.1 3.9 -7.1 5.3z"/><path color="#ceff31" d="M387.2 897.7l7 -4.9 -8.1 4 -7.1 5z"/><path color="#b4ff4b" d="M380.1 902.3l7.1 -4.6 -8.2 4.1 -7.1 4.7z"/><path color="#9cff63" d="M373 906.6l7.1 -4.3 -8.2 4.2 -7.1 4.3z"/><path color="#84ff7b" d="M365.9 910.7l7.1 -4.1 -8.2 4.2 -7.1 4z"/><path color="#6cff93" d="M358.8 915l7.1 -4.3 -8.2 4.1 -7.1 4.1z"/><path color="#53ffac" d="M351.7 919.4l7.1 -4.4 -8.2 3.9 -7.1 4.1z"/><path color="#3bffc4" d="M344.6 923.7l7.1 -4.3 -8.2 3.6 -7.1 4z"/><path color="#22ffdd" d="M337.5 928.1l7.1 -4.4 -8.2 3.3 -7.1 4z"/><path color="#0afff5" d="M330.4 932.3l7.1 -4.2 -8.2 2.9 -7 3.8z"/><path color="#00f2ff" d="M323.3 936.5l7.1 -4.2 -8.1 2.5 -7.1 3.7z"/><path color="#00dcff" d="M316.3 940.4l7 -3.9 -8.1 2 -7.1 3.5z"/><path color="#00c8ff" d="M309.2 944.2l7.1 -3.8 -8.2 1.6 -7.1 3.3z"/><path color="#00b5ff" d="M302.1 947.6l7.1 -3.4 -8.2 1.1 -7.1 2.9z"/><path color="#00a5ff" d="M295 950.7l7.1 -3.1 -8.2 0.6 -7.1 2.7z"/><path color="#0098ff" d="M287.9 953.5l7.1 -2.8 -8.2 0.2 -7.1 2.2z"/><path color="#008dff" d="M280.8 955.8l7.1 -2.3 -8.2 -0.4 -7.1 1.9z"/><path color="#0087ff" d="M273.7 957.6l7.1 -1.8 -8.2 -0.8 -7.1 1.3z"/><path color="#0084ff" d="M266.6 958.8l7.1 -1.2 -8.2 -1.3 -7.1 0.7z"/><path color="#0087ff" d="M259.5 959.2l7.1 -0.4 -8.2 -1.8 -7 0.1z"/><path color="#008fff" d="M252.4 958.9l7.1 0.3 -8.1 -2.1 -7.1 -0.8z"/><path color="#009cff" d="M245.4 957.9l7 1 -8.1 -2.6 -7.1 -1.6z"/><path color="#00adff" d="M238.3 956.4l7.1 1.5 -8.2 -3.2 -7.1 -2.1z"/><path color="#00c1ff" d="M231.2 954.4l7.1 2 -8.2 -3.8 -7.1 -2.5z"/><path color="#00d6ff" d="M224.1 952.2l7.1 2.2 -8.2 -4.3 -7.1 -2.7z"/><path color="#00ecff" d="M217 949.9l7.1 2.3 -8.2 -4.8 -7.1 -2.7z"/><path color="#02fffd" d="M209.9 947.7l7.1 2.2 -8.2 -5.2 -7.1 -2.6z"/><path color="#16ffe9" d="M202.8 945.7l7.1 2 -8.2 -5.6 -7.1 -2.4z"/><path color="#28ffd7" d="M195.7 944l7.1 1.7 -8.2 -6 -7.1 -2z"/><path color="#39ffc6" d="M188.6 942.5l7.1 1.5 -8.2 -6.3 -7 -1.6z"/><path color="#47ffb8" d="M181.5 941.4l7.1 1.1 -8.1 -6.4 -7.1 -1.3z"/><path color="#52ffad" d="M174.5 940.5l7 0.9 -8.1 -6.6 -7.1 -1z"/><path color="#5bffa4" d="M167.4 940.1l7.1 0.4 -8.2 -6.7 -7.1 -0.5z"/><path color="#62ff9d" d="M160.3 940l7.1 0.1 -8.2 -6.8 -7.1 -0.2z"/><path color="#d10000" d="M480.4 838.7l7.1 -2.9 -8.2 0.7 -7.1 3.1z"/><path color="#e30000" d="M473.3 842l7.1 -3.3 -8.2 0.9 -7.1 3.5z"/><path color="#f70000" d="M466.2 845.7l7.1 -3.7 -8.2 1.1 -7 4.1z"/><path color="#ff0f00" d="M459.2 849.8l7 -4.1 -8.1 1.5 -7.1 4.4z"/><path color="#ff2800" d="M452.1 854.1l7.1 -4.3 -8.2 1.8 -7.1 4.7z"/><path color="#ff4200" d="M445 858.7l7.1 -4.6 -8.2 2.2 -7.1 5z"/><path color="#ff5e00" d="M437.9 863.5l7.1 -4.8 -8.2 2.6 -7.1 5.1z"/><path color="#ff7a00" d="M430.8 868.4l7.1 -4.9 -8.2 2.9 -7.1 5.3z"/><path color="#ff9800" d="M423.7 873.4l7.1 -5 -8.2 3.3 -7.1 5.4z"/><path color="#ffb500" d="M416.6 878.4l7.1 -5 -8.2 3.7 -7.1 5.3z"/><path color="#ffd200" d="M409.5 883.4l7.1 -5 -8.2 4 -7.1 5.2z"/><path color="#ffef00" d="M402.4 888.3l7.1 -4.9 -8.2 4.2 -7.1 5.2z"/><path color="#f4ff0b" d="M395.3 893.1l7.1 -4.8 -8.2 4.5 -7 4.9z"/><path color="#daff25" d="M388.3 897.6l7 -4.5 -8.1 4.6 -7.1 4.6z"/><path color="#c1ff3e" d="M381.2 901.9l7.1 -4.3 -8.2 4.7 -7.1 4.3z"/><path color="#a9ff56" d="M374.1 906.2l7.1 -4.3 -8.2 4.7 -7.1 4.1z"/><path color="#8fff70" d="M367 910.7l7.1 -4.5 -8.2 4.5 -7.1 4.3z"/><path color="#75ff8a" d="M359.9 915.3l7.1 -4.6 -8.2 4.3 -7.1 4.4z"/><path color="#59ffa6" d="M352.8 920.1l7.1 -4.8 -8.2 4.1 -7.1 4.3z"/><path color="#3effc1" d="M345.7 924.8l7.1 -4.7 -8.2 3.6 -7.1 4.4z"/><path color="#23ffdc" d="M338.6 929.5l7.1 -4.7 -8.2 3.3 -7.1 4.2z"/><path color="#08fff7" d="M331.5 934.1l7.1 -4.6 -8.2 2.8 -7.1 4.2z"/><path color="#00eeff" d="M324.4 938.6l7.1 -4.5 -8.2 2.4 -7 3.9z"/><path color="#00d6ff" d="M317.4 942.9l7 -4.3 -8.1 1.8 -7.1 3.8z"/><path color="#00bfff" d="M310.3 946.9l7.1 -4 -8.2 1.3 -7.1 3.4z"/><path color="#00abff" d="M303.2 950.5l7.1 -3.6 -8.2 0.7 -7.1 3.1z"/><path color="#009aff" d="M296.1 953.8l7.1 -3.3 -8.2 0.2 -7.1 2.8z"/><path color="#008cff" d="M289 956.6l7.1 -2.8 -8.2 -0.3 -7.1 2.3z"/><path color="#0082ff" d="M281.9 958.9l7.1 -2.3 -8.2 -0.8 -7.1 1.8z"/><path color="#007cff" d="M274.8 960.6l7.1 -1.7 -8.2 -1.3 -7.1 1.2z"/><path color="#007cff" d="M267.7 961.5l7.1 -0.9 -8.2 -1.8 -7.1 0.4z"/><path color="#0080ff" d="M260.6 961.7l7.1 -0.2 -8.2 -2.3 -7.1 -0.3z"/><path color="#0089ff" d="M253.5 961.3l7.1 0.4 -8.2 -2.8 -7 -1z"/><path color="#0096ff" d="M246.5 960.3l7 1 -8.1 -3.4 -7.1 -1.5z"/><path color="#00a6ff" d="M239.4 958.9l7.1 1.4 -8.2 -3.9 -7.1 -2z"/><path color="#00b7ff" d="M232.3 957.2l7.1 1.7 -8.2 -4.5 -7.1 -2.2z"/><path color="#00caff" d="M225.2 955.5l7.1 1.7 -8.2 -5 -7.1 -2.3z"/><path color="#00dcff" d="M218.1 953.7l7.1 1.8 -8.2 -5.6 -7.1 -2.2z"/><path color="#00eeff" d="M211 952.1l7.1 1.6 -8.2 -6 -7.1 -2z"/><path color="#00feff" d="M203.9 950.6l7.1 1.5 -8.2 -6.4 -7.1 -1.7z"/><path color="#0dfff2" d="M196.8 949.4l7.1 1.2 -8.2 -6.6 -7.1 -1.5z"/><path color="#1affe5" d="M189.7 948.4l7.1 1 -8.2 -6.9 -7.1 -1.1z"/><path color="#25ffda" d="M182.6 947.7l7.1 0.7 -8.2 -7 -7 -0.9z"/><path color="#2dffd2" d="M175.6 947.4l7 0.3 -8.1 -7.2 -7.1 -0.4z"/><path color="#33ffcc" d="M168.5 947.4l7.1 0 -8.2 -7.3 -7.1 -0.1z"/><path color="#c50000" d="M488.6 837.7l7.1 -2.7 -8.2 0.8 -7.1 2.9z"/><path color="#d50000" d="M481.5 840.7l7.1 -3 -8.2 1 -7.1 3.3z"/><path color="#e70000" d="M474.4 844.2l7.1 -3.5 -8.2 1.3 -7.1 3.7z"/><path color="#fb0000" d="M467.3 847.9l7.1 -3.7 -8.2 1.5 -7 4.1z"/><path color="#ff1200" d="M460.3 851.8l7 -3.9 -8.1 1.9 -7.1 4.3z"/><path color="#ff2a00" d="M453.2 856l7.1 -4.2 -8.2 2.3 -7.1 4.6z"/><path color="#ff4300" d="M446.1 860.4l7.1 -4.4 -8.2 2.7 -7.1 4.8z"/><path color="#ff5d00" d="M439 864.9l7.1 -4.5 -8.2 3.1 -7.1 4.9z"/><path color="#ff7700" d="M431.9 869.5l7.1 -4.6 -8.2 3.5 -7.1 5z"/><path color="#ff9200" d="M424.8 874.2l7.1 -4.7 -8.2 3.9 -7.1 5z"/><path color="#ffad00" d="M417.7 878.9l7.1 -4.7 -8.2 4.2 -7.1 5z"/><path color="#ffc800" d="M410.6 883.6l7.1 -4.7 -8.2 4.5 -7.1 4.9z"/><path color="#ffe300" d="M403.5 888.2l7.1 -4.6 -8.2 4.7 -7.1 4.8z"/><path color="#fffc00" d="M396.4 892.6l7.1 -4.4 -8.2 4.9 -7 4.5z"/><path color="#e9ff16" d="M389.3 897l7.1 -4.4 -8.1 5 -7.1 4.3z"/><path color="#d0ff2f" d="M382.3 901.4l7 -4.4 -8.1 4.9 -7.1 4.3z"/><path color="#b5ff4a" d="M375.2 906.1l7.1 -4.7 -8.2 4.8 -7.1 4.5z"/><path color="#98ff67" d="M368.1 911.1l7.1 -5 -8.2 4.6 -7.1 4.6z"/><path color="#7aff85" d="M361 916.1l7.1 -5 -8.2 4.2 -7.1 4.8z"/><path color="#5cffa3" d="M353.9 921.3l7.1 -5.2 -8.2 4 -7.1 4.7z"/><path color="#3dffc2" d="M346.8 926.5l7.1 -5.2 -8.2 3.5 -7.1 4.7z"/><path color="#1fffe0" d="M339.7 931.6l7.1 -5.1 -8.2 3 -7.1 4.6z"/><path color="#01fffe" d="M332.6 936.6l7.1 -5 -8.2 2.5 -7.1 4.5z"/><path color="#00e4ff" d="M325.5 941.5l7.1 -4.9 -8.2 2 -7 4.3z"/><path color="#00caff" d="M318.4 946l7.1 -4.5 -8.1 1.4 -7.1 4z"/><path color="#00b2ff" d="M311.4 950.3l7 -4.3 -8.1 0.9 -7.1 3.6z"/><path color="#009dff" d="M304.3 954.1l7.1 -3.8 -8.2 0.2 -7.1 3.3z"/><path color="#008cff" d="M297.2 957.5l7.1 -3.4 -8.2 -0.3 -7.1 2.8z"/><path color="#007eff" d="M290.1 960.3l7.1 -2.8 -8.2 -0.9 -7.1 2.3z"/><path color="#0074ff" d="M283 962.4l7.1 -2.1 -8.2 -1.4 -7.1 1.7z"/><path color="#0070ff" d="M275.9 963.9l7.1 -1.5 -8.2 -1.8 -7.1 0.9z"/><path color="#0071ff" d="M268.8 964.6l7.1 -0.7 -8.2 -2.4 -7.1 0.2z"/><path color="#0076ff" d="M261.7 964.7l7.1 -0.1 -8.2 -2.9 -7.1 -0.4z"/><path color="#007fff" d="M254.6 964.3l7.1 0.4 -8.2 -3.4 -7 -1z"/><path color="#008bff" d="M247.6 963.5l7 0.8 -8.1 -4 -7.1 -1.4z"/><path color="#0098ff" d="M240.5 962.4l7.1 1.1 -8.2 -4.6 -7.1 -1.7z"/><path color="#00a7ff" d="M233.4 961.1l7.1 1.3 -8.2 -5.2 -7.1 -1.7z"/><path color="#00b6ff" d="M226.3 959.8l7.1 1.3 -8.2 -5.6 -7.1 -1.8z"/><path color="#00c5ff" d="M219.2 958.6l7.1 1.2 -8.2 -6.1 -7.1 -1.6z"/><path color="#00d3ff" d="M212.1 957.4l7.1 1.2 -8.2 -6.5 -7.1 -1.5z"/><path color="#00dfff" d="M205 956.5l7.1 0.9 -8.2 -6.8 -7.1 -1.2z"/><path color="#00eaff" d="M197.9 955.7l7.1 0.8 -8.2 -7.1 -7.1 -1z"/><path color="#00f4ff" d="M190.8 955.2l7.1 0.5 -8.2 -7.3 -7.1 -0.7z"/><path color="#00fbff" d="M183.7 955l7.1 0.2 -8.2 -7.5 -7 -0.3z"/><path color="#01fffe" d="M176.6 955.2l7.1 -0.2 -8.1 -7.6 -7.1 0z"/><path color="#b90000" d="M496.8 836.6l7.1 -2.5 -8.2 0.9 -7.1 2.7z"/><path color="#c70000" d="M489.7 839.5l7.1 -2.9 -8.2 1.1 -7.1 3z"/><path color="#d70000" d="M482.6 842.6l7.1 -3.1 -8.2 1.2 -7.1 3.5z"/><path color="#e90000" d="M475.5 845.9l7.1 -3.3 -8.2 1.6 -7.1 3.7z"/><path color="#fc0000" d="M468.4 849.5l7.1 -3.6 -8.2 2 -7 3.9z"/><path color="#ff1200" d="M461.3 853.3l7.1 -3.8 -8.1 2.3 -7.1 4.2z"/><path color="#ff2800" d="M454.3 857.2l7 -3.9 -8.1 2.7 -7.1 4.4z"/><path color="#ff3f00" d="M447.2 861.3l7.1 -4.1 -8.2 3.2 -7.1 4.5z"/><path color="#ff5600" d="M440.1 865.6l7.1 -4.3 -8.2 3.6 -7.1 4.6z"/><path color="#ff6f00" d="M433 869.9l7.1 -4.3 -8.2 3.9 -7.1 4.7z"/><path color="#ff8800" d="M425.9 874.3l7.1 -4.4 -8.2 4.3 -7.1 4.7z"/><path color="#ffa100" d="M418.8 878.7l7.1 -4.4 -8.2 4.6 -7.1 4.7z"/><path color="#ffba00" d="M411.7 883.1l7.1 -4.4 -8.2 4.9 -7.1 4.6z"/><path color="#ffd300" d="M404.6 887.5l7.1 -4.4 -8.2 5.1 -7.1 4.4z"/><path color="#ffec00" d="M397.5 891.9l7.1 -4.4 -8.2 5.1 -7.1 4.4z"/><path color="#f8ff07" d="M390.4 896.5l7.1 -4.6 -8.2 5.1 -7 4.4z"/><path color="#dbff24" d="M383.4 901.4l7 -4.9 -8.1 4.9 -7.1 4.7z"/><path color="#bcff43" d="M376.3 906.6l7.1 -5.2 -8.2 4.7 -7.1 5z"/><path color="#9bff64" d="M369.2 912.1l7.1 -5.5 -8.2 4.5 -7.1 5z"/><path color="#7aff85" d="M362.1 917.7l7.1 -5.6 -8.2 4 -7.1 5.2z"/><path color="#58ffa7" d="M355 923.4l7.1 -5.7 -8.2 3.6 -7.1 5.2z"/><path color="#36ffc9" d="M347.9 929l7.1 -5.6 -8.2 3.1 -7.1 5.1z"/><path color="#15ffea" d="M340.8 934.6l7.1 -5.6 -8.2 2.6 -7.1 5z"/><path color="#00f4ff" d="M333.7 940l7.1 -5.4 -8.2 2 -7.1 4.9z"/><path color="#00d5ff" d="M326.6 945.1l7.1 -5.1 -8.2 1.5 -7.1 4.5z"/><path color="#00b9ff" d="M319.5 950l7.1 -4.9 -8.2 0.9 -7 4.3z"/><path color="#00a0ff" d="M312.5 954.4l7 -4.4 -8.1 0.3 -7.1 3.8z"/><path color="#008bff" d="M305.4 958.3l7.1 -3.9 -8.2 -0.3 -7.1 3.4z"/><path color="#0079ff" d="M298.3 961.6l7.1 -3.3 -8.2 -0.8 -7.1 2.8z"/><path color="#006dff" d="M291.2 964.2l7.1 -2.6 -8.2 -1.3 -7.1 2.1z"/><path color="#0065ff" d="M284.1 966.2l7.1 -2 -8.2 -1.8 -7.1 1.5z"/><path color="#0062ff" d="M277 967.4l7.1 -1.2 -8.2 -2.3 -7.1 0.7z"/><path color="#0063ff" d="M269.9 968.1l7.1 -0.7 -8.2 -2.8 -7.1 0.1z"/><path color="#0068ff" d="M262.8 968.3l7.1 -0.2 -8.2 -3.4 -7.1 -0.4z"/><path color="#0070ff" d="M255.7 968l7.1 0.3 -8.2 -4 -7 -0.8z"/><path color="#0079ff" d="M248.6 967.5l7.1 0.5 -8.1 -4.5 -7.1 -1.1z"/><path color="#0084ff" d="M241.6 966.7l7 0.8 -8.1 -5.1 -7.1 -1.3z"/><path color="#0090ff" d="M234.5 965.9l7.1 0.8 -8.2 -5.6 -7.1 -1.3z"/><path color="#009cff" d="M227.4 965.1l7.1 0.8 -8.2 -6.1 -7.1 -1.2z"/><path color="#00a7ff" d="M220.3 964.3l7.1 0.8 -8.2 -6.5 -7.1 -1.2z"/><path color="#00b2ff" d="M213.2 963.6l7.1 0.7 -8.2 -6.9 -7.1 -0.9z"/><path color="#00bcff" d="M206.1 963.1l7.1 0.5 -8.2 -7.1 -7.1 -0.8z"/><path color="#00c3ff" d="M199 962.8l7.1 0.3 -8.2 -7.4 -7.1 -0.5z"/><path color="#00c9ff" d="M191.9 962.8l7.1 0 -8.2 -7.6 -7.1 -0.2z"/><path color="#00cdff" d="M184.8 963.1l7.1 -0.3 -8.2 -7.8 -7.1 0.2z"/><path color="#ad0000" d="M505 835.7l7.1 -2.4 -8.2 0.8 -7.1 2.5z"/><path color="#b90000" d="M497.9 838.2l7.1 -2.5 -8.2 0.9 -7.1 2.9z"/><path color="#c70000" d="M490.8 841l7.1 -2.8 -8.2 1.3 -7.1 3.1z"/><path color="#d60000" d="M483.7 844l7.1 -3 -8.2 1.6 -7.1 3.3z"/><path color="#e70000" d="M476.6 847.2l7.1 -3.2 -8.2 1.9 -7.1 3.6z"/><path color="#f80000" d="M469.5 850.6l7.1 -3.4 -8.2 2.3 -7.1 3.8z"/><path color="#ff0c00" d="M462.4 854.1l7.1 -3.5 -8.2 2.7 -7 3.9z"/><path color="#ff2100" d="M455.4 857.8l7 -3.7 -8.1 3.1 -7.1 4.1z"/><path color="#ff3600" d="M448.3 861.6l7.1 -3.8 -8.2 3.5 -7.1 4.3z"/><path color="#ff4c00" d="M441.2 865.6l7.1 -4 -8.2 4 -7.1 4.3z"/><path color="#ff6200" d="M434.1 869.7l7.1 -4.1 -8.2 4.3 -7.1 4.4z"/><path color="#ff7a00" d="M427 873.8l7.1 -4.1 -8.2 4.6 -7.1 4.4z"/><path color="#ff9200" d="M419.9 878.1l7.1 -4.3 -8.2 4.9 -7.1 4.4z"/><path color="#ffaa00" d="M412.8 882.4l7.1 -4.3 -8.2 5 -7.1 4.4z"/><path color="#ffc300" d="M405.7 886.8l7.1 -4.4 -8.2 5.1 -7.1 4.4z"/><path color="#ffdf00" d="M398.6 891.5l7.1 -4.7 -8.2 5.1 -7.1 4.6z"/><path color="#fffd00" d="M391.5 896.7l7.1 -5.2 -8.2 5 -7 4.9z"/><path color="#e0ff1f" d="M384.5 902.2l7 -5.5 -8.1 4.7 -7.1 5.2z"/><path color="#bdff42" d="M377.4 908.1l7.1 -5.9 -8.2 4.4 -7.1 5.5z"/><path color="#98ff67" d="M370.3 914.1l7.1 -6 -8.2 4 -7.1 5.6z"/><path color="#73ff8c" d="M363.2 920.3l7.1 -6.2 -8.2 3.6 -7.1 5.7z"/><path color="#4dffb2" d="M356.1 926.4l7.1 -6.1 -8.2 3.1 -7.1 5.6z"/><path color="#28ffd7" d="M349 932.5l7.1 -6.1 -8.2 2.6 -7.1 5.6z"/><path color="#04fffb" d="M341.9 938.5l7.1 -6 -8.2 2.1 -7.1 5.4z"/><path color="#00e1ff" d="M334.8 944.2l7.1 -5.7 -8.2 1.5 -7.1 5.1z"/><path color="#00c1ff" d="M327.7 949.6l7.1 -5.4 -8.2 0.9 -7.1 4.9z"/><path color="#00a4ff" d="M320.6 954.6l7.1 -5 -8.2 0.4 -7 4.4z"/><path color="#008bff" d="M313.6 959l7 -4.4 -8.1 -0.2 -7.1 3.9z"/><path color="#0075ff" d="M306.5 962.9l7.1 -3.9 -8.2 -0.7 -7.1 3.3z"/><path color="#0065ff" d="M299.4 966l7.1 -3.1 -8.2 -1.3 -7.1 2.6z"/><path color="#005aff" d="M292.3 968.4l7.1 -2.4 -8.2 -1.8 -7.1 2z"/><path color="#0054ff" d="M285.2 970.2l7.1 -1.8 -8.2 -2.2 -7.1 1.2z"/><path color="#0051ff" d="M278.1 971.4l7.1 -1.2 -8.2 -2.8 -7.1 0.7z"/><path color="#0052ff" d="M271 972.1l7.1 -0.7 -8.2 -3.3 -7.1 0.2z"/><path color="#0056ff" d="M263.9 972.4l7.1 -0.3 -8.2 -3.8 -7.1 -0.3z"/><path color="#005cff" d="M256.8 972.4l7.1 0 -8.2 -4.4 -7.1 -0.5z"/><path color="#0063ff" d="M249.7 972.2l7.1 0.2 -8.2 -4.9 -7 -0.8z"/><path color="#006cff" d="M242.7 971.8l7 0.4 -8.1 -5.5 -7.1 -0.8z"/><path color="#0075ff" d="M235.6 971.4l7.1 0.4 -8.2 -5.9 -7.1 -0.8z"/><path color="#007dff" d="M228.5 971l7.1 0.4 -8.2 -6.3 -7.1 -0.8z"/><path color="#0086ff" d="M221.4 970.6l7.1 0.4 -8.2 -6.7 -7.1 -0.7z"/><path color="#008dff" d="M214.3 970.4l7.1 0.2 -8.2 -7 -7.1 -0.5z"/><path color="#0094ff" d="M207.2 970.4l7.1 0 -8.2 -7.3 -7.1 -0.3z"/><path color="#0098ff" d="M200.1 970.5l7.1 -0.1 -8.2 -7.6 -7.1 0z"/><path color="#009aff" d="M193 971l7.1 -0.5 -8.2 -7.7 -7.1 0.3z"/><path color="#a20000" d="M513.2 834.8l7.1 -2.1 -8.2 0.6 -7.1 2.4z"/><path color="#ac0000" d="M506.1 837.1l7.1 -2.3 -8.2 0.9 -7.1 2.5z"/><path color="#b80000" d="M499 839.6l7.1 -2.5 -8.2 1.1 -7.1 2.8z"/><path color="#c50000" d="M491.9 842.2l7.1 -2.6 -8.2 1.4 -7.1 3z"/><path color="#d20000" d="M484.8 845l7.1 -2.8 -8.2 1.8 -7.1 3.2z"/><path color="#e10000" d="M477.7 848l7.1 -3 -8.2 2.2 -7.1 3.4z"/><path color="#f10000" d="M470.6 851.1l7.1 -3.1 -8.2 2.6 -7.1 3.5z"/><path color="#ff0400" d="M463.5 854.4l7.1 -3.3 -8.2 3 -7 3.7z"/><path color="#ff1600" d="M456.4 857.8l7.1 -3.4 -8.1 3.4 -7.1 3.8z"/><path color="#ff2900" d="M449.4 861.4l7 -3.6 -8.1 3.8 -7.1 4z"/><path color="#ff3e00" d="M442.3 865.2l7.1 -3.8 -8.2 4.2 -7.1 4.1z"/><path color="#ff5400" d="M435.2 869.1l7.1 -3.9 -8.2 4.5 -7.1 4.1z"/><path color="#ff6b00" d="M428.1 873.2l7.1 -4.1 -8.2 4.7 -7.1 4.3z"/><path color="#ff8300" d="M421 877.5l7.1 -4.3 -8.2 4.9 -7.1 4.3z"/><path color="#ff9c00" d="M413.9 881.9l7.1 -4.4 -8.2 4.9 -7.1 4.4z"/><path color="#ffb800" d="M406.8 886.7l7.1 -4.8 -8.2 4.9 -7.1 4.7z"/><path color="#ffd800" d="M399.7 892.1l7.1 -5.4 -8.2 4.8 -7.1 5.2z"/><path color="#fffb00" d="M392.6 897.9l7.1 -5.8 -8.2 4.6 -7 5.5z"/><path color="#ddff22" d="M385.5 904.1l7.1 -6.2 -8.1 4.3 -7.1 5.9z"/><path color="#b6ff49" d="M378.5 910.6l7 -6.5 -8.1 4 -7.1 6z"/><path color="#8dff72" d="M371.4 917.2l7.1 -6.6 -8.2 3.5 -7.1 6.2z"/><path color="#64ff9b" d="M364.3 923.9l7.1 -6.7 -8.2 3.1 -7.1 6.1z"/><path color="#3bffc4" d="M357.2 930.5l7.1 -6.6 -8.2 2.5 -7.1 6.1z"/><path color="#14ffeb" d="M350.1 937l7.1 -6.5 -8.2 2 -7.1 6z"/><path color="#00ecff" d="M343 943.3l7.1 -6.3 -8.2 1.5 -7.1 5.7z"/><path color="#00c8ff" d="M335.9 949.3l7.1 -6 -8.2 0.9 -7.1 5.4z"/><path color="#00a8ff" d="M328.8 954.8l7.1 -5.5 -8.2 0.3 -7.1 5z"/><path color="#008bff" d="M321.7 959.7l7.1 -4.9 -8.2 -0.2 -7 4.4z"/><path color="#0072ff" d="M314.6 964.1l7.1 -4.4 -8.1 -0.7 -7.1 3.9z"/><path color="#005fff" d="M307.6 967.7l7 -3.6 -8.1 -1.2 -7.1 3.1z"/><path color="#0050ff" d="M300.5 970.5l7.1 -2.8 -8.2 -1.7 -7.1 2.4z"/><path color="#0046ff" d="M293.4 972.8l7.1 -2.3 -8.2 -2.1 -7.1 1.8z"/><path color="#0040ff" d="M286.3 974.5l7.1 -1.7 -8.2 -2.6 -7.1 1.2z"/><path color="#003eff" d="M279.2 975.7l7.1 -1.2 -8.2 -3.1 -7.1 0.7z"/><path color="#003eff" d="M272.1 976.6l7.1 -0.9 -8.2 -3.6 -7.1 0.3z"/><path color="#0040ff" d="M265 977.1l7.1 -0.5 -8.2 -4.2 -7.1 0z"/><path color="#0044ff" d="M257.9 977.3l7.1 -0.2 -8.2 -4.7 -7.1 -0.2z"/><path color="#0049ff" d="M250.8 977.4l7.1 -0.1 -8.2 -5.1 -7 -0.4z"/><path color="#004fff" d="M243.7 977.4l7.1 0 -8.1 -5.6 -7.1 -0.4z"/><path color="#0055ff" d="M236.7 977.4l7 0 -8.1 -6 -7.1 -0.4z"/><path color="#005bff" d="M229.6 977.4l7.1 0 -8.2 -6.4 -7.1 -0.4z"/><path color="#0061ff" d="M222.5 977.4l7.1 0 -8.2 -6.8 -7.1 -0.2z"/><path color="#0065ff" d="M215.4 977.6l7.1 -0.2 -8.2 -7 -7.1 0z"/><path color="#0068ff" d="M208.3 978.1l7.1 -0.5 -8.2 -7.2 -7.1 0.1z"/><path color="#0069ff" d="M201.2 978.7l7.1 -0.6 -8.2 -7.6 -7.1 0.5z"/><path color="#980000" d="M521.4 834.1l7 -2 -8.1 0.6 -7.1 2.1z"/><path color="#a10000" d="M514.3 836.1l7.1 -2 -8.2 0.7 -7.1 2.3z"/><path color="#aa0000" d="M507.2 838.3l7.1 -2.2 -8.2 1 -7.1 2.5z"/><path color="#b40000" d="M500.1 840.6l7.1 -2.3 -8.2 1.3 -7.1 2.6z"/><path color="#bf0000" d="M493 843l7.1 -2.4 -8.2 1.6 -7.1 2.8z"/><path color="#cc0000" d="M485.9 845.6l7.1 -2.6 -8.2 2 -7.1 3z"/><path color="#d90000" d="M478.8 848.3l7.1 -2.7 -8.2 2.4 -7.1 3.1z"/><path color="#e70000" d="M471.7 851.2l7.1 -2.9 -8.2 2.8 -7.1 3.3z"/><path color="#f70000" d="M464.6 854.3l7.1 -3.1 -8.2 3.2 -7.1 3.4z"/><path color="#ff0900" d="M457.5 857.6l7.1 -3.3 -8.2 3.5 -7 3.6z"/><path color="#ff1c00" d="M450.5 861.1l7 -3.5 -8.1 3.8 -7.1 3.8z"/><path color="#ff3000" d="M443.4 864.8l7.1 -3.7 -8.2 4.1 -7.1 3.9z"/><path color="#ff4600" d="M436.3 868.7l7.1 -3.9 -8.2 4.3 -7.1 4.1z"/><path color="#ff5d00" d="M429.2 872.9l7.1 -4.2 -8.2 4.5 -7.1 4.3z"/><path color="#ff7700" d="M422.1 877.3l7.1 -4.4 -8.2 4.6 -7.1 4.4z"/><path color="#ff9300" d="M415 882.3l7.1 -5 -8.2 4.6 -7.1 4.8z"/><path color="#ffb500" d="M407.9 887.8l7.1 -5.5 -8.2 4.4 -7.1 5.4z"/><path color="#ffda00" d="M400.8 893.9l7.1 -6.1 -8.2 4.3 -7.1 5.8z"/><path color="#fcff03" d="M393.7 900.4l7.1 -6.5 -8.2 4 -7.1 6.2z"/><path color="#d2ff2d" d="M386.6 907.3l7.1 -6.9 -8.2 3.7 -7 6.5z"/><path color="#a7ff58" d="M379.6 914.3l7 -7 -8.1 3.3 -7.1 6.6z"/><path color="#7aff85" d="M372.5 921.5l7.1 -7.2 -8.2 2.9 -7.1 6.7z"/><path color="#4effb1" d="M365.4 928.6l7.1 -7.1 -8.2 2.4 -7.1 6.6z"/><path color="#22ffdd" d="M358.3 935.6l7.1 -7 -8.2 1.9 -7.1 6.5z"/><path color="#00f8ff" d="M351.2 942.4l7.1 -6.8 -8.2 1.4 -7.1 6.3z"/><path color="#00d0ff" d="M344.1 948.9l7.1 -6.5 -8.2 0.9 -7.1 6z"/><path color="#00acff" d="M337 954.9l7.1 -6 -8.2 0.4 -7.1 5.5z"/><path color="#008bff" d="M329.9 960.4l7.1 -5.5 -8.2 -0.1 -7.1 4.9z"/><path color="#006fff" d="M322.8 965.2l7.1 -4.8 -8.2 -0.7 -7.1 4.4z"/><path color="#0059ff" d="M315.7 969.2l7.1 -4 -8.2 -1.1 -7 3.6z"/><path color="#0047ff" d="M308.7 972.5l7 -3.3 -8.1 -1.5 -7.1 2.8z"/><path color="#003aff" d="M301.6 975.2l7.1 -2.7 -8.2 -2 -7.1 2.3z"/><path color="#0031ff" d="M294.5 977.4l7.1 -2.2 -8.2 -2.4 -7.1 1.7z"/><path color="#002bff" d="M287.4 979.1l7.1 -1.7 -8.2 -2.9 -7.1 1.2z"/><path color="#0028ff" d="M280.3 980.4l7.1 -1.3 -8.2 -3.4 -7.1 0.9z"/><path color="#0027ff" d="M273.2 981.4l7.1 -1 -8.2 -3.8 -7.1 0.5z"/><path color="#0027ff" d="M266.1 982.1l7.1 -0.7 -8.2 -4.3 -7.1 0.2z"/><path color="#002aff" d="M259 982.6l7.1 -0.5 -8.2 -4.8 -7.1 0.1z"/><path color="#002dff" d="M251.9 983l7.1 -0.4 -8.2 -5.2 -7.1 0z"/><path color="#0030ff" d="M244.8 983.4l7.1 -0.4 -8.2 -5.6 -7 0z"/><path color="#0034ff" d="M237.8 983.7l7 -0.3 -8.1 -6 -7.1 0z"/><path color="#0037ff" d="M230.7 984.1l7.1 -0.4 -8.2 -6.3 -7.1 0z"/><path color="#003aff" d="M223.6 984.6l7.1 -0.5 -8.2 -6.7 -7.1 0.2z"/><path color="#003bff" d="M216.5 985.2l7.1 -0.6 -8.2 -7 -7.1 0.5z"/><path color="#003bff" d="M209.4 986.1l7.1 -0.9 -8.2 -7.1 -7.1 0.6z"/><path color="#900000" d="M529.5 833.6l7.1 -1.8 -8.2 0.3 -7 2z"/><path color="#970000" d="M522.4 835.4l7.1 -1.8 -8.1 0.5 -7.1 2z"/><path color="#9e0000" d="M515.4 837.3l7 -1.9 -8.1 0.7 -7.1 2.2z"/><path color="#a60000" d="M508.3 839.3l7.1 -2 -8.2 1 -7.1 2.3z"/><path color="#af0000" d="M501.2 841.4l7.1 -2.1 -8.2 1.3 -7.1 2.4z"/><path color="#b80000" d="M494.1 843.6l7.1 -2.2 -8.2 1.6 -7.1 2.6z"/><path color="#c30000" d="M487 845.9l7.1 -2.3 -8.2 2 -7.1 2.7z"/><path color="#cf0000" d="M479.9 848.5l7.1 -2.6 -8.2 2.4 -7.1 2.9z"/><path color="#dc0000" d="M472.8 851.2l7.1 -2.7 -8.2 2.7 -7.1 3.1z"/><path color="#eb0000" d="M465.7 854.2l7.1 -3 -8.2 3.1 -7.1 3.3z"/><path color="#fc0000" d="M458.6 857.4l7.1 -3.2 -8.2 3.4 -7 3.5z"/><path color="#ff0f00" d="M451.6 860.9l7 -3.5 -8.1 3.7 -7.1 3.7z"/><path color="#ff2400" d="M444.5 864.6l7.1 -3.7 -8.2 3.9 -7.1 3.9z"/><path color="#ff3b00" d="M437.4 868.7l7.1 -4.1 -8.2 4.1 -7.1 4.2z"/><path color="#ff5400" d="M430.3 873.2l7.1 -4.5 -8.2 4.2 -7.1 4.4z"/><path color="#ff7200" d="M423.2 878.2l7.1 -5 -8.2 4.1 -7.1 5z"/><path color="#ff9400" d="M416.1 883.9l7.1 -5.7 -8.2 4.1 -7.1 5.5z"/><path color="#ffbb00" d="M409 890.3l7.1 -6.4 -8.2 3.9 -7.1 6.1z"/><path color="#ffe500" d="M401.9 897.1l7.1 -6.8 -8.2 3.6 -7.1 6.5z"/><path color="#ecff13" d="M394.8 904.3l7.1 -7.2 -8.2 3.3 -7.1 6.9z"/><path color="#beff41" d="M387.7 911.7l7.1 -7.4 -8.2 3 -7 7z"/><path color="#8fff70" d="M380.6 919.3l7.1 -7.6 -8.1 2.6 -7.1 7.2z"/><path color="#5fffa0" d="M373.6 926.9l7 -7.6 -8.1 2.2 -7.1 7.1z"/><path color="#30ffcf" d="M366.5 934.4l7.1 -7.5 -8.2 1.7 -7.1 7z"/><path color="#03fffc" d="M359.4 941.6l7.1 -7.2 -8.2 1.2 -7.1 6.8z"/><path color="#00d7ff" d="M352.3 948.6l7.1 -7 -8.2 0.8 -7.1 6.5z"/><path color="#00b0ff" d="M345.2 955l7.1 -6.4 -8.2 0.3 -7.1 6z"/><path color="#008cff" d="M338.1 960.9l7.1 -5.9 -8.2 -0.1 -7.1 5.5z"/><path color="#006dff" d="M331 966.2l7.1 -5.3 -8.2 -0.5 -7.1 4.8z"/><path color="#0054ff" d="M323.9 970.6l7.1 -4.4 -8.2 -1 -7.1 4z"/><path color="#0040ff" d="M316.8 974.3l7.1 -3.7 -8.2 -1.4 -7 3.3z"/><path color="#0030ff" d="M309.8 977.4l7 -3.1 -8.1 -1.8 -7.1 2.7z"/><path color="#0024ff" d="M302.7 980l7.1 -2.6 -8.2 -2.2 -7.1 2.2z"/><path color="#001bff" d="M295.6 982.1l7.1 -2.1 -8.2 -2.6 -7.1 1.7z"/><path color="#0014ff" d="M288.5 983.9l7.1 -1.8 -8.2 -3 -7.1 1.3z"/><path color="#0010ff" d="M281.4 985.3l7.1 -1.4 -8.2 -3.5 -7.1 1z"/><path color="#000eff" d="M274.3 986.4l7.1 -1.1 -8.2 -3.9 -7.1 0.7z"/><path color="#000dff" d="M267.2 987.4l7.1 -1 -8.2 -4.3 -7.1 0.5z"/><path color="#000eff" d="M260.1 988.2l7.1 -0.8 -8.2 -4.8 -7.1 0.4z"/><path color="#000fff" d="M253 988.9l7.1 -0.7 -8.2 -5.2 -7.1 0.4z"/><path color="#0010ff" d="M245.9 989.5l7.1 -0.6 -8.2 -5.5 -7 0.3z"/><path color="#0011ff" d="M238.8 990.2l7.1 -0.7 -8.1 -5.8 -7.1 0.4z"/><path color="#0012ff" d="M231.8 991l7 -0.8 -8.1 -6.1 -7.1 0.5z"/><path color="#0011ff" d="M224.7 991.8l7.1 -0.8 -8.2 -6.4 -7.1 0.6z"/><path color="#0010ff" d="M217.6 992.9l7.1 -1.1 -8.2 -6.6 -7.1 0.9z"/><path color="#890000" d="M537.7 833.4l7.1 -1.7 -8.2 0.1 -7.1 1.8z"/><path color="#8f0000" d="M530.6 835l7.1 -1.6 -8.2 0.2 -7.1 1.8z"/><path color="#940000" d="M523.5 836.7l7.1 -1.7 -8.2 0.4 -7 1.9z"/><path color="#9a0000" d="M516.5 838.3l7 -1.6 -8.1 0.6 -7.1 2z"/><path color="#a10000" d="M509.4 840.1l7.1 -1.8 -8.2 1 -7.1 2.1z"/><path color="#a80000" d="M502.3 842l7.1 -1.9 -8.2 1.3 -7.1 2.2z"/><path color="#b00000" d="M495.2 844l7.1 -2 -8.2 1.6 -7.1 2.3z"/><path color="#ba0000" d="M488.1 846.2l7.1 -2.2 -8.2 1.9 -7.1 2.6z"/><path color="#c50000" d="M481 848.6l7.1 -2.4 -8.2 2.3 -7.1 2.7z"/><path color="#d20000" d="M473.9 851.3l7.1 -2.7 -8.2 2.6 -7.1 3z"/><path color="#e10000" d="M466.8 854.3l7.1 -3 -8.2 2.9 -7.1 3.2z"/><path color="#f20000" d="M459.7 857.5l7.1 -3.2 -8.2 3.1 -7 3.5z"/><path color="#ff0700" d="M452.6 861.2l7.1 -3.7 -8.1 3.4 -7.1 3.7z"/><path color="#ff1d00" d="M445.6 865.2l7 -4 -8.1 3.4 -7.1 4.1z"/><path color="#ff3700" d="M438.5 869.7l7.1 -4.5 -8.2 3.5 -7.1 4.5z"/><path color="#ff5500" d="M431.4 874.8l7.1 -5.1 -8.2 3.5 -7.1 5z"/><path color="#ff7800" d="M424.3 880.6l7.1 -5.8 -8.2 3.4 -7.1 5.7z"/><path color="#ffa000" d="M417.2 887.2l7.1 -6.6 -8.2 3.3 -7.1 6.4z"/><path color="#ffcc00" d="M410.1 894.2l7.1 -7 -8.2 3.1 -7.1 6.8z"/><path color="#fffb00" d="M403 901.7l7.1 -7.5 -8.2 2.9 -7.1 7.2z"/><path color="#d3ff2c" d="M395.9 909.5l7.1 -7.8 -8.2 2.6 -7.1 7.4z"/><path color="#a1ff5e" d="M388.8 917.4l7.1 -7.9 -8.2 2.2 -7.1 7.6z"/><path color="#6fff90" d="M381.7 925.4l7.1 -8 -8.2 1.9 -7 7.6z"/><path color="#3dffc2" d="M374.7 933.2l7 -7.8 -8.1 1.5 -7.1 7.5z"/><path color="#0dfff2" d="M367.6 940.9l7.1 -7.7 -8.2 1.2 -7.1 7.2z"/><path color="#00dfff" d="M360.5 948.2l7.1 -7.3 -8.2 0.7 -7.1 7z"/><path color="#00b4ff" d="M353.4 955.1l7.1 -6.9 -8.2 0.4 -7.1 6.4z"/><path color="#008eff" d="M346.3 961.4l7.1 -6.3 -8.2 -0.1 -7.1 5.9z"/><path color="#006cff" d="M339.2 967l7.1 -5.6 -8.2 -0.5 -7.1 5.3z"/><path color="#0051ff" d="M332.1 971.8l7.1 -4.8 -8.2 -0.8 -7.1 4.4z"/><path color="#003aff" d="M325 975.8l7.1 -4 -8.2 -1.2 -7.1 3.7z"/><path color="#0028ff" d="M317.9 979.3l7.1 -3.5 -8.2 -1.5 -7 3.1z"/><path color="#0019ff" d="M310.8 982.2l7.1 -2.9 -8.1 -1.9 -7.1 2.6z"/><path color="#000dff" d="M303.8 984.8l7 -2.6 -8.1 -2.2 -7.1 2.1z"/><path color="#0004ff" d="M296.7 986.9l7.1 -2.1 -8.2 -2.7 -7.1 1.8z"/><path color="#0000fc" d="M289.6 988.7l7.1 -1.8 -8.2 -3 -7.1 1.4z"/><path color="#0000f7" d="M282.5 990.3l7.1 -1.6 -8.2 -3.4 -7.1 1.1z"/><path color="#0000f4" d="M275.4 991.6l7.1 -1.3 -8.2 -3.9 -7.1 1z"/><path color="#0000f2" d="M268.3 992.7l7.1 -1.1 -8.2 -4.2 -7.1 0.8z"/><path color="#0000f0" d="M261.2 993.7l7.1 -1 -8.2 -4.5 -7.1 0.7z"/><path color="#0000ef" d="M254.1 994.7l7.1 -1 -8.2 -4.8 -7.1 0.6z"/><path color="#0000ef" d="M247 995.7l7.1 -1 -8.2 -5.2 -7.1 0.7z"/><path color="#0000ed" d="M239.9 996.7l7.1 -1 -8.2 -5.5 -7 0.8z"/><path color="#0000ec" d="M232.9 997.8l7 -1.1 -8.1 -5.7 -7.1 0.8z"/><path color="#0000e9" d="M225.8 999l7.1 -1.2 -8.2 -6 -7.1 1.1z"/><path color="#850000" d="M545.9 833.5l7.1 -1.5 -8.2 -0.3 -7.1 1.7z"/><path color="#890000" d="M538.8 835l7.1 -1.5 -8.2 -0.1 -7.1 1.6z"/><path color="#8d0000" d="M531.7 836.4l7.1 -1.4 -8.2 0 -7.1 1.7z"/><path color="#920000" d="M524.6 837.8l7.1 -1.4 -8.2 0.3 -7 1.6z"/><path color="#960000" d="M517.6 839.3l7 -1.5 -8.1 0.5 -7.1 1.8z"/><path color="#9c0000" d="M510.5 840.9l7.1 -1.6 -8.2 0.8 -7.1 1.9z"/><path color="#a20000" d="M503.4 842.7l7.1 -1.8 -8.2 1.1 -7.1 2z"/><path color="#aa0000" d="M496.3 844.6l7.1 -1.9 -8.2 1.3 -7.1 2.2z"/><path color="#b30000" d="M489.2 846.7l7.1 -2.1 -8.2 1.6 -7.1 2.4z"/><path color="#be0000" d="M482.1 849.2l7.1 -2.5 -8.2 1.9 -7.1 2.7z"/><path color="#cb0000" d="M475 851.9l7.1 -2.7 -8.2 2.1 -7.1 3z"/><path color="#db0000" d="M467.9 855l7.1 -3.1 -8.2 2.4 -7.1 3.2z"/><path color="#ee0000" d="M460.8 858.5l7.1 -3.5 -8.2 2.5 -7.1 3.7z"/><path color="#ff0500" d="M453.7 862.4l7.1 -3.9 -8.2 2.7 -7 4z"/><path color="#ff1e00" d="M446.7 866.9l7 -4.5 -8.1 2.8 -7.1 4.5z"/><path color="#ff3c00" d="M439.6 872l7.1 -5.1 -8.2 2.8 -7.1 5.1z"/><path color="#ff6100" d="M432.5 878l7.1 -6 -8.2 2.8 -7.1 5.8z"/><path color="#ff8a00" d="M425.4 884.7l7.1 -6.7 -8.2 2.6 -7.1 6.6z"/><path color="#ffb700" d="M418.3 892l7.1 -7.3 -8.2 2.5 -7.1 7z"/><path color="#ffe700" d="M411.2 899.7l7.1 -7.7 -8.2 2.2 -7.1 7.5z"/><path color="#e4ff1b" d="M404.1 907.7l7.1 -8 -8.2 2 -7.1 7.8z"/><path color="#b1ff4e" d="M397 915.9l7.1 -8.2 -8.2 1.8 -7.1 7.9z"/><path color="#7cff83" d="M389.9 924.2l7.1 -8.3 -8.2 1.5 -7.1 8z"/><path color="#49ffb6" d="M382.8 932.3l7.1 -8.1 -8.2 1.2 -7 7.8z"/><path color="#16ffe9" d="M375.8 940.3l7 -8 -8.1 0.9 -7.1 7.7z"/><path color="#00e5ff" d="M368.7 948l7.1 -7.7 -8.2 0.6 -7.1 7.3z"/><path color="#00b9ff" d="M361.6 955.2l7.1 -7.2 -8.2 0.2 -7.1 6.9z"/><path color="#0090ff" d="M354.5 961.8l7.1 -6.6 -8.2 -0.1 -7.1 6.3z"/><path color="#006dff" d="M347.4 967.7l7.1 -5.9 -8.2 -0.4 -7.1 5.6z"/><path color="#004fff" d="M340.3 972.7l7.1 -5 -8.2 -0.7 -7.1 4.8z"/><path color="#0037ff" d="M333.2 977l7.1 -4.3 -8.2 -0.9 -7.1 4z"/><path color="#0022ff" d="M326.1 980.8l7.1 -3.8 -8.2 -1.2 -7.1 3.5z"/><path color="#0011ff" d="M319 984.1l7.1 -3.3 -8.2 -1.5 -7.1 2.9z"/><path color="#0003ff" d="M311.9 986.9l7.1 -2.8 -8.2 -1.9 -7 2.6z"/><path color="#0000f6" d="M304.9 989.4l7 -2.5 -8.1 -2.1 -7.1 2.1z"/><path color="#0000ed" d="M297.8 991.6l7.1 -2.2 -8.2 -2.5 -7.1 1.8z"/><path color="#0000e6" d="M290.7 993.4l7.1 -1.8 -8.2 -2.9 -7.1 1.6z"/><path color="#0000e0" d="M283.6 995.1l7.1 -1.7 -8.2 -3.1 -7.1 1.3z"/><path color="#0000dc" d="M276.5 996.5l7.1 -1.4 -8.2 -3.5 -7.1 1.1z"/><path color="#0000d8" d="M269.4 997.9l7.1 -1.4 -8.2 -3.8 -7.1 1z"/><path color="#0000d5" d="M262.3 999.1l7.1 -1.2 -8.2 -4.2 -7.1 1z"/><path color="#0000d3" d="M255.2 1000.3l7.1 -1.2 -8.2 -4.4 -7.1 1z"/><path color="#0000d0" d="M248.1 1001.6l7.1 -1.3 -8.2 -4.6 -7.1 1z"/><path color="#0000cd" d="M241 1002.8l7.1 -1.2 -8.2 -4.9 -7 1.1z"/><path color="#0000c9" d="M234 1004.2l7 -1.4 -8.1 -5 -7.1 1.2z"/><path color="#840000" d="M554.1 834l7.1 -1.4 -8.2 -0.6 -7.1 1.5z"/><path color="#870000" d="M547 835.3l7.1 -1.3 -8.2 -0.5 -7.1 1.5z"/><path color="#8a0000" d="M539.9 836.6l7.1 -1.3 -8.2 -0.3 -7.1 1.4z"/><path color="#8d0000" d="M532.8 837.8l7.1 -1.2 -8.2 -0.2 -7.1 1.4z"/><path color="#900000" d="M525.7 839.1l7.1 -1.3 -8.2 0 -7 1.5z"/><path color="#940000" d="M518.6 840.5l7.1 -1.4 -8.1 0.2 -7.1 1.6z"/><path color="#980000" d="M511.6 842l7 -1.5 -8.1 0.4 -7.1 1.8z"/><path color="#9e0000" d="M504.5 843.7l7.1 -1.7 -8.2 0.7 -7.1 1.9z"/><path color="#a60000" d="M497.4 845.6l7.1 -1.9 -8.2 0.9 -7.1 2.1z"/><path color="#b00000" d="M490.3 847.9l7.1 -2.3 -8.2 1.1 -7.1 2.5z"/><path color="#bc0000" d="M483.2 850.4l7.1 -2.5 -8.2 1.3 -7.1 2.7z"/><path color="#cb0000" d="M476.1 853.4l7.1 -3 -8.2 1.5 -7.1 3.1z"/><path color="#dd0000" d="M469 856.7l7.1 -3.3 -8.2 1.6 -7.1 3.5z"/><path color="#f20000" d="M461.9 860.6l7.1 -3.9 -8.2 1.8 -7.1 3.9z"/><path color="#ff0c00" d="M454.8 865l7.1 -4.4 -8.2 1.8 -7 4.5z"/><path color="#ff2a00" d="M447.7 870.2l7.1 -5.2 -8.1 1.9 -7.1 5.1z"/><path color="#ff4f00" d="M440.7 876.2l7 -6 -8.1 1.8 -7.1 6z"/><path color="#ff7900" d="M433.6 883l7.1 -6.8 -8.2 1.8 -7.1 6.7z"/><path color="#ffa700" d="M426.5 890.4l7.1 -7.4 -8.2 1.7 -7.1 7.3z"/><path color="#ffd800" d="M419.4 898.2l7.1 -7.8 -8.2 1.6 -7.1 7.7z"/><path color="#f2ff0d" d="M412.3 906.4l7.1 -8.2 -8.2 1.5 -7.1 8z"/><path color="#bdff42" d="M405.2 914.8l7.1 -8.4 -8.2 1.3 -7.1 8.2z"/><path color="#87ff78" d="M398.1 923.3l7.1 -8.5 -8.2 1.1 -7.1 8.3z"/><path color="#52ffad" d="M391 931.7l7.1 -8.4 -8.2 0.9 -7.1 8.1z"/><path color="#1effe1" d="M383.9 939.9l7.1 -8.2 -8.2 0.6 -7 8z"/><path color="#00ecff" d="M376.8 947.8l7.1 -7.9 -8.1 0.4 -7.1 7.7z"/><path color="#00bdff" d="M369.8 955.2l7 -7.4 -8.1 0.2 -7.1 7.2z"/><path color="#0093ff" d="M362.7 962.1l7.1 -6.9 -8.2 0 -7.1 6.6z"/><path color="#006eff" d="M355.6 968.2l7.1 -6.1 -8.2 -0.3 -7.1 5.9z"/><path color="#004fff" d="M348.5 973.4l7.1 -5.2 -8.2 -0.5 -7.1 5z"/><path color="#0035ff" d="M341.4 977.9l7.1 -4.5 -8.2 -0.7 -7.1 4.3z"/><path color="#001fff" d="M334.3 981.9l7.1 -4 -8.2 -0.9 -7.1 3.8z"/><path color="#000cff" d="M327.2 985.5l7.1 -3.6 -8.2 -1.1 -7.1 3.3z"/><path color="#0000fb" d="M320.1 988.6l7.1 -3.1 -8.2 -1.4 -7.1 2.8z"/><path color="#0000ee" d="M313 991.3l7.1 -2.7 -8.2 -1.7 -7 2.5z"/><path color="#0000e2" d="M305.9 993.8l7.1 -2.5 -8.1 -1.9 -7.1 2.2z"/><path color="#0000d9" d="M298.9 995.9l7 -2.1 -8.1 -2.2 -7.1 1.8z"/><path color="#0000d2" d="M291.8 997.8l7.1 -1.9 -8.2 -2.5 -7.1 1.7z"/><path color="#0000cb" d="M284.7 999.6l7.1 -1.8 -8.2 -2.7 -7.1 1.4z"/><path color="#0000c6" d="M277.6 1001.1l7.1 -1.5 -8.2 -3.1 -7.1 1.4z"/><path color="#0000c2" d="M270.5 1002.6l7.1 -1.5 -8.2 -3.2 -7.1 1.2z"/><path color="#0000be" d="M263.4 1004l7.1 -1.4 -8.2 -3.5 -7.1 1.2z"/><path color="#0000ba" d="M256.3 1005.5l7.1 -1.5 -8.2 -3.7 -7.1 1.3z"/><path color="#0000b5" d="M249.2 1006.9l7.1 -1.4 -8.2 -3.9 -7.1 1.2z"/><path color="#0000b0" d="M242.1 1008.4l7.1 -1.5 -8.2 -4.1 -7 1.4z"/><path color="#860000" d="M562.3 835l7.1 -1.4 -8.2 -1 -7.1 1.4z"/><path color="#880000" d="M555.2 836.2l7.1 -1.2 -8.2 -1 -7.1 1.3z"/><path color="#8a0000" d="M548.1 837.3l7.1 -1.1 -8.2 -0.9 -7.1 1.3z"/><path color="#8c0000" d="M541 838.5l7.1 -1.2 -8.2 -0.7 -7.1 1.2z"/><path color="#8e0000" d="M533.9 839.6l7.1 -1.1 -8.2 -0.7 -7.1 1.3z"/><path color="#910000" d="M526.8 840.8l7.1 -1.2 -8.2 -0.5 -7.1 1.4z"/><path color="#940000" d="M519.7 842.1l7.1 -1.3 -8.2 -0.3 -7 1.5z"/><path color="#990000" d="M512.7 843.7l7 -1.6 -8.1 -0.1 -7.1 1.7z"/><path color="#a00000" d="M505.6 845.4l7.1 -1.7 -8.2 0 -7.1 1.9z"/><path color="#a80000" d="M498.5 847.5l7.1 -2.1 -8.2 0.2 -7.1 2.3z"/><path color="#b40000" d="M491.4 849.9l7.1 -2.4 -8.2 0.4 -7.1 2.5z"/><path color="#c20000" d="M484.3 852.8l7.1 -2.9 -8.2 0.5 -7.1 3z"/><path color="#d30000" d="M477.2 856.1l7.1 -3.3 -8.2 0.6 -7.1 3.3z"/><path color="#e80000" d="M470.1 859.9l7.1 -3.8 -8.2 0.6 -7.1 3.9z"/><path color="#ff0100" d="M463 864.2l7.1 -4.3 -8.2 0.7 -7.1 4.4z"/><path color="#ff2000" d="M455.9 869.4l7.1 -5.2 -8.2 0.8 -7.1 5.2z"/><path color="#ff4400" d="M448.8 875.4l7.1 -6 -8.2 0.8 -7 6z"/><path color="#ff6e00" d="M441.8 882.2l7 -6.8 -8.1 0.8 -7.1 6.8z"/><path color="#ff9d00" d="M434.7 889.7l7.1 -7.5 -8.2 0.8 -7.1 7.4z"/><path color="#ffce00" d="M427.6 897.6l7.1 -7.9 -8.2 0.7 -7.1 7.8z"/><path color="#fbff04" d="M420.5 905.8l7.1 -8.2 -8.2 0.6 -7.1 8.2z"/><path color="#c6ff39" d="M413.4 914.3l7.1 -8.5 -8.2 0.6 -7.1 8.4z"/><path color="#8fff70" d="M406.3 922.9l7.1 -8.6 -8.2 0.5 -7.1 8.5z"/><path color="#5affa5" d="M399.2 931.4l7.1 -8.5 -8.2 0.4 -7.1 8.4z"/><path color="#25ffda" d="M392.1 939.7l7.1 -8.3 -8.2 0.3 -7.1 8.2z"/><path color="#00f2ff" d="M385 947.7l7.1 -8 -8.2 0.2 -7.1 7.9z"/><path color="#00c2ff" d="M377.9 955.2l7.1 -7.5 -8.2 0.1 -7 7.4z"/><path color="#0097ff" d="M370.9 962.2l7 -7 -8.1 0 -7.1 6.9z"/><path color="#0071ff" d="M363.8 968.4l7.1 -6.2 -8.2 -0.1 -7.1 6.1z"/><path color="#0052ff" d="M356.7 973.8l7.1 -5.4 -8.2 -0.2 -7.1 5.2z"/><path color="#0037ff" d="M349.6 978.4l7.1 -4.6 -8.2 -0.4 -7.1 4.5z"/><path color="#001fff" d="M342.5 982.6l7.1 -4.2 -8.2 -0.5 -7.1 4z"/><path color="#000bff" d="M335.4 986.3l7.1 -3.7 -8.2 -0.7 -7.1 3.6z"/><path color="#0000f9" d="M328.3 989.6l7.1 -3.3 -8.2 -0.8 -7.1 3.1z"/><path color="#0000ea" d="M321.2 992.6l7.1 -3 -8.2 -1 -7.1 2.7z"/><path color="#0000dd" d="M314.1 995.2l7.1 -2.6 -8.2 -1.3 -7.1 2.5z"/><path color="#0000d3" d="M307 997.6l7.1 -2.4 -8.2 -1.4 -7 2.1z"/><path color="#0000ca" d="M300 999.7l7 -2.1 -8.1 -1.7 -7.1 1.9z"/><path color="#0000c2" d="M292.9 1001.6l7.1 -1.9 -8.2 -1.9 -7.1 1.8z"/><path color="#0000bb" d="M285.8 1003.4l7.1 -1.8 -8.2 -2 -7.1 1.5z"/><path color="#0000b6" d="M278.7 1005.1l7.1 -1.7 -8.2 -2.3 -7.1 1.5z"/><path color="#0000b0" d="M271.6 1006.6l7.1 -1.5 -8.2 -2.5 -7.1 1.4z"/><path color="#0000ab" d="M264.5 1008.2l7.1 -1.6 -8.2 -2.6 -7.1 1.5z"/><path color="#0000a6" d="M257.4 1009.8l7.1 -1.6 -8.2 -2.7 -7.1 1.4z"/><path color="#0000a1" d="M250.3 1011.4l7.1 -1.6 -8.2 -2.9 -7.1 1.5z"/><path color="#8b0000" d="M570.5 836.5l7.1 -1.3 -8.2 -1.6 -7.1 1.4z"/><path color="#8d0000" d="M563.4 837.6l7.1 -1.1 -8.2 -1.5 -7.1 1.2z"/><path color="#8f0000" d="M556.3 838.7l7.1 -1.1 -8.2 -1.4 -7.1 1.1z"/><path color="#900000" d="M549.2 839.7l7.1 -1 -8.2 -1.4 -7.1 1.2z"/><path color="#920000" d="M542.1 840.8l7.1 -1.1 -8.2 -1.2 -7.1 1.1z"/><path color="#930000" d="M535 841.9l7.1 -1.1 -8.2 -1.2 -7.1 1.2z"/><path color="#960000" d="M527.9 843.1l7.1 -1.2 -8.2 -1.1 -7.1 1.3z"/><path color="#9b0000" d="M520.8 844.6l7.1 -1.5 -8.2 -1 -7 1.6z"/><path color="#a00000" d="M513.8 846.3l7 -1.7 -8.1 -0.9 -7.1 1.7z"/><path color="#a80000" d="M506.7 848.2l7.1 -1.9 -8.2 -0.9 -7.1 2.1z"/><path color="#b30000" d="M499.6 850.6l7.1 -2.4 -8.2 -0.7 -7.1 2.4z"/><path color="#c00000" d="M492.5 853.3l7.1 -2.7 -8.2 -0.7 -7.1 2.9z"/><path color="#d10000" d="M485.4 856.5l7.1 -3.2 -8.2 -0.5 -7.1 3.3z"/><path color="#e50000" d="M478.3 860.3l7.1 -3.8 -8.2 -0.4 -7.1 3.8z"/><path color="#fe0000" d="M471.2 864.6l7.1 -4.3 -8.2 -0.4 -7.1 4.3z"/><path color="#ff1d00" d="M464.1 869.7l7.1 -5.1 -8.2 -0.4 -7.1 5.2z"/><path color="#ff4100" d="M457 875.7l7.1 -6 -8.2 -0.3 -7.1 6z"/><path color="#ff6b00" d="M449.9 882.4l7.1 -6.7 -8.2 -0.3 -7 6.8z"/><path color="#ff9900" d="M442.9 889.8l7 -7.4 -8.1 -0.2 -7.1 7.5z"/><path color="#ffca00" d="M435.8 897.7l7.1 -7.9 -8.2 -0.1 -7.1 7.9z"/><path color="#fffe00" d="M428.7 905.9l7.1 -8.2 -8.2 -0.1 -7.1 8.2z"/><path color="#cbff34" d="M421.6 914.3l7.1 -8.4 -8.2 -0.1 -7.1 8.5z"/><path color="#94ff6b" d="M414.5 922.9l7.1 -8.6 -8.2 0 -7.1 8.6z"/><path color="#5fffa0" d="M407.4 931.3l7.1 -8.4 -8.2 0 -7.1 8.5z"/><path color="#2affd5" d="M400.3 939.6l7.1 -8.3 -8.2 0.1 -7.1 8.3z"/><path color="#00f7ff" d="M393.2 947.6l7.1 -8 -8.2 0.1 -7.1 8z"/><path color="#00c8ff" d="M386.1 955.2l7.1 -7.6 -8.2 0.1 -7.1 7.5z"/><path color="#009dff" d="M379 962.2l7.1 -7 -8.2 0 -7 7z"/><path color="#0076ff" d="M372 968.4l7 -6.2 -8.1 0 -7.1 6.2z"/><path color="#0056ff" d="M364.9 973.8l7.1 -5.4 -8.2 0 -7.1 5.4z"/><path color="#003bff" d="M357.8 978.5l7.1 -4.7 -8.2 0 -7.1 4.6z"/><path color="#0023ff" d="M350.7 982.8l7.1 -4.3 -8.2 -0.1 -7.1 4.2z"/><path color="#000eff" d="M343.6 986.6l7.1 -3.8 -8.2 -0.2 -7.1 3.7z"/><path color="#0000fb" d="M336.5 990l7.1 -3.4 -8.2 -0.3 -7.1 3.3z"/><path color="#0000eb" d="M329.4 993.1l7.1 -3.1 -8.2 -0.4 -7.1 3z"/><path color="#0000de" d="M322.3 995.9l7.1 -2.8 -8.2 -0.5 -7.1 2.6z"/><path color="#0000d2" d="M315.2 998.3l7.1 -2.4 -8.2 -0.7 -7.1 2.4z"/><path color="#0000c8" d="M308.1 1000.6l7.1 -2.3 -8.2 -0.7 -7 2.1z"/><path color="#0000c0" d="M301 1002.7l7.1 -2.1 -8.1 -0.9 -7.1 1.9z"/><path color="#0000b8" d="M294 1004.6l7 -1.9 -8.1 -1.1 -7.1 1.8z"/><path color="#0000b2" d="M286.9 1006.4l7.1 -1.8 -8.2 -1.2 -7.1 1.7z"/><path color="#0000ab" d="M279.8 1008.1l7.1 -1.7 -8.2 -1.3 -7.1 1.5z"/><path color="#0000a6" d="M272.7 1009.7l7.1 -1.6 -8.2 -1.5 -7.1 1.6z"/><path color="#0000a0" d="M265.6 1011.4l7.1 -1.7 -8.2 -1.5 -7.1 1.6z"/><path color="#00009a" d="M258.5 1013.1l7.1 -1.7 -8.2 -1.6 -7.1 1.6z"/><path color="#940000" d="M578.7 838.5l7 -1.3 -8.1 -2 -7.1 1.3z"/><path color="#960000" d="M571.6 839.6l7.1 -1.1 -8.2 -2 -7.1 1.1z"/><path color="#970000" d="M564.5 840.6l7.1 -1 -8.2 -2 -7.1 1.1z"/><path color="#980000" d="M557.4 841.6l7.1 -1 -8.2 -1.9 -7.1 1z"/><path color="#9a0000" d="M550.3 842.6l7.1 -1 -8.2 -1.9 -7.1 1.1z"/><path color="#9b0000" d="M543.2 843.7l7.1 -1.1 -8.2 -1.8 -7.1 1.1z"/><path color="#9e0000" d="M536.1 844.9l7.1 -1.2 -8.2 -1.8 -7.1 1.2z"/><path color="#a20000" d="M529 846.3l7.1 -1.4 -8.2 -1.8 -7.1 1.5z"/><path color="#a80000" d="M521.9 848l7.1 -1.7 -8.2 -1.7 -7 1.7z"/><path color="#af0000" d="M514.8 849.9l7.1 -1.9 -8.1 -1.7 -7.1 1.9z"/><path color="#b90000" d="M507.8 852.2l7 -2.3 -8.1 -1.7 -7.1 2.4z"/><path color="#c60000" d="M500.7 854.9l7.1 -2.7 -8.2 -1.6 -7.1 2.7z"/><path color="#d70000" d="M493.6 858l7.1 -3.1 -8.2 -1.6 -7.1 3.2z"/><path color="#eb0000" d="M486.5 861.7l7.1 -3.7 -8.2 -1.5 -7.1 3.8z"/><path color="#ff0300" d="M479.4 865.9l7.1 -4.2 -8.2 -1.4 -7.1 4.3z"/><path color="#ff2100" d="M472.3 871l7.1 -5.1 -8.2 -1.3 -7.1 5.1z"/><path color="#ff4400" d="M465.2 876.9l7.1 -5.9 -8.2 -1.3 -7.1 6z"/><path color="#ff6d00" d="M458.1 883.5l7.1 -6.6 -8.2 -1.2 -7.1 6.7z"/><path color="#ff9a00" d="M451 890.8l7.1 -7.3 -8.2 -1.1 -7 7.4z"/><path color="#ffcb00" d="M443.9 898.5l7.1 -7.7 -8.1 -1 -7.1 7.9z"/><path color="#fffe00" d="M436.9 906.6l7 -8.1 -8.1 -0.8 -7.1 8.2z"/><path color="#ccff33" d="M429.8 914.9l7.1 -8.3 -8.2 -0.7 -7.1 8.4z"/><path color="#97ff68" d="M422.7 923.3l7.1 -8.4 -8.2 -0.6 -7.1 8.6z"/><path color="#62ff9d" d="M415.6 931.6l7.1 -8.3 -8.2 -0.4 -7.1 8.4z"/><path color="#2effd1" d="M408.5 939.8l7.1 -8.2 -8.2 -0.3 -7.1 8.3z"/><path color="#00fcff" d="M401.4 947.7l7.1 -7.9 -8.2 -0.2 -7.1 8z"/><path color="#00cdff" d="M394.3 955.1l7.1 -7.4 -8.2 -0.1 -7.1 7.6z"/><path color="#00a3ff" d="M387.2 962l7.1 -6.9 -8.2 0.1 -7.1 7z"/><path color="#007dff" d="M380.1 968.2l7.1 -6.2 -8.2 0.2 -7 6.2z"/><path color="#005dff" d="M373 973.6l7.1 -5.4 -8.1 0.2 -7.1 5.4z"/><path color="#0042ff" d="M366 978.3l7 -4.7 -8.1 0.2 -7.1 4.7z"/><path color="#002aff" d="M358.9 982.5l7.1 -4.2 -8.2 0.2 -7.1 4.3z"/><path color="#0015ff" d="M351.8 986.3l7.1 -3.8 -8.2 0.3 -7.1 3.8z"/><path color="#0003ff" d="M344.7 989.8l7.1 -3.5 -8.2 0.3 -7.1 3.4z"/><path color="#0000f2" d="M337.6 992.9l7.1 -3.1 -8.2 0.2 -7.1 3.1z"/><path color="#0000e4" d="M330.5 995.8l7.1 -2.9 -8.2 0.2 -7.1 2.8z"/><path color="#0000d7" d="M323.4 998.3l7.1 -2.5 -8.2 0.1 -7.1 2.4z"/><path color="#0000cd" d="M316.3 1000.6l7.1 -2.3 -8.2 0 -7.1 2.3z"/><path color="#0000c4" d="M309.2 1002.8l7.1 -2.2 -8.2 0 -7.1 2.1z"/><path color="#0000bc" d="M302.1 1004.8l7.1 -2 -8.2 -0.1 -7 1.9z"/><path color="#0000b5" d="M295.1 1006.6l7 -1.8 -8.1 -0.2 -7.1 1.8z"/><path color="#0000ae" d="M288 1008.4l7.1 -1.8 -8.2 -0.2 -7.1 1.7z"/><path color="#0000a8" d="M280.9 1010.1l7.1 -1.7 -8.2 -0.3 -7.1 1.6z"/><path color="#0000a2" d="M273.8 1011.8l7.1 -1.7 -8.2 -0.4 -7.1 1.7z"/><path color="#00009b" d="M266.7 1013.6l7.1 -1.8 -8.2 -0.4 -7.1 1.7z"/><path color="#a00000" d="M586.8 840.9l7.1 -1.3 -8.2 -2.4 -7 1.3z"/><path color="#a20000" d="M579.8 842l7 -1.1 -8.1 -2.4 -7.1 1.1z"/><path color="#a30000" d="M572.7 843l7.1 -1 -8.2 -2.4 -7.1 1z"/><path color="#a50000" d="M565.6 844.1l7.1 -1.1 -8.2 -2.4 -7.1 1z"/><path color="#a60000" d="M558.5 845.1l7.1 -1 -8.2 -2.5 -7.1 1z"/><path color="#a80000" d="M551.4 846.2l7.1 -1.1 -8.2 -2.5 -7.1 1.1z"/><path color="#ab0000" d="M544.3 847.4l7.1 -1.2 -8.2 -2.5 -7.1 1.2z"/><path color="#af0000" d="M537.2 848.8l7.1 -1.4 -8.2 -2.5 -7.1 1.4z"/><path color="#b40000" d="M530.1 850.5l7.1 -1.7 -8.2 -2.5 -7.1 1.7z"/><path color="#bc0000" d="M523 852.4l7.1 -1.9 -8.2 -2.5 -7.1 1.9z"/><path color="#c60000" d="M515.9 854.7l7.1 -2.3 -8.2 -2.5 -7 2.3z"/><path color="#d30000" d="M508.9 857.3l7 -2.6 -8.1 -2.5 -7.1 2.7z"/><path color="#e30000" d="M501.8 860.4l7.1 -3.1 -8.2 -2.4 -7.1 3.1z"/><path color="#f60000" d="M494.7 864l7.1 -3.6 -8.2 -2.4 -7.1 3.7z"/><path color="#ff0e00" d="M487.6 868.2l7.1 -4.2 -8.2 -2.3 -7.1 4.2z"/><path color="#ff2b00" d="M480.5 873.1l7.1 -4.9 -8.2 -2.3 -7.1 5.1z"/><path color="#ff4d00" d="M473.4 878.9l7.1 -5.8 -8.2 -2.1 -7.1 5.9z"/><path color="#ff7500" d="M466.3 885.3l7.1 -6.4 -8.2 -2 -7.1 6.6z"/><path color="#ffa100" d="M459.2 892.4l7.1 -7.1 -8.2 -1.8 -7.1 7.3z"/><path color="#ffd000" d="M452.1 899.9l7.1 -7.5 -8.2 -1.6 -7.1 7.7z"/><path color="#fdff02" d="M445 907.8l7.1 -7.9 -8.2 -1.4 -7 8.1z"/><path color="#caff35" d="M438 915.8l7 -8 -8.1 -1.2 -7.1 8.3z"/><path color="#97ff68" d="M430.9 924l7.1 -8.2 -8.2 -0.9 -7.1 8.4z"/><path color="#63ff9c" d="M423.8 932.1l7.1 -8.1 -8.2 -0.7 -7.1 8.3z"/><path color="#31ffce" d="M416.7 940.1l7.1 -8 -8.2 -0.5 -7.1 8.2z"/><path color="#01fffe" d="M409.6 947.7l7.1 -7.6 -8.2 -0.3 -7.1 7.9z"/><path color="#00d3ff" d="M402.5 955l7.1 -7.3 -8.2 0 -7.1 7.4z"/><path color="#00aaff" d="M395.4 961.7l7.1 -6.7 -8.2 0.1 -7.1 6.9z"/><path color="#0085ff" d="M388.3 967.8l7.1 -6.1 -8.2 0.3 -7.1 6.2z"/><path color="#0066ff" d="M381.2 973l7.1 -5.2 -8.2 0.4 -7.1 5.4z"/><path color="#004bff" d="M374.1 977.6l7.1 -4.6 -8.2 0.6 -7 4.7z"/><path color="#0034ff" d="M367.1 981.8l7 -4.2 -8.1 0.7 -7.1 4.2z"/><path color="#001fff" d="M360 985.6l7.1 -3.8 -8.2 0.7 -7.1 3.8z"/><path color="#000dff" d="M352.9 989.1l7.1 -3.5 -8.2 0.7 -7.1 3.5z"/><path color="#0000fc" d="M345.8 992.2l7.1 -3.1 -8.2 0.7 -7.1 3.1z"/><path color="#0000ee" d="M338.7 995l7.1 -2.8 -8.2 0.7 -7.1 2.9z"/><path color="#0000e2" d="M331.6 997.6l7.1 -2.6 -8.2 0.8 -7.1 2.5z"/><path color="#0000d7" d="M324.5 1000l7.1 -2.4 -8.2 0.7 -7.1 2.3z"/><path color="#0000ce" d="M317.4 1002.1l7.1 -2.1 -8.2 0.6 -7.1 2.2z"/><path color="#0000c5" d="M310.3 1004.1l7.1 -2 -8.2 0.7 -7.1 2z"/><path color="#0000be" d="M303.2 1006l7.1 -1.9 -8.2 0.7 -7 1.8z"/><path color="#0000b7" d="M296.2 1007.8l7 -1.8 -8.1 0.6 -7.1 1.8z"/><path color="#0000b1" d="M289.1 1009.6l7.1 -1.8 -8.2 0.6 -7.1 1.7z"/><path color="#0000aa" d="M282 1011.3l7.1 -1.7 -8.2 0.5 -7.1 1.7z"/><path color="#0000a4" d="M274.9 1013l7.1 -1.7 -8.2 0.5 -7.1 1.8z"/><path color="#ae0000" d="M595 843.6l7.1 -1.3 -8.2 -2.7 -7.1 1.3z"/><path color="#b00000" d="M587.9 844.8l7.1 -1.2 -8.2 -2.7 -7 1.1z"/><path color="#b20000" d="M580.8 845.9l7.1 -1.1 -8.1 -2.8 -7.1 1z"/><path color="#b40000" d="M573.8 846.9l7 -1 -8.1 -2.9 -7.1 1.1z"/><path color="#b60000" d="M566.7 848l7.1 -1.1 -8.2 -2.8 -7.1 1z"/><path color="#b80000" d="M559.6 849.2l7.1 -1.2 -8.2 -2.9 -7.1 1.1z"/><path color="#bb0000" d="M552.5 850.5l7.1 -1.3 -8.2 -3 -7.1 1.2z"/><path color="#bf0000" d="M545.4 852l7.1 -1.5 -8.2 -3.1 -7.1 1.4z"/><path color="#c50000" d="M538.3 853.7l7.1 -1.7 -8.2 -3.2 -7.1 1.7z"/><path color="#cd0000" d="M531.2 855.6l7.1 -1.9 -8.2 -3.2 -7.1 1.9z"/><path color="#d70000" d="M524.1 857.9l7.1 -2.3 -8.2 -3.2 -7.1 2.3z"/><path color="#e40000" d="M517 860.5l7.1 -2.6 -8.2 -3.2 -7 2.6z"/><path color="#f40000" d="M509.9 863.6l7.1 -3.1 -8.1 -3.2 -7.1 3.1z"/><path color="#ff0800" d="M502.9 867.1l7 -3.5 -8.1 -3.2 -7.1 3.6z"/><path color="#ff1e00" d="M495.8 871.2l7.1 -4.1 -8.2 -3.1 -7.1 4.2z"/><path color="#ff3a00" d="M488.7 876l7.1 -4.8 -8.2 -3 -7.1 4.9z"/><path color="#ff5b00" d="M481.6 881.5l7.1 -5.5 -8.2 -2.9 -7.1 5.8z"/><path color="#ff8100" d="M474.5 887.8l7.1 -6.3 -8.2 -2.6 -7.1 6.4z"/><path color="#ffab00" d="M467.4 894.6l7.1 -6.8 -8.2 -2.5 -7.1 7.1z"/><path color="#ffd800" d="M460.3 901.8l7.1 -7.2 -8.2 -2.2 -7.1 7.5z"/><path color="#f6ff09" d="M453.2 909.4l7.1 -7.6 -8.2 -1.9 -7.1 7.9z"/><path color="#c6ff39" d="M446.1 917.1l7.1 -7.7 -8.2 -1.6 -7 8z"/><path color="#94ff6b" d="M439 925l7.1 -7.9 -8.1 -1.3 -7.1 8.2z"/><path color="#63ff9c" d="M432 932.8l7 -7.8 -8.1 -1 -7.1 8.1z"/><path color="#33ffcc" d="M424.9 940.5l7.1 -7.7 -8.2 -0.7 -7.1 8z"/><path color="#05fffa" d="M417.8 947.8l7.1 -7.3 -8.2 -0.4 -7.1 7.6z"/><path color="#00d9ff" d="M410.7 954.8l7.1 -7 -8.2 -0.1 -7.1 7.3z"/><path color="#00b2ff" d="M403.6 961.3l7.1 -6.5 -8.2 0.2 -7.1 6.7z"/><path color="#008eff" d="M396.5 967.2l7.1 -5.9 -8.2 0.4 -7.1 6.1z"/><path color="#0070ff" d="M389.4 972.3l7.1 -5.1 -8.2 0.6 -7.1 5.2z"/><path color="#0057ff" d="M382.3 976.7l7.1 -4.4 -8.2 0.7 -7.1 4.6z"/><path color="#0040ff" d="M375.2 980.8l7.1 -4.1 -8.2 0.9 -7 4.2z"/><path color="#002cff" d="M368.1 984.5l7.1 -3.7 -8.1 1 -7.1 3.8z"/><path color="#001aff" d="M361.1 987.9l7 -3.4 -8.1 1.1 -7.1 3.5z"/><path color="#000aff" d="M354 991l7.1 -3.1 -8.2 1.2 -7.1 3.1z"/><path color="#0000fc" d="M346.9 993.7l7.1 -2.7 -8.2 1.2 -7.1 2.8z"/><path color="#0000f0" d="M339.8 996.3l7.1 -2.6 -8.2 1.3 -7.1 2.6z"/><path color="#0000e5" d="M332.7 998.6l7.1 -2.3 -8.2 1.3 -7.1 2.4z"/><path color="#0000dc" d="M325.6 1000.8l7.1 -2.2 -8.2 1.4 -7.1 2.1z"/><path color="#0000d4" d="M318.5 1002.8l7.1 -2 -8.2 1.3 -7.1 2z"/><path color="#0000cc" d="M311.4 1004.7l7.1 -1.9 -8.2 1.3 -7.1 1.9z"/><path color="#0000c6" d="M304.3 1006.5l7.1 -1.8 -8.2 1.3 -7 1.8z"/><path color="#0000bf" d="M297.2 1008.2l7.1 -1.7 -8.1 1.3 -7.1 1.8z"/><path color="#0000b9" d="M290.2 1009.9l7 -1.7 -8.1 1.4 -7.1 1.7z"/><path color="#0000b3" d="M283.1 1011.7l7.1 -1.8 -8.2 1.4 -7.1 1.7z"/><path color="#be0000" d="M603.2 846.6l7.1 -1.3 -8.2 -3 -7.1 1.3z"/><path color="#c10000" d="M596.1 847.9l7.1 -1.3 -8.2 -3 -7.1 1.2z"/><path color="#c30000" d="M589 849l7.1 -1.1 -8.2 -3.1 -7.1 1.1z"/><path color="#c60000" d="M581.9 850.2l7.1 -1.2 -8.2 -3.1 -7 1z"/><path color="#c80000" d="M574.9 851.4l7 -1.2 -8.1 -3.3 -7.1 1.1z"/><path color="#cb0000" d="M567.8 852.7l7.1 -1.3 -8.2 -3.4 -7.1 1.2z"/><path color="#cf0000" d="M560.7 854l7.1 -1.3 -8.2 -3.5 -7.1 1.3z"/><path color="#d40000" d="M553.6 855.6l7.1 -1.6 -8.2 -3.5 -7.1 1.5z"/><path color="#da0000" d="M546.5 857.3l7.1 -1.7 -8.2 -3.6 -7.1 1.7z"/><path color="#e30000" d="M539.4 859.4l7.1 -2.1 -8.2 -3.6 -7.1 1.9z"/><path color="#ed0000" d="M532.3 861.7l7.1 -2.3 -8.2 -3.8 -7.1 2.3z"/><path color="#fa0000" d="M525.2 864.3l7.1 -2.6 -8.2 -3.8 -7.1 2.6z"/><path color="#ff0a00" d="M518.1 867.4l7.1 -3.1 -8.2 -3.8 -7.1 3.1z"/><path color="#ff1d00" d="M511 870.8l7.1 -3.4 -8.2 -3.8 -7 3.5z"/><path color="#ff3300" d="M504 874.8l7 -4 -8.1 -3.7 -7.1 4.1z"/><path color="#ff4d00" d="M496.9 879.4l7.1 -4.6 -8.2 -3.6 -7.1 4.8z"/><path color="#ff6d00" d="M489.8 884.7l7.1 -5.3 -8.2 -3.4 -7.1 5.5z"/><path color="#ff9100" d="M482.7 890.7l7.1 -6 -8.2 -3.2 -7.1 6.3z"/><path color="#ffb900" d="M475.6 897.2l7.1 -6.5 -8.2 -2.9 -7.1 6.8z"/><path color="#ffe400" d="M468.5 904.1l7.1 -6.9 -8.2 -2.6 -7.1 7.2z"/><path color="#eeff11" d="M461.4 911.4l7.1 -7.3 -8.2 -2.3 -7.1 7.6z"/><path color="#bfff40" d="M454.3 918.8l7.1 -7.4 -8.2 -2 -7.1 7.7z"/><path color="#91ff6e" d="M447.2 926.2l7.1 -7.4 -8.2 -1.7 -7.1 7.9z"/><path color="#62ff9d" d="M440.1 933.7l7.1 -7.5 -8.2 -1.2 -7 7.8z"/><path color="#35ffca" d="M433.1 941l7 -7.3 -8.1 -0.9 -7.1 7.7z"/><path color="#0afff5" d="M426 948l7.1 -7 -8.2 -0.5 -7.1 7.3z"/><path color="#00e0ff" d="M418.9 954.6l7.1 -6.6 -8.2 -0.2 -7.1 7z"/><path color="#00baff" d="M411.8 960.8l7.1 -6.2 -8.2 0.2 -7.1 6.5z"/><path color="#0099ff" d="M404.7 966.4l7.1 -5.6 -8.2 0.5 -7.1 5.9z"/><path color="#007cff" d="M397.6 971.3l7.1 -4.9 -8.2 0.8 -7.1 5.1z"/><path color="#0064ff" d="M390.5 975.6l7.1 -4.3 -8.2 1 -7.1 4.4z"/><path color="#004eff" d="M383.4 979.5l7.1 -3.9 -8.2 1.1 -7.1 4.1z"/><path color="#003bff" d="M376.3 983.1l7.1 -3.6 -8.2 1.3 -7.1 3.7z"/><path color="#002aff" d="M369.2 986.3l7.1 -3.2 -8.2 1.4 -7 3.4z"/><path color="#001bff" d="M362.2 989.3l7 -3 -8.1 1.6 -7.1 3.1z"/><path color="#000eff" d="M355.1 992l7.1 -2.7 -8.2 1.7 -7.1 2.7z"/><path color="#0002ff" d="M348 994.5l7.1 -2.5 -8.2 1.7 -7.1 2.6z"/><path color="#0000f7" d="M340.9 996.8l7.1 -2.3 -8.2 1.8 -7.1 2.3z"/><path color="#0000ee" d="M333.8 998.9l7.1 -2.1 -8.2 1.8 -7.1 2.2z"/><path color="#0000e6" d="M326.7 1000.9l7.1 -2 -8.2 1.9 -7.1 2z"/><path color="#0000df" d="M319.6 1002.7l7.1 -1.8 -8.2 1.9 -7.1 1.9z"/><path color="#0000d8" d="M312.5 1004.5l7.1 -1.8 -8.2 2 -7.1 1.8z"/><path color="#0000d2" d="M305.4 1006.2l7.1 -1.7 -8.2 2 -7.1 1.7z"/><path color="#0000cc" d="M298.3 1007.9l7.1 -1.7 -8.2 2 -7 1.7z"/><path color="#0000c6" d="M291.3 1009.6l7 -1.7 -8.1 2 -7.1 1.8z"/><path color="#d00000" d="M611.4 849.9l7.1 -1.4 -8.2 -3.2 -7.1 1.3z"/><path color="#d30000" d="M604.3 851.2l7.1 -1.3 -8.2 -3.3 -7.1 1.3z"/><path color="#d60000" d="M597.2 852.4l7.1 -1.2 -8.2 -3.3 -7.1 1.1z"/><path color="#d90000" d="M590.1 853.7l7.1 -1.3 -8.2 -3.4 -7.1 1.2z"/><path color="#dd0000" d="M583 855l7.1 -1.3 -8.2 -3.5 -7 1.2z"/><path color="#e10000" d="M576 856.4l7 -1.4 -8.1 -3.6 -7.1 1.3z"/><path color="#e50000" d="M568.9 857.9l7.1 -1.5 -8.2 -3.7 -7.1 1.3z"/><path color="#eb0000" d="M561.8 859.6l7.1 -1.7 -8.2 -3.9 -7.1 1.6z"/><path color="#f20000" d="M554.7 861.5l7.1 -1.9 -8.2 -4 -7.1 1.7z"/><path color="#fb0000" d="M547.6 863.5l7.1 -2 -8.2 -4.2 -7.1 2.1z"/><path color="#ff0700" d="M540.5 865.9l7.1 -2.4 -8.2 -4.1 -7.1 2.3z"/><path color="#ff1400" d="M533.4 868.6l7.1 -2.7 -8.2 -4.2 -7.1 2.6z"/><path color="#ff2300" d="M526.3 871.6l7.1 -3 -8.2 -4.3 -7.1 3.1z"/><path color="#ff3500" d="M519.2 875l7.1 -3.4 -8.2 -4.2 -7.1 3.4z"/><path color="#ff4a00" d="M512.1 878.8l7.1 -3.8 -8.2 -4.2 -7 4z"/><path color="#ff6300" d="M505.1 883.3l7 -4.5 -8.1 -4 -7.1 4.6z"/><path color="#ff8100" d="M498 888.4l7.1 -5.1 -8.2 -3.9 -7.1 5.3z"/><path color="#ffa400" d="M490.9 894.1l7.1 -5.7 -8.2 -3.7 -7.1 6z"/><path color="#ffc900" d="M483.8 900.2l7.1 -6.1 -8.2 -3.4 -7.1 6.5z"/><path color="#fff100" d="M476.7 906.8l7.1 -6.6 -8.2 -3 -7.1 6.9z"/><path color="#e3ff1c" d="M469.6 913.6l7.1 -6.8 -8.2 -2.7 -7.1 7.3z"/><path color="#b8ff47" d="M462.5 920.6l7.1 -7 -8.2 -2.2 -7.1 7.4z"/><path color="#8cff73" d="M455.4 927.6l7.1 -7 -8.2 -1.8 -7.1 7.4z"/><path color="#61ff9e" d="M448.3 934.6l7.1 -7 -8.2 -1.4 -7.1 7.5z"/><path color="#36ffc9" d="M441.2 941.5l7.1 -6.9 -8.2 -0.9 -7 7.3z"/><path color="#0dfff2" d="M434.2 948.1l7 -6.6 -8.1 -0.5 -7.1 7z"/><path color="#00e6ff" d="M427.1 954.4l7.1 -6.3 -8.2 -0.1 -7.1 6.6z"/><path color="#00c3ff" d="M420 960.3l7.1 -5.9 -8.2 0.2 -7.1 6.2z"/><path color="#00a4ff" d="M412.9 965.5l7.1 -5.2 -8.2 0.5 -7.1 5.6z"/><path color="#0089ff" d="M405.8 970.2l7.1 -4.7 -8.2 0.9 -7.1 4.9z"/><path color="#0072ff" d="M398.7 974.3l7.1 -4.1 -8.2 1.1 -7.1 4.3z"/><path color="#005eff" d="M391.6 978l7.1 -3.7 -8.2 1.3 -7.1 3.9z"/><path color="#004cff" d="M384.5 981.4l7.1 -3.4 -8.2 1.5 -7.1 3.6z"/><path color="#003cff" d="M377.4 984.5l7.1 -3.1 -8.2 1.7 -7.1 3.2z"/><path color="#002dff" d="M370.3 987.4l7.1 -2.9 -8.2 1.8 -7 3z"/><path color="#0021ff" d="M363.2 990l7.1 -2.6 -8.1 1.9 -7.1 2.7z"/><path color="#0016ff" d="M356.2 992.4l7 -2.4 -8.1 2 -7.1 2.5z"/><path color="#000cff" d="M349.1 994.6l7.1 -2.2 -8.2 2.1 -7.1 2.3z"/><path color="#0004ff" d="M342 996.6l7.1 -2 -8.2 2.2 -7.1 2.1z"/><path color="#0000fb" d="M334.9 998.6l7.1 -2 -8.2 2.3 -7.1 2z"/><path color="#0000f5" d="M327.8 1000.4l7.1 -1.8 -8.2 2.3 -7.1 1.8z"/><path color="#0000ef" d="M320.7 1002.1l7.1 -1.7 -8.2 2.3 -7.1 1.8z"/><path color="#0000e9" d="M313.6 1003.7l7.1 -1.6 -8.2 2.4 -7.1 1.7z"/><path color="#0000e3" d="M306.5 1005.4l7.1 -1.7 -8.2 2.5 -7.1 1.7z"/><path color="#0000dd" d="M299.4 1007l7.1 -1.6 -8.2 2.5 -7 1.7z"/><path color="#e30000" d="M619.6 853.3l7.1 -1.5 -8.2 -3.3 -7.1 1.4z"/><path color="#e70000" d="M612.5 854.7l7.1 -1.4 -8.2 -3.4 -7.1 1.3z"/><path color="#eb0000" d="M605.4 856l7.1 -1.3 -8.2 -3.5 -7.1 1.2z"/><path color="#ef0000" d="M598.3 857.4l7.1 -1.4 -8.2 -3.6 -7.1 1.3z"/><path color="#f30000" d="M591.2 858.9l7.1 -1.5 -8.2 -3.7 -7.1 1.3z"/><path color="#f80000" d="M584.1 860.4l7.1 -1.5 -8.2 -3.9 -7 1.4z"/><path color="#fd0000" d="M577 862.1l7.1 -1.7 -8.1 -4 -7.1 1.5z"/><path color="#ff0500" d="M570 863.9l7 -1.8 -8.1 -4.2 -7.1 1.7z"/><path color="#ff0d00" d="M562.9 865.8l7.1 -1.9 -8.2 -4.3 -7.1 1.9z"/><path color="#ff1700" d="M555.8 868l7.1 -2.2 -8.2 -4.3 -7.1 2z"/><path color="#ff2200" d="M548.7 870.5l7.1 -2.5 -8.2 -4.5 -7.1 2.4z"/><path color="#ff2f00" d="M541.6 873.2l7.1 -2.7 -8.2 -4.6 -7.1 2.7z"/><path color="#ff3e00" d="M534.5 876.2l7.1 -3 -8.2 -4.6 -7.1 3z"/><path color="#ff5000" d="M527.4 879.5l7.1 -3.3 -8.2 -4.6 -7.1 3.4z"/><path color="#ff6400" d="M520.3 883.2l7.1 -3.7 -8.2 -4.5 -7.1 3.8z"/><path color="#ff7c00" d="M513.2 887.5l7.1 -4.3 -8.2 -4.4 -7 4.5z"/><path color="#ff9800" d="M506.1 892.3l7.1 -4.8 -8.1 -4.2 -7.1 5.1z"/><path color="#ffb800" d="M499.1 897.7l7 -5.4 -8.1 -3.9 -7.1 5.7z"/><path color="#ffdb00" d="M492 903.5l7.1 -5.8 -8.2 -3.6 -7.1 6.1z"/><path color="#feff01" d="M484.9 909.6l7.1 -6.1 -8.2 -3.3 -7.1 6.6z"/><path color="#d7ff28" d="M477.8 916l7.1 -6.4 -8.2 -2.8 -7.1 6.8z"/><path color="#afff50" d="M470.7 922.6l7.1 -6.6 -8.2 -2.4 -7.1 7z"/><path color="#86ff79" d="M463.6 929.1l7.1 -6.5 -8.2 -2 -7.1 7z"/><path color="#5effa1" d="M456.5 935.7l7.1 -6.6 -8.2 -1.5 -7.1 7z"/><path color="#37ffc8" d="M449.4 942.1l7.1 -6.4 -8.2 -1.1 -7.1 6.9z"/><path color="#11ffee" d="M442.3 948.3l7.1 -6.2 -8.2 -0.6 -7 6.6z"/><path color="#00edff" d="M435.2 954.2l7.1 -5.9 -8.1 -0.2 -7.1 6.3z"/><path color="#00ccff" d="M428.2 959.6l7 -5.4 -8.1 0.2 -7.1 5.9z"/><path color="#00afff" d="M421.1 964.6l7.1 -5 -8.2 0.7 -7.1 5.2z"/><path color="#0097ff" d="M414 969l7.1 -4.4 -8.2 0.9 -7.1 4.7z"/><path color="#0081ff" d="M406.9 972.8l7.1 -3.8 -8.2 1.2 -7.1 4.1z"/><path color="#006eff" d="M399.8 976.3l7.1 -3.5 -8.2 1.5 -7.1 3.7z"/><path color="#005eff" d="M392.7 979.6l7.1 -3.3 -8.2 1.7 -7.1 3.4z"/><path color="#004fff" d="M385.6 982.5l7.1 -2.9 -8.2 1.8 -7.1 3.1z"/><path color="#0042ff" d="M378.5 985.3l7.1 -2.8 -8.2 2 -7.1 2.9z"/><path color="#0036ff" d="M371.4 987.7l7.1 -2.4 -8.2 2.1 -7.1 2.6z"/><path color="#002cff" d="M364.3 990l7.1 -2.3 -8.2 2.3 -7 2.4z"/><path color="#0023ff" d="M357.3 992.1l7 -2.1 -8.1 2.4 -7.1 2.2z"/><path color="#001bff" d="M350.2 994.1l7.1 -2 -8.2 2.5 -7.1 2z"/><path color="#0014ff" d="M343.1 995.9l7.1 -1.8 -8.2 2.5 -7.1 2z"/><path color="#000eff" d="M336 997.7l7.1 -1.8 -8.2 2.7 -7.1 1.8z"/><path color="#0008ff" d="M328.9 999.3l7.1 -1.6 -8.2 2.7 -7.1 1.7z"/><path color="#0002ff" d="M321.8 1000.9l7.1 -1.6 -8.2 2.8 -7.1 1.6z"/><path color="#0000fc" d="M314.7 1002.5l7.1 -1.6 -8.2 2.8 -7.1 1.7z"/><path color="#0000f7" d="M307.6 1004.1l7.1 -1.6 -8.2 2.9 -7.1 1.6z"/><path color="#f70000" d="M627.8 856.8l7.1 -1.5 -8.2 -3.5 -7.1 1.5z"/><path color="#fb0000" d="M620.7 858.2l7.1 -1.4 -8.2 -3.5 -7.1 1.4z"/><path color="#ff0100" d="M613.6 859.7l7.1 -1.5 -8.2 -3.5 -7.1 1.3z"/><path color="#ff0600" d="M606.5 861.3l7.1 -1.6 -8.2 -3.7 -7.1 1.4z"/><path color="#ff0b00" d="M599.4 862.9l7.1 -1.6 -8.2 -3.9 -7.1 1.5z"/><path color="#ff1100" d="M592.3 864.6l7.1 -1.7 -8.2 -4 -7.1 1.5z"/><path color="#ff1800" d="M585.2 866.4l7.1 -1.8 -8.2 -4.2 -7.1 1.7z"/><path color="#ff1f00" d="M578.1 868.3l7.1 -1.9 -8.2 -4.3 -7 1.8z"/><path color="#ff2800" d="M571.1 870.4l7 -2.1 -8.1 -4.4 -7.1 1.9z"/><path color="#ff3200" d="M564 872.7l7.1 -2.3 -8.2 -4.6 -7.1 2.2z"/><path color="#ff3e00" d="M556.9 875.2l7.1 -2.5 -8.2 -4.7 -7.1 2.5z"/><path color="#ff4b00" d="M549.8 877.9l7.1 -2.7 -8.2 -4.7 -7.1 2.7z"/><path color="#ff5a00" d="M542.7 880.9l7.1 -3 -8.2 -4.7 -7.1 3z"/><path color="#ff6c00" d="M535.6 884.2l7.1 -3.3 -8.2 -4.7 -7.1 3.3z"/><path color="#ff7f00" d="M528.5 887.8l7.1 -3.6 -8.2 -4.7 -7.1 3.7z"/><path color="#ff9500" d="M521.4 891.8l7.1 -4 -8.2 -4.6 -7.1 4.3z"/><path color="#ffb000" d="M514.3 896.4l7.1 -4.6 -8.2 -4.3 -7.1 4.8z"/><path color="#ffcd00" d="M507.2 901.5l7.1 -5.1 -8.2 -4.1 -7 5.4z"/><path color="#ffee00" d="M500.2 906.9l7 -5.4 -8.1 -3.8 -7.1 5.8z"/><path color="#eeff11" d="M493.1 912.6l7.1 -5.7 -8.2 -3.4 -7.1 6.1z"/><path color="#caff35" d="M486 918.5l7.1 -5.9 -8.2 -3 -7.1 6.4z"/><path color="#a5ff5a" d="M478.9 924.6l7.1 -6.1 -8.2 -2.5 -7.1 6.6z"/><path color="#80ff7f" d="M471.8 930.7l7.1 -6.1 -8.2 -2 -7.1 6.5z"/><path color="#5cffa3" d="M464.7 936.8l7.1 -6.1 -8.2 -1.6 -7.1 6.6z"/><path color="#38ffc7" d="M457.6 942.7l7.1 -5.9 -8.2 -1.1 -7.1 6.4z"/><path color="#15ffea" d="M450.5 948.5l7.1 -5.8 -8.2 -0.6 -7.1 6.2z"/><path color="#00f4ff" d="M443.4 953.9l7.1 -5.4 -8.2 -0.2 -7.1 5.9z"/><path color="#00d6ff" d="M436.3 959l7.1 -5.1 -8.2 0.3 -7 5.4z"/><path color="#00bbff" d="M429.3 963.6l7 -4.6 -8.1 0.6 -7.1 5z"/><path color="#00a5ff" d="M422.2 967.7l7.1 -4.1 -8.2 1 -7.1 4.4z"/><path color="#0091ff" d="M415.1 971.3l7.1 -3.6 -8.2 1.3 -7.1 3.8z"/><path color="#0080ff" d="M408 974.6l7.1 -3.3 -8.2 1.5 -7.1 3.5z"/><path color="#0070ff" d="M400.9 977.6l7.1 -3 -8.2 1.7 -7.1 3.3z"/><path color="#0063ff" d="M393.8 980.4l7.1 -2.8 -8.2 2 -7.1 2.9z"/><path color="#0056ff" d="M386.7 983l7.1 -2.6 -8.2 2.1 -7.1 2.8z"/><path color="#004cff" d="M379.6 985.3l7.1 -2.3 -8.2 2.3 -7.1 2.4z"/><path color="#0042ff" d="M372.5 987.5l7.1 -2.2 -8.2 2.4 -7.1 2.3z"/><path color="#003aff" d="M365.4 989.5l7.1 -2 -8.2 2.5 -7 2.1z"/><path color="#0033ff" d="M358.4 991.4l7 -1.9 -8.1 2.6 -7.1 2z"/><path color="#002dff" d="M351.3 993.2l7.1 -1.8 -8.2 2.7 -7.1 1.8z"/><path color="#0027ff" d="M344.2 994.8l7.1 -1.6 -8.2 2.7 -7.1 1.8z"/><path color="#0021ff" d="M337.1 996.4l7.1 -1.6 -8.2 2.9 -7.1 1.6z"/><path color="#001cff" d="M330 998l7.1 -1.6 -8.2 2.9 -7.1 1.6z"/><path color="#0018ff" d="M322.9 999.5l7.1 -1.5 -8.2 2.9 -7.1 1.6z"/><path color="#0013ff" d="M315.8 1001l7.1 -1.5 -8.2 3 -7.1 1.6z"/><path color="#ff0b00" d="M636 860.3l7 -1.6 -8.1 -3.4 -7.1 1.5z"/><path color="#ff1000" d="M628.9 861.8l7.1 -1.5 -8.2 -3.5 -7.1 1.4z"/><path color="#ff1600" d="M621.8 863.5l7.1 -1.7 -8.2 -3.6 -7.1 1.5z"/><path color="#ff1c00" d="M614.7 865.1l7.1 -1.6 -8.2 -3.8 -7.1 1.6z"/><path color="#ff2200" d="M607.6 866.9l7.1 -1.8 -8.2 -3.8 -7.1 1.6z"/><path color="#ff2900" d="M600.5 868.7l7.1 -1.8 -8.2 -4 -7.1 1.7z"/><path color="#ff3100" d="M593.4 870.7l7.1 -2 -8.2 -4.1 -7.1 1.8z"/><path color="#ff3a00" d="M586.3 872.8l7.1 -2.1 -8.2 -4.3 -7.1 1.9z"/><path color="#ff4300" d="M579.2 875l7.1 -2.2 -8.2 -4.5 -7 2.1z"/><path color="#ff4e00" d="M572.1 877.4l7.1 -2.4 -8.1 -4.6 -7.1 2.3z"/><path color="#ff5b00" d="M565.1 880l7 -2.6 -8.1 -4.7 -7.1 2.5z"/><path color="#ff6800" d="M558 882.7l7.1 -2.7 -8.2 -4.8 -7.1 2.7z"/><path color="#ff7700" d="M550.9 885.7l7.1 -3 -8.2 -4.8 -7.1 3z"/><path color="#ff8800" d="M543.8 888.9l7.1 -3.2 -8.2 -4.8 -7.1 3.3z"/><path color="#ff9a00" d="M536.7 892.4l7.1 -3.5 -8.2 -4.7 -7.1 3.6z"/><path color="#ffaf00" d="M529.6 896.2l7.1 -3.8 -8.2 -4.6 -7.1 4z"/><path color="#ffc800" d="M522.5 900.5l7.1 -4.3 -8.2 -4.4 -7.1 4.6z"/><path color="#ffe300" d="M515.4 905.3l7.1 -4.8 -8.2 -4.1 -7.1 5.1z"/><path color="#fdff02" d="M508.3 910.3l7.1 -5 -8.2 -3.8 -7 5.4z"/><path color="#deff21" d="M501.2 915.6l7.1 -5.3 -8.1 -3.4 -7.1 5.7z"/><path color="#bdff42" d="M494.2 921.1l7 -5.5 -8.1 -3 -7.1 5.9z"/><path color="#9cff63" d="M487.1 926.7l7.1 -5.6 -8.2 -2.6 -7.1 6.1z"/><path color="#7aff85" d="M480 932.3l7.1 -5.6 -8.2 -2.1 -7.1 6.1z"/><path color="#59ffa6" d="M472.9 937.9l7.1 -5.6 -8.2 -1.6 -7.1 6.1z"/><path color="#38ffc7" d="M465.8 943.3l7.1 -5.4 -8.2 -1.1 -7.1 5.9z"/><path color="#19ffe6" d="M458.7 948.6l7.1 -5.3 -8.2 -0.6 -7.1 5.8z"/><path color="#00fbff" d="M451.6 953.6l7.1 -5 -8.2 -0.1 -7.1 5.4z"/><path color="#00e0ff" d="M444.5 958.3l7.1 -4.7 -8.2 0.3 -7.1 5.1z"/><path color="#00c8ff" d="M437.4 962.6l7.1 -4.3 -8.2 0.7 -7 4.6z"/><path color="#00b3ff" d="M430.3 966.3l7.1 -3.7 -8.1 1 -7.1 4.1z"/><path color="#00a1ff" d="M423.3 969.7l7 -3.4 -8.1 1.4 -7.1 3.6z"/><path color="#0091ff" d="M416.2 972.8l7.1 -3.1 -8.2 1.6 -7.1 3.3z"/><path color="#0083ff" d="M409.1 975.7l7.1 -2.9 -8.2 1.8 -7.1 3z"/><path color="#0077ff" d="M402 978.3l7.1 -2.6 -8.2 1.9 -7.1 2.8z"/><path color="#006cff" d="M394.9 980.7l7.1 -2.4 -8.2 2.1 -7.1 2.6z"/><path color="#0062ff" d="M387.8 982.9l7.1 -2.2 -8.2 2.3 -7.1 2.3z"/><path color="#0059ff" d="M380.7 985l7.1 -2.1 -8.2 2.4 -7.1 2.2z"/><path color="#0052ff" d="M373.6 986.9l7.1 -1.9 -8.2 2.5 -7.1 2z"/><path color="#004bff" d="M366.5 988.7l7.1 -1.8 -8.2 2.6 -7 1.9z"/><path color="#0045ff" d="M359.4 990.4l7.1 -1.7 -8.1 2.7 -7.1 1.8z"/><path color="#0040ff" d="M352.4 992l7 -1.6 -8.1 2.8 -7.1 1.6z"/><path color="#003bff" d="M345.3 993.5l7.1 -1.5 -8.2 2.8 -7.1 1.6z"/><path color="#0036ff" d="M338.2 995l7.1 -1.5 -8.2 2.9 -7.1 1.6z"/><path color="#0032ff" d="M331.1 996.4l7.1 -1.4 -8.2 3 -7.1 1.5z"/><path color="#002eff" d="M324 997.9l7.1 -1.5 -8.2 3.1 -7.1 1.5z"/><path color="#ff1e00" d="M644.1 863.7l7.1 -1.6 -8.2 -3.4 -7 1.6z"/><path color="#ff2400" d="M637.1 865.4l7 -1.7 -8.1 -3.4 -7.1 1.5z"/><path color="#ff2b00" d="M630 867.1l7.1 -1.7 -8.2 -3.6 -7.1 1.7z"/><path color="#ff3100" d="M622.9 868.9l7.1 -1.8 -8.2 -3.6 -7.1 1.6z"/><path color="#ff3900" d="M615.8 870.8l7.1 -1.9 -8.2 -3.8 -7.1 1.8z"/><path color="#ff4100" d="M608.7 872.8l7.1 -2 -8.2 -3.9 -7.1 1.8z"/><path color="#ff4a00" d="M601.6 874.9l7.1 -2.1 -8.2 -4.1 -7.1 2z"/><path color="#ff5400" d="M594.5 877.1l7.1 -2.2 -8.2 -4.2 -7.1 2.1z"/><path color="#ff5e00" d="M587.4 879.5l7.1 -2.4 -8.2 -4.3 -7.1 2.2z"/><path color="#ff6a00" d="M580.3 882l7.1 -2.5 -8.2 -4.5 -7.1 2.4z"/><path color="#ff7600" d="M573.2 884.6l7.1 -2.6 -8.2 -4.6 -7 2.6z"/><path color="#ff8400" d="M566.2 887.4l7 -2.8 -8.1 -4.6 -7.1 2.7z"/><path color="#ff9300" d="M559.1 890.4l7.1 -3 -8.2 -4.7 -7.1 3z"/><path color="#ffa300" d="M552 893.5l7.1 -3.1 -8.2 -4.7 -7.1 3.2z"/><path color="#ffb500" d="M544.9 896.9l7.1 -3.4 -8.2 -4.6 -7.1 3.5z"/><path color="#ffc900" d="M537.8 900.5l7.1 -3.6 -8.2 -4.5 -7.1 3.8z"/><path color="#ffdf00" d="M530.7 904.6l7.1 -4.1 -8.2 -4.3 -7.1 4.3z"/><path color="#fff800" d="M523.6 909l7.1 -4.4 -8.2 -4.1 -7.1 4.8z"/><path color="#ebff14" d="M516.5 913.6l7.1 -4.6 -8.2 -3.7 -7.1 5z"/><path color="#ceff31" d="M509.4 918.5l7.1 -4.9 -8.2 -3.3 -7.1 5.3z"/><path color="#b1ff4e" d="M502.3 923.6l7.1 -5.1 -8.2 -2.9 -7 5.5z"/><path color="#93ff6c" d="M495.3 928.7l7 -5.1 -8.1 -2.5 -7.1 5.6z"/><path color="#74ff8b" d="M488.2 933.8l7.1 -5.1 -8.2 -2 -7.1 5.6z"/><path color="#56ffa9" d="M481.1 938.9l7.1 -5.1 -8.2 -1.5 -7.1 5.6z"/><path color="#39ffc6" d="M474 943.9l7.1 -5 -8.2 -1 -7.1 5.4z"/><path color="#1dffe2" d="M466.9 948.7l7.1 -4.8 -8.2 -0.6 -7.1 5.3z"/><path color="#03fffc" d="M459.8 953.3l7.1 -4.6 -8.2 -0.1 -7.1 5z"/><path color="#00eaff" d="M452.7 957.6l7.1 -4.3 -8.2 0.3 -7.1 4.7z"/><path color="#00d4ff" d="M445.6 961.5l7.1 -3.9 -8.2 0.7 -7.1 4.3z"/><path color="#00c1ff" d="M438.5 965l7.1 -3.5 -8.2 1.1 -7.1 3.7z"/><path color="#00b1ff" d="M431.4 968.2l7.1 -3.2 -8.2 1.3 -7 3.4z"/><path color="#00a3ff" d="M424.4 971.1l7 -2.9 -8.1 1.5 -7.1 3.1z"/><path color="#0096ff" d="M417.3 973.8l7.1 -2.7 -8.2 1.7 -7.1 2.9z"/><path color="#008aff" d="M410.2 976.2l7.1 -2.4 -8.2 1.9 -7.1 2.6z"/><path color="#0080ff" d="M403.1 978.5l7.1 -2.3 -8.2 2.1 -7.1 2.4z"/><path color="#0077ff" d="M396 980.6l7.1 -2.1 -8.2 2.2 -7.1 2.2z"/><path color="#006fff" d="M388.9 982.5l7.1 -1.9 -8.2 2.3 -7.1 2.1z"/><path color="#0069ff" d="M381.8 984.4l7.1 -1.9 -8.2 2.5 -7.1 1.9z"/><path color="#0062ff" d="M374.7 986.1l7.1 -1.7 -8.2 2.5 -7.1 1.8z"/><path color="#005dff" d="M367.6 987.7l7.1 -1.6 -8.2 2.6 -7.1 1.7z"/><path color="#0058ff" d="M360.5 989.2l7.1 -1.5 -8.2 2.7 -7 1.6z"/><path color="#0054ff" d="M353.5 990.7l7 -1.5 -8.1 2.8 -7.1 1.5z"/><path color="#0050ff" d="M346.4 992.1l7.1 -1.4 -8.2 2.8 -7.1 1.5z"/><path color="#004bff" d="M339.3 993.5l7.1 -1.4 -8.2 2.9 -7.1 1.4z"/><path color="#0047ff" d="M332.2 994.9l7.1 -1.4 -8.2 2.9 -7.1 1.5z"/><path color="#ff3100" d="M652.3 867.1l7.1 -1.7 -8.2 -3.3 -7.1 1.6z"/><path color="#ff3700" d="M645.2 868.8l7.1 -1.7 -8.2 -3.4 -7 1.7z"/><path color="#ff3e00" d="M638.2 870.6l7 -1.8 -8.1 -3.4 -7.1 1.7z"/><path color="#ff4600" d="M631.1 872.6l7.1 -2 -8.2 -3.5 -7.1 1.8z"/><path color="#ff4e00" d="M624 874.6l7.1 -2 -8.2 -3.7 -7.1 1.9z"/><path color="#ff5800" d="M616.9 876.7l7.1 -2.1 -8.2 -3.8 -7.1 2z"/><path color="#ff6100" d="M609.8 879l7.1 -2.3 -8.2 -3.9 -7.1 2.1z"/><path color="#ff6c00" d="M602.7 881.3l7.1 -2.3 -8.2 -4.1 -7.1 2.2z"/><path color="#ff7700" d="M595.6 883.8l7.1 -2.5 -8.2 -4.2 -7.1 2.4z"/><path color="#ff8400" d="M588.5 886.4l7.1 -2.6 -8.2 -4.3 -7.1 2.5z"/><path color="#ff9100" d="M581.4 889.1l7.1 -2.7 -8.2 -4.4 -7.1 2.6z"/><path color="#ff9e00" d="M574.3 891.9l7.1 -2.8 -8.2 -4.5 -7 2.8z"/><path color="#ffad00" d="M567.2 894.8l7.1 -2.9 -8.1 -4.5 -7.1 3z"/><path color="#ffbd00" d="M560.2 897.9l7 -3.1 -8.1 -4.4 -7.1 3.1z"/><path color="#ffce00" d="M553.1 901.1l7.1 -3.2 -8.2 -4.4 -7.1 3.4z"/><path color="#ffe000" d="M546 904.6l7.1 -3.5 -8.2 -4.2 -7.1 3.6z"/><path color="#fff500" d="M538.9 908.4l7.1 -3.8 -8.2 -4.1 -7.1 4.1z"/><path color="#f2ff0d" d="M531.8 912.5l7.1 -4.1 -8.2 -3.8 -7.1 4.4z"/><path color="#daff25" d="M524.7 916.8l7.1 -4.3 -8.2 -3.5 -7.1 4.6z"/><path color="#c0ff3f" d="M517.6 921.3l7.1 -4.5 -8.2 -3.2 -7.1 4.9z"/><path color="#a6ff59" d="M510.5 925.9l7.1 -4.6 -8.2 -2.8 -7.1 5.1z"/><path color="#8bff74" d="M503.4 930.6l7.1 -4.7 -8.2 -2.3 -7 5.1z"/><path color="#6fff90" d="M496.3 935.2l7.1 -4.6 -8.1 -1.9 -7.1 5.1z"/><path color="#55ffaa" d="M489.3 939.9l7 -4.7 -8.1 -1.4 -7.1 5.1z"/><path color="#3bffc4" d="M482.2 944.4l7.1 -4.5 -8.2 -1 -7.1 5z"/><path color="#22ffdd" d="M475.1 948.8l7.1 -4.4 -8.2 -0.5 -7.1 4.8z"/><path color="#0afff5" d="M468 953l7.1 -4.2 -8.2 -0.1 -7.1 4.6z"/><path color="#00f3ff" d="M460.9 956.9l7.1 -3.9 -8.2 0.3 -7.1 4.3z"/><path color="#00e0ff" d="M453.8 960.6l7.1 -3.7 -8.2 0.7 -7.1 3.9z"/><path color="#00cfff" d="M446.7 963.8l7.1 -3.2 -8.2 0.9 -7.1 3.5z"/><path color="#00c0ff" d="M439.6 966.7l7.1 -2.9 -8.2 1.2 -7.1 3.2z"/><path color="#00b3ff" d="M432.5 969.4l7.1 -2.7 -8.2 1.5 -7 2.9z"/><path color="#00a7ff" d="M425.4 971.9l7.1 -2.5 -8.1 1.7 -7.1 2.7z"/><path color="#009dff" d="M418.4 974.3l7 -2.4 -8.1 1.9 -7.1 2.4z"/><path color="#0094ff" d="M411.3 976.4l7.1 -2.1 -8.2 1.9 -7.1 2.3z"/><path color="#008bff" d="M404.2 978.4l7.1 -2 -8.2 2.1 -7.1 2.1z"/><path color="#0084ff" d="M397.1 980.3l7.1 -1.9 -8.2 2.2 -7.1 1.9z"/><path color="#007eff" d="M390 982l7.1 -1.7 -8.2 2.2 -7.1 1.9z"/><path color="#0078ff" d="M382.9 983.7l7.1 -1.7 -8.2 2.4 -7.1 1.7z"/><path color="#0073ff" d="M375.8 985.3l7.1 -1.6 -8.2 2.4 -7.1 1.6z"/><path color="#006fff" d="M368.7 986.7l7.1 -1.4 -8.2 2.4 -7.1 1.5z"/><path color="#006aff" d="M361.6 988.2l7.1 -1.5 -8.2 2.5 -7 1.5z"/><path color="#0066ff" d="M354.5 989.6l7.1 -1.4 -8.1 2.5 -7.1 1.4z"/><path color="#0063ff" d="M347.5 990.9l7 -1.3 -8.1 2.5 -7.1 1.4z"/><path color="#005fff" d="M340.4 992.3l7.1 -1.4 -8.2 2.6 -7.1 1.4z"/><path color="#ff4200" d="M660.5 870.2l7.1 -1.7 -8.2 -3.1 -7.1 1.7z"/><path color="#ff4900" d="M653.4 872l7.1 -1.8 -8.2 -3.1 -7.1 1.7z"/><path color="#ff5100" d="M646.3 874l7.1 -2 -8.2 -3.2 -7 1.8z"/><path color="#ff5900" d="M639.2 876l7.1 -2 -8.1 -3.4 -7.1 2z"/><path color="#ff6200" d="M632.2 878.1l7 -2.1 -8.1 -3.4 -7.1 2z"/><path color="#ff6c00" d="M625.1 880.4l7.1 -2.3 -8.2 -3.5 -7.1 2.1z"/><path color="#ff7700" d="M618 882.7l7.1 -2.3 -8.2 -3.7 -7.1 2.3z"/><path color="#ff8200" d="M610.9 885.2l7.1 -2.5 -8.2 -3.7 -7.1 2.3z"/><path color="#ff8e00" d="M603.8 887.7l7.1 -2.5 -8.2 -3.9 -7.1 2.5z"/><path color="#ff9b00" d="M596.7 890.4l7.1 -2.7 -8.2 -3.9 -7.1 2.6z"/><path color="#ffa800" d="M589.6 893.1l7.1 -2.7 -8.2 -4 -7.1 2.7z"/><path color="#ffb600" d="M582.5 895.9l7.1 -2.8 -8.2 -4 -7.1 2.8z"/><path color="#ffc500" d="M575.4 898.9l7.1 -3 -8.2 -4 -7.1 2.9z"/><path color="#ffd400" d="M568.3 901.9l7.1 -3 -8.2 -4.1 -7 3.1z"/><path color="#ffe400" d="M561.3 905l7 -3.1 -8.1 -4 -7.1 3.2z"/><path color="#fff500" d="M554.2 908.3l7.1 -3.3 -8.2 -3.9 -7.1 3.5z"/><path color="#f6ff09" d="M547.1 911.8l7.1 -3.5 -8.2 -3.7 -7.1 3.8z"/><path color="#e1ff1e" d="M540 915.6l7.1 -3.8 -8.2 -3.4 -7.1 4.1z"/><path color="#cbff34" d="M532.9 919.6l7.1 -4 -8.2 -3.1 -7.1 4.3z"/><path color="#b4ff4b" d="M525.8 923.7l7.1 -4.1 -8.2 -2.8 -7.1 4.5z"/><path color="#9cff63" d="M518.7 928l7.1 -4.3 -8.2 -2.4 -7.1 4.6z"/><path color="#84ff7b" d="M511.6 932.2l7.1 -4.2 -8.2 -2.1 -7.1 4.7z"/><path color="#6cff93" d="M504.5 936.5l7.1 -4.3 -8.2 -1.6 -7.1 4.6z"/><path color="#54ffab" d="M497.4 940.7l7.1 -4.2 -8.2 -1.3 -7 4.7z"/><path color="#3dffc2" d="M490.4 944.9l7 -4.2 -8.1 -0.8 -7.1 4.5z"/><path color="#26ffd9" d="M483.3 948.9l7.1 -4 -8.2 -0.5 -7.1 4.4z"/><path color="#11ffee" d="M476.2 952.7l7.1 -3.8 -8.2 -0.1 -7.1 4.2z"/><path color="#00fdff" d="M469.1 956.3l7.1 -3.6 -8.2 0.3 -7.1 3.9z"/><path color="#00ebff" d="M462 959.6l7.1 -3.3 -8.2 0.6 -7.1 3.7z"/><path color="#00dcff" d="M454.9 962.7l7.1 -3.1 -8.2 1 -7.1 3.2z"/><path color="#00cfff" d="M447.8 965.4l7.1 -2.7 -8.2 1.1 -7.1 2.9z"/><path color="#00c3ff" d="M440.7 968l7.1 -2.6 -8.2 1.3 -7.1 2.7z"/><path color="#00b8ff" d="M433.6 970.3l7.1 -2.3 -8.2 1.4 -7.1 2.5z"/><path color="#00aeff" d="M426.5 972.5l7.1 -2.2 -8.2 1.6 -7 2.4z"/><path color="#00a5ff" d="M419.5 974.6l7 -2.1 -8.1 1.8 -7.1 2.1z"/><path color="#009eff" d="M412.4 976.6l7.1 -2 -8.2 1.8 -7.1 2z"/><path color="#0097ff" d="M405.3 978.4l7.1 -1.8 -8.2 1.8 -7.1 1.9z"/><path color="#0091ff" d="M398.2 980.1l7.1 -1.7 -8.2 1.9 -7.1 1.7z"/><path color="#008bff" d="M391.1 981.7l7.1 -1.6 -8.2 1.9 -7.1 1.7z"/><path color="#0086ff" d="M384 983.2l7.1 -1.5 -8.2 2 -7.1 1.6z"/><path color="#0082ff" d="M376.9 984.7l7.1 -1.5 -8.2 2.1 -7.1 1.4z"/><path color="#007eff" d="M369.8 986.1l7.1 -1.4 -8.2 2 -7.1 1.5z"/><path color="#007aff" d="M362.7 987.5l7.1 -1.4 -8.2 2.1 -7.1 1.4z"/><path color="#0077ff" d="M355.6 988.8l7.1 -1.3 -8.2 2.1 -7 1.3z"/><path color="#0073ff" d="M348.6 990.2l7 -1.4 -8.1 2.1 -7.1 1.4z"/><path color="#ff5100" d="M668.7 873.1l7.1 -1.8 -8.2 -2.8 -7.1 1.7z"/><path color="#ff5800" d="M661.6 874.9l7.1 -1.8 -8.2 -2.9 -7.1 1.8z"/><path color="#ff6100" d="M654.5 877l7.1 -2.1 -8.2 -2.9 -7.1 2z"/><path color="#ff6a00" d="M647.4 879.1l7.1 -2.1 -8.2 -3 -7.1 2z"/><path color="#ff7400" d="M640.3 881.3l7.1 -2.2 -8.2 -3.1 -7 2.1z"/><path color="#ff7e00" d="M633.3 883.7l7 -2.4 -8.1 -3.2 -7.1 2.3z"/><path color="#ff8900" d="M626.2 886.1l7.1 -2.4 -8.2 -3.3 -7.1 2.3z"/><path color="#ff9500" d="M619.1 888.6l7.1 -2.5 -8.2 -3.4 -7.1 2.5z"/><path color="#ffa200" d="M612 891.2l7.1 -2.6 -8.2 -3.4 -7.1 2.5z"/><path color="#ffaf00" d="M604.9 893.9l7.1 -2.7 -8.2 -3.5 -7.1 2.7z"/><path color="#ffbc00" d="M597.8 896.7l7.1 -2.8 -8.2 -3.5 -7.1 2.7z"/><path color="#ffca00" d="M590.7 899.5l7.1 -2.8 -8.2 -3.6 -7.1 2.8z"/><path color="#ffd800" d="M583.6 902.4l7.1 -2.9 -8.2 -3.6 -7.1 3z"/><path color="#ffe700" d="M576.5 905.3l7.1 -2.9 -8.2 -3.5 -7.1 3z"/><path color="#fff600" d="M569.4 908.3l7.1 -3 -8.2 -3.4 -7 3.1z"/><path color="#f8ff07" d="M562.4 911.4l7 -3.1 -8.1 -3.3 -7.1 3.3z"/><path color="#e6ff19" d="M555.3 914.8l7.1 -3.4 -8.2 -3.1 -7.1 3.5z"/><path color="#d3ff2c" d="M548.2 918.3l7.1 -3.5 -8.2 -3 -7.1 3.8z"/><path color="#bfff40" d="M541.1 922l7.1 -3.7 -8.2 -2.7 -7.1 4z"/><path color="#aaff55" d="M534 925.8l7.1 -3.8 -8.2 -2.4 -7.1 4.1z"/><path color="#95ff6a" d="M526.9 929.7l7.1 -3.9 -8.2 -2.1 -7.1 4.3z"/><path color="#7fff80" d="M519.8 933.6l7.1 -3.9 -8.2 -1.7 -7.1 4.2z"/><path color="#69ff96" d="M512.7 937.5l7.1 -3.9 -8.2 -1.4 -7.1 4.3z"/><path color="#54ffab" d="M505.6 941.4l7.1 -3.9 -8.2 -1 -7.1 4.2z"/><path color="#3fffc0" d="M498.5 945.2l7.1 -3.8 -8.2 -0.7 -7 4.2z"/><path color="#2bffd4" d="M491.5 948.9l7 -3.7 -8.1 -0.3 -7.1 4z"/><path color="#18ffe7" d="M484.4 952.4l7.1 -3.5 -8.2 0 -7.1 3.8z"/><path color="#07fff8" d="M477.3 955.7l7.1 -3.3 -8.2 0.3 -7.1 3.6z"/><path color="#00f6ff" d="M470.2 958.8l7.1 -3.1 -8.2 0.6 -7.1 3.3z"/><path color="#00e8ff" d="M463.1 961.7l7.1 -2.9 -8.2 0.8 -7.1 3.1z"/><path color="#00dcff" d="M456 964.3l7.1 -2.6 -8.2 1 -7.1 2.7z"/><path color="#00d0ff" d="M448.9 966.7l7.1 -2.4 -8.2 1.1 -7.1 2.6z"/><path color="#00c6ff" d="M441.8 969l7.1 -2.3 -8.2 1.3 -7.1 2.3z"/><path color="#00bdff" d="M434.7 971.1l7.1 -2.1 -8.2 1.3 -7.1 2.2z"/><path color="#00b5ff" d="M427.6 973.1l7.1 -2 -8.2 1.4 -7 2.1z"/><path color="#00adff" d="M420.6 975.1l7 -2 -8.1 1.5 -7.1 2z"/><path color="#00a7ff" d="M413.5 976.8l7.1 -1.7 -8.2 1.5 -7.1 1.8z"/><path color="#00a0ff" d="M406.4 978.6l7.1 -1.8 -8.2 1.6 -7.1 1.7z"/><path color="#009bff" d="M399.3 980.2l7.1 -1.6 -8.2 1.5 -7.1 1.6z"/><path color="#0096ff" d="M392.2 981.7l7.1 -1.5 -8.2 1.5 -7.1 1.5z"/><path color="#0092ff" d="M385.1 983.2l7.1 -1.5 -8.2 1.5 -7.1 1.5z"/><path color="#008dff" d="M378 984.6l7.1 -1.4 -8.2 1.5 -7.1 1.4z"/><path color="#008aff" d="M370.9 986l7.1 -1.4 -8.2 1.5 -7.1 1.4z"/><path color="#0086ff" d="M363.8 987.3l7.1 -1.3 -8.2 1.5 -7.1 1.3z"/><path color="#0083ff" d="M356.7 988.7l7.1 -1.4 -8.2 1.5 -7 1.4z"/><path color="#ff5e00" d="M676.9 875.6l7.1 -1.8 -8.2 -2.5 -7.1 1.8z"/><path color="#ff6500" d="M669.8 877.5l7.1 -1.9 -8.2 -2.5 -7.1 1.8z"/><path color="#ff6e00" d="M662.7 879.6l7.1 -2.1 -8.2 -2.6 -7.1 2.1z"/><path color="#ff7800" d="M655.6 881.8l7.1 -2.2 -8.2 -2.6 -7.1 2.1z"/><path color="#ff8200" d="M648.5 884.1l7.1 -2.3 -8.2 -2.7 -7.1 2.2z"/><path color="#ff8d00" d="M641.4 886.5l7.1 -2.4 -8.2 -2.8 -7 2.4z"/><path color="#ff9800" d="M634.3 888.9l7.1 -2.4 -8.1 -2.8 -7.1 2.4z"/><path color="#ffa400" d="M627.3 891.5l7 -2.6 -8.1 -2.8 -7.1 2.5z"/><path color="#ffb100" d="M620.2 894.1l7.1 -2.6 -8.2 -2.9 -7.1 2.6z"/><path color="#ffbe00" d="M613.1 896.8l7.1 -2.7 -8.2 -2.9 -7.1 2.7z"/><path color="#ffcc00" d="M606 899.6l7.1 -2.8 -8.2 -2.9 -7.1 2.8z"/><path color="#ffd900" d="M598.9 902.4l7.1 -2.8 -8.2 -2.9 -7.1 2.8z"/><path color="#ffe700" d="M591.8 905.2l7.1 -2.8 -8.2 -2.9 -7.1 2.9z"/><path color="#fff600" d="M584.7 908.1l7.1 -2.9 -8.2 -2.8 -7.1 2.9z"/><path color="#faff05" d="M577.6 911l7.1 -2.9 -8.2 -2.8 -7.1 3z"/><path color="#ebff14" d="M570.5 914l7.1 -3 -8.2 -2.7 -7 3.1z"/><path color="#daff25" d="M563.4 917.1l7.1 -3.1 -8.1 -2.6 -7.1 3.4z"/><path color="#c9ff36" d="M556.4 920.5l7 -3.4 -8.1 -2.3 -7.1 3.5z"/><path color="#b6ff49" d="M549.3 923.9l7.1 -3.4 -8.2 -2.2 -7.1 3.7z"/><path color="#a3ff5c" d="M542.2 927.5l7.1 -3.6 -8.2 -1.9 -7.1 3.8z"/><path color="#90ff6f" d="M535.1 931.1l7.1 -3.6 -8.2 -1.7 -7.1 3.9z"/><path color="#7cff83" d="M528 934.7l7.1 -3.6 -8.2 -1.4 -7.1 3.9z"/><path color="#69ff96" d="M520.9 938.3l7.1 -3.6 -8.2 -1.1 -7.1 3.9z"/><path color="#56ffa9" d="M513.8 941.9l7.1 -3.6 -8.2 -0.8 -7.1 3.9z"/><path color="#43ffbc" d="M506.7 945.4l7.1 -3.5 -8.2 -0.5 -7.1 3.8z"/><path color="#31ffce" d="M499.6 948.8l7.1 -3.4 -8.2 -0.2 -7 3.7z"/><path color="#1fffe0" d="M492.5 952.1l7.1 -3.3 -8.1 0.1 -7.1 3.5z"/><path color="#0ffff0" d="M485.5 955.2l7 -3.1 -8.1 0.3 -7.1 3.3z"/><path color="#01fffe" d="M478.4 958.1l7.1 -2.9 -8.2 0.5 -7.1 3.1z"/><path color="#00f3ff" d="M471.3 960.8l7.1 -2.7 -8.2 0.7 -7.1 2.9z"/><path color="#00e7ff" d="M464.2 963.3l7.1 -2.5 -8.2 0.9 -7.1 2.6z"/><path color="#00dcff" d="M457.1 965.7l7.1 -2.4 -8.2 1 -7.1 2.4z"/><path color="#00d2ff" d="M450 968l7.1 -2.3 -8.2 1 -7.1 2.3z"/><path color="#00c9ff" d="M442.9 970.1l7.1 -2.1 -8.2 1 -7.1 2.1z"/><path color="#00c1ff" d="M435.8 972.1l7.1 -2 -8.2 1 -7.1 2z"/><path color="#00b9ff" d="M428.7 974l7.1 -1.9 -8.2 1 -7 2z"/><path color="#00b2ff" d="M421.6 975.9l7.1 -1.9 -8.1 1.1 -7.1 1.7z"/><path color="#00acff" d="M414.6 977.6l7 -1.7 -8.1 0.9 -7.1 1.8z"/><path color="#00a6ff" d="M407.5 979.3l7.1 -1.7 -8.2 1 -7.1 1.6z"/><path color="#00a1ff" d="M400.4 980.9l7.1 -1.6 -8.2 0.9 -7.1 1.5z"/><path color="#009cff" d="M393.3 982.4l7.1 -1.5 -8.2 0.8 -7.1 1.5z"/><path color="#0098ff" d="M386.2 983.9l7.1 -1.5 -8.2 0.8 -7.1 1.4z"/><path color="#0094ff" d="M379.1 985.3l7.1 -1.4 -8.2 0.7 -7.1 1.4z"/><path color="#0090ff" d="M372 986.7l7.1 -1.4 -8.2 0.7 -7.1 1.3z"/><path color="#008cff" d="M364.9 988l7.1 -1.3 -8.2 0.6 -7.1 1.4z"/><path color="#ff6700" d="M685.1 877.7l7.1 -1.8 -8.2 -2.1 -7.1 1.8z"/><path color="#ff6f00" d="M678 879.6l7.1 -1.9 -8.2 -2.1 -7.1 1.9z"/><path color="#ff7800" d="M670.9 881.7l7.1 -2.1 -8.2 -2.1 -7.1 2.1z"/><path color="#ff8200" d="M663.8 883.9l7.1 -2.2 -8.2 -2.1 -7.1 2.2z"/><path color="#ff8c00" d="M656.7 886.2l7.1 -2.3 -8.2 -2.1 -7.1 2.3z"/><path color="#ff9700" d="M649.6 888.7l7.1 -2.5 -8.2 -2.1 -7.1 2.4z"/><path color="#ffa300" d="M642.5 891.1l7.1 -2.4 -8.2 -2.2 -7.1 2.4z"/><path color="#ffaf00" d="M635.4 893.7l7.1 -2.6 -8.2 -2.2 -7 2.6z"/><path color="#ffbb00" d="M628.4 896.3l7 -2.6 -8.1 -2.2 -7.1 2.6z"/><path color="#ffc800" d="M621.3 899l7.1 -2.7 -8.2 -2.2 -7.1 2.7z"/><path color="#ffd600" d="M614.2 901.7l7.1 -2.7 -8.2 -2.2 -7.1 2.8z"/><path color="#ffe300" d="M607.1 904.5l7.1 -2.8 -8.2 -2.1 -7.1 2.8z"/><path color="#fff100" d="M600 907.2l7.1 -2.7 -8.2 -2.1 -7.1 2.8z"/><path color="#fffe00" d="M592.9 910l7.1 -2.8 -8.2 -2 -7.1 2.9z"/><path color="#f2ff0d" d="M585.8 912.8l7.1 -2.8 -8.2 -1.9 -7.1 2.9z"/><path color="#e3ff1c" d="M578.7 915.7l7.1 -2.9 -8.2 -1.8 -7.1 3z"/><path color="#d4ff2b" d="M571.6 918.8l7.1 -3.1 -8.2 -1.7 -7.1 3.1z"/><path color="#c4ff3b" d="M564.5 921.9l7.1 -3.1 -8.2 -1.7 -7 3.4z"/><path color="#b3ff4c" d="M557.5 925.2l7 -3.3 -8.1 -1.4 -7.1 3.4z"/><path color="#a1ff5e" d="M550.4 928.5l7.1 -3.3 -8.2 -1.3 -7.1 3.6z"/><path color="#8fff70" d="M543.3 931.9l7.1 -3.4 -8.2 -1 -7.1 3.6z"/><path color="#7dff82" d="M536.2 935.4l7.1 -3.5 -8.2 -0.8 -7.1 3.6z"/><path color="#6bff94" d="M529.1 938.8l7.1 -3.4 -8.2 -0.7 -7.1 3.6z"/><path color="#59ffa6" d="M522 942.1l7.1 -3.3 -8.2 -0.5 -7.1 3.6z"/><path color="#47ffb8" d="M514.9 945.5l7.1 -3.4 -8.2 -0.2 -7.1 3.5z"/><path color="#37ffc8" d="M507.8 948.7l7.1 -3.2 -8.2 -0.1 -7.1 3.4z"/><path color="#27ffd8" d="M500.7 951.8l7.1 -3.1 -8.2 0.1 -7.1 3.3z"/><path color="#17ffe8" d="M493.6 954.8l7.1 -3 -8.2 0.3 -7 3.1z"/><path color="#0afff5" d="M486.6 957.6l7 -2.8 -8.1 0.4 -7.1 2.9z"/><path color="#00fcff" d="M479.5 960.2l7.1 -2.6 -8.2 0.5 -7.1 2.7z"/><path color="#00f1ff" d="M472.4 962.7l7.1 -2.5 -8.2 0.6 -7.1 2.5z"/><path color="#00e6ff" d="M465.3 965.1l7.1 -2.4 -8.2 0.6 -7.1 2.4z"/><path color="#00dcff" d="M458.2 967.3l7.1 -2.2 -8.2 0.6 -7.1 2.3z"/><path color="#00d2ff" d="M451.1 969.5l7.1 -2.2 -8.2 0.7 -7.1 2.1z"/><path color="#00caff" d="M444 971.6l7.1 -2.1 -8.2 0.6 -7.1 2z"/><path color="#00c1ff" d="M436.9 973.6l7.1 -2 -8.2 0.5 -7.1 1.9z"/><path color="#00baff" d="M429.8 975.5l7.1 -1.9 -8.2 0.4 -7.1 1.9z"/><path color="#00b3ff" d="M422.7 977.4l7.1 -1.9 -8.2 0.4 -7 1.7z"/><path color="#00acff" d="M415.7 979.1l7 -1.7 -8.1 0.2 -7.1 1.7z"/><path color="#00a6ff" d="M408.6 980.8l7.1 -1.7 -8.2 0.2 -7.1 1.6z"/><path color="#00a1ff" d="M401.5 982.4l7.1 -1.6 -8.2 0.1 -7.1 1.5z"/><path color="#009cff" d="M394.4 984l7.1 -1.6 -8.2 0 -7.1 1.5z"/><path color="#0097ff" d="M387.3 985.5l7.1 -1.5 -8.2 -0.1 -7.1 1.4z"/><path color="#0093ff" d="M380.2 986.9l7.1 -1.4 -8.2 -0.2 -7.1 1.4z"/><path color="#008fff" d="M373.1 988.3l7.1 -1.4 -8.2 -0.2 -7.1 1.3z"/><path color="#ff6e00" d="M693.3 879.3l7.1 -1.7 -8.2 -1.7 -7.1 1.8z"/><path color="#ff7600" d="M686.2 881.3l7.1 -2 -8.2 -1.6 -7.1 1.9z"/><path color="#ff7f00" d="M679.1 883.4l7.1 -2.1 -8.2 -1.7 -7.1 2.1z"/><path color="#ff8900" d="M672 885.6l7.1 -2.2 -8.2 -1.7 -7.1 2.2z"/><path color="#ff9300" d="M664.9 888l7.1 -2.4 -8.2 -1.7 -7.1 2.3z"/><path color="#ff9e00" d="M657.8 890.4l7.1 -2.4 -8.2 -1.8 -7.1 2.5z"/><path color="#ffaa00" d="M650.7 892.8l7.1 -2.4 -8.2 -1.7 -7.1 2.4z"/><path color="#ffb500" d="M643.6 895.3l7.1 -2.5 -8.2 -1.7 -7.1 2.6z"/><path color="#ffc100" d="M636.5 897.9l7.1 -2.6 -8.2 -1.6 -7 2.6z"/><path color="#ffce00" d="M629.4 900.5l7.1 -2.6 -8.1 -1.6 -7.1 2.7z"/><path color="#ffdb00" d="M622.4 903.2l7 -2.7 -8.1 -1.5 -7.1 2.7z"/><path color="#ffe800" d="M615.3 905.8l7.1 -2.6 -8.2 -1.5 -7.1 2.8z"/><path color="#fff500" d="M608.2 908.5l7.1 -2.7 -8.2 -1.3 -7.1 2.7z"/><path color="#fcff03" d="M601.1 911.3l7.1 -2.8 -8.2 -1.3 -7.1 2.8z"/><path color="#efff10" d="M594 914l7.1 -2.7 -8.2 -1.3 -7.1 2.8z"/><path color="#e1ff1e" d="M586.9 916.8l7.1 -2.8 -8.2 -1.2 -7.1 2.9z"/><path color="#d2ff2d" d="M579.8 919.7l7.1 -2.9 -8.2 -1.1 -7.1 3.1z"/><path color="#c3ff3c" d="M572.7 922.7l7.1 -3 -8.2 -0.9 -7.1 3.1z"/><path color="#b3ff4c" d="M565.6 925.9l7.1 -3.2 -8.2 -0.8 -7 3.3z"/><path color="#a2ff5d" d="M558.6 929.1l7 -3.2 -8.1 -0.7 -7.1 3.3z"/><path color="#91ff6e" d="M551.5 932.3l7.1 -3.2 -8.2 -0.6 -7.1 3.4z"/><path color="#80ff7f" d="M544.4 935.6l7.1 -3.3 -8.2 -0.4 -7.1 3.5z"/><path color="#6fff90" d="M537.3 938.9l7.1 -3.3 -8.2 -0.2 -7.1 3.4z"/><path color="#5effa1" d="M530.2 942.1l7.1 -3.2 -8.2 -0.1 -7.1 3.3z"/><path color="#4dffb2" d="M523.1 945.3l7.1 -3.2 -8.2 0 -7.1 3.4z"/><path color="#3dffc2" d="M516 948.5l7.1 -3.2 -8.2 0.2 -7.1 3.2z"/><path color="#2effd1" d="M508.9 951.5l7.1 -3 -8.2 0.2 -7.1 3.1z"/><path color="#1fffe0" d="M501.8 954.4l7.1 -2.9 -8.2 0.3 -7.1 3z"/><path color="#12ffed" d="M494.7 957.2l7.1 -2.8 -8.2 0.4 -7 2.8z"/><path color="#05fffa" d="M487.7 959.8l7 -2.6 -8.1 0.4 -7.1 2.6z"/><path color="#00f9ff" d="M480.6 962.3l7.1 -2.5 -8.2 0.4 -7.1 2.5z"/><path color="#00edff" d="M473.5 964.7l7.1 -2.4 -8.2 0.4 -7.1 2.4z"/><path color="#00e3ff" d="M466.4 967.1l7.1 -2.4 -8.2 0.4 -7.1 2.2z"/><path color="#00d9ff" d="M459.3 969.3l7.1 -2.2 -8.2 0.2 -7.1 2.2z"/><path color="#00cfff" d="M452.2 971.5l7.1 -2.2 -8.2 0.2 -7.1 2.1z"/><path color="#00c6ff" d="M445.1 973.7l7.1 -2.2 -8.2 0.1 -7.1 2z"/><path color="#00bdff" d="M438 975.8l7.1 -2.1 -8.2 -0.1 -7.1 1.9z"/><path color="#00b5ff" d="M430.9 977.8l7.1 -2 -8.2 -0.3 -7.1 1.9z"/><path color="#00aeff" d="M423.8 979.7l7.1 -1.9 -8.2 -0.4 -7 1.7z"/><path color="#00a6ff" d="M416.8 981.5l7 -1.8 -8.1 -0.6 -7.1 1.7z"/><path color="#00a0ff" d="M409.7 983.3l7.1 -1.8 -8.2 -0.7 -7.1 1.6z"/><path color="#009aff" d="M402.6 985l7.1 -1.7 -8.2 -0.9 -7.1 1.6z"/><path color="#0094ff" d="M395.5 986.6l7.1 -1.6 -8.2 -1 -7.1 1.5z"/><path color="#0090ff" d="M388.4 988.1l7.1 -1.5 -8.2 -1.1 -7.1 1.4z"/><path color="#008bff" d="M381.3 989.6l7.1 -1.5 -8.2 -1.2 -7.1 1.4z"/><path color="#ff7300" d="M701.4 880.8l7.1 -1.7 -8.1 -1.5 -7.1 1.7z"/><path color="#ff7b00" d="M694.4 882.7l7 -1.9 -8.1 -1.5 -7.1 2z"/><path color="#ff8400" d="M687.3 884.8l7.1 -2.1 -8.2 -1.4 -7.1 2.1z"/><path color="#ff8e00" d="M680.2 887.1l7.1 -2.3 -8.2 -1.4 -7.1 2.2z"/><path color="#ff9800" d="M673.1 889.4l7.1 -2.3 -8.2 -1.5 -7.1 2.4z"/><path color="#ffa300" d="M666 891.7l7.1 -2.3 -8.2 -1.4 -7.1 2.4z"/><path color="#ffae00" d="M658.9 894.1l7.1 -2.4 -8.2 -1.3 -7.1 2.4z"/><path color="#ffb900" d="M651.8 896.6l7.1 -2.5 -8.2 -1.3 -7.1 2.5z"/><path color="#ffc500" d="M644.7 899.1l7.1 -2.5 -8.2 -1.3 -7.1 2.6z"/><path color="#ffd000" d="M637.6 901.6l7.1 -2.5 -8.2 -1.2 -7.1 2.6z"/><path color="#ffdd00" d="M630.5 904.1l7.1 -2.5 -8.2 -1.1 -7 2.7z"/><path color="#ffe900" d="M623.5 906.7l7 -2.6 -8.1 -0.9 -7.1 2.6z"/><path color="#fff500" d="M616.4 909.4l7.1 -2.7 -8.2 -0.9 -7.1 2.7z"/><path color="#fcff03" d="M609.3 912l7.1 -2.6 -8.2 -0.9 -7.1 2.8z"/><path color="#efff10" d="M602.2 914.6l7.1 -2.6 -8.2 -0.7 -7.1 2.7z"/><path color="#e2ff1d" d="M595.1 917.3l7.1 -2.7 -8.2 -0.6 -7.1 2.8z"/><path color="#d4ff2b" d="M588 920.2l7.1 -2.9 -8.2 -0.5 -7.1 2.9z"/><path color="#c5ff3a" d="M580.9 923.1l7.1 -2.9 -8.2 -0.5 -7.1 3z"/><path color="#b6ff49" d="M573.8 926.2l7.1 -3.1 -8.2 -0.4 -7.1 3.2z"/><path color="#a6ff59" d="M566.7 929.3l7.1 -3.1 -8.2 -0.3 -7 3.2z"/><path color="#96ff69" d="M559.6 932.4l7.1 -3.1 -8.1 -0.2 -7.1 3.2z"/><path color="#85ff7a" d="M552.6 935.6l7 -3.2 -8.1 -0.1 -7.1 3.3z"/><path color="#75ff8a" d="M545.5 938.8l7.1 -3.2 -8.2 0 -7.1 3.3z"/><path color="#64ff9b" d="M538.4 941.9l7.1 -3.1 -8.2 0.1 -7.1 3.2z"/><path color="#54ffab" d="M531.3 945l7.1 -3.1 -8.2 0.2 -7.1 3.2z"/><path color="#45ffba" d="M524.2 948.1l7.1 -3.1 -8.2 0.3 -7.1 3.2z"/><path color="#36ffc9" d="M517.1 951.1l7.1 -3 -8.2 0.4 -7.1 3z"/><path color="#27ffd8" d="M510 954l7.1 -2.9 -8.2 0.4 -7.1 2.9z"/><path color="#19ffe6" d="M502.9 956.8l7.1 -2.8 -8.2 0.4 -7.1 2.8z"/><path color="#0dfff2" d="M495.8 959.4l7.1 -2.6 -8.2 0.4 -7 2.6z"/><path color="#01fffe" d="M488.7 962l7.1 -2.6 -8.1 0.4 -7.1 2.5z"/><path color="#00f4ff" d="M481.7 964.5l7 -2.5 -8.1 0.3 -7.1 2.4z"/><path color="#00e8ff" d="M474.6 967l7.1 -2.5 -8.2 0.2 -7.1 2.4z"/><path color="#00ddff" d="M467.5 969.4l7.1 -2.4 -8.2 0.1 -7.1 2.2z"/><path color="#00d2ff" d="M460.4 971.8l7.1 -2.4 -8.2 -0.1 -7.1 2.2z"/><path color="#00c8ff" d="M453.3 974.1l7.1 -2.3 -8.2 -0.3 -7.1 2.2z"/><path color="#00beff" d="M446.2 976.4l7.1 -2.3 -8.2 -0.4 -7.1 2.1z"/><path color="#00b4ff" d="M439.1 978.6l7.1 -2.2 -8.2 -0.6 -7.1 2z"/><path color="#00abff" d="M432 980.7l7.1 -2.1 -8.2 -0.8 -7.1 1.9z"/><path color="#00a3ff" d="M424.9 982.8l7.1 -2.1 -8.2 -1 -7 1.8z"/><path color="#009bff" d="M417.8 984.7l7.1 -1.9 -8.1 -1.3 -7.1 1.8z"/><path color="#0094ff" d="M410.8 986.6l7 -1.9 -8.1 -1.4 -7.1 1.7z"/><path color="#008dff" d="M403.7 988.3l7.1 -1.7 -8.2 -1.6 -7.1 1.6z"/><path color="#0087ff" d="M396.6 990l7.1 -1.7 -8.2 -1.7 -7.1 1.5z"/><path color="#0082ff" d="M389.5 991.6l7.1 -1.6 -8.2 -1.9 -7.1 1.5z"/><path color="#ff7700" d="M709.6 881.9l7.1 -1.6 -8.2 -1.2 -7.1 1.7z"/><path color="#ff7e00" d="M702.5 883.9l7.1 -2 -8.2 -1.1 -7 1.9z"/><path color="#ff8700" d="M695.5 886l7 -2.1 -8.1 -1.2 -7.1 2.1z"/><path color="#ff9100" d="M688.4 888.3l7.1 -2.3 -8.2 -1.2 -7.1 2.3z"/><path color="#ff9b00" d="M681.3 890.5l7.1 -2.2 -8.2 -1.2 -7.1 2.3z"/><path color="#ffa600" d="M674.2 892.8l7.1 -2.3 -8.2 -1.1 -7.1 2.3z"/><path color="#ffb000" d="M667.1 895.2l7.1 -2.4 -8.2 -1.1 -7.1 2.4z"/><path color="#ffbb00" d="M660 897.5l7.1 -2.3 -8.2 -1.1 -7.1 2.5z"/><path color="#ffc500" d="M652.9 899.9l7.1 -2.4 -8.2 -0.9 -7.1 2.5z"/><path color="#ffd000" d="M645.8 902.3l7.1 -2.4 -8.2 -0.8 -7.1 2.5z"/><path color="#ffdc00" d="M638.7 904.7l7.1 -2.4 -8.2 -0.7 -7.1 2.5z"/><path color="#ffe700" d="M631.6 907.2l7.1 -2.5 -8.2 -0.6 -7 2.6z"/><path color="#fff300" d="M624.6 909.7l7 -2.5 -8.1 -0.5 -7.1 2.7z"/><path color="#ffff00" d="M617.5 912.3l7.1 -2.6 -8.2 -0.3 -7.1 2.6z"/><path color="#f3ff0c" d="M610.4 914.8l7.1 -2.5 -8.2 -0.3 -7.1 2.6z"/><path color="#e6ff19" d="M603.3 917.5l7.1 -2.7 -8.2 -0.2 -7.1 2.7z"/><path color="#d9ff26" d="M596.2 920.3l7.1 -2.8 -8.2 -0.2 -7.1 2.9z"/><path color="#caff35" d="M589.1 923.1l7.1 -2.8 -8.2 -0.1 -7.1 2.9z"/><path color="#bbff44" d="M582 926.1l7.1 -3 -8.2 0 -7.1 3.1z"/><path color="#acff53" d="M574.9 929.1l7.1 -3 -8.2 0.1 -7.1 3.1z"/><path color="#9cff63" d="M567.8 932.2l7.1 -3.1 -8.2 0.2 -7.1 3.1z"/><path color="#8cff73" d="M560.7 935.3l7.1 -3.1 -8.2 0.2 -7 3.2z"/><path color="#7cff83" d="M553.7 938.4l7 -3.1 -8.1 0.3 -7.1 3.2z"/><path color="#6cff93" d="M546.6 941.5l7.1 -3.1 -8.2 0.4 -7.1 3.1z"/><path color="#5cffa3" d="M539.5 944.6l7.1 -3.1 -8.2 0.4 -7.1 3.1z"/><path color="#4dffb2" d="M532.4 947.7l7.1 -3.1 -8.2 0.4 -7.1 3.1z"/><path color="#3effc1" d="M525.3 950.7l7.1 -3 -8.2 0.4 -7.1 3z"/><path color="#2fffd0" d="M518.2 953.6l7.1 -2.9 -8.2 0.4 -7.1 2.9z"/><path color="#21ffde" d="M511.1 956.4l7.1 -2.8 -8.2 0.4 -7.1 2.8z"/><path color="#14ffeb" d="M504 959.1l7.1 -2.7 -8.2 0.4 -7.1 2.6z"/><path color="#07fff8" d="M496.9 961.7l7.1 -2.6 -8.2 0.3 -7.1 2.6z"/><path color="#00faff" d="M489.8 964.4l7.1 -2.7 -8.2 0.3 -7 2.5z"/><path color="#00edff" d="M482.8 967.1l7 -2.7 -8.1 0.1 -7.1 2.5z"/><path color="#00e0ff" d="M475.7 969.7l7.1 -2.6 -8.2 -0.1 -7.1 2.4z"/><path color="#00d4ff" d="M468.6 972.3l7.1 -2.6 -8.2 -0.3 -7.1 2.4z"/><path color="#00c8ff" d="M461.5 974.9l7.1 -2.6 -8.2 -0.5 -7.1 2.3z"/><path color="#00bcff" d="M454.4 977.4l7.1 -2.5 -8.2 -0.8 -7.1 2.3z"/><path color="#00b1ff" d="M447.3 979.8l7.1 -2.4 -8.2 -1 -7.1 2.2z"/><path color="#00a6ff" d="M440.2 982.2l7.1 -2.4 -8.2 -1.2 -7.1 2.1z"/><path color="#009cff" d="M433.1 984.5l7.1 -2.3 -8.2 -1.5 -7.1 2.1z"/><path color="#0092ff" d="M426 986.6l7.1 -2.1 -8.2 -1.7 -7.1 1.9z"/><path color="#008aff" d="M418.9 988.7l7.1 -2.1 -8.2 -1.9 -7 1.9z"/><path color="#0082ff" d="M411.9 990.7l7 -2 -8.1 -2.1 -7.1 1.7z"/><path color="#007bff" d="M404.8 992.5l7.1 -1.8 -8.2 -2.4 -7.1 1.7z"/><path color="#0075ff" d="M397.7 994.1l7.1 -1.6 -8.2 -2.5 -7.1 1.6z"/><path color="#ff7900" d="M717.8 882.9l7.1 -1.6 -8.2 -1 -7.1 1.6z"/><path color="#ff8000" d="M710.7 884.9l7.1 -2 -8.2 -1 -7.1 2z"/><path color="#ff8900" d="M703.6 887l7.1 -2.1 -8.2 -1 -7 2.1z"/><path color="#ff9300" d="M696.5 889.2l7.1 -2.2 -8.1 -1 -7.1 2.3z"/><path color="#ff9d00" d="M689.5 891.5l7 -2.3 -8.1 -0.9 -7.1 2.2z"/><path color="#ffa700" d="M682.4 893.7l7.1 -2.2 -8.2 -1 -7.1 2.3z"/><path color="#ffb000" d="M675.3 895.9l7.1 -2.2 -8.2 -0.9 -7.1 2.4z"/><path color="#ffba00" d="M668.2 898.1l7.1 -2.2 -8.2 -0.7 -7.1 2.3z"/><path color="#ffc400" d="M661.1 900.3l7.1 -2.2 -8.2 -0.6 -7.1 2.4z"/><path color="#ffce00" d="M654 902.6l7.1 -2.3 -8.2 -0.4 -7.1 2.4z"/><path color="#ffd800" d="M646.9 904.9l7.1 -2.3 -8.2 -0.3 -7.1 2.4z"/><path color="#ffe300" d="M639.8 907.3l7.1 -2.4 -8.2 -0.2 -7.1 2.5z"/><path color="#ffee00" d="M632.7 909.7l7.1 -2.4 -8.2 -0.1 -7 2.5z"/><path color="#fffa00" d="M625.6 912.2l7.1 -2.5 -8.1 0 -7.1 2.6z"/><path color="#f9ff06" d="M618.6 914.7l7 -2.5 -8.1 0.1 -7.1 2.5z"/><path color="#edff12" d="M611.5 917.3l7.1 -2.6 -8.2 0.1 -7.1 2.7z"/><path color="#dfff20" d="M604.4 920l7.1 -2.7 -8.2 0.2 -7.1 2.8z"/><path color="#d2ff2d" d="M597.3 922.8l7.1 -2.8 -8.2 0.3 -7.1 2.8z"/><path color="#c3ff3c" d="M590.2 925.7l7.1 -2.9 -8.2 0.3 -7.1 3z"/><path color="#b4ff4b" d="M583.1 928.7l7.1 -3 -8.2 0.4 -7.1 3z"/><path color="#a5ff5a" d="M576 931.7l7.1 -3 -8.2 0.4 -7.1 3.1z"/><path color="#95ff6a" d="M568.9 934.8l7.1 -3.1 -8.2 0.5 -7.1 3.1z"/><path color="#85ff7a" d="M561.8 937.9l7.1 -3.1 -8.2 0.5 -7 3.1z"/><path color="#75ff8a" d="M554.7 941l7.1 -3.1 -8.1 0.5 -7.1 3.1z"/><path color="#65ff9a" d="M547.7 944.1l7 -3.1 -8.1 0.5 -7.1 3.1z"/><path color="#56ffa9" d="M540.6 947.1l7.1 -3 -8.2 0.5 -7.1 3.1z"/><path color="#46ffb9" d="M533.5 950.2l7.1 -3.1 -8.2 0.6 -7.1 3z"/><path color="#37ffc8" d="M526.4 953.1l7.1 -2.9 -8.2 0.5 -7.1 2.9z"/><path color="#29ffd6" d="M519.3 956l7.1 -2.9 -8.2 0.5 -7.1 2.8z"/><path color="#1bffe4" d="M512.2 958.8l7.1 -2.8 -8.2 0.4 -7.1 2.7z"/><path color="#0dfff2" d="M505.1 961.6l7.1 -2.8 -8.2 0.3 -7.1 2.6z"/><path color="#00feff" d="M498 964.4l7.1 -2.8 -8.2 0.1 -7.1 2.7z"/><path color="#00f0ff" d="M490.9 967.3l7.1 -2.9 -8.2 0 -7 2.7z"/><path color="#00e2ff" d="M483.8 970.2l7.1 -2.9 -8.1 -0.2 -7.1 2.6z"/><path color="#00d4ff" d="M476.8 973l7 -2.8 -8.1 -0.5 -7.1 2.6z"/><path color="#00c6ff" d="M469.7 975.9l7.1 -2.9 -8.2 -0.7 -7.1 2.6z"/><path color="#00b8ff" d="M462.6 978.6l7.1 -2.7 -8.2 -1 -7.1 2.5z"/><path color="#00abff" d="M455.5 981.4l7.1 -2.8 -8.2 -1.2 -7.1 2.4z"/><path color="#009eff" d="M448.4 984l7.1 -2.6 -8.2 -1.6 -7.1 2.4z"/><path color="#0092ff" d="M441.3 986.6l7.1 -2.6 -8.2 -1.8 -7.1 2.3z"/><path color="#0087ff" d="M434.2 989l7.1 -2.4 -8.2 -2.1 -7.1 2.1z"/><path color="#007cff" d="M427.1 991.3l7.1 -2.3 -8.2 -2.4 -7.1 2.1z"/><path color="#0073ff" d="M420 993.5l7.1 -2.2 -8.2 -2.6 -7 2z"/><path color="#006bff" d="M412.9 995.5l7.1 -2 -8.1 -2.8 -7.1 1.8z"/><path color="#0064ff" d="M405.9 997.2l7 -1.7 -8.1 -3 -7.1 1.6z"/><path color="#ff7a00" d="M726 883.8l7.1 -1.6 -8.2 -0.9 -7.1 1.6z"/><path color="#ff8100" d="M718.9 885.7l7.1 -1.9 -8.2 -0.9 -7.1 2z"/><path color="#ff8a00" d="M711.8 887.8l7.1 -2.1 -8.2 -0.8 -7.1 2.1z"/><path color="#ff9400" d="M704.7 890l7.1 -2.2 -8.2 -0.8 -7.1 2.2z"/><path color="#ff9d00" d="M697.6 892.2l7.1 -2.2 -8.2 -0.8 -7 2.3z"/><path color="#ffa600" d="M690.6 894.3l7 -2.1 -8.1 -0.7 -7.1 2.2z"/><path color="#ffaf00" d="M683.5 896.4l7.1 -2.1 -8.2 -0.6 -7.1 2.2z"/><path color="#ffb800" d="M676.4 898.5l7.1 -2.1 -8.2 -0.5 -7.1 2.2z"/><path color="#ffc000" d="M669.3 900.6l7.1 -2.1 -8.2 -0.4 -7.1 2.2z"/><path color="#ffc900" d="M662.2 902.7l7.1 -2.1 -8.2 -0.3 -7.1 2.3z"/><path color="#ffd300" d="M655.1 904.9l7.1 -2.2 -8.2 -0.1 -7.1 2.3z"/><path color="#ffdd00" d="M648 907.1l7.1 -2.2 -8.2 0 -7.1 2.4z"/><path color="#ffe700" d="M640.9 909.4l7.1 -2.3 -8.2 0.2 -7.1 2.4z"/><path color="#fff200" d="M633.8 911.8l7.1 -2.4 -8.2 0.3 -7.1 2.5z"/><path color="#fffd00" d="M626.7 914.2l7.1 -2.4 -8.2 0.4 -7 2.5z"/><path color="#f5ff0a" d="M619.7 916.8l7 -2.6 -8.1 0.5 -7.1 2.6z"/><path color="#e8ff17" d="M612.6 919.4l7.1 -2.6 -8.2 0.5 -7.1 2.7z"/><path color="#dbff24" d="M605.5 922.2l7.1 -2.8 -8.2 0.6 -7.1 2.8z"/><path color="#cdff32" d="M598.4 925l7.1 -2.8 -8.2 0.6 -7.1 2.9z"/><path color="#beff41" d="M591.3 928l7.1 -3 -8.2 0.7 -7.1 3z"/><path color="#aeff51" d="M584.2 931l7.1 -3 -8.2 0.7 -7.1 3z"/><path color="#9fff60" d="M577.1 934.1l7.1 -3.1 -8.2 0.7 -7.1 3.1z"/><path color="#8fff70" d="M570 937.2l7.1 -3.1 -8.2 0.7 -7.1 3.1z"/><path color="#7fff80" d="M562.9 940.3l7.1 -3.1 -8.2 0.7 -7.1 3.1z"/><path color="#6fff90" d="M555.8 943.4l7.1 -3.1 -8.2 0.7 -7 3.1z"/><path color="#5fffa0" d="M548.8 946.6l7 -3.2 -8.1 0.7 -7.1 3z"/><path color="#4fffb0" d="M541.7 949.7l7.1 -3.1 -8.2 0.5 -7.1 3.1z"/><path color="#3fffc0" d="M534.6 952.7l7.1 -3 -8.2 0.5 -7.1 2.9z"/><path color="#30ffcf" d="M527.5 955.7l7.1 -3 -8.2 0.4 -7.1 2.9z"/><path color="#21ffde" d="M520.4 958.6l7.1 -2.9 -8.2 0.3 -7.1 2.8z"/><path color="#13ffec" d="M513.3 961.6l7.1 -3 -8.2 0.2 -7.1 2.8z"/><path color="#03fffc" d="M506.2 964.6l7.1 -3 -8.2 0 -7.1 2.8z"/><path color="#00f2ff" d="M499.1 967.7l7.1 -3.1 -8.2 -0.2 -7.1 2.9z"/><path color="#00e2ff" d="M492 970.8l7.1 -3.1 -8.2 -0.4 -7.1 2.9z"/><path color="#00d2ff" d="M484.9 973.9l7.1 -3.1 -8.2 -0.6 -7 2.8z"/><path color="#00c2ff" d="M477.9 977.1l7 -3.2 -8.1 -0.9 -7.1 2.9z"/><path color="#00b2ff" d="M470.8 980.2l7.1 -3.1 -8.2 -1.2 -7.1 2.7z"/><path color="#00a3ff" d="M463.7 983.2l7.1 -3 -8.2 -1.6 -7.1 2.8z"/><path color="#0094ff" d="M456.6 986.2l7.1 -3 -8.2 -1.8 -7.1 2.6z"/><path color="#0086ff" d="M449.5 989l7.1 -2.8 -8.2 -2.2 -7.1 2.6z"/><path color="#0079ff" d="M442.4 991.7l7.1 -2.7 -8.2 -2.4 -7.1 2.4z"/><path color="#006dff" d="M435.3 994.3l7.1 -2.6 -8.2 -2.7 -7.1 2.3z"/><path color="#0062ff" d="M428.2 996.7l7.1 -2.4 -8.2 -3 -7.1 2.2z"/><path color="#0058ff" d="M421.1 998.8l7.1 -2.1 -8.2 -3.2 -7.1 2z"/><path color="#0051ff" d="M414 1000.8l7.1 -2 -8.2 -3.3 -7 1.7z"/><path color="#ff7a00" d="M734.2 884.6l7.1 -1.5 -8.2 -0.9 -7.1 1.6z"/><path color="#ff8200" d="M727.1 886.5l7.1 -1.9 -8.2 -0.8 -7.1 1.9z"/><path color="#ff8a00" d="M720 888.6l7.1 -2.1 -8.2 -0.8 -7.1 2.1z"/><path color="#ff9400" d="M712.9 890.7l7.1 -2.1 -8.2 -0.8 -7.1 2.2z"/><path color="#ff9c00" d="M705.8 892.8l7.1 -2.1 -8.2 -0.7 -7.1 2.2z"/><path color="#ffa500" d="M698.7 894.8l7.1 -2 -8.2 -0.6 -7 2.1z"/><path color="#ffad00" d="M691.6 896.8l7.1 -2 -8.1 -0.5 -7.1 2.1z"/><path color="#ffb400" d="M684.6 898.7l7 -1.9 -8.1 -0.4 -7.1 2.1z"/><path color="#ffbc00" d="M677.5 900.6l7.1 -1.9 -8.2 -0.2 -7.1 2.1z"/><path color="#ffc400" d="M670.4 902.6l7.1 -2 -8.2 0 -7.1 2.1z"/><path color="#ffcc00" d="M663.3 904.6l7.1 -2 -8.2 0.1 -7.1 2.2z"/><path color="#ffd500" d="M656.2 906.7l7.1 -2.1 -8.2 0.3 -7.1 2.2z"/><path color="#ffde00" d="M649.1 908.9l7.1 -2.2 -8.2 0.4 -7.1 2.3z"/><path color="#ffe800" d="M642 911.2l7.1 -2.3 -8.2 0.5 -7.1 2.4z"/><path color="#fff300" d="M634.9 913.5l7.1 -2.3 -8.2 0.6 -7.1 2.4z"/><path color="#ffff00" d="M627.8 916l7.1 -2.5 -8.2 0.7 -7 2.6z"/><path color="#f3ff0c" d="M620.8 918.6l7 -2.6 -8.1 0.8 -7.1 2.6z"/><path color="#e6ff19" d="M613.7 921.4l7.1 -2.8 -8.2 0.8 -7.1 2.8z"/><path color="#d7ff28" d="M606.6 924.2l7.1 -2.8 -8.2 0.8 -7.1 2.8z"/><path color="#c9ff36" d="M599.5 927.2l7.1 -3 -8.2 0.8 -7.1 3z"/><path color="#b9ff46" d="M592.4 930.2l7.1 -3 -8.2 0.8 -7.1 3z"/><path color="#a9ff56" d="M585.3 933.3l7.1 -3.1 -8.2 0.8 -7.1 3.1z"/><path color="#99ff66" d="M578.2 936.4l7.1 -3.1 -8.2 0.8 -7.1 3.1z"/><path color="#89ff76" d="M571.1 939.6l7.1 -3.2 -8.2 0.8 -7.1 3.1z"/><path color="#78ff87" d="M564 942.8l7.1 -3.2 -8.2 0.7 -7.1 3.1z"/><path color="#68ff97" d="M556.9 946l7.1 -3.2 -8.2 0.6 -7 3.2z"/><path color="#57ffa8" d="M549.8 949.1l7.1 -3.1 -8.1 0.6 -7.1 3.1z"/><path color="#47ffb8" d="M542.8 952.3l7 -3.2 -8.1 0.6 -7.1 3z"/><path color="#37ffc8" d="M535.7 955.4l7.1 -3.1 -8.2 0.4 -7.1 3z"/><path color="#27ffd8" d="M528.6 958.5l7.1 -3.1 -8.2 0.3 -7.1 2.9z"/><path color="#17ffe8" d="M521.5 961.6l7.1 -3.1 -8.2 0.1 -7.1 3z"/><path color="#06fff9" d="M514.4 964.9l7.1 -3.3 -8.2 0 -7.1 3z"/><path color="#00f4ff" d="M507.3 968.2l7.1 -3.3 -8.2 -0.3 -7.1 3.1z"/><path color="#00e2ff" d="M500.2 971.6l7.1 -3.4 -8.2 -0.5 -7.1 3.1z"/><path color="#00d0ff" d="M493.1 975l7.1 -3.4 -8.2 -0.8 -7.1 3.1z"/><path color="#00bdff" d="M486 978.5l7.1 -3.5 -8.2 -1.1 -7 3.2z"/><path color="#00abff" d="M478.9 981.9l7.1 -3.4 -8.1 -1.4 -7.1 3.1z"/><path color="#0099ff" d="M471.9 985.3l7 -3.4 -8.1 -1.7 -7.1 3z"/><path color="#0088ff" d="M464.8 988.5l7.1 -3.2 -8.2 -2.1 -7.1 3z"/><path color="#0078ff" d="M457.7 991.7l7.1 -3.2 -8.2 -2.3 -7.1 2.8z"/><path color="#0069ff" d="M450.6 994.7l7.1 -3 -8.2 -2.7 -7.1 2.7z"/><path color="#005bff" d="M443.5 997.5l7.1 -2.8 -8.2 -3 -7.1 2.6z"/><path color="#004eff" d="M436.4 1000.1l7.1 -2.6 -8.2 -3.2 -7.1 2.4z"/><path color="#0043ff" d="M429.3 1002.5l7.1 -2.4 -8.2 -3.4 -7.1 2.1z"/><path color="#003aff" d="M422.2 1004.6l7.1 -2.1 -8.2 -3.7 -7.1 2z"/><path color="#ff7c00" d="M742.4 885.5l7.1 -1.4 -8.2 -1 -7.1 1.5z"/><path color="#ff8300" d="M735.3 887.3l7.1 -1.8 -8.2 -0.9 -7.1 1.9z"/><path color="#ff8b00" d="M728.2 889.3l7.1 -2 -8.2 -0.8 -7.1 2.1z"/><path color="#ff9300" d="M721.1 891.4l7.1 -2.1 -8.2 -0.7 -7.1 2.1z"/><path color="#ff9c00" d="M714 893.4l7.1 -2 -8.2 -0.7 -7.1 2.1z"/><path color="#ffa300" d="M706.9 895.3l7.1 -1.9 -8.2 -0.6 -7.1 2z"/><path color="#ffa900" d="M699.8 897.1l7.1 -1.8 -8.2 -0.5 -7.1 2z"/><path color="#ffb000" d="M692.7 898.8l7.1 -1.7 -8.2 -0.3 -7 1.9z"/><path color="#ffb600" d="M685.7 900.5l7 -1.7 -8.1 -0.1 -7.1 1.9z"/><path color="#ffbd00" d="M678.6 902.3l7.1 -1.8 -8.2 0.1 -7.1 2z"/><path color="#ffc400" d="M671.5 904.2l7.1 -1.9 -8.2 0.3 -7.1 2z"/><path color="#ffcc00" d="M664.4 906.1l7.1 -1.9 -8.2 0.4 -7.1 2.1z"/><path color="#ffd400" d="M657.3 908.2l7.1 -2.1 -8.2 0.6 -7.1 2.2z"/><path color="#ffde00" d="M650.2 910.4l7.1 -2.2 -8.2 0.7 -7.1 2.3z"/><path color="#ffe800" d="M643.1 912.6l7.1 -2.2 -8.2 0.8 -7.1 2.3z"/><path color="#fff300" d="M636 915.1l7.1 -2.5 -8.2 0.9 -7.1 2.5z"/><path color="#ffff00" d="M628.9 917.7l7.1 -2.6 -8.2 0.9 -7 2.6z"/><path color="#f1ff0e" d="M621.8 920.4l7.1 -2.7 -8.1 0.9 -7.1 2.8z"/><path color="#e3ff1c" d="M614.8 923.2l7 -2.8 -8.1 1 -7.1 2.8z"/><path color="#d4ff2b" d="M607.7 926.2l7.1 -3 -8.2 1 -7.1 3z"/><path color="#c5ff3a" d="M600.6 929.2l7.1 -3 -8.2 1 -7.1 3z"/><path color="#b5ff4a" d="M593.5 932.4l7.1 -3.2 -8.2 1 -7.1 3.1z"/><path color="#a4ff5b" d="M586.4 935.6l7.1 -3.2 -8.2 0.9 -7.1 3.1z"/><path color="#94ff6b" d="M579.3 938.8l7.1 -3.2 -8.2 0.8 -7.1 3.2z"/><path color="#82ff7d" d="M572.2 942.1l7.1 -3.3 -8.2 0.8 -7.1 3.2z"/><path color="#71ff8e" d="M565.1 945.3l7.1 -3.2 -8.2 0.7 -7.1 3.2z"/><path color="#60ff9f" d="M558 948.6l7.1 -3.3 -8.2 0.7 -7.1 3.1z"/><path color="#4fffb0" d="M550.9 951.9l7.1 -3.3 -8.2 0.5 -7 3.2z"/><path color="#3effc1" d="M543.9 955.2l7 -3.3 -8.1 0.4 -7.1 3.1z"/><path color="#2dffd2" d="M536.8 958.4l7.1 -3.2 -8.2 0.2 -7.1 3.1z"/><path color="#1cffe3" d="M529.7 961.7l7.1 -3.3 -8.2 0.1 -7.1 3.1z"/><path color="#09fff6" d="M522.6 965.2l7.1 -3.5 -8.2 -0.1 -7.1 3.3z"/><path color="#00f5ff" d="M515.5 968.8l7.1 -3.6 -8.2 -0.3 -7.1 3.3z"/><path color="#00e1ff" d="M508.4 972.5l7.1 -3.7 -8.2 -0.6 -7.1 3.4z"/><path color="#00ccff" d="M501.3 976.2l7.1 -3.7 -8.2 -0.9 -7.1 3.4z"/><path color="#00b7ff" d="M494.2 980l7.1 -3.8 -8.2 -1.2 -7.1 3.5z"/><path color="#00a3ff" d="M487.1 983.8l7.1 -3.8 -8.2 -1.5 -7.1 3.4z"/><path color="#008fff" d="M480 987.5l7.1 -3.7 -8.2 -1.9 -7 3.4z"/><path color="#007bff" d="M473 991.1l7 -3.6 -8.1 -2.2 -7.1 3.2z"/><path color="#0069ff" d="M465.9 994.6l7.1 -3.5 -8.2 -2.6 -7.1 3.2z"/><path color="#0057ff" d="M458.8 997.9l7.1 -3.3 -8.2 -2.9 -7.1 3z"/><path color="#0047ff" d="M451.7 1001l7.1 -3.1 -8.2 -3.2 -7.1 2.8z"/><path color="#0039ff" d="M444.6 1003.8l7.1 -2.8 -8.2 -3.5 -7.1 2.6z"/><path color="#002dff" d="M437.5 1006.4l7.1 -2.6 -8.2 -3.7 -7.1 2.4z"/><path color="#0023ff" d="M430.4 1008.7l7.1 -2.3 -8.2 -3.9 -7.1 2.1z"/><path color="#ff7e00" d="M750.6 886.5l7.1 -1.4 -8.2 -1 -7.1 1.4z"/><path color="#ff8400" d="M743.5 888.3l7.1 -1.8 -8.2 -1 -7.1 1.8z"/><path color="#ff8c00" d="M736.4 890.2l7.1 -1.9 -8.2 -1 -7.1 2z"/><path color="#ff9400" d="M729.3 892.1l7.1 -1.9 -8.2 -0.9 -7.1 2.1z"/><path color="#ff9b00" d="M722.2 894l7.1 -1.9 -8.2 -0.7 -7.1 2z"/><path color="#ffa100" d="M715.1 895.7l7.1 -1.7 -8.2 -0.6 -7.1 1.9z"/><path color="#ffa600" d="M708 897.3l7.1 -1.6 -8.2 -0.4 -7.1 1.8z"/><path color="#ffab00" d="M700.9 898.9l7.1 -1.6 -8.2 -0.2 -7.1 1.7z"/><path color="#ffb000" d="M693.8 900.4l7.1 -1.5 -8.2 -0.1 -7 1.7z"/><path color="#ffb600" d="M686.8 902l7 -1.6 -8.1 0.1 -7.1 1.8z"/><path color="#ffbb00" d="M679.7 903.7l7.1 -1.7 -8.2 0.3 -7.1 1.9z"/><path color="#ffc200" d="M672.6 905.5l7.1 -1.8 -8.2 0.5 -7.1 1.9z"/><path color="#ffca00" d="M665.5 907.4l7.1 -1.9 -8.2 0.6 -7.1 2.1z"/><path color="#ffd200" d="M658.4 909.4l7.1 -2 -8.2 0.8 -7.1 2.2z"/><path color="#ffdc00" d="M651.3 911.7l7.1 -2.3 -8.2 1 -7.1 2.2z"/><path color="#ffe700" d="M644.2 914.1l7.1 -2.4 -8.2 0.9 -7.1 2.5z"/><path color="#fff300" d="M637.1 916.6l7.1 -2.5 -8.2 1 -7.1 2.6z"/><path color="#feff01" d="M630 919.3l7.1 -2.7 -8.2 1.1 -7.1 2.7z"/><path color="#f0ff0f" d="M622.9 922.2l7.1 -2.9 -8.2 1.1 -7 2.8z"/><path color="#e1ff1e" d="M615.9 925.2l7 -3 -8.1 1 -7.1 3z"/><path color="#d1ff2e" d="M608.8 928.3l7.1 -3.1 -8.2 1 -7.1 3z"/><path color="#c1ff3e" d="M601.7 931.4l7.1 -3.1 -8.2 0.9 -7.1 3.2z"/><path color="#b0ff4f" d="M594.6 934.7l7.1 -3.3 -8.2 1 -7.1 3.2z"/><path color="#9eff61" d="M587.5 938l7.1 -3.3 -8.2 0.9 -7.1 3.2z"/><path color="#8cff73" d="M580.4 941.3l7.1 -3.3 -8.2 0.8 -7.1 3.3z"/><path color="#7aff85" d="M573.3 944.7l7.1 -3.4 -8.2 0.8 -7.1 3.2z"/><path color="#68ff97" d="M566.2 948.2l7.1 -3.5 -8.2 0.6 -7.1 3.3z"/><path color="#56ffa9" d="M559.1 951.6l7.1 -3.4 -8.2 0.4 -7.1 3.3z"/><path color="#44ffbb" d="M552 955l7.1 -3.4 -8.2 0.3 -7 3.3z"/><path color="#32ffcd" d="M545 958.4l7 -3.4 -8.1 0.2 -7.1 3.2z"/><path color="#1fffe0" d="M537.9 961.9l7.1 -3.5 -8.2 0 -7.1 3.3z"/><path color="#0bfff4" d="M530.8 965.6l7.1 -3.7 -8.2 -0.2 -7.1 3.5z"/><path color="#00f5ff" d="M523.7 969.5l7.1 -3.9 -8.2 -0.4 -7.1 3.6z"/><path color="#00dfff" d="M516.6 973.5l7.1 -4 -8.2 -0.7 -7.1 3.7z"/><path color="#00c8ff" d="M509.5 977.5l7.1 -4 -8.2 -1 -7.1 3.7z"/><path color="#00b1ff" d="M502.4 981.6l7.1 -4.1 -8.2 -1.3 -7.1 3.8z"/><path color="#009aff" d="M495.3 985.7l7.1 -4.1 -8.2 -1.6 -7.1 3.8z"/><path color="#0084ff" d="M488.2 989.8l7.1 -4.1 -8.2 -1.9 -7.1 3.7z"/><path color="#006eff" d="M481.1 993.7l7.1 -3.9 -8.2 -2.3 -7 3.6z"/><path color="#0059ff" d="M474.1 997.5l7 -3.8 -8.1 -2.6 -7.1 3.5z"/><path color="#0045ff" d="M467 1001.2l7.1 -3.7 -8.2 -2.9 -7.1 3.3z"/><path color="#0033ff" d="M459.9 1004.5l7.1 -3.3 -8.2 -3.3 -7.1 3.1z"/><path color="#0023ff" d="M452.8 1007.7l7.1 -3.2 -8.2 -3.5 -7.1 2.8z"/><path color="#0016ff" d="M445.7 1010.5l7.1 -2.8 -8.2 -3.9 -7.1 2.6z"/><path color="#000aff" d="M438.6 1012.9l7.1 -2.4 -8.2 -4.1 -7.1 2.3z"/><path color="#ff8100" d="M758.7 887.8l7.1 -1.4 -8.1 -1.3 -7.1 1.4z"/><path color="#ff8700" d="M751.7 889.4l7 -1.6 -8.1 -1.3 -7.1 1.8z"/><path color="#ff8e00" d="M744.6 891.2l7.1 -1.8 -8.2 -1.1 -7.1 1.9z"/><path color="#ff9500" d="M737.5 893l7.1 -1.8 -8.2 -1 -7.1 1.9z"/><path color="#ff9b00" d="M730.4 894.7l7.1 -1.7 -8.2 -0.9 -7.1 1.9z"/><path color="#ffa000" d="M723.3 896.3l7.1 -1.6 -8.2 -0.7 -7.1 1.7z"/><path color="#ffa400" d="M716.2 897.7l7.1 -1.4 -8.2 -0.6 -7.1 1.6z"/><path color="#ffa700" d="M709.1 899l7.1 -1.3 -8.2 -0.4 -7.1 1.6z"/><path color="#ffab00" d="M702 900.4l7.1 -1.4 -8.2 -0.1 -7.1 1.5z"/><path color="#ffaf00" d="M694.9 901.7l7.1 -1.3 -8.2 0 -7 1.6z"/><path color="#ffb300" d="M687.8 903.2l7.1 -1.5 -8.1 0.3 -7.1 1.7z"/><path color="#ffb800" d="M680.8 904.8l7 -1.6 -8.1 0.5 -7.1 1.8z"/><path color="#ffbf00" d="M673.7 906.6l7.1 -1.8 -8.2 0.7 -7.1 1.9z"/><path color="#ffc700" d="M666.6 908.5l7.1 -1.9 -8.2 0.8 -7.1 2z"/><path color="#ffd000" d="M659.5 910.7l7.1 -2.2 -8.2 0.9 -7.1 2.3z"/><path color="#ffda00" d="M652.4 913l7.1 -2.3 -8.2 1 -7.1 2.4z"/><path color="#ffe600" d="M645.3 915.5l7.1 -2.5 -8.2 1.1 -7.1 2.5z"/><path color="#fff300" d="M638.2 918.3l7.1 -2.8 -8.2 1.1 -7.1 2.7z"/><path color="#fcff03" d="M631.1 921.1l7.1 -2.8 -8.2 1 -7.1 2.9z"/><path color="#edff12" d="M624 924.1l7.1 -3 -8.2 1.1 -7 3z"/><path color="#ddff22" d="M616.9 927.2l7.1 -3.1 -8.1 1.1 -7.1 3.1z"/><path color="#ccff33" d="M609.9 930.5l7 -3.3 -8.1 1.1 -7.1 3.1z"/><path color="#bbff44" d="M602.8 933.8l7.1 -3.3 -8.2 0.9 -7.1 3.3z"/><path color="#a9ff56" d="M595.7 937.2l7.1 -3.4 -8.2 0.9 -7.1 3.3z"/><path color="#96ff69" d="M588.6 940.7l7.1 -3.5 -8.2 0.8 -7.1 3.3z"/><path color="#84ff7b" d="M581.5 944.2l7.1 -3.5 -8.2 0.6 -7.1 3.4z"/><path color="#70ff8f" d="M574.4 947.7l7.1 -3.5 -8.2 0.5 -7.1 3.5z"/><path color="#5dffa2" d="M567.3 951.3l7.1 -3.6 -8.2 0.5 -7.1 3.4z"/><path color="#4affb5" d="M560.2 954.8l7.1 -3.5 -8.2 0.3 -7.1 3.4z"/><path color="#37ffc8" d="M553.1 958.4l7.1 -3.6 -8.2 0.2 -7 3.4z"/><path color="#23ffdc" d="M546 962.1l7.1 -3.7 -8.1 0 -7.1 3.5z"/><path color="#0dfff2" d="M539 966l7 -3.9 -8.1 -0.2 -7.1 3.7z"/><path color="#00f5ff" d="M531.9 970.2l7.1 -4.2 -8.2 -0.4 -7.1 3.9z"/><path color="#00ddff" d="M524.8 974.5l7.1 -4.3 -8.2 -0.7 -7.1 4z"/><path color="#00c4ff" d="M517.7 978.9l7.1 -4.4 -8.2 -1 -7.1 4z"/><path color="#00aaff" d="M510.6 983.3l7.1 -4.4 -8.2 -1.4 -7.1 4.1z"/><path color="#0091ff" d="M503.5 987.8l7.1 -4.5 -8.2 -1.7 -7.1 4.1z"/><path color="#0078ff" d="M496.4 992.1l7.1 -4.3 -8.2 -2.1 -7.1 4.1z"/><path color="#0060ff" d="M489.3 996.4l7.1 -4.3 -8.2 -2.3 -7.1 3.9z"/><path color="#0049ff" d="M482.2 1000.6l7.1 -4.2 -8.2 -2.7 -7 3.8z"/><path color="#0033ff" d="M475.1 1004.5l7.1 -3.9 -8.1 -3.1 -7.1 3.7z"/><path color="#001fff" d="M468.1 1008.1l7 -3.6 -8.1 -3.3 -7.1 3.3z"/><path color="#000dff" d="M461 1011.5l7.1 -3.4 -8.2 -3.6 -7.1 3.2z"/><path color="#0000fd" d="M453.9 1014.5l7.1 -3 -8.2 -3.8 -7.1 2.8z"/><path color="#0000f1" d="M446.8 1017.1l7.1 -2.6 -8.2 -4 -7.1 2.4z"/><path color="#ff8600" d="M766.9 889.2l7.1 -1.3 -8.2 -1.5 -7.1 1.4z"/><path color="#ff8b00" d="M759.8 890.7l7.1 -1.5 -8.2 -1.4 -7 1.6z"/><path color="#ff9100" d="M752.8 892.4l7 -1.7 -8.1 -1.3 -7.1 1.8z"/><path color="#ff9700" d="M745.7 894.1l7.1 -1.7 -8.2 -1.2 -7.1 1.8z"/><path color="#ff9c00" d="M738.6 895.6l7.1 -1.5 -8.2 -1.1 -7.1 1.7z"/><path color="#ffa000" d="M731.5 897l7.1 -1.4 -8.2 -0.9 -7.1 1.6z"/><path color="#ffa300" d="M724.4 898.2l7.1 -1.2 -8.2 -0.7 -7.1 1.4z"/><path color="#ffa500" d="M717.3 899.4l7.1 -1.2 -8.2 -0.5 -7.1 1.3z"/><path color="#ffa600" d="M710.2 900.5l7.1 -1.1 -8.2 -0.4 -7.1 1.4z"/><path color="#ffa900" d="M703.1 901.6l7.1 -1.1 -8.2 -0.1 -7.1 1.3z"/><path color="#ffab00" d="M696 902.8l7.1 -1.2 -8.2 0.1 -7.1 1.5z"/><path color="#ffaf00" d="M688.9 904.2l7.1 -1.4 -8.2 0.4 -7 1.6z"/><path color="#ffb500" d="M681.9 905.8l7 -1.6 -8.1 0.6 -7.1 1.8z"/><path color="#ffbb00" d="M674.8 907.6l7.1 -1.8 -8.2 0.8 -7.1 1.9z"/><path color="#ffc400" d="M667.7 909.7l7.1 -2.1 -8.2 0.9 -7.1 2.2z"/><path color="#ffce00" d="M660.6 912l7.1 -2.3 -8.2 1 -7.1 2.3z"/><path color="#ffda00" d="M653.5 914.5l7.1 -2.5 -8.2 1 -7.1 2.5z"/><path color="#ffe700" d="M646.4 917.2l7.1 -2.7 -8.2 1 -7.1 2.8z"/><path color="#fff500" d="M639.3 920.1l7.1 -2.9 -8.2 1.1 -7.1 2.8z"/><path color="#f9ff06" d="M632.2 923.1l7.1 -3 -8.2 1 -7.1 3z"/><path color="#e9ff16" d="M625.1 926.3l7.1 -3.2 -8.2 1 -7.1 3.1z"/><path color="#d8ff27" d="M618 929.6l7.1 -3.3 -8.2 0.9 -7 3.3z"/><path color="#c6ff39" d="M611 933l7 -3.4 -8.1 0.9 -7.1 3.3z"/><path color="#b3ff4c" d="M603.9 936.5l7.1 -3.5 -8.2 0.8 -7.1 3.4z"/><path color="#a0ff5f" d="M596.8 940l7.1 -3.5 -8.2 0.7 -7.1 3.5z"/><path color="#8cff73" d="M589.7 943.6l7.1 -3.6 -8.2 0.7 -7.1 3.5z"/><path color="#78ff87" d="M582.6 947.3l7.1 -3.7 -8.2 0.6 -7.1 3.5z"/><path color="#64ff9b" d="M575.5 951l7.1 -3.7 -8.2 0.4 -7.1 3.6z"/><path color="#50ffaf" d="M568.4 954.8l7.1 -3.8 -8.2 0.3 -7.1 3.5z"/><path color="#3bffc4" d="M561.3 958.5l7.1 -3.7 -8.2 0 -7.1 3.6z"/><path color="#26ffd9" d="M554.2 962.4l7.1 -3.9 -8.2 -0.1 -7.1 3.7z"/><path color="#0ffff0" d="M547.1 966.5l7.1 -4.1 -8.2 -0.3 -7 3.9z"/><path color="#00f4ff" d="M540.1 971l7 -4.5 -8.1 -0.5 -7.1 4.2z"/><path color="#00daff" d="M533 975.5l7.1 -4.5 -8.2 -0.8 -7.1 4.3z"/><path color="#00bfff" d="M525.9 980.2l7.1 -4.7 -8.2 -1 -7.1 4.4z"/><path color="#00a3ff" d="M518.8 985l7.1 -4.8 -8.2 -1.3 -7.1 4.4z"/><path color="#0088ff" d="M511.7 989.8l7.1 -4.8 -8.2 -1.7 -7.1 4.5z"/><path color="#006cff" d="M504.6 994.5l7.1 -4.7 -8.2 -2 -7.1 4.3z"/><path color="#0052ff" d="M497.5 999.1l7.1 -4.6 -8.2 -2.4 -7.1 4.3z"/><path color="#0039ff" d="M490.4 1003.5l7.1 -4.4 -8.2 -2.7 -7.1 4.2z"/><path color="#0021ff" d="M483.3 1007.8l7.1 -4.3 -8.2 -2.9 -7.1 3.9z"/><path color="#000bff" d="M476.2 1011.7l7.1 -3.9 -8.2 -3.3 -7 3.6z"/><path color="#0000f7" d="M469.2 1015.3l7 -3.6 -8.1 -3.6 -7.1 3.4z"/><path color="#0000e6" d="M462.1 1018.5l7.1 -3.2 -8.2 -3.8 -7.1 3z"/><path color="#0000d8" d="M455 1021.3l7.1 -2.8 -8.2 -4 -7.1 2.6z"/><path color="#ff8c00" d="M775.1 890.7l7.1 -1.2 -8.2 -1.6 -7.1 1.3z"/><path color="#ff9100" d="M768 892.2l7.1 -1.5 -8.2 -1.5 -7.1 1.5z"/><path color="#ff9600" d="M760.9 893.8l7.1 -1.6 -8.2 -1.5 -7 1.7z"/><path color="#ff9b00" d="M753.8 895.3l7.1 -1.5 -8.1 -1.4 -7.1 1.7z"/><path color="#ff9f00" d="M746.8 896.7l7 -1.4 -8.1 -1.2 -7.1 1.5z"/><path color="#ffa100" d="M739.7 897.9l7.1 -1.2 -8.2 -1.1 -7.1 1.4z"/><path color="#ffa300" d="M732.6 899l7.1 -1.1 -8.2 -0.9 -7.1 1.2z"/><path color="#ffa400" d="M725.5 899.9l7.1 -0.9 -8.2 -0.8 -7.1 1.2z"/><path color="#ffa400" d="M718.4 900.8l7.1 -0.9 -8.2 -0.5 -7.1 1.1z"/><path color="#ffa400" d="M711.3 901.7l7.1 -0.9 -8.2 -0.3 -7.1 1.1z"/><path color="#ffa500" d="M704.2 902.7l7.1 -1 -8.2 -0.1 -7.1 1.2z"/><path color="#ffa700" d="M697.1 903.8l7.1 -1.1 -8.2 0.1 -7.1 1.4z"/><path color="#ffab00" d="M690 905.2l7.1 -1.4 -8.2 0.4 -7 1.6z"/><path color="#ffb100" d="M683 906.8l7 -1.6 -8.1 0.6 -7.1 1.8z"/><path color="#ffb900" d="M675.9 908.8l7.1 -2 -8.2 0.8 -7.1 2.1z"/><path color="#ffc300" d="M668.8 911l7.1 -2.2 -8.2 0.9 -7.1 2.3z"/><path color="#ffce00" d="M661.7 913.5l7.1 -2.5 -8.2 1 -7.1 2.5z"/><path color="#ffdb00" d="M654.6 916.2l7.1 -2.7 -8.2 1 -7.1 2.7z"/><path color="#ffea00" d="M647.5 919.1l7.1 -2.9 -8.2 1 -7.1 2.9z"/><path color="#fff900" d="M640.4 922.2l7.1 -3.1 -8.2 1 -7.1 3z"/><path color="#f4ff0b" d="M633.3 925.4l7.1 -3.2 -8.2 0.9 -7.1 3.2z"/><path color="#e2ff1d" d="M626.2 928.7l7.1 -3.3 -8.2 0.9 -7.1 3.3z"/><path color="#d0ff2f" d="M619.1 932.2l7.1 -3.5 -8.2 0.9 -7 3.4z"/><path color="#bdff42" d="M612.1 935.8l7 -3.6 -8.1 0.8 -7.1 3.5z"/><path color="#a9ff56" d="M605 939.5l7.1 -3.7 -8.2 0.7 -7.1 3.5z"/><path color="#94ff6b" d="M597.9 943.2l7.1 -3.7 -8.2 0.5 -7.1 3.6z"/><path color="#7fff80" d="M590.8 947l7.1 -3.8 -8.2 0.4 -7.1 3.7z"/><path color="#6aff95" d="M583.7 950.8l7.1 -3.8 -8.2 0.3 -7.1 3.7z"/><path color="#55ffaa" d="M576.6 954.7l7.1 -3.9 -8.2 0.2 -7.1 3.8z"/><path color="#40ffbf" d="M569.5 958.6l7.1 -3.9 -8.2 0.1 -7.1 3.7z"/><path color="#29ffd6" d="M562.4 962.7l7.1 -4.1 -8.2 -0.1 -7.1 3.9z"/><path color="#10ffef" d="M555.3 967.1l7.1 -4.4 -8.2 -0.3 -7.1 4.1z"/><path color="#00f4ff" d="M548.2 971.7l7.1 -4.6 -8.2 -0.6 -7 4.5z"/><path color="#00d8ff" d="M541.2 976.6l7 -4.9 -8.1 -0.7 -7.1 4.5z"/><path color="#00baff" d="M534.1 981.6l7.1 -5 -8.2 -1.1 -7.1 4.7z"/><path color="#009dff" d="M527 986.7l7.1 -5.1 -8.2 -1.4 -7.1 4.8z"/><path color="#007fff" d="M519.9 991.7l7.1 -5 -8.2 -1.7 -7.1 4.8z"/><path color="#0061ff" d="M512.8 996.8l7.1 -5.1 -8.2 -1.9 -7.1 4.7z"/><path color="#0045ff" d="M505.7 1001.7l7.1 -4.9 -8.2 -2.3 -7.1 4.6z"/><path color="#0029ff" d="M498.6 1006.4l7.1 -4.7 -8.2 -2.6 -7.1 4.4z"/><path color="#0010ff" d="M491.5 1010.9l7.1 -4.5 -8.2 -2.9 -7.1 4.3z"/><path color="#0000f7" d="M484.4 1015.1l7.1 -4.2 -8.2 -3.1 -7.1 3.9z"/><path color="#0000e2" d="M477.3 1018.9l7.1 -3.8 -8.2 -3.4 -7 3.6z"/><path color="#0000d0" d="M470.2 1022.3l7.1 -3.4 -8.1 -3.6 -7.1 3.2z"/><path color="#0000c2" d="M463.2 1025.2l7 -2.9 -8.1 -3.8 -7.1 2.8z"/><path color="#ff9300" d="M783.3 892.4l7.1 -1.2 -8.2 -1.7 -7.1 1.2z"/><path color="#ff9700" d="M776.2 893.8l7.1 -1.4 -8.2 -1.7 -7.1 1.5z"/><path color="#ff9c00" d="M769.1 895.3l7.1 -1.5 -8.2 -1.6 -7.1 1.6z"/><path color="#ffa000" d="M762 896.7l7.1 -1.4 -8.2 -1.5 -7.1 1.5z"/><path color="#ffa300" d="M754.9 898l7.1 -1.3 -8.2 -1.4 -7 1.4z"/><path color="#ffa400" d="M747.9 899.1l7 -1.1 -8.1 -1.3 -7.1 1.2z"/><path color="#ffa500" d="M740.8 899.9l7.1 -0.8 -8.2 -1.2 -7.1 1.1z"/><path color="#ffa400" d="M733.7 900.7l7.1 -0.8 -8.2 -0.9 -7.1 0.9z"/><path color="#ffa200" d="M726.6 901.3l7.1 -0.6 -8.2 -0.8 -7.1 0.9z"/><path color="#ffa100" d="M719.5 901.9l7.1 -0.6 -8.2 -0.5 -7.1 0.9z"/><path color="#ffa000" d="M712.4 902.7l7.1 -0.8 -8.2 -0.2 -7.1 1z"/><path color="#ffa100" d="M705.3 903.6l7.1 -0.9 -8.2 0 -7.1 1.1z"/><path color="#ffa300" d="M698.2 904.8l7.1 -1.2 -8.2 0.2 -7.1 1.4z"/><path color="#ffa800" d="M691.1 906.2l7.1 -1.4 -8.2 0.4 -7 1.6z"/><path color="#ffaf00" d="M684 908.1l7.1 -1.9 -8.1 0.6 -7.1 2z"/><path color="#ffb800" d="M677 910.3l7 -2.2 -8.1 0.7 -7.1 2.2z"/><path color="#ffc300" d="M669.9 912.7l7.1 -2.4 -8.2 0.7 -7.1 2.5z"/><path color="#ffd000" d="M662.8 915.4l7.1 -2.7 -8.2 0.8 -7.1 2.7z"/><path color="#ffdf00" d="M655.7 918.3l7.1 -2.9 -8.2 0.8 -7.1 2.9z"/><path color="#ffef00" d="M648.6 921.4l7.1 -3.1 -8.2 0.8 -7.1 3.1z"/><path color="#feff01" d="M641.5 924.6l7.1 -3.2 -8.2 0.8 -7.1 3.2z"/><path color="#ecff13" d="M634.4 928.1l7.1 -3.5 -8.2 0.8 -7.1 3.3z"/><path color="#d9ff26" d="M627.3 931.6l7.1 -3.5 -8.2 0.6 -7.1 3.5z"/><path color="#c5ff3a" d="M620.2 935.3l7.1 -3.7 -8.2 0.6 -7 3.6z"/><path color="#b1ff4e" d="M613.1 939l7.1 -3.7 -8.1 0.5 -7.1 3.7z"/><path color="#9cff63" d="M606.1 942.9l7 -3.9 -8.1 0.5 -7.1 3.7z"/><path color="#86ff79" d="M599 946.8l7.1 -3.9 -8.2 0.3 -7.1 3.8z"/><path color="#70ff8f" d="M591.9 950.7l7.1 -3.9 -8.2 0.2 -7.1 3.8z"/><path color="#5affa5" d="M584.8 954.7l7.1 -4 -8.2 0.1 -7.1 3.9z"/><path color="#43ffbc" d="M577.7 958.8l7.1 -4.1 -8.2 0 -7.1 3.9z"/><path color="#2bffd4" d="M570.6 963l7.1 -4.2 -8.2 -0.2 -7.1 4.1z"/><path color="#11ffee" d="M563.5 967.6l7.1 -4.6 -8.2 -0.3 -7.1 4.4z"/><path color="#00f4ff" d="M556.4 972.5l7.1 -4.9 -8.2 -0.5 -7.1 4.6z"/><path color="#00d5ff" d="M549.3 977.6l7.1 -5.1 -8.2 -0.8 -7 4.9z"/><path color="#00b6ff" d="M542.2 982.9l7.1 -5.3 -8.1 -1 -7.1 5z"/><path color="#0097ff" d="M535.2 988.2l7 -5.3 -8.1 -1.3 -7.1 5.1z"/><path color="#0077ff" d="M528.1 993.6l7.1 -5.4 -8.2 -1.5 -7.1 5z"/><path color="#0057ff" d="M521 998.9l7.1 -5.3 -8.2 -1.9 -7.1 5.1z"/><path color="#0039ff" d="M513.9 1004.1l7.1 -5.2 -8.2 -2.1 -7.1 4.9z"/><path color="#001bff" d="M506.8 1009.1l7.1 -5 -8.2 -2.4 -7.1 4.7z"/><path color="#0000ff" d="M499.7 1013.9l7.1 -4.8 -8.2 -2.7 -7.1 4.5z"/><path color="#0000e6" d="M492.6 1018.3l7.1 -4.4 -8.2 -3 -7.1 4.2z"/><path color="#0000cf" d="M485.5 1022.3l7.1 -4 -8.2 -3.2 -7.1 3.8z"/><path color="#0000bc" d="M478.4 1025.9l7.1 -3.6 -8.2 -3.4 -7.1 3.4z"/><path color="#0000ac" d="M471.3 1028.9l7.1 -3 -8.2 -3.6 -7 2.9z"/><path color="#ff9a00" d="M791.5 894.1l7.1 -1.3 -8.2 -1.6 -7.1 1.2z"/><path color="#ff9e00" d="M784.4 895.4l7.1 -1.3 -8.2 -1.7 -7.1 1.4z"/><path color="#ffa100" d="M777.3 896.8l7.1 -1.4 -8.2 -1.6 -7.1 1.5z"/><path color="#ffa500" d="M770.2 898.2l7.1 -1.4 -8.2 -1.5 -7.1 1.4z"/><path color="#ffa700" d="M763.1 899.3l7.1 -1.1 -8.2 -1.5 -7.1 1.3z"/><path color="#ffa800" d="M756 900.3l7.1 -1 -8.2 -1.3 -7 1.1z"/><path color="#ffa700" d="M749 901l7 -0.7 -8.1 -1.2 -7.1 0.8z"/><path color="#ffa500" d="M741.9 901.5l7.1 -0.5 -8.2 -1.1 -7.1 0.8z"/><path color="#ffa200" d="M734.8 902l7.1 -0.5 -8.2 -0.8 -7.1 0.6z"/><path color="#ff9f00" d="M727.7 902.3l7.1 -0.3 -8.2 -0.7 -7.1 0.6z"/><path color="#ff9c00" d="M720.6 902.8l7.1 -0.5 -8.2 -0.4 -7.1 0.8z"/><path color="#ff9b00" d="M713.5 903.5l7.1 -0.7 -8.2 -0.1 -7.1 0.9z"/><path color="#ff9c00" d="M706.4 904.5l7.1 -1 -8.2 0.1 -7.1 1.2z"/><path color="#ffa000" d="M699.3 905.8l7.1 -1.3 -8.2 0.3 -7.1 1.4z"/><path color="#ffa600" d="M692.2 907.6l7.1 -1.8 -8.2 0.4 -7.1 1.9z"/><path color="#ffaf00" d="M685.1 909.7l7.1 -2.1 -8.2 0.5 -7 2.2z"/><path color="#ffba00" d="M678.1 912.1l7 -2.4 -8.1 0.6 -7.1 2.4z"/><path color="#ffc700" d="M671 914.8l7.1 -2.7 -8.2 0.6 -7.1 2.7z"/><path color="#ffd500" d="M663.9 917.7l7.1 -2.9 -8.2 0.6 -7.1 2.9z"/><path color="#ffe500" d="M656.8 920.8l7.1 -3.1 -8.2 0.6 -7.1 3.1z"/><path color="#fff700" d="M649.7 924.1l7.1 -3.3 -8.2 0.6 -7.1 3.2z"/><path color="#f5ff0a" d="M642.6 927.5l7.1 -3.4 -8.2 0.5 -7.1 3.5z"/><path color="#e2ff1d" d="M635.5 931.1l7.1 -3.6 -8.2 0.6 -7.1 3.5z"/><path color="#cdff32" d="M628.4 934.9l7.1 -3.8 -8.2 0.5 -7.1 3.7z"/><path color="#b8ff47" d="M621.3 938.7l7.1 -3.8 -8.2 0.4 -7.1 3.7z"/><path color="#a2ff5d" d="M614.2 942.6l7.1 -3.9 -8.2 0.3 -7 3.9z"/><path color="#8cff73" d="M607.2 946.6l7 -4 -8.1 0.3 -7.1 3.9z"/><path color="#75ff8a" d="M600.1 950.7l7.1 -4.1 -8.2 0.2 -7.1 3.9z"/><path color="#5effa1" d="M593 954.8l7.1 -4.1 -8.2 0 -7.1 4z"/><path color="#47ffb8" d="M585.9 959l7.1 -4.2 -8.2 -0.1 -7.1 4.1z"/><path color="#2effd1" d="M578.8 963.4l7.1 -4.4 -8.2 -0.2 -7.1 4.2z"/><path color="#12ffed" d="M571.7 968.2l7.1 -4.8 -8.2 -0.4 -7.1 4.6z"/><path color="#00f3ff" d="M564.6 973.3l7.1 -5.1 -8.2 -0.6 -7.1 4.9z"/><path color="#00d4ff" d="M557.5 978.6l7.1 -5.3 -8.2 -0.8 -7.1 5.1z"/><path color="#00b3ff" d="M550.4 984.1l7.1 -5.5 -8.2 -1 -7.1 5.3z"/><path color="#0091ff" d="M543.3 989.7l7.1 -5.6 -8.2 -1.2 -7 5.3z"/><path color="#0070ff" d="M536.3 995.3l7 -5.6 -8.1 -1.5 -7.1 5.4z"/><path color="#004fff" d="M529.2 1000.9l7.1 -5.6 -8.2 -1.7 -7.1 5.3z"/><path color="#002eff" d="M522.1 1006.3l7.1 -5.4 -8.2 -2 -7.1 5.2z"/><path color="#000fff" d="M515 1011.6l7.1 -5.3 -8.2 -2.2 -7.1 5z"/><path color="#0000f1" d="M507.9 1016.5l7.1 -4.9 -8.2 -2.5 -7.1 4.8z"/><path color="#0000d6" d="M500.8 1021.2l7.1 -4.7 -8.2 -2.6 -7.1 4.4z"/><path color="#0000bf" d="M493.7 1025.4l7.1 -4.2 -8.2 -2.9 -7.1 4z"/><path color="#0000aa" d="M486.6 1029.1l7.1 -3.7 -8.2 -3.1 -7.1 3.6z"/><path color="#00009a" d="M479.5 1032.3l7.1 -3.2 -8.2 -3.2 -7.1 3z"/><path color="#ffa000" d="M799.7 895.7l7.1 -1.3 -8.2 -1.6 -7.1 1.3z"/><path color="#ffa300" d="M792.6 897l7.1 -1.3 -8.2 -1.6 -7.1 1.3z"/><path color="#ffa600" d="M785.5 898.3l7.1 -1.3 -8.2 -1.6 -7.1 1.4z"/><path color="#ffa900" d="M778.4 899.5l7.1 -1.2 -8.2 -1.5 -7.1 1.4z"/><path color="#ffab00" d="M771.3 900.5l7.1 -1 -8.2 -1.3 -7.1 1.1z"/><path color="#ffab00" d="M764.2 901.4l7.1 -0.9 -8.2 -1.2 -7.1 1z"/><path color="#ffa900" d="M757.1 902l7.1 -0.6 -8.2 -1.1 -7 0.7z"/><path color="#ffa600" d="M750 902.4l7.1 -0.4 -8.1 -1 -7.1 0.5z"/><path color="#ffa200" d="M743 902.6l7 -0.2 -8.1 -0.9 -7.1 0.5z"/><path color="#ff9d00" d="M735.9 902.8l7.1 -0.2 -8.2 -0.6 -7.1 0.3z"/><path color="#ff9900" d="M728.8 903.1l7.1 -0.3 -8.2 -0.5 -7.1 0.5z"/><path color="#ff9700" d="M721.7 903.6l7.1 -0.5 -8.2 -0.3 -7.1 0.7z"/><path color="#ff9700" d="M714.6 904.4l7.1 -0.8 -8.2 -0.1 -7.1 1z"/><path color="#ff9900" d="M707.5 905.6l7.1 -1.2 -8.2 0.1 -7.1 1.3z"/><path color="#ff9f00" d="M700.4 907.3l7.1 -1.7 -8.2 0.2 -7.1 1.8z"/><path color="#ffa800" d="M693.3 909.3l7.1 -2 -8.2 0.3 -7.1 2.1z"/><path color="#ffb200" d="M686.2 911.7l7.1 -2.4 -8.2 0.4 -7 2.4z"/><path color="#ffbf00" d="M679.1 914.4l7.1 -2.7 -8.1 0.4 -7.1 2.7z"/><path color="#ffce00" d="M672.1 917.3l7 -2.9 -8.1 0.4 -7.1 2.9z"/><path color="#ffde00" d="M665 920.4l7.1 -3.1 -8.2 0.4 -7.1 3.1z"/><path color="#ffef00" d="M657.9 923.7l7.1 -3.3 -8.2 0.4 -7.1 3.3z"/><path color="#fcff03" d="M650.8 927.2l7.1 -3.5 -8.2 0.4 -7.1 3.4z"/><path color="#e8ff17" d="M643.7 930.9l7.1 -3.7 -8.2 0.3 -7.1 3.6z"/><path color="#d4ff2b" d="M636.6 934.6l7.1 -3.7 -8.2 0.2 -7.1 3.8z"/><path color="#beff41" d="M629.5 938.5l7.1 -3.9 -8.2 0.3 -7.1 3.8z"/><path color="#a8ff57" d="M622.4 942.5l7.1 -4 -8.2 0.2 -7.1 3.9z"/><path color="#91ff6e" d="M615.3 946.6l7.1 -4.1 -8.2 0.1 -7 4z"/><path color="#7aff85" d="M608.2 950.8l7.1 -4.2 -8.1 0 -7.1 4.1z"/><path color="#62ff9d" d="M601.2 955l7 -4.2 -8.1 -0.1 -7.1 4.1z"/><path color="#4affb5" d="M594.1 959.3l7.1 -4.3 -8.2 -0.2 -7.1 4.2z"/><path color="#30ffcf" d="M587 963.8l7.1 -4.5 -8.2 -0.3 -7.1 4.4z"/><path color="#13ffec" d="M579.9 968.7l7.1 -4.9 -8.2 -0.4 -7.1 4.8z"/><path color="#00f3ff" d="M572.8 974l7.1 -5.3 -8.2 -0.5 -7.1 5.1z"/><path color="#00d2ff" d="M565.7 979.5l7.1 -5.5 -8.2 -0.7 -7.1 5.3z"/><path color="#00b0ff" d="M558.6 985.2l7.1 -5.7 -8.2 -0.9 -7.1 5.5z"/><path color="#008dff" d="M551.5 991l7.1 -5.8 -8.2 -1.1 -7.1 5.6z"/><path color="#006aff" d="M544.4 996.8l7.1 -5.8 -8.2 -1.3 -7 5.6z"/><path color="#0048ff" d="M537.3 1002.6l7.1 -5.8 -8.1 -1.5 -7.1 5.6z"/><path color="#0026ff" d="M530.3 1008.2l7 -5.6 -8.1 -1.7 -7.1 5.4z"/><path color="#0005ff" d="M523.2 1013.7l7.1 -5.5 -8.2 -1.9 -7.1 5.3z"/><path color="#0000e6" d="M516.1 1018.9l7.1 -5.2 -8.2 -2.1 -7.1 4.9z"/><path color="#0000ca" d="M509 1023.7l7.1 -4.8 -8.2 -2.4 -7.1 4.7z"/><path color="#0000b1" d="M501.9 1028l7.1 -4.3 -8.2 -2.5 -7.1 4.2z"/><path color="#00009c" d="M494.8 1031.9l7.1 -3.9 -8.2 -2.6 -7.1 3.7z"/><path color="#00008b" d="M487.7 1035.2l7.1 -3.3 -8.2 -2.8 -7.1 3.2z"/><path color="#ffa500" d="M807.9 897l7.1 -1.2 -8.2 -1.4 -7.1 1.3z"/><path color="#ffa700" d="M800.8 898.3l7.1 -1.3 -8.2 -1.3 -7.1 1.3z"/><path color="#ffaa00" d="M793.7 899.5l7.1 -1.2 -8.2 -1.3 -7.1 1.3z"/><path color="#ffac00" d="M786.6 900.6l7.1 -1.1 -8.2 -1.2 -7.1 1.2z"/><path color="#ffad00" d="M779.5 901.5l7.1 -0.9 -8.2 -1.1 -7.1 1z"/><path color="#ffac00" d="M772.4 902.3l7.1 -0.8 -8.2 -1 -7.1 0.9z"/><path color="#ffa900" d="M765.3 902.7l7.1 -0.4 -8.2 -0.9 -7.1 0.6z"/><path color="#ffa500" d="M758.2 903l7.1 -0.3 -8.2 -0.7 -7.1 0.4z"/><path color="#ffa000" d="M751.1 903.1l7.1 -0.1 -8.2 -0.6 -7 0.2z"/><path color="#ff9b00" d="M744.1 903.2l7 -0.1 -8.1 -0.5 -7.1 0.2z"/><path color="#ff9600" d="M737 903.4l7.1 -0.2 -8.2 -0.4 -7.1 0.3z"/><path color="#ff9300" d="M729.9 903.8l7.1 -0.4 -8.2 -0.3 -7.1 0.5z"/><path color="#ff9300" d="M722.8 904.5l7.1 -0.7 -8.2 -0.2 -7.1 0.8z"/><path color="#ff9500" d="M715.7 905.7l7.1 -1.2 -8.2 -0.1 -7.1 1.2z"/><path color="#ff9a00" d="M708.6 907.3l7.1 -1.6 -8.2 -0.1 -7.1 1.7z"/><path color="#ffa200" d="M701.5 909.3l7.1 -2 -8.2 0 -7.1 2z"/><path color="#ffad00" d="M694.4 911.7l7.1 -2.4 -8.2 0 -7.1 2.4z"/><path color="#ffba00" d="M687.3 914.3l7.1 -2.6 -8.2 0 -7.1 2.7z"/><path color="#ffc800" d="M680.2 917.2l7.1 -2.9 -8.2 0.1 -7 2.9z"/><path color="#ffd800" d="M673.2 920.3l7 -3.1 -8.1 0.1 -7.1 3.1z"/><path color="#ffea00" d="M666.1 923.6l7.1 -3.3 -8.2 0.1 -7.1 3.3z"/><path color="#fffc00" d="M659 927.2l7.1 -3.6 -8.2 0.1 -7.1 3.5z"/><path color="#eeff11" d="M651.9 930.8l7.1 -3.6 -8.2 0 -7.1 3.7z"/><path color="#d9ff26" d="M644.8 934.6l7.1 -3.8 -8.2 0.1 -7.1 3.7z"/><path color="#c3ff3c" d="M637.7 938.5l7.1 -3.9 -8.2 0 -7.1 3.9z"/><path color="#adff52" d="M630.6 942.6l7.1 -4.1 -8.2 0 -7.1 4z"/><path color="#95ff6a" d="M623.5 946.7l7.1 -4.1 -8.2 -0.1 -7.1 4.1z"/><path color="#7eff81" d="M616.4 951l7.1 -4.3 -8.2 -0.1 -7.1 4.2z"/><path color="#65ff9a" d="M609.3 955.2l7.1 -4.2 -8.2 -0.2 -7 4.2z"/><path color="#4dffb2" d="M602.3 959.6l7 -4.4 -8.1 -0.2 -7.1 4.3z"/><path color="#32ffcd" d="M595.2 964.2l7.1 -4.6 -8.2 -0.3 -7.1 4.5z"/><path color="#15ffea" d="M588.1 969.2l7.1 -5 -8.2 -0.4 -7.1 4.9z"/><path color="#00f4ff" d="M581 974.6l7.1 -5.4 -8.2 -0.5 -7.1 5.3z"/><path color="#00d2ff" d="M573.9 980.3l7.1 -5.7 -8.2 -0.6 -7.1 5.5z"/><path color="#00afff" d="M566.8 986.1l7.1 -5.8 -8.2 -0.8 -7.1 5.7z"/><path color="#008bff" d="M559.7 992.1l7.1 -6 -8.2 -0.9 -7.1 5.8z"/><path color="#0066ff" d="M552.6 998.1l7.1 -6 -8.2 -1.1 -7.1 5.8z"/><path color="#0043ff" d="M545.5 1004l7.1 -5.9 -8.2 -1.3 -7.1 5.8z"/><path color="#0020ff" d="M538.4 1009.8l7.1 -5.8 -8.2 -1.4 -7 5.6z"/><path color="#0000fd" d="M531.4 1015.4l7 -5.6 -8.1 -1.6 -7.1 5.5z"/><path color="#0000de" d="M524.3 1020.7l7.1 -5.3 -8.2 -1.7 -7.1 5.2z"/><path color="#0000c1" d="M517.2 1025.7l7.1 -5 -8.2 -1.8 -7.1 4.8z"/><path color="#0000a7" d="M510.1 1030.2l7.1 -4.5 -8.2 -2 -7.1 4.3z"/><path color="#000091" d="M503 1034.1l7.1 -3.9 -8.2 -2.2 -7.1 3.9z"/><path color="#000080" d="M495.9 1037.5l7.1 -3.4 -8.2 -2.2 -7.1 3.3z"/></g></g></g><g id="pd"><path class="gd" d="M87.7 1309.1L87.7 1214.5"/><path class="gd" d="M851.2 1300.4L851.2 1205.8"/><path class="gd" d="M493 1375.7L87.7 1309.1"/><path class="gd" d="M493 1375.7L851.2 1300.4"/><path class="gd" d="M147.4 1296.6L147.4 1202"/><path class="gd" d="M783.7 1289.3L783.7 1194.7"/><path class="gd" d="M552.7 1363.2L147.4 1296.6"/><path class="gd" d="M425.4 1364.6L783.7 1289.3"/><path class="gd" d="M207.1 1284L207.1 1189.4"/><path class="gd" d="M716.1 1278.2L716.1 1183.6"/><path class="gd" d="M612.4 1350.6L207.1 1284"/><path class="gd" d="M357.9 1353.5L716.1 1278.2"/><path class="gd" d="M266.8 1271.5L266.8 1176.9"/><path class="gd" d="M648.6 1267.1L648.6 1172.5"/><path class="gd" d="M672.1 1338L266.8 1271.5"/><path class="gd" d="M290.4 1342.4L648.6 1267.1"/><path class="gd" d="M326.5 1258.9L326.5 1164.3"/><path class="gd" d="M581 1256L581 1161.4"/><path class="gd" d="M731.8 1325.5L326.5 1258.9"/><path class="gd" d="M222.8 1331.3L581 1256"/><path class="gd" d="M386.2 1246.4L386.2 1151.8"/><path class="gd" d="M513.5 1244.9L513.5 1150.3"/><path class="gd" d="M791.5 1313L386.2 1246.4"/><path class="gd" d="M155.2 1320.2L513.5 1244.9"/><path class="gd" d="M445.9 1233.8L445.9 1139.2"/><path class="gd" d="M445.9 1233.8L445.9 1139.2"/><path class="gd" d="M851.2 1300.4L445.9 1233.8"/><path class="gd" d="M87.7 1309.1L445.9 1233.8"/><path class="gd" d="M87.7 1309.1L445.9 1233.8"/><path class="gd" d="M445.9 1233.8L851.2 1300.4"/><path class="gd" d="M87.7 1261.8L445.9 1186.5"/><path class="gd" d="M445.9 1186.5L851.2 1253.1"/><path class="gd" d="M87.7 1214.5L445.9 1139.2"/><path class="gd" d="M445.9 1139.2L851.2 1205.8"/><path class="ax" d="M87.7 1309.1L87.7 1214.5"/><path class="ax" d="M493 1375.7L87.7 1309.1"/><path class="ax" d="M493 1375.7L851.2 1300.4"/><path class="ax" d="M87.7 1309.1h-9"/><text transform="translate(73.5 1315.1) scale(0.76 1)" text-anchor="end" font-size="14" fill="#484848">10</text><path class="ax" d="M87.7 1261.8h-9"/><text transform="translate(73.5 1267.8) scale(0.76 1)" text-anchor="end" font-size="14" fill="#484848">20</text><path class="ax" d="M87.7 1214.5h-9"/><text transform="translate(73.5 1220.5) scale(0.76 1)" text-anchor="end" font-size="14" fill="#484848">30</text><path class="ax" d="M493 1375.7l7 -1.5"/><text transform="translate(480 1393.7) scale(0.76 1)" text-anchor="end" font-size="14" fill="#484848">1</text><path class="ax" d="M493 1375.7l-7 -1.2"/><text transform="translate(505.5 1393.4) scale(0.76 1)" text-anchor="start" font-size="14" fill="#484848">1</text><path class="ax" d="M425.4 1364.6l7 -1.5"/><text transform="translate(412.4 1382.6) scale(0.76 1)" text-anchor="end" font-size="14" fill="#484848">1.5</text><path class="ax" d="M552.7 1363.2l-7 -1.2"/><text transform="translate(565.2 1380.9) scale(0.76 1)" text-anchor="start" font-size="14" fill="#484848">1.5</text><path class="ax" d="M357.9 1353.5l7 -1.5"/><text transform="translate(344.9 1371.5) scale(0.76 1)" text-anchor="end" font-size="14" fill="#484848">2</text><path class="ax" d="M612.4 1350.6l-7 -1.2"/><text transform="translate(624.9 1368.3) scale(0.76 1)" text-anchor="start" font-size="14" fill="#484848">2</text><path class="ax" d="M290.4 1342.4l7 -1.5"/><text transform="translate(277.4 1360.4) scale(0.76 1)" text-anchor="end" font-size="14" fill="#484848">2.5</text><path class="ax" d="M672.1 1338l-7 -1.2"/><text transform="translate(684.6 1355.8) scale(0.76 1)" text-anchor="start" font-size="14" fill="#484848">2.5</text><path class="ax" d="M222.8 1331.3l7 -1.5"/><text transform="translate(209.8 1349.3) scale(0.76 1)" text-anchor="end" font-size="14" fill="#484848">3</text><path class="ax" d="M731.8 1325.5l-7 -1.2"/><text transform="translate(744.3 1343.2) scale(0.76 1)" text-anchor="start" font-size="14" fill="#484848">3</text><path class="ax" d="M155.2 1320.2l7 -1.5"/><text transform="translate(142.2 1338.2) scale(0.76 1)" text-anchor="end" font-size="14" fill="#484848">3.5</text><path class="ax" d="M791.5 1313l-7 -1.2"/><text transform="translate(804 1330.7) scale(0.76 1)" text-anchor="start" font-size="14" fill="#484848">3.5</text><path class="ax" d="M87.7 1309.1l7 -1.5"/><text transform="translate(74.7 1327.1) scale(0.76 1)" text-anchor="end" font-size="14" fill="#484848">4</text><path class="ax" d="M851.2 1300.4l-7 -1.2"/><text transform="translate(863.7 1318.1) scale(0.76 1)" text-anchor="start" font-size="14" fill="#484848">4</text><g filter="url(#bl)"><path fill="none" stroke="#8080cf" stroke-width="1.0" d="M457.3 1369.8L511.6 1371.8"/><path fill="none" stroke="#8080cf" stroke-width="1.0" d="M213.8 1329.8L248.9 1325.8L244.7 1334.9"/><path fill="none" stroke="#8095e6" stroke-width="1.0" d="M402.4 1360.8L540.2 1365.8"/><path fill="none" stroke="#8095e6" stroke-width="1.0" d="M187.9 1325.6L323.5 1310.1L307.2 1345.2"/><path fill="none" stroke="#80c1e6" stroke-width="1.0" d="M162 1321.3L201.2 1285.2"/><path fill="none" stroke="#80c1e6" stroke-width="1.0" d="M219.9 1281.3L356.6 1303.2L407.6 1316.9L380.8 1348.7L568.8 1359.8"/><path fill="none" stroke="#87e6de" stroke-width="1.0" d="M136.2 1317.1L161.7 1293.5"/><path fill="none" stroke="#87e6de" stroke-width="1.0" d="M305.2 1263.4L375.9 1299.1L488 1326.1L514.6 1334.5L597.4 1353.8"/><path fill="none" stroke="#b4e6b1" stroke-width="1.0" d="M110.3 1312.8L122.2 1301.8"/><path fill="none" stroke="#b4e6b1" stroke-width="1.0" d="M346.9 1254.6L350.6 1262.9L395.2 1295.1L541.7 1314.9L634.4 1346"/><path fill="none" stroke="#e0e685" stroke-width="1.0" d="M374 1248.9L382.8 1268.2L414.4 1291L595.4 1303.6L680.8 1336.2"/><path fill="none" stroke="#e6bf80" stroke-width="1.0" d="M851.2 1300.4L719.2 1323.4L727.2 1326.5"/><path fill="none" stroke="#e6bf80" stroke-width="1.0" d="M401.1 1243.2L415 1273.4L433.7 1287L542.4 1294.4L673 1287.3L851.2 1300.4"/><path fill="none" stroke="#e69380" stroke-width="1.0" d="M428.3 1237.5L447.1 1278.7L452.9 1282.9L486.7 1285.2L686.4 1273.3"/><path fill="none" stroke="#cd8080" stroke-width="1.0" d="M495.7 1242L518.7 1269.1L620.5 1262.5"/><g fill="currentColor" stroke="currentColor" stroke-width="1.0" stroke-linejoin="round"><path color="#fe0000" d="M461.6 1201.2l119.4 -36 -135.1 -13.2z"/><path color="#fe0000" d="M461.6 1201.2l-15.7 -49.2 -119.4 66.7z"/><path color="#0052ff" d="M342.2 1284.9l119.4 -83.7 -135.1 17.5z"/><path color="#0052ff" d="M342.2 1284.9l-15.7 -66.2 -119.4 38.3z"/><path color="#0000a1" d="M222.8 1325.2l119.4 -40.3 -135.1 -27.9z"/><path color="#0000a1" d="M222.8 1325.2l-15.7 -68.2 -119.4 -3.5z"/><path color="#f3ff0c" d="M596.7 1246.3l119.4 -39.5 -135.1 -41.6z"/><path color="#f3ff0c" d="M596.7 1246.3l-15.7 -81.1 -119.4 36z"/><path color="#00fdff" d="M477.3 1292.5l119.4 -46.2 -135.1 -45.1z"/><path color="#00fdff" d="M477.3 1292.5l-15.7 -91.3 -119.4 83.7z"/><path color="#0090ff" d="M357.9 1326.9l119.4 -34.4 -135.1 -7.6z"/><path color="#0090ff" d="M357.9 1326.9l-15.7 -42 -119.4 40.3z"/><path color="#ff9400" d="M731.8 1258.3l119.4 -24.1 -135.1 -27.4z"/><path color="#ff9400" d="M731.8 1258.3l-15.7 -51.5 -119.4 39.5z"/><path color="#4effb1" d="M612.4 1307.8l119.4 -49.5 -135.1 -12z"/><path color="#4effb1" d="M612.4 1307.8l-15.7 -61.5 -119.4 46.2z"/><path color="#000080" d="M493 1372.4l119.4 -64.6 -135.1 -15.3z"/><path color="#000080" d="M493 1372.4l-15.7 -79.9 -119.4 34.4z"/></g></g></g>
<g class="bi">
<text x="58" y="79.8" font-size="33">t<tspan font-size="25" dy="5">x</tspan></text>
<text x="107" y="321.6" font-size="27">a</text>
<text x="98.3" y="625.5" font-size="27">b</text>
<text x="57" y="818" font-size="33">t<tspan font-size="25" dy="5">z</tspan></text>
<text x="106.8" y="1082" font-size="29.5">c</text>
<text x="107.7" y="1377.2" font-size="27">d</text>
</g>
<path d="M434.1 360.1L451.3 368.5H442.9V392H425.9V368.5H417.3z" fill="#fff" stroke="#000" stroke-width="2" stroke-linejoin="round"/>
<path d="M333.7 1081.2L350.9 1088.8H342.6V1112.8H325.1V1088.8H316.5z" fill="#fff" stroke="#000" stroke-width="2" stroke-linejoin="round"/>
</svg>
</body></html>
